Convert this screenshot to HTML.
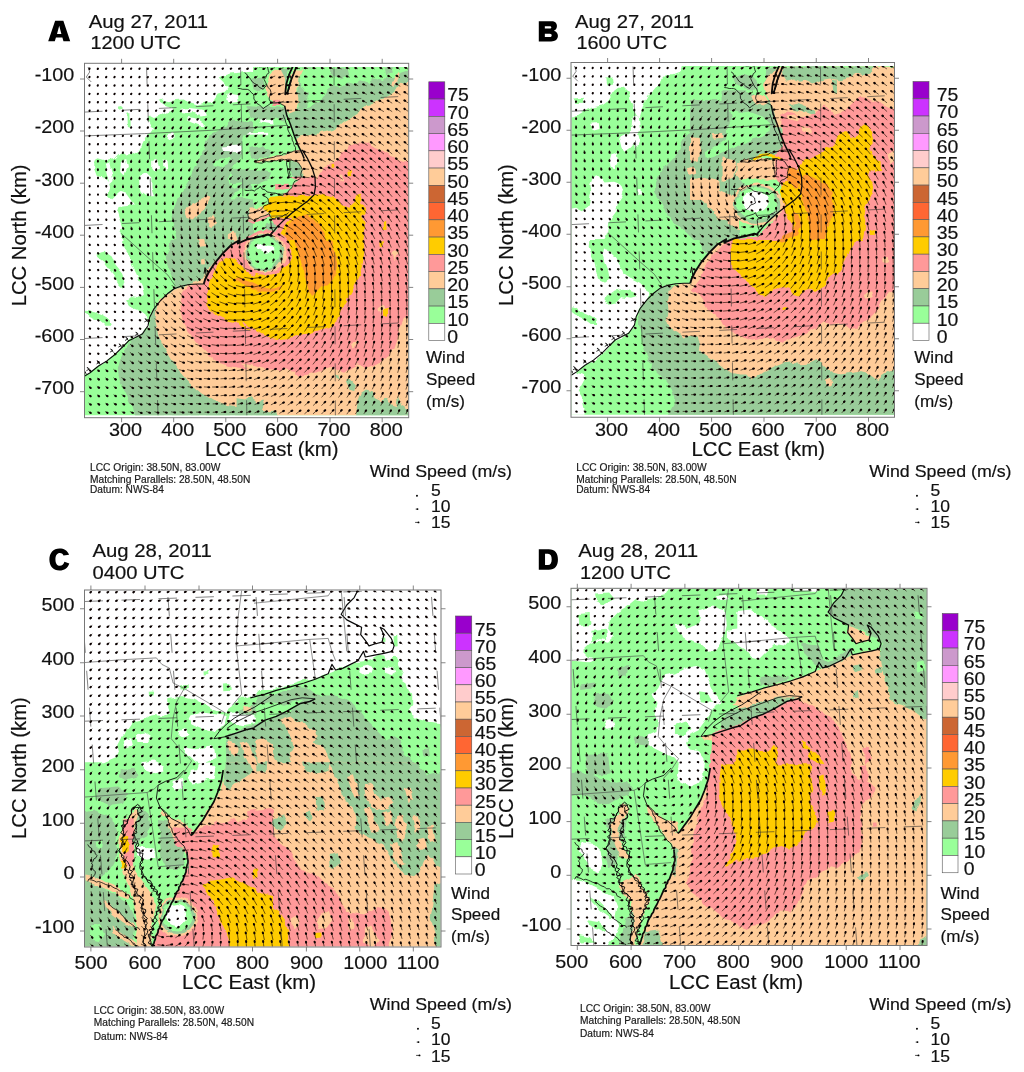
<!DOCTYPE html>
<html><head><meta charset="utf-8"><title>Wind fields</title>
<style>html,body{margin:0;padding:0;background:#fff}svg{display:block;filter:blur(0.35px)}text{font-family:"Liberation Sans",sans-serif;stroke:#111;stroke-width:0.18px}</style></head><body>
<svg width="1024" height="1072" viewBox="0 0 1024 1072">
<rect width="1024" height="1072" fill="#fff"/>
<defs><filter id="rgh" x="-5%" y="-5%" width="110%" height="110%"><feTurbulence type="fractalNoise" baseFrequency="0.11" numOctaves="2" seed="7" result="n"/><feDisplacementMap in="SourceGraphic" in2="n" scale="5" xChannelSelector="R" yChannelSelector="G"/></filter></defs>
<clipPath id="clipA"><rect x="85.00" y="66.90" width="323.20" height="348.40"/></clipPath>
<g clip-path="url(#clipA)">
<rect x="77.00" y="58.90" width="339.20" height="364.40" fill="#99ff99"/>
<g filter="url(#rgh)">
<path fill="#ffffff" d="M80.0,65.0L253.0,65.0L253.0,72.1L250.0,71.8L241.3,72.6L231.2,73.4L222.8,76.0L217.7,78.5L222.8,83.5L227.8,88.6L224.5,91.9L217.7,93.6L214.4,98.6L212.7,102.0L204.3,102.8L197.6,104.5L189.2,102.0L182.5,99.5L175.8,100.0L169.0,101.2L162.3,99.5L159.0,101.2L164.0,104.5L170.7,107.0L174.1,109.6L167.4,112.1L160.6,115.4L153.9,118.0L148.9,115.4L147.2,118.8L150.6,125.5L153.9,128.9L150.6,133.9L145.5,137.3L142.2,144.0L138.8,150.7L133.8,154.1L127.0,155.8L122.0,151.6L118.6,154.1L113.6,159.1L106.9,160.8L98.5,158.3L94.3,160.8L94.3,169.2L96.8,175.9L103.5,177.6L108.6,180.9L110.2,187.7L107.7,196.1L111.1,199.4L116.1,194.4L120.3,191.0L125.4,192.7L130.4,199.4L133.8,204.5L127.0,206.1L118.6,207.0L117.0,211.2L119.5,219.6L122.0,226.3L120.3,233.0L123.7,240.1L122.0,240.0L125.4,250.1L130.4,256.8L132.1,265.2L137.1,275.3L142.2,285.4L143.8,295.4L140.5,298.8L132.1,297.1L125.4,302.2L130.4,307.2L138.8,310.6L145.5,315.6L147.2,320.6L148.0,325.7L142.2,334.1L135.4,337.4L128.7,340.8L122.0,347.5L115.3,354.2L106.9,360.9L98.5,366.0L90.1,372.7L84.7,376.1L80.0,376.9Z"/>
<path fill="#99ff99" d="M96.8,253.4L105.2,251.8L111.9,256.8L115.3,265.2L122.0,273.6L125.4,282.0L123.7,288.7L118.6,283.7L113.6,275.3L108.6,268.6L103.5,261.8L96.8,256.8ZM85.9,310.6L93.4,312.2L101.8,315.6L110.2,320.6L111.9,325.7L105.2,325.7L98.5,320.6L90.1,317.3L85.9,313.9ZM118.3,106.7L122.3,105.9L124.0,109.6L120.3,110.7ZM127.5,113.8L130.4,112.9L130.7,127.2L127.9,128.9Z"/>
<path fill="#ffffff" d="M180.8,108.7L189.2,107.9L197.6,108.7L204.3,110.4L206.0,114.6L200.9,115.4L194.2,112.9L187.5,113.8L180.8,112.9ZM187.5,117.1L194.2,118.0L200.9,120.5L206.0,123.8L204.3,127.2L197.6,124.7L190.9,122.2L187.5,120.5ZM167.4,133.9L174.1,133.1L175.8,137.3L170.7,139.8L166.5,138.1ZM152.2,160.8L157.3,159.9L159.0,167.5L154.8,170.9L152.2,167.5ZM163.2,160.8L167.4,160.8L168.2,168.3L164.8,170.0L163.2,165.8ZM138.8,175.9L147.2,173.4L151.4,177.6L151.4,189.3L153.9,196.1L147.2,196.9L142.2,192.7L139.6,184.3ZM122.0,160.8L126.2,159.1L127.9,167.5L124.5,174.2L121.2,170.9ZM227.8,93.6L237.9,95.3L238.7,102.0L231.2,102.8L226.1,99.5ZM105.2,164.1L109.4,162.5L111.1,170.9L113.6,180.9L110.2,184.3L106.9,175.9Z"/>
<path fill="#99cc99" d="M253.0,240.1L250.0,240.0L240.0,397.9L245.0,399.6L250.1,396.2L256.8,401.3L263.5,399.6L265.2,404.6L261.8,409.7L270.2,411.3L277.0,410.5L278.6,416.4L250.0,416.4L133.8,416.4L132.1,408.0L128.7,399.6L123.7,389.5L119.5,379.4L117.8,369.3L120.3,359.3L123.7,350.9L128.7,344.1L135.4,339.1L142.2,334.1L148.0,327.4L149.7,317.3L153.9,308.9L160.6,300.5L167.4,293.8L174.9,287.0L174.1,278.6L170.7,271.9L167.4,265.2L165.7,256.8L169.0,248.4L170.7,240.0L177.4,240.1L175.8,229.7L172.4,222.9L171.6,216.2L174.1,207.8L177.4,199.4L182.5,192.7L187.5,184.3L190.9,175.9L194.2,167.5L197.6,160.8L202.6,154.1L205.1,147.4L206.0,140.6L209.3,135.6L216.1,132.2L222.8,128.9L229.5,124.7L234.5,121.3L241.3,122.2L250.0,121.3L253.0,121.3Z"/>
<path fill="#99ff99" d="M253.0,175.9L246.3,177.6L241.3,184.3L234.5,187.7L229.5,184.3L227.8,177.6L231.2,169.2L237.9,160.8L242.1,154.1L241.3,144.0L242.9,135.6L253.0,133.9ZM253.0,199.4L242.9,197.7L236.2,201.1L231.2,197.7L234.5,192.7L241.3,189.3L253.0,187.7ZM214.4,160.8L222.8,158.3L231.2,159.1L227.8,164.1L219.4,167.5L214.4,165.8Z"/>
<path fill="#ffffff" d="M222.8,146.5L231.2,145.7L241.3,144.8L242.1,149.9L232.9,151.6L224.5,150.7Z"/>
<path fill="#99cc99" d="M290.4,110.4L295.4,107.0L303.8,108.7L312.2,107.0L319.0,102.0L324.0,96.1L327.4,90.2L334.1,85.2L340.8,86.9L347.5,83.5L354.2,85.2L360.9,80.2L367.7,82.7L374.4,78.5L382.8,81.0L387.8,76.0L394.5,78.5L399.6,73.4L409.7,70.1L409.7,81.8L405.5,83.5L401.3,82.7L397.9,86.9L395.4,91.1L389.5,96.1L384.5,98.6L379.4,99.5L374.4,102.8L369.3,105.4L364.3,106.2L360.9,109.6L357.6,113.8L352.5,117.1L347.5,119.6L342.5,123.0L337.4,127.2L332.4,130.6L324.0,132.2L315.6,133.9L307.2,135.6L298.8,136.4L296.3,138.1L292.1,127.2L288.7,117.1ZM302.2,68.4L312.2,68.4L313.9,76.8L307.2,81.8L302.2,76.8ZM330.7,69.2L347.5,68.4L349.2,75.1L340.8,78.5L332.4,76.0ZM384.5,68.4L391.2,67.6L392.9,72.6L386.1,74.3ZM298.8,76.8L307.2,78.5L308.9,93.6L307.2,107.0L298.8,108.7L297.1,93.6ZM247.6,105.9L259.3,106.9L271.0,105.9L284.7,106.9L288.6,114.7L284.7,120.5L273.9,118.6L264.2,120.5L254.4,118.6L247.6,114.7ZM230.0,120.5L244.6,121.5L245.6,128.4L237.8,130.3L230.0,129.3ZM230.0,134.2L239.8,135.2L238.8,140.1L230.0,139.6ZM280.8,67.8L288.6,67.8L287.6,79.5L282.7,92.2L278.8,84.4L279.8,74.6ZM249.5,147.9L262.2,145.9L271.0,150.8L267.1,157.7L255.4,159.6L249.5,155.7ZM251.5,79.5L262.2,77.6L265.2,85.4L259.3,92.2L253.4,89.3ZM230.0,169.5L244.6,170.5L259.3,169.5L271.0,172.5L269.1,179.3L259.3,183.2L244.6,182.2L230.0,183.2ZM290.5,159.8L298.4,162.7L302.3,169.5L301.3,177.3L297.4,180.3L292.5,177.3L290.5,169.5ZM230.0,198.8L241.7,197.9L249.5,201.8L248.6,208.6L239.8,210.5L230.0,209.6ZM230.0,218.4L239.8,217.4L247.6,220.3L246.6,228.1L241.7,235.9L233.9,237.9L230.0,236.9ZM267.1,224.2L275.9,222.3L276.9,227.1L270.0,235.9L264.2,233.0Z"/>
<path fill="#ffffff" d="M259.3,119.6L273.0,120.1L273.5,124.5L267.1,123.5L259.3,122.5ZM247.6,132.3L269.1,131.8L269.1,134.2L247.6,134.7ZM230.0,145.0L239.8,144.5L240.7,152.8L230.0,153.3Z"/>
<path fill="#99ff99" d="M298.4,69.8L314.0,69.8L315.0,79.5L313.0,92.2L304.2,92.2L300.3,84.4Z"/>
<path fill="#ffcc99" d="M411.0,82.0L411.0,420.0L265.1,420.0L257.8,410.0L244.5,407.0L227.9,405.0L214.5,401.0L201.2,393.3L189.6,383.3L179.6,371.7L171.2,358.4L162.9,345.1L157.9,333.4L155.3,320.1L156.6,308.4L159.6,300.1L166.2,295.1L174.6,290.1L184.6,285.8L194.6,282.4L203.9,278.5L207.9,270.1L214.5,261.8L221.2,255.1L227.9,248.5L234.5,244.5L244.5,240.2L254.5,237.8L264.5,235.8L271.8,236.5L271.9,236.4L278.6,229.7L283.7,222.9L290.4,214.5L298.8,206.1L307.2,199.4L313.9,194.4L314.8,187.7L314.8,177.6L312.2,169.2L307.2,162.5L303.0,154.1L298.8,145.7L296.3,138.1L298.8,136.4L307.2,135.6L315.6,133.9L324.0,132.2L332.4,130.6L337.4,127.2L342.5,123.0L347.5,119.6L352.5,117.1L357.6,113.8L360.9,109.6L364.3,106.2L369.3,105.4L374.4,102.8L379.4,99.5L384.5,98.6L389.5,96.1L395.4,91.1L397.9,86.9L401.3,82.7L405.5,83.5L409.7,81.8ZM273.0,69.8L280.8,69.8L284.7,77.6L285.7,93.2L287.6,92.2L290.5,81.5L293.5,69.8L302.3,70.7L298.4,79.5L296.4,89.3L298.4,99.1L296.4,110.8L288.6,113.7L284.7,106.9L281.8,103.0L273.9,102.0L269.1,98.1L266.1,89.3L269.1,79.5L271.0,73.7Z"/>
<path fill="#ff9999" d="M273.0,100.0L279.8,99.8L280.0,104.9L273.2,105.1Z"/>
<path fill="#ffcc99" d="M255.4,161.7L262.2,159.8L271.0,157.8L278.8,155.9L286.6,153.9L296.4,151.0L302.3,150.0L307.1,157.8L312.0,167.6L308.1,169.5L302.3,169.5L298.4,162.7L290.5,159.3L284.7,159.8L273.9,160.7L264.2,162.2L255.4,162.9ZM301.3,169.5L312.0,167.6L315.0,177.3L308.1,179.3L301.3,178.3ZM249.5,208.6L262.2,207.6L269.1,212.5L262.2,217.4L253.4,220.3L248.6,218.4Z"/>
<path fill="#ff9999" d="M247.6,218.4L253.4,220.5L262.2,217.4L269.1,213.5L269.1,216.4L262.2,219.8L253.4,222.8L247.6,220.3Z"/>
<path fill="#ffcc99" d="M391.2,85.2L394.5,76.8L397.9,71.8L399.6,73.4L397.1,80.2L393.7,86.9ZM187.5,206.1L194.2,202.8L200.9,199.4L207.7,194.4L211.0,196.1L207.7,202.8L204.3,209.5L197.6,214.5L192.5,219.6L187.5,217.9L185.0,211.2ZM207.7,217.9L214.4,214.5L216.1,221.3L212.7,228.0L208.5,226.3ZM227.8,234.7L234.5,231.3L237.9,240.1L227.8,240.1ZM197.6,240.0L204.3,240.0L205.1,245.9L200.1,246.7ZM200.9,258.5L204.3,258.1L205.1,263.2L201.3,263.5Z"/>
<path fill="#99cc99" d="M355.9,416.4L357.6,401.3L360.9,392.9L366.0,389.5L372.7,391.2L374.4,397.9L381.1,401.3L386.1,397.9L391.2,404.6L396.2,406.3L397.9,396.2L401.3,404.6L409.7,409.7L409.7,416.4ZM236.6,397.9L245.0,399.6L250.1,396.2L256.8,401.3L263.5,399.6L265.2,404.6L261.8,409.7L270.2,411.3L277.0,410.5L278.6,416.4L236.6,416.4ZM345.8,381.1L350.9,379.4L355.9,384.5L354.2,391.2L349.2,389.5L347.5,384.5ZM335.8,373.5L339.1,374.4L340.8,379.4L337.4,377.7ZM339.1,159.1L344.1,158.3L345.0,163.3L340.8,165.0ZM320.6,175.9L327.4,174.2L329.0,180.9L324.0,184.3Z"/>
<path fill="#ff9999" d="M315.6,180.9L317.3,177.6L320.6,172.5L324.0,167.5L329.0,164.1L334.1,162.5L337.4,159.1L340.8,155.8L344.1,150.7L350.9,145.7L357.6,142.3L367.7,144.0L374.4,147.4L382.8,150.7L391.2,155.8L397.9,159.1L402.9,160.8L409.7,162.5L409.7,315.6L403.8,319.0L399.6,327.4L397.9,337.4L394.5,347.5L387.8,355.9L379.4,362.6L372.7,366.0L364.3,367.7L357.6,364.3L350.9,367.7L344.1,372.7L339.1,371.0L332.4,367.7L324.0,369.3L315.6,372.7L307.2,374.4L298.8,376.1L293.8,371.0L287.0,369.3L278.6,370.2L270.2,369.3L261.8,368.5L253.4,366.0L246.7,364.3L240.0,363.5L250.0,368.5L239.6,367.7L229.5,366.0L219.4,362.6L209.3,355.9L200.9,347.5L194.2,339.1L187.5,330.7L182.5,320.6L180.8,310.6L180.8,300.5L183.3,292.1L187.5,286.2L197.6,284.0L203.5,284.5L207.7,273.6L214.4,263.5L222.8,253.4L231.2,245.0L239.6,240.0L271.9,236.4L278.6,229.7L283.7,222.9L290.4,214.5L298.8,206.1L307.2,199.4L313.9,194.4L314.8,187.7ZM288.6,177.3L302.3,176.4L315.0,177.3L315.4,187.1L314.0,195.9L288.6,196.4L282.7,195.4L287.6,193.0L290.5,189.1L293.5,183.2L297.4,180.3ZM274.9,184.2L288.6,183.7L288.6,189.1L275.9,189.6ZM272.0,218.4L284.7,217.4L292.5,212.5L300.3,206.6L308.1,200.8L314.0,194.9L316.9,195.9L311.1,202.7L303.2,208.6L295.4,214.5L287.6,221.3L279.8,229.1L273.0,237.9L270.0,235.9L276.9,227.1Z"/>
<path fill="#ffcc99" d="M391.2,253.4L396.2,250.1L398.7,253.4L393.7,260.2ZM377.7,307.2L382.8,303.8L384.5,308.9L380.3,313.9ZM350.9,344.1L357.6,340.8L358.4,344.1L352.5,347.5ZM340.8,175.9L343.3,174.2L344.1,180.9L341.6,182.6Z"/>
<path fill="#ffcc00" d="M269.1,196.9L278.6,196.1L288.7,195.2L298.8,194.4L307.2,195.2L313.9,194.4L320.6,194.4L327.4,196.1L334.1,197.7L340.8,201.1L344.1,206.1L349.2,207.8L354.2,204.5L355.9,194.4L360.9,192.7L362.6,199.4L360.9,204.5L366.0,207.8L364.3,212.9L360.9,216.2L364.3,221.3L365.1,228.0L364.3,234.7L363.5,240.1L363.5,240.0L364.3,250.1L363.5,260.2L360.9,270.2L357.6,278.6L354.2,287.0L349.2,295.4L344.1,303.8L340.8,310.6L337.4,319.0L334.1,324.0L327.4,327.4L320.6,330.7L312.2,333.2L303.8,334.1L295.4,336.6L287.0,338.3L278.6,339.1L270.2,337.4L261.8,334.1L253.4,329.0L246.7,324.0L240.0,320.6L250.0,330.7L241.3,327.4L236.2,322.3L227.8,320.6L217.7,315.6L209.3,310.6L206.0,303.8L207.7,293.8L209.3,282.0L214.4,270.2L219.4,261.8L226.1,256.8L231.2,258.5L239.6,263.5L248.0,271.9L253.0,276.1L280.8,231.1L288.6,222.3L293.5,217.4L284.7,218.4L276.9,217.4L271.0,218.4L269.1,213.5L263.2,208.6L264.2,205.7L269.1,203.7L268.1,198.8ZM347.5,171.7L351.7,171.2L352.2,175.9L347.8,176.2ZM331.6,164.1L334.1,163.8L334.4,167.5L331.7,167.8ZM382.8,222.9L386.1,222.1L386.5,229.7L383.1,230.0ZM382.8,308.9L387.8,308.0L388.2,315.6L383.1,315.9ZM379.4,241.7L382.8,241.3L383.1,246.7L379.8,247.1Z"/>
<path fill="#ff9999" d="M236.2,240.0L253.0,240.0L253.0,273.6L248.0,271.9L239.6,263.5L231.2,256.8L227.8,251.8L231.2,245.0Z"/>
<path fill="#ff9933" d="M282.0,240.1L283.7,234.7L287.0,228.0L292.1,221.3L298.8,216.2L307.2,215.4L313.9,219.6L319.0,226.3L324.0,233.0L327.4,240.1L332.4,240.0L334.1,248.4L335.8,256.8L337.4,265.2L335.8,273.6L332.4,280.3L327.4,285.4L322.3,285.4L319.0,288.7L315.6,293.8L312.2,297.1L308.9,292.1L307.2,283.7L303.8,273.6L302.2,265.2L298.8,256.8L297.1,248.4L295.4,240.0ZM240.0,278.6L250.1,282.0L260.2,287.0L270.2,288.7L278.6,287.9L283.7,285.4L278.6,290.4L270.2,292.1L260.2,291.2L250.1,288.7L240.0,283.7L233.3,279.5Z"/>
<path fill="#ff9999" d="M291.5,252.5L290.6,258.3L288.1,263.8L284.0,268.4L278.8,272.0L272.6,274.2L266.0,275.0L259.4,274.2L253.2,272.0L248.0,268.4L243.9,263.8L241.4,258.3L240.5,252.5L241.4,246.7L243.9,241.2L248.0,236.6L253.2,233.0L259.4,230.8L266.0,230.0L272.6,230.8L278.8,233.0L284.0,236.6L288.1,241.2L290.6,246.7Z"/>
<path fill="#ffcc99" d="M286.5,252.5L285.8,257.7L283.6,262.5L280.2,266.6L275.8,269.8L270.6,271.8L265.0,272.5L259.4,271.8L254.2,269.8L249.8,266.6L246.4,262.5L244.2,257.7L243.5,252.5L244.2,247.3L246.4,242.5L249.8,238.4L254.2,235.2L259.4,233.2L265.0,232.5L270.6,233.2L275.8,235.2L280.2,238.4L283.6,242.5L285.8,247.3Z"/>
<path fill="#99cc99" d="M283.5,252.5L282.9,257.3L281.0,261.8L277.9,265.6L274.0,268.5L269.4,270.4L264.5,271.0L259.6,270.4L255.0,268.5L251.1,265.6L248.0,261.8L246.1,257.3L245.5,252.5L246.1,247.7L248.0,243.2L251.1,239.4L255.0,236.5L259.6,234.6L264.5,234.0L269.4,234.6L274.0,236.5L277.9,239.4L281.0,243.2L282.9,247.7Z"/>
<path fill="#99ff99" d="M280.0,252.0L279.5,256.3L277.9,260.2L275.3,263.7L272.0,266.3L268.1,267.9L264.0,268.5L259.9,267.9L256.0,266.3L252.7,263.7L250.1,260.2L248.5,256.3L248.0,252.0L248.5,247.7L250.1,243.8L252.7,240.3L256.0,237.7L259.9,236.1L264.0,235.5L268.1,236.1L272.0,237.7L275.3,240.3L277.9,243.8L279.5,247.7Z"/>
<path fill="#ffffff" d="M255.5,244.0L272.5,246.0L273.5,251.0L266.5,253.0L258.5,250.0Z"/>
</g>
<path fill="none" stroke="#0a0a0a" stroke-width="1.8" stroke-linejoin="round" d="M297.4,63.9L294.5,71.7L290.5,81.5L287.6,92.2L285.2,94.2L286.2,84.4L289.1,74.6L293.0,65.9L294.0,63.9"/>
<path fill="none" stroke="#0a0a0a" stroke-width="1.0" stroke-linejoin="round" d="M289.6,74.6L291.5,79.5L290.1,85.4L288.6,90.3"/>
<path fill="none" stroke="#0a0a0a" stroke-width="1.5" stroke-linejoin="round" d="M284.7,105.9L286.6,114.7L290.5,124.5L294.5,136.2L298.4,145.9L302.3,153.8L304.2,158.6"/>
<path fill="none" stroke="#0a0a0a" stroke-width="0.8" stroke-linejoin="round" d="M283.2,114.7L284.0,117.2L285.1,119.5L285.7,122.1L286.6,124.5L287.9,126.4L287.7,128.9L288.4,131.1L289.5,133.1L290.5,135.2L292.0,137.4L292.2,140.1L293.4,142.4L294.0,145.0L295.5,147.4L295.5,150.5L297.4,152.8"/>
<path fill="none" stroke="#0a0a0a" stroke-width="0.8" stroke-linejoin="round" d="M267.1,65.9L267.8,68.1L268.3,70.4L269.1,72.7L266.8,74.5L265.9,77.3L264.2,79.5L265.6,82.5L267.1,85.4L268.3,87.7L270.2,89.7L271.0,92.2L270.3,94.5L269.5,96.7L269.1,99.1L270.1,101.3L272.0,103.0L275.9,103.0L278.5,102.7L280.8,103.9L284.7,105.9"/>
<path fill="none" stroke="#0a0a0a" stroke-width="0.8" stroke-linejoin="round" d="M271.0,103.0L269.1,104.5L267.1,105.9L265.0,107.1L263.2,108.8L261.5,106.7L259.3,104.9L256.9,103.4L255.4,101.0L253.9,99.0L253.9,96.5L253.4,94.2L251.2,92.5L249.5,90.3L247.3,89.4L245.0,89.3L242.7,89.3L240.3,88.6L237.8,88.3"/>
<path fill="none" stroke="#0a0a0a" stroke-width="0.8" stroke-linejoin="round" d="M244.6,72.7L246.6,74.0L247.7,76.2L249.5,77.6L250.9,79.7L252.3,81.9L254.4,83.4L257.2,84.9L259.3,87.3L263.2,89.3L264.8,87.0L267.1,85.4"/>
<path fill="none" stroke="#0a0a0a" stroke-width="0.8" stroke-linejoin="round" d="M254.4,63.9L257.2,64.8L259.3,66.8L262.3,66.7L265.2,65.9L267.1,65.9"/>
<path fill="none" stroke="#0a0a0a" stroke-width="1.3" stroke-linejoin="round" d="M302.3,150.0L307.1,157.8L312.0,167.6L315.0,177.3L315.4,187.1L314.0,194.9L308.1,200.8L300.3,206.6L292.5,212.5L284.7,219.3L276.9,227.1L270.0,235.9"/>
<path fill="none" stroke="#0a0a0a" stroke-width="0.8" stroke-linejoin="round" d="M255.4,161.7L257.6,160.8L259.9,160.4L262.2,159.8L264.4,159.1L266.6,158.7L268.8,158.1L271.0,157.8L273.7,157.4L276.1,156.1L278.8,155.9L281.5,155.4L283.8,153.7L286.6,153.9L289.0,152.8L291.4,152.2L293.8,151.1L296.4,151.0L299.4,150.9L302.3,150.0"/>
<path fill="none" stroke="#0a0a0a" stroke-width="0.8" stroke-linejoin="round" d="M255.4,162.7L257.6,162.6L259.8,163.0L262.0,163.2L264.2,162.2L266.6,161.5L269.1,161.9L271.6,161.5L273.9,160.7L276.7,160.8L279.3,159.6L281.9,159.2L284.7,159.8L287.6,159.3L290.5,159.3L293.0,160.8L295.9,161.1L298.4,162.7L299.7,165.0L301.2,167.1L302.3,169.5L301.3,172.1L300.8,174.6L301.3,177.3L299.4,179.0L297.4,180.3L294.9,181.0L293.5,183.2L292.7,186.5L290.5,189.1L288.6,190.7L287.6,193.0L284.9,193.6L282.7,195.4L280.1,195.3L277.9,193.9L275.0,193.1L272.0,193.0L269.6,192.4L267.1,192.0L265.1,189.8L262.2,189.1L260.3,186.1L258.7,188.2L256.3,189.3L254.4,191.0L252.0,190.1L249.6,190.3L247.1,190.6L244.6,190.0"/>
<path fill="none" stroke="#0a0a0a" stroke-width="0.8" stroke-linejoin="round" d="M263.2,195.9L265.9,196.9L268.1,198.8L268.3,201.3L269.1,203.7L266.7,205.0L264.2,205.7L262.2,208.6L259.9,210.4L257.0,211.2L254.4,212.5L252.1,212.8L249.9,213.2L247.6,213.5L248.1,215.9L248.6,218.4L251.2,218.9L253.4,220.3L255.5,218.9L258.0,218.7L259.9,217.1L262.2,216.4L264.6,215.7L267.0,214.9L269.1,213.5L270.0,216.3L272.0,218.4L274.4,218.8L276.5,217.2L278.8,217.4L282.7,216.4L284.4,214.7L286.9,214.2L288.6,212.5"/>
<path fill="none" stroke="#0a0a0a" stroke-width="0.8" stroke-linejoin="round" d="M286.6,159.8L286.6,162.2L286.6,164.7L287.3,167.1L287.6,169.5L287.9,172.1L288.5,174.7L288.6,177.3L290.1,175.0L289.5,172.0L290.5,169.5L289.8,167.4L289.9,165.2L289.8,163.0L290.1,160.7"/>
<path fill="none" stroke="#0a0a0a" stroke-width="0.8" stroke-linejoin="round" d="M272.0,218.4L270.8,221.2L271.0,224.2L271.3,226.6L271.9,228.9L273.0,231.1L270.9,233.1L270.0,235.9"/>
<path fill="none" stroke="#0a0a0a" stroke-width="1.9" stroke-linejoin="round" d="M271.8,235.8L267.8,234.5L259.5,236.8L247.8,239.2L237.8,243.5L239.6,240.0L231.2,245.0L222.8,253.4L214.4,263.5L208.5,272.8L205.1,279.5L203.8,284.0"/>
<path fill="none" stroke="#0a0a0a" stroke-width="1.1" stroke-linejoin="round" d="M203.8,284.0L197.6,284.0L189.2,284.5L180.8,286.2L174.1,288.7L167.4,293.8L160.6,300.5L153.9,308.9L149.7,317.3L148.0,325.7L142.2,334.1L135.4,337.4L128.7,340.8L122.0,347.5L115.3,354.2L106.9,360.9L98.5,366.0L90.1,372.7L84.7,376.1"/>
<path fill="none" stroke="#0a0a0a" stroke-width="1.0" stroke-linejoin="round" d="M206.3,276.1L205.1,267.7L204.0,273.6"/>
<path fill="none" stroke="#0a0a0a" stroke-width="0.8" stroke-linejoin="round" d="M148.0,322.3L145.0,318.6L147.4,320.3L144.3,322.0"/>
<path fill="none" stroke="#0a0a0a" stroke-width="0.8" stroke-linejoin="round" d="M138.8,335.8L135.8,332.1L138.1,333.7L135.1,335.4"/>
<path fill="none" stroke="#0a0a0a" stroke-width="0.8" stroke-linejoin="round" d="M128.7,340.8L125.7,337.1L128.0,338.8L125.0,340.5"/>
<path fill="none" stroke="#0a0a0a" stroke-width="0.8" stroke-linejoin="round" d="M122.0,347.5L119.0,343.8L121.3,345.5L118.3,347.2"/>
<path fill="none" stroke="#0a0a0a" stroke-width="0.8" stroke-linejoin="round" d="M113.6,352.5L110.6,348.9L112.9,350.5L109.9,352.2"/>
<path fill="none" stroke="#0a0a0a" stroke-width="0.8" stroke-linejoin="round" d="M100.2,364.3L97.1,360.6L99.5,362.3L96.5,364.0"/>
<path fill="none" stroke="#0a0a0a" stroke-width="0.8" stroke-linejoin="round" d="M90.1,371.0L87.1,367.3L89.4,369.0L86.4,370.7"/>
<path fill="none" stroke="#0a0a0a" stroke-width="0.8" stroke-linejoin="round" d="M86.7,374.4L83.7,370.7L86.0,372.4L83.0,374.1"/>
<path fill="none" stroke="#333" stroke-width="0.6" stroke-linejoin="round" d="M84.7,135.9L144.6,133.6L211.2,130.3L287.8,125.3"/>
<path fill="none" stroke="#333" stroke-width="0.6" stroke-linejoin="round" d="M121.3,233.5L137.9,248.5L154.6,263.5L167.9,275.1L175.2,285.8"/>
<path fill="none" stroke="#333" stroke-width="0.6" stroke-linejoin="round" d="M88.0,66.7L89.7,72.0L86.3,77.0L91.3,82.0"/>
<line x1="84.5" y1="112.1" x2="408.7" y2="96.1" stroke="#333" stroke-width="0.6" stroke-dasharray="17.6 19.4" stroke-dashoffset="-0.5"/>
<line x1="84.5" y1="225.4" x2="408.7" y2="209.4" stroke="#333" stroke-width="0.6" stroke-dasharray="17.6 19.4" stroke-dashoffset="-0.5"/>
<line x1="84.5" y1="338.5" x2="408.7" y2="322.5" stroke="#333" stroke-width="0.6" stroke-dasharray="17.6 19.4" stroke-dashoffset="-0.5"/>
<line x1="146.4" y1="63.3" x2="158.1" y2="417.7" stroke="#333" stroke-width="0.6" stroke-dasharray="18 19" stroke-dashoffset="-4.0"/>
<line x1="240.5" y1="63.3" x2="246.9" y2="417.7" stroke="#333" stroke-width="0.6" stroke-dasharray="18 19" stroke-dashoffset="-4.0"/>
<line x1="334.0" y1="63.3" x2="335.4" y2="417.7" stroke="#333" stroke-width="0.6" stroke-dasharray="18 19" stroke-dashoffset="-4.0"/>
</g>
<g clip-path="url(#clipA)">
<path d="M89.5 68.8l.3-.7M97.8 68.8l.3-.7M106.1 68.8l.3-.7M114.5 68.8l.3-.7M122.8 68.8l.4-.7M131.1 68.7l.4-.7M139.5 68.7l.4-.7M147.8 68.7l.4-.7M156.1 68.7l.5-.7M164.5 68.7l.5-.6M172.8 68.7l.5-.6M181.1 68.7l.5-.6M189.5 68.7l.5-.6M197.8 68.7l.6-.6M206.1 68.7l.6-.5M214.5 68.7l.6-.5M222.7 68.7l.7-.6M231 68.7l.9-.6M239.3 68.7l1.1-.7M247.5 68.8l1.3-.8M255.5 68.9l2-1M263.6 69l2.4-1.1M271.5 69.1l3.3-1.4M279.7 69l3.8-1.2M288.1 68.5l3.5-.2M296.5 68.2l3.5 .5M305.1 68.1l2.9 .5M313.6 68.1l2.6 .6M322 68.1l2.5 .6M330.2 68l2.9 .8M338.3 67.9l3.2 1M346.9 67.9l2.8 1M355.4 67.9l2.4 .9M363.8 67.9l2.3 1M372.2 67.9l2.3 1.1M380.4 67.8l2.5 1.2M388.6 67.7l2.8 1.4M397 67.7l2.6 1.5M405.4 67.6l2.6 1.5M89.5 77.2l.3-.7M97.8 77.2l.3-.7M106.1 77.2l.3-.7M114.5 77.1l.3-.7M122.8 77.1l.3-.7M131.1 77.1l.4-.7M139.5 77.1l.4-.7M147.8 77.1l.4-.7M156.1 77.1l.4-.7M164.5 77.1l.5-.6M172.8 77.1l.5-.6M181.1 77.1l.5-.6M189.5 77.1l.5-.6M197.8 77.1l.6-.6M206.1 77.1l.6-.5M214.4 77.1l.7-.6M222.5 77.2l1.2-.9M230.7 77.4l1.6-1.1M238.9 77.4l1.8-1.2M247.1 77.4l2-1.2M255.3 77.4l2.5-1.3M263.4 77.4l2.8-1.3M271.2 77.6l4-1.6M279.4 77.5l4.3-1.3M287.9 76.9l4-.2M296.3 76.5l3.8 .6M305.2 76.5l2.7 .5M313.7 76.5l2.5 .6M322 76.5l2.5 .7M330.2 76.4l2.8 .8M338.4 76.3l3 1M346.9 76.3l2.8 1M355.4 76.3l2.5 1M363.7 76.2l2.5 1.1M372 76.2l2.6 1.2M380.3 76.1l2.7 1.4M388.5 75.9l3.1 1.7M396.7 75.8l3.3 1.9M405.1 75.8l3.2 2M89.5 85.5l.3-.8M97.8 85.5l.3-.7M106.1 85.5l.3-.7M114.5 85.5l.3-.7M122.8 85.5l.3-.7M131.1 85.5l.4-.7M139.5 85.5l.4-.7M147.8 85.5l.4-.7M156.1 85.5l.4-.7M164.5 85.5l.4-.7M172.8 85.5l.5-.6M181.1 85.5l.5-.6M189.5 85.5l.5-.6M197.8 85.5l.5-.6M206.1 85.4l.6-.6M214.4 85.5l.7-.6M222.5 85.7l1.2-1M230.5 85.8l1.9-1.4M238.8 85.9l2.1-1.4M247 85.9l2.3-1.4M255 85.9l2.9-1.5M263.2 86l3.4-1.6M271 86.1l4.5-1.8M279.2 85.9l4.6-1.4M287.7 85.3l4.4-.2M296.3 84.9l3.9 .6M305.2 84.9l2.7 .5M313.7 84.9l2.5 .6M322 84.8l2.5 .7M330.2 84.7l2.8 .9M338.4 84.6l3 1.1M346.8 84.6l3.1 1.2M355.1 84.5l3.1 1.3M363.4 84.4l3.2 1.5M371.7 84.4l3.2 1.6M380 84.3l3.3 1.7M388.3 84.2l3.5 2M396.4 84l3.9 2.3M404.7 83.9l4 2.5M89.5 93.9l.2-.8M97.8 93.9l.3-.8M106.2 93.9l.3-.7M114.5 93.9l.3-.7M122.8 93.9l.3-.7M131.2 93.9l.3-.7M139.5 93.9l.4-.7M147.8 93.9l.4-.7M156.1 93.9l.4-.7M164.5 93.9l.5-.8M172.8 93.9l.5-.8M181.1 93.9l.6-.8M189.5 93.9l.6-.7M197.8 93.9l.6-.6M206.1 93.9l.6-.6M214.3 94l.9-.8M222.4 94.1l1.4-1.1M230.7 94.1l1.5-1.1M238.9 94.2l1.9-1.3M247.1 94.2l2.2-1.3M255.3 94.2l2.5-1.3M263.3 94.3l3.1-1.4M271 94.4l4.4-1.8M279.1 94.3l4.8-1.4M287.4 93.6l4.9-.2M296.1 93.2l4.2 .7M305 93.2l3.1 .6M313.6 93.2l2.6 .6M321.8 93.1l2.9 .8M329.9 93l3.4 1.1M338.2 92.9l3.5 1.3M346.5 92.8l3.5 1.4M354.9 92.8l3.5 1.6M363.3 92.7l3.5 1.7M371.6 92.7l3.5 1.8M379.9 92.6l3.5 2M388.1 92.4l3.8 2.3M396.3 92.2l4.2 2.6M404.6 92.1l4.3 2.8M89.5 102.3l.2-.8M97.8 102.3l.2-.8M106.2 102.3l.3-.8M114.5 102.3l.3-.8M122.8 102.4l.3-.8M131.2 102.3l.3-.7M139.5 102.3l.3-.7M147.8 102.3l.4-.7M156.1 102.3l.4-.8M164.4 102.5l.7-1.1M172.6 102.7l1-1.4M180.9 102.7l1-1.4M189.3 102.5l.9-1.1M197.6 102.4l.9-1M205.9 102.5l1.1-1.1M214 102.6l1.5-1.4M222.3 102.7l1.7-1.5M230.7 102.5l1.5-1.2M238.9 102.6l1.8-1.3M247 102.6l2.3-1.4M255.3 102.6l2.5-1.3M263.4 102.6l2.8-1.3M271.2 102.7l4-1.6M279.2 102.6l4.7-1.4M287.4 102l5-.1M296.1 101.6l4.3 .7M304.9 101.6l3.4 .7M313.4 101.6l3 .8M321.6 101.4l3.4 1M329.8 101.3l3.6 1.2M338.2 101.2l3.6 1.4M346.5 101.2l3.5 1.5M354.9 101.1l3.5 1.7M363.2 101l3.7 1.9M371.4 100.9l3.9 2.1M379.6 100.7l4.1 2.4M387.9 100.6l4.3 2.6M396.2 100.5l4.3 2.8M404.6 100.5l4.3 2.9M89.5 110.7l.2-.8M97.8 110.7l.2-.8M106.2 110.7l.2-.8M114.5 110.7l.3-.8M122.8 110.8l.4-1M131.2 110.8l.3-.9M139.5 110.7l.3-.7M147.8 110.7l.4-.8M156.1 110.8l.5-.9M164.3 111l.7-1.3M172.5 111.2l1.1-1.8M180.8 111.2l1.2-1.7M189.2 111l1-1.3M197.6 111l1.1-1.3M205.7 111.1l1.4-1.5M213.9 111.2l1.8-1.7M222.2 111.1l1.9-1.6M230.5 111.1l1.9-1.5M238.8 111.1l2.1-1.5M246.9 111.1l2.6-1.6M255 111.1l3-1.6M263.2 111.1l3.2-1.5M271.4 111l3.6-1.4M279.5 110.9l4-1.2M287.6 110.4l4.5-.2M296.2 110l4.1 .7M304.8 109.9l3.6 .8M313.2 109.8l3.5 1M321.4 109.7l3.6 1.2M329.8 109.7l3.6 1.3M338.2 109.6l3.6 1.5M346.5 109.5l3.6 1.6M354.7 109.4l3.8 1.9M362.9 109.2l4.2 2.2M371.1 109.1l4.4 2.5M379.5 109l4.4 2.7M387.9 108.9l4.3 2.8M396.2 108.9l4.3 2.9M404.6 108.8l4.2 3M89.5 119.1l.2-.8M97.9 119.1l.2-.8M106.2 119.1l.2-.8M114.5 119.1l.2-.8M122.8 119.2l.3-.9M131.1 119.2l.4-1.1M139.5 119.1l.3-.8M147.8 119.3l.5-1.2M156 119.5l.8-1.6M164.2 119.7l1-1.9M172.4 119.8l1.2-2.1M180.8 119.7l1.3-2M189.2 119.5l1.1-1.5M197.5 119.4l1.1-1.4M205.7 119.5l1.4-1.6M213.9 119.6l1.8-1.8M222.2 119.6l1.9-1.7M230.4 119.6l2.2-1.8M238.6 119.6l2.4-1.7M246.8 119.5l2.6-1.7M255.1 119.5l2.8-1.5M263.5 119.3l2.7-1.2M271.8 119.3l2.8-1.1M280 119.2l3.2-1M288.1 118.9l3.6-.3M296.3 118.4l3.8 .6M304.7 118.3l3.7 .9M313.1 118.2l3.7 1.1M321.4 118.1l3.6 1.2M329.8 118l3.6 1.4M338.1 117.9l3.7 1.6M346.3 117.8l4 1.9M354.5 117.6l4.3 2.2M362.7 117.5l4.5 2.5M371.1 117.4l4.4 2.7M379.5 117.3l4.4 2.8M387.9 117.3l4.3 2.9M396.3 117.2l4.2 3M404.6 117.2l4.1 3.1M89.5 127.5l.1-.8M97.9 127.5l.2-.8M106.2 127.5l.2-.8M114.5 127.5l.2-.8M122.9 127.5l.3-.9M131.2 127.6l.3-1M139.5 127.5l.3-.8M147.8 127.7l.5-1.2M155.9 128.1l.9-2M164.2 128.2l1.1-2.2M172.5 128.2l1.2-2.1M180.8 128.2l1.3-2.1M189.1 128.1l1.3-1.9M197.4 127.9l1.3-1.7M205.7 128l1.5-1.8M213.8 128.1l1.9-2M222 128.2l2.3-2.1M230.1 128.2l2.7-2.3M238.3 128.2l2.9-2.1M246.8 128l2.8-1.8M255.4 127.7l2.3-1.2M263.8 127.6l2-.9M272.1 127.5l2.2-.9M280.3 127.5l2.5-.8M288.4 127.3l3-.4M296.4 126.8l3.7 .5M304.7 126.6l3.8 .9M313 126.5l3.8 1.2M321.4 126.4l3.8 1.4M329.6 126.3l4 1.6M337.8 126.1l4.3 1.9M346 126l4.5 2.2M354.4 125.9l4.5 2.5M362.8 125.8l4.5 2.6M371.1 125.7l4.4 2.8M379.5 125.7l4.3 2.9M387.9 125.6l4.2 3M396.3 125.5l4.1 3.1M404.7 125.5l4.1 3.2M89.5 135.9l.1-.8M97.9 135.9l.1-.8M106.2 135.9l.2-.8M114.5 135.9l.2-.8M122.9 135.9l.2-.8M131.2 135.9l.2-.8M139.5 135.9l.3-.9M147.7 136.3l.6-1.6M155.9 136.6l.9-2.2M164.2 136.5l.9-2.1M172.6 136.4l1-1.9M180.8 136.5l1.2-2.1M189.1 136.5l1.3-2.1M197.4 136.5l1.5-2.1M205.5 136.6l1.8-2.2M213.6 136.8l2.3-2.5M221.8 136.8l2.6-2.6M230.1 136.7l2.8-2.4M238.4 136.5l2.8-2.1M247 136.2l2.4-1.5M255.5 136l2-1.1M263.8 136l2.1-1M272 135.9l2.3-.9M280.3 135.8l2.4-.7M288.5 135.7l2.7-.5M296.3 135.3l3.8 .4M304.4 134.9l4.3 1.1M312.7 134.8l4.4 1.4M321 134.6l4.5 1.7M329.3 134.5l4.6 2M337.6 134.4l4.6 2.2M346 134.3l4.6 2.4M354.4 134.2l4.5 2.6M362.8 134.1l4.5 2.8M371.2 134l4.3 2.9M379.6 134l4.2 3M388 133.9l4.1 3.1M396.3 133.9l4.1 3.2M404.7 133.8l4 3.3M89.6 144.3l.1-.8M97.9 144.3l.1-.8M106.2 144.3l.1-.8M114.6 144.3l.2-.8M122.9 144.3l.2-.8M131.2 144.3l.2-.8M139.5 144.5l.4-1.3M147.7 144.9l.7-2.1M155.9 145l.9-2.3M164.2 145l.9-2.2M172.6 144.9l1-2.2M180.8 145l1.1-2.2M189.1 145l1.3-2.2M197.4 145l1.4-2.2M205.5 145.2l1.9-2.6M213.6 145.3l2.4-2.9M221.9 145.1l2.4-2.5M230.4 144.8l2.2-1.9M238.8 144.7l2.1-1.6M247 144.6l2.2-1.5M255.3 144.5l2.4-1.4M263.6 144.4l2.5-1.2M272 144.3l2.4-.9M280.3 144.2l2.5-.7M288.5 144.1l2.7-.5M296.3 143.7l3.9 .2M304.2 143.2l4.8 1.3M312.5 143l4.8 1.7M320.9 142.9l4.8 1.9M329.3 142.8l4.7 2.1M337.6 142.7l4.7 2.4M345.9 142.5l4.8 2.7M354.2 142.3l5 3M362.6 142.3l4.9 3.2M371.1 142.3l4.5 3.2M379.5 142.3l4.3 3.2M388 142.2l4.1 3.2M396.4 142.2l4 3.3M404.8 142.2l3.9 3.4M89.6 152.7l.1-.8M97.9 152.7l.1-.9M106.2 152.7l.1-.9M114.6 152.8l.2-1.1M122.9 152.9l.2-1.3M131.2 152.9l.3-1.4M139.4 153.2l.5-1.9M147.7 153.4l.7-2.4M156 153.4l.8-2.4M164.3 153.4l.8-2.3M172.6 153.4l1-2.3M180.9 153.4l1.1-2.3M189.1 153.4l1.2-2.2M197.4 153.4l1.5-2.4M205.4 153.7l2-2.9M213.6 153.7l2.3-2.9M222 153.4l2.2-2.4M230.5 153.1l1.9-1.8M238.9 153l1.9-1.5M247 153.1l2.4-1.6M255 153.1l3-1.7M263.3 153l3.2-1.5M271.7 152.8l2.9-1.1M280 152.7l3-.8M288.1 152.6l3.5-.6M296 152.3l4.4-.1M304.1 151.7l5 1.1M312.5 151.4l4.9 1.8M320.9 151.2l4.8 2M329.3 151.1l4.7 2.3M337.5 150.9l4.9 2.7M345.7 150.7l5.3 3.2M354 150.5l5.4 3.5M362.4 150.4l5.3 3.7M370.8 150.4l5 3.8M379.3 150.4l4.7 3.7M387.9 150.4l4.3 3.6M396.4 150.5l4 3.5M404.8 150.5l3.8 3.6M89.6 161.1l0-1M97.9 161.4l.1-1.5M106.2 161.4l.1-1.6M114.5 161.6l.2-1.8M122.9 161.6l.3-1.9M131.1 161.7l.4-2.1M139.4 161.8l.5-2.4M147.7 161.8l.5-2.3M156.1 161.6l.5-2M164.4 161.7l.6-2M172.6 161.8l.8-2.3M180.9 161.8l1-2.3M189.2 161.8l1.1-2.4M197.3 162l1.6-2.8M205.4 162.2l2-3.1M213.7 162l2.1-2.8M222.1 161.9l2.1-2.4M230.3 161.8l2.3-2.3M238.7 161.6l2.2-1.9M247 161.4l2.3-1.6M255.1 161.4l2.8-1.6M263.3 161.4l3.1-1.5M271.6 161.2l3.1-1.1M279.9 161.1l3.3-.8M288 160.9l3.8-.6M295.9 160.8l4.7-.3M304 160.2l5.1 .8M312.5 159.7l4.9 1.8M320.9 159.5l4.8 2.2M329.1 159.3l5 2.6M337.3 159.1l5.3 3.1M345.6 158.9l5.4 3.5M354 158.8l5.3 3.7M362.4 158.7l5.2 3.9M370.8 158.6l5.1 4.1M379.2 158.5l4.9 4.2M387.7 158.5l4.7 4.2M396.2 158.6l4.4 4.1M404.6 158.6l4.1 4.1M89.6 169.5l0-1M97.9 169.9l0-1.8M106.2 169.9l.1-1.8M114.6 170l.1-2M122.9 170l.2-1.9M131.2 170.1l.3-2.2M139.5 170.2l.4-2.3M147.8 170.1l.4-2.1M156.1 170l.4-2M164.4 170.1l.5-2.1M172.7 170.2l.7-2.3M181 170.2l.9-2.4M189.2 170.3l1.1-2.6M197.3 170.6l1.6-3.2M205.5 170.7l1.9-3.3M213.8 170.5l2-3M222 170.4l2.2-2.8M230.3 170.3l2.4-2.5M238.6 170.1l2.4-2.1M246.9 169.9l2.5-1.8M255.1 169.8l2.7-1.6M263.4 169.7l2.8-1.3M271.9 169.5l2.6-.9M280.2 169.3l2.6-.6M288.3 169.2l3.2-.4M296 169.1l4.4-.2M304 168.8l5.1 .5M312.4 168.2l5 1.7M320.6 167.7l5.2 2.6M328.8 167.4l5.5 3.1M337.2 167.3l5.5 3.4M345.6 167.1l5.4 3.7M354 167.1l5.2 3.9M362.5 167l5.1 4.1M370.9 166.9l4.9 4.2M379.3 166.8l4.8 4.4M387.7 166.8l4.7 4.5M396.1 166.7l4.6 4.6M404.5 166.7l4.4 4.6M89.6 177.8l0-.9M98 178l0-1.3M106.3 178.1l0-1.4M114.6 178.4l.1-2M122.9 178.6l.1-2.4M131.2 178.6l.2-2.4M139.6 178.3l.2-1.8M147.9 178.2l.2-1.6M156.2 178.5l.4-2.2M164.5 178.6l.5-2.4M172.7 178.6l.6-2.4M181 178.6l.8-2.5M189.2 178.9l1.1-3M197.3 179.1l1.5-3.5M205.6 179.1l1.7-3.4M213.8 179l2-3.3M222 178.9l2.2-3M230.3 178.8l2.4-2.7M238.5 178.7l2.6-2.5M246.7 178.5l2.9-2.2M255 178.3l3.1-1.9M263.3 178.1l3-1.4M271.8 177.9l2.7-.9M280.1 177.7l2.8-.6M288.1 177.6l3.5-.4M295.7 177.4l5.1-.1M303.7 177.1l5.8 .6M312.1 176.5l5.7 1.9M320.5 175.9l5.6 3M328.9 175.7l5.5 3.4M337.3 175.6l5.3 3.6M345.7 175.4l5.2 3.9M354.1 175.3l5.1 4.1M362.5 175.3l4.9 4.3M370.9 175.2l4.8 4.4M379.4 175.1l4.6 4.5M387.8 175.1l4.5 4.7M396.2 175l4.4 4.8M404.5 175l4.3 4.8M89.6 186.2l-.1-.8M98 186.2l0-.8M106.3 186.4l0-1.2M114.7 186.8l0-2.1M123 187l0-2.4M131.3 187l.1-2.4M139.6 186.7l.1-1.8M148 186.5l.1-1.4M156.2 186.9l.2-2.2M164.5 187l.4-2.5M172.8 187l.5-2.5M181.1 187.1l.6-2.7M189.2 187.5l1-3.3M197.4 187.6l1.3-3.6M205.7 187.6l1.6-3.5M213.9 187.5l1.8-3.4M222.1 187.4l2.1-3.2M230.4 187.2l2.2-2.8M238.6 187l2.4-2.4M246.8 186.8l2.6-2.1M255.2 186.6l2.6-1.6M263.6 186.4l2.5-1.2M271.6 186.3l3.1-1M279.5 186.2l4.1-.8M287.5 186l4.7-.3M295.2 185.7l6.1 .2M303.4 185.3l6.4 1M311.9 184.7l6.1 2.2M320.5 184.1l5.6 3.3M328.9 184l5.4 3.6M337.4 183.9l5.2 3.9M345.8 183.7l5 4.1M354.2 183.6l4.9 4.3M362.6 183.6l4.7 4.5M371 183.5l4.6 4.6M379.4 183.4l4.5 4.7M387.8 183.4l4.4 4.8M396.2 183.3l4.2 4.9M404.6 183.3l4.1 5M89.6 194.6l-.1-.8M98 194.6l-.1-.8M106.3 194.7l-.1-1.1M114.7 195l-.1-1.6M123 195l-.1-1.6M131.4 195.3l-.1-2.2M139.7 195.2l0-2.1M148 195l0-1.7M156.3 195.3l.1-2.2M164.6 195.4l.2-2.5M172.9 195.5l.3-2.6M181.1 195.8l.5-3.2M189.3 196l.8-3.7M197.5 196.1l1.1-3.9M205.7 196.1l1.4-3.9M214 196l1.6-3.6M222.2 195.8l1.9-3.3M230.4 195.6l2.1-2.9M238.8 195.3l2.1-2.3M247.1 195.1l2.2-1.9M255.4 194.9l2.2-1.4M263.5 194.8l2.7-1.2M271.2 194.8l4-1.2M278.9 194.6l5.2-.8M286.7 194.2l6.3-.1M294.7 193.8l7 .8M303.2 193.2l6.8 2M311.7 192.6l6.4 3.2M320.3 192.2l5.9 3.9M328.9 192.1l5.5 4.1M337.4 192.1l5.1 4.2M345.8 192l4.9 4.4M354.2 191.8l4.9 4.8M362.6 191.8l4.7 4.8M371.1 191.8l4.4 4.8M379.5 191.7l4.3 4.9M387.9 191.7l4.2 5M396.3 191.6l4.1 5.1M404.7 191.6l4 5.1M89.7 203l-.1-.8M98 203l-.1-.8M106.3 203l-.1-.9M114.7 203.1l-.1-1M123 203.2l-.1-1.2M131.4 203.5l-.2-1.9M139.7 203.8l-.1-2.4M148.1 203.8l-.1-2.4M156.4 203.8l0-2.5M164.7 203.8l.1-2.5M173 204l.2-2.9M181.2 204.4l.4-3.7M189.4 204.7l.6-4.2M197.6 204.8l.9-4.5M205.8 204.7l1.2-4.3M214.1 204.4l1.3-3.7M222.3 204.3l1.6-3.5M230.5 204.2l1.9-3.2M238.7 204l2.3-2.8M246.9 203.8l2.6-2.4M255.2 203.5l2.7-1.8M262.9 203.5l3.9-1.8M270 203.4l6.4-1.7M277.8 202.9l7.4-.7M286.1 202.3l7.6 .5M294.5 201.5l7.4 2.1M303.1 200.8l6.9 3.4M311.7 200.4l6.5 4.2M320.2 200.2l6.2 4.6M328.7 200.1l5.8 4.9M337.3 200.1l5.4 4.9M345.8 200.1l4.9 4.9M354.1 199.9l5 5.3M362.7 200l4.6 5.2M371.2 200.1l4.2 5M379.6 200l4.1 5.1M388 200l3.9 5.2M396.4 199.9l3.8 5.2M404.8 199.9l3.8 5.3M89.7 211.3l-.2-.8M98 211.3l-.2-.8M106.4 211.3l-.1-.8M114.7 211.5l-.2-1.1M123.1 211.9l-.3-1.9M131.5 212.1l-.3-2.3M139.8 212.2l-.3-2.5M148.1 212.2l-.2-2.5M156.5 212.2l-.2-2.5M164.8 212.2l-.1-2.6M173.1 212.5l0-3.2M181.4 212.9l.1-4M189.6 213.3l.3-4.7M197.8 213.3l.6-4.7M206.1 213l.8-4.2M214.3 212.9l1-3.9M222.5 212.8l1.3-3.6M230.6 212.7l1.7-3.4M238.7 212.5l2.2-3.2M246.7 212.5l2.9-3.1M254.6 212.3l3.7-2.7M262.3 212.1l5.1-2.3M269.7 211.7l7-1.6M277.7 210.9l7.7 0M286.1 209.9l7.5 2M294.7 209.2l7.1 3.6M303.2 208.8l6.7 4.3M311.8 208.6l6.3 4.8M320.3 208.4l5.9 5.1M328.8 208.3l5.7 5.4M337.3 208.2l5.4 5.6M345.7 208.1l5.1 5.7M354.2 208l4.9 5.8M362.8 208.2l4.4 5.5M371.4 208.3l4 5.2M379.8 208.3l3.8 5.3M388.2 208.3l3.7 5.3M396.6 208.3l3.6 5.4M404.9 208.2l3.5 5.4M89.7 219.7l-.2-.8M98 219.7l-.2-.8M106.4 219.7l-.2-.8M114.8 219.9l-.2-1.1M123.2 220.3l-.4-2M131.6 220.6l-.5-2.4M139.9 220.6l-.5-2.5M148.2 220.6l-.4-2.5M156.5 220.6l-.4-2.5M164.9 220.6l-.3-2.6M173.2 221l-.3-3.3M181.5 221.3l-.2-3.9M189.8 221.5l-.1-4.3M198 221.4l.1-4.2M206.3 221.4l.3-4.2M214.5 221.4l.6-4.2M222.7 221.2l.9-3.8M230.8 221.1l1.3-3.6M238.9 221l1.8-3.4M246.8 221l2.7-3.4M254.7 220.7l3.5-2.8M262.8 220.2l4-1.8M270.4 219.8l5.6-.8M278.1 218.7l6.9 1.2M286.4 217.7l7 3.2M294.6 217l7.2 4.6M303.2 216.7l6.8 5.3M311.8 216.6l6.2 5.5M320.5 216.5l5.6 5.6M329 216.4l5.3 5.8M337.4 216.3l5 6M345.9 216.3l4.8 6.1M354.3 216.2l4.6 6.2M362.9 216.5l4.1 5.7M371.5 216.6l3.7 5.4M379.9 216.6l3.6 5.5M388.3 216.6l3.5 5.5M396.7 216.6l3.4 5.5M405.1 216.5l3.3 5.6M89.7 228.1l-.2-.8M98.1 228.1l-.2-.8M106.4 228.1l-.2-.8M114.8 228.2l-.3-.9M123.2 228.6l-.5-1.8M131.6 228.9l-.6-2.4M140 228.9l-.6-2.4M148.3 228.9l-.6-2.5M156.6 228.9l-.5-2.5M165 229l-.5-2.5M173.3 229.2l-.5-3M181.7 229.6l-.6-3.7M190 229.6l-.5-3.8M198.3 229.6l-.3-3.9M206.5 229.7l-.2-4M214.7 229.8l.1-4.1M222.9 229.7l.4-3.9M231.1 229.7l.8-3.9M239.2 229.6l1.3-3.7M247.1 229.4l2.1-3.4M255.1 229l2.7-2.5M263.1 228.5l3.5-1.5M270.7 227.7l5 0M278.3 226.5l6.5 2.5M286.4 225.5l7 4.4M294.7 224.9l7 5.6M303.3 224.6l6.5 6.2M311.9 224.5l6 6.4M320.6 224.6l5.3 6.2M329.2 224.6l4.8 6.2M337.6 224.6l4.6 6.3M346.1 224.5l4.4 6.4M354.5 224.5l4.2 6.5M363.1 224.7l3.8 6.1M371.6 224.9l3.4 5.6M380 224.8l3.4 5.8M388.4 224.8l3.2 5.7M396.8 224.9l3.1 5.7M405.2 224.9l3.1 5.7M89.7 236.5l-.3-.7M98.1 236.5l-.3-.7M106.4 236.5l-.3-.8M114.8 236.5l-.3-.9M123.3 236.9l-.6-1.7M131.7 237.3l-.8-2.3M140.1 237.3l-.8-2.4M148.4 237.3l-.7-2.4M156.7 237.3l-.7-2.4M165.1 237.3l-.7-2.5M173.4 237.6l-.8-2.9M181.8 237.9l-.9-3.6M190.2 238l-.9-3.8M198.5 238l-.8-3.9M206.8 238l-.7-3.9M215 238l-.5-3.8M223.3 238.1l-.3-4M231.4 238.4l.1-4.5M239.4 238.4l.8-4.5M247.2 238.1l1.9-4M255.1 237.4l2.8-2.6M263.1 236.5l3.5-.8M271 235.5l4.3 1.2M278.8 234.4l5.6 3.5M286.7 233.4l6.3 5.4M295.2 232.9l6.1 6.5M303.7 232.6l5.8 6.9M312.2 232.5l5.4 7.2M320.8 232.6l4.9 7.1M329.4 232.7l4.4 6.8M337.9 232.8l4.1 6.7M346.3 232.7l4 6.7M354.7 232.7l3.8 6.7M363.3 233l3.4 6.2M371.8 233.2l3.1 5.8M380.2 233.2l3 5.9M388.6 233.2l2.9 5.8M396.9 233.2l2.9 5.8M405.3 233.2l2.8 5.9M89.8 244.9l-.3-.7M98.1 244.9l-.3-.8M106.5 244.9l-.3-.8M114.8 244.9l-.3-.8M123.3 245.2l-.6-1.4M131.8 245.6l-.9-2.2M140.1 245.7l-.9-2.3M148.5 245.7l-.9-2.3M156.8 245.7l-.9-2.4M165.2 245.8l-1-2.6M173.6 246.1l-1.2-3.2M182 246.3l-1.3-3.6M190.4 246.3l-1.3-3.6M198.7 246.4l-1.3-3.9M207 246.4l-1.2-3.9M215.3 246.3l-1.1-3.7M223.6 246.5l-1-4.1M231.7 247.1l-.5-5.2M239.6 247.3l.4-5.7M247.6 246.5l1.2-4.1M255.7 245.5l1.6-2M263.8 244.6l2-.2M272 243.7l2.3 1.5M279.9 242.7l3.4 3.5M287.7 241.6l4.4 5.7M295.8 240.9l4.8 7.1M304.2 240.7l4.7 7.6M312.7 240.6l4.5 7.8M321.1 240.6l4.3 7.8M329.6 240.7l3.9 7.5M338.2 240.9l3.6 7.1M346.6 241l3.4 7M355 241l3.3 7M363.5 241.3l3 6.4M372 241.5l2.7 6M380.3 241.4l2.7 6.1M388.7 241.5l2.6 6M397.1 241.5l2.5 5.9M405.4 241.5l2.5 6M89.8 253.3l-.4-.8M98.2 253.4l-.5-1.1M106.6 253.5l-.6-1.3M114.9 253.3l-.4-.9M123.2 253.4l-.5-1M131.8 253.8l-.9-1.9M140.2 254l-1.1-2.3M148.6 254l-1.1-2.3M156.9 254l-1.1-2.3M165.3 254.2l-1.3-2.6M173.8 254.5l-1.6-3.3M182.2 254.6l-1.7-3.5M190.6 254.6l-1.7-3.5M198.9 254.6l-1.7-3.5M207.3 254.6l-1.7-3.5M215.6 254.7l-1.7-3.8M224 255.4l-1.7-5M232.2 255.9l-1.4-6.1M240.4 255.8l-1.2-5.9M248.6 254.8l-.9-3.9M256.9 254l-.7-2.3M265.4 252.1l-1.2 1.6M272.8 251.8l.9 2.2M280.7 250.9l1.7 3.9M288.6 249.8l2.6 6.1M296.6 249l3.3 7.7M304.8 248.7l3.5 8.3M313.2 248.7l3.5 8.3M321.6 248.7l3.4 8.3M330 248.8l3.3 8.1M338.5 249.1l3 7.5M346.9 249.2l2.9 7.3M355.2 249.3l2.8 7.2M363.7 249.6l2.5 6.6M372.2 249.8l2.3 6.1M380.5 249.8l2.3 6.1M388.9 249.9l2.2 5.9M397.3 249.9l2.2 5.9M405.6 249.8l2.2 6.1M89.8 261.6l-.4-.7M98.2 261.8l-.6-1M106.7 262.1l-.9-1.6M115 261.9l-.7-1.3M123.2 261.7l-.5-.9M131.7 262l-.8-1.4M140.3 262.3l-1.2-2.1M148.6 262.3l-1.2-2.2M157 262.4l-1.3-2.2M165.5 262.5l-1.5-2.6M174 262.8l-1.9-3.2M182.4 262.9l-2-3.3M190.8 262.9l-2-3.3M199.2 262.9l-2.2-3.3M207.6 263l-2.3-3.5M216.1 263.5l-2.6-4.6M224.6 264.4l-3-6.3M233.1 264.5l-3.3-6.5M241.6 264l-3.7-5.5M249.8 262.9l-3.3-3.3M257.9 261.8l-2.9-1M266 260.6l-2.3 1.4M273.6 259.7l-.8 3.1M281.5 258.8l.1 5M289.4 257.8l1 6.9M297.4 257.3l1.6 8M305.5 256.9l2.1 8.6M313.8 256.9l2.3 8.7M322 256.9l2.4 8.7M330.4 257l2.5 8.5M338.8 257.4l2.3 7.8M347.2 257.5l2.3 7.5M355.5 257.6l2.3 7.3M364 257.9l2.1 6.7M372.4 258.1l1.9 6.2M380.7 258.2l1.9 6.2M389.1 258.2l1.9 6.1M397.4 258.2l1.9 6.1M405.7 258.2l2 6.2M89.8 270l-.4-.7M98.2 270l-.4-.7M106.6 270.2l-.7-1.1M115.1 270.4l-.9-1.5M123.3 270.2l-.7-1M131.7 270.2l-.7-1.1M140.3 270.6l-1.2-1.8M148.7 270.7l-1.4-2.1M157.1 270.7l-1.4-2.1M165.5 270.8l-1.6-2.3M174.1 271.1l-2.1-2.8M182.5 271.2l-2.3-3.1M190.9 271.2l-2.4-3M199.3 271.2l-2.5-3.1M207.9 271.5l-2.9-3.8M216.7 272.4l-3.8-5.5M225.4 272.7l-4.5-6.2M234.1 272.5l-5.2-5.7M242.8 271.9l-5.9-4.6M251.1 270.9l-5.9-2.5M259.1 269.6l-5.1 0M266.9 268.5l-4 2.3M274.6 267.4l-2.9 4.4M282.4 266.4l-1.8 6.4M290.2 265.9l-.7 7.5M298.2 265.6l.1 8M306.2 265.3l.7 8.7M314.3 265.2l1.1 8.9M322.6 265.2l1.4 8.9M330.8 265.3l1.6 8.6M339.1 265.7l1.6 8M347.5 265.8l1.7 7.6M355.8 266l1.7 7.3M364.2 266.3l1.6 6.6M372.6 266.5l1.5 6.3M380.9 266.5l1.6 6.3M389.2 266.5l1.6 6.3M397.5 266.5l1.6 6.3M405.9 266.5l1.7 6.3M89.8 278.4l-.4-.7M98.2 278.4l-.4-.7M106.5 278.4l-.5-.8M115.1 278.6l-.9-1.2M123.4 278.7l-.9-1.3M131.6 278.5l-.6-.9M140.2 278.7l-1.1-1.4M148.8 279l-1.5-1.9M157.1 279l-1.6-2M165.5 279l-1.7-2M174.1 279.3l-2.1-2.5M182.7 279.5l-2.6-2.9M191.1 279.5l-2.8-3M199.6 279.7l-3-3.3M208.3 280.2l-3.7-4.4M217.2 280.8l-4.9-5.6M226 280.7l-5.7-5.3M234.7 280.3l-6.4-4.6M243.5 279.7l-7.3-3.4M252 278.7l-7.7-1.4M260.2 277.5l-7.4 1M268 276.3l-6.4 3.5M275.7 275.2l-4.9 5.6M283.3 274.6l-3.4 6.9M290.9 274.3l-2.1 7.5M298.8 274.1l-1.2 7.8M306.8 273.8l-.5 8.5M314.9 273.5l0 9M323 273.6l.4 8.9M331.2 273.8l.7 8.5M339.5 274.1l.9 7.9M347.8 274.2l1 7.7M356.1 274.4l1.1 7.2M364.4 274.8l1.1 6.5M372.8 274.8l1.1 6.4M381.1 274.8l1.2 6.4M389.4 274.8l1.3 6.4M397.7 274.8l1.3 6.4M406 274.9l1.4 6.3M89.8 286.7l-.5-.6M98.2 286.7l-.5-.6M106.5 286.7l-.5-.6M114.9 286.8l-.6-.8M123.4 286.9l-.8-1M131.6 286.8l-.6-.7M140.1 286.9l-.9-1M148.8 287.3l-1.5-1.7M157.2 287.3l-1.7-1.9M165.6 287.4l-1.9-2M174.2 287.7l-2.4-2.6M182.9 288.1l-3-3.4M191.5 288.4l-3.6-4.1M200.1 288.6l-4-4.4M208.8 288.8l-4.7-4.8M217.7 288.9l-5.8-5M226.4 288.6l-6.5-4.4M235 288.1l-7.1-3.4M243.7 287.5l-7.8-2.1M252.3 286.6l-8.3-.4M260.5 285.5l-8.1 1.8M268.4 284.5l-7.2 3.8M276.1 283.6l-5.9 5.5M283.7 283.1l-4.4 6.6M291.5 282.8l-3.2 7.2M299.3 282.6l-2.2 7.5M307.3 282.3l-1.5 8.2M315.4 282.1l-1 8.7M323.5 282.2l-.5 8.4M331.6 282.4l-.1 8M339.8 282.5l.2 7.8M348.1 282.6l.4 7.6M356.4 283l.6 6.9M364.7 283.2l.7 6.5M373 283.2l.8 6.4M381.3 283.2l.8 6.4M389.6 283.2l.9 6.4M397.9 283.2l1 6.4M406.2 283.2l1.1 6.4M89.8 295.1l-.5-.6M98.2 295.1l-.5-.6M106.5 295.1l-.5-.6M114.9 295.1l-.5-.6M123.3 295.1l-.6-.7M131.7 295.2l-.8-.8M140.2 295.3l-1.1-1.1M148.8 295.6l-1.6-1.6M157.3 295.8l-1.9-1.9M165.9 296.1l-2.4-2.6M174.5 296.6l-3-3.6M183.2 296.9l-3.6-4.2M191.9 297.1l-4.3-4.6M200.4 297l-4.7-4.5M209.2 297l-5.5-4.4M218 296.9l-6.5-4.2M226.6 296.5l-7-3.5M235.2 296l-7.4-2.5M243.7 295.4l-7.8-1.2M252.1 294.6l-7.9 .3M260.4 293.8l-7.7 2M268.4 292.9l-7.1 3.7M276.3 292.2l-6.1 5.1M284 291.7l-5 6.1M291.8 291.4l-3.9 6.8M299.7 291.2l-3 7.2M307.7 290.9l-2.3 7.7M315.8 290.8l-1.7 8M323.8 290.9l-1.2 7.8M332 290.9l-.7 7.8M340.2 290.9l-.4 7.8M348.4 291.1l-.1 7.3M356.6 291.5l.1 6.7M364.9 291.5l.2 6.5M373.1 291.6l.4 6.5M381.4 291.6l.5 6.5M389.7 291.6l.6 6.5M398 291.6l.7 6.5M406.3 291.6l.8 6.4M89.9 303.5l-.6-.6M98.2 303.5l-.6-.6M106.6 303.5l-.5-.6M114.9 303.5l-.6-.6M123.3 303.5l-.7-.7M131.9 303.8l-1.2-1.2M140.5 303.9l-1.6-1.5M149 304l-1.9-1.7M157.6 304.4l-2.4-2.4M166.3 305l-3.1-3.6M174.8 305.1l-3.4-3.9M183.4 305.3l-4.1-4.2M192.1 305.3l-4.8-4.3M200.7 305.2l-5.2-4M209.4 305.1l-6-3.8M218.2 304.9l-6.9-3.5M226.8 304.5l-7.3-2.7M235.3 304l-7.6-1.7M243.7 303.4l-7.8-.5M252 302.8l-7.8 .8M260.3 302.1l-7.5 2.2M268.3 301.4l-7 3.6M276.3 300.8l-6.2 4.8M284.2 300.3l-5.3 5.7M292.1 300l-4.5 6.4M300 299.7l-3.6 6.9M308 299.5l-2.9 7.3M316.1 299.4l-2.3 7.5M324.2 299.4l-1.8 7.6M332.3 299.3l-1.4 7.7M340.4 299.4l-1 7.5M348.6 299.8l-.6 6.8M356.8 299.9l-.4 6.5M365.1 299.9l-.2 6.5M373.3 300l0 6.4M381.6 300l.1 6.4M389.9 299.9l.3 6.5M398.2 299.9l.4 6.5M406.5 299.9l.5 6.5M90.1 312.1l-.9-1M98.4 312l-.9-.9M106.6 311.9l-.7-.7M114.9 311.8l-.6-.6M123.3 311.8l-.6-.6M131.8 311.9l-.9-.7M140.3 312.1l-1.3-1.1M149 312.4l-2-1.7M157.8 313l-2.9-2.9M166.4 313.4l-3.5-3.7M174.9 313.4l-3.8-3.7M183.6 313.5l-4.4-3.8M192.3 313.5l-5.1-3.9M200.8 313.3l-5.5-3.5M209.4 313.1l-6-3.1M218.2 312.9l-6.8-2.8M226.8 312.6l-7.4-2.1M235.3 312.1l-7.7-1.1M243.7 311.6l-7.8 0M252 311l-7.7 1.1M260.2 310.4l-7.5 2.3M268.3 309.8l-7 3.5M276.4 309.3l-6.4 4.6M284.3 308.9l-5.6 5.4M292.3 308.5l-4.9 6.1M300.3 308.3l-4.1 6.6M308.3 308.1l-3.5 7M316.4 307.9l-2.9 7.3M324.4 307.8l-2.4 7.4M332.6 307.8l-1.9 7.5M340.7 308l-1.4 7.1M348.8 308.3l-1 6.5M357 308.3l-.8 6.5M365.3 308.3l-.5 6.5M373.5 308.4l-.4 6.4M381.8 308.3l-.2 6.5M390.1 308.2l-.1 6.7M398.3 308.3l.1 6.5M406.6 308.4l.2 6.4M90 320.4l-.9-.8M98.5 320.5l-1.1-1M106.9 320.5l-1.1-1M115 320.3l-.7-.6M123.3 320.2l-.6-.5M131.6 320.2l-.6-.5M140.1 320.3l-.8-.6M149 320.8l-1.9-1.6M157.9 321.5l-3.1-3.1M166.6 321.7l-3.7-3.5M175.1 321.6l-4-3.3M183.7 321.6l-4.6-3.4M192.4 321.7l-5.4-3.4M200.9 321.5l-5.7-3.1M209.4 321.2l-6-2.6M218 321l-6.4-2M226.5 320.7l-6.8-1.4M235.1 320.3l-7.3-.6M243.6 319.8l-7.5 .3M251.9 319.3l-7.6 1.4M260.2 318.7l-7.4 2.4M268.3 318.2l-7 3.5M276.4 317.8l-6.5 4.4M284.5 317.4l-5.8 5.2M292.5 317l-5.2 5.8M300.5 316.8l-4.5 6.4M308.5 316.6l-3.9 6.8M316.6 316.4l-3.4 7M324.7 316.3l-2.8 7.2M332.8 316.4l-2.3 7.1M340.8 316.6l-1.8 6.6M349 316.8l-1.4 6.4M357.2 316.8l-1.1 6.4M365.4 316.7l-.9 6.4M373.7 316.7l-.7 6.4M381.9 316.7l-.5 6.5M390.2 316.7l-.4 6.5M398.5 316.8l-.2 6.3M406.8 317l-.1 5.8M89.9 328.6l-.6-.6M98.3 328.6l-.7-.6M106.7 328.7l-.9-.7M115 328.6l-.7-.6M123.3 328.6l-.6-.5M131.7 328.6l-.7-.5M140.2 328.7l-1-.8M149.1 329.3l-2.2-1.9M158 329.8l-3.3-2.9M166.7 329.9l-3.9-3.2M175.1 329.9l-4.2-3M183.7 329.8l-4.6-2.9M192.4 329.8l-5.4-2.9M201 329.7l-5.9-2.6M209.5 329.4l-6.1-2.2M217.9 329.1l-6.3-1.6M226.4 328.8l-6.5-.9M234.8 328.5l-6.6-.2M243.2 328.1l-6.9 .6M251.6 327.6l-7 1.4M260 327.1l-7 2.4M268.3 326.7l-6.9 3.4M276.5 326.2l-6.5 4.2M284.5 325.8l-6 5M292.6 325.5l-5.4 5.6M300.6 325.3l-4.8 6M308.7 325.1l-4.2 6.4M316.7 325l-3.6 6.6M324.8 325l-3.1 6.6M332.9 325.1l-2.5 6.4M341 325.2l-2.1 6.2M349.2 325.2l-1.7 6.3M357.4 325.2l-1.5 6.3M365.6 325.1l-1.2 6.4M373.8 325.1l-1 6.4M382.1 325.1l-.8 6.4M390.4 325.1l-.7 6.4M398.6 325.3l-.5 6M406.9 325.7l-.3 5.4M89.9 337l-.6-.5M98.3 337l-.6-.5M106.6 337l-.6-.5M115 337l-.7-.5M123.4 337l-.8-.5M132 337.2l-1.3-.9M140.7 337.5l-2-1.6M149.4 337.9l-2.7-2.3M158 338l-3.3-2.6M166.7 338.2l-4-2.9M175.2 338.1l-4.4-2.8M183.7 338l-4.6-2.5M192.3 337.9l-5.1-2.4M201 337.8l-5.9-2.2M209.5 337.6l-6.2-1.8M218 337.3l-6.4-1.2M226.4 337l-6.5-.6M234.7 336.7l-6.5 0M243.1 336.4l-6.5 .7M251.4 336l-6.4 1.4M259.7 335.6l-6.4 2.2M268 335.2l-6.3 3M276.3 334.8l-6.2 3.9M284.4 334.5l-5.8 4.5M292.5 334.2l-5.2 5M300.5 334.1l-4.6 5.3M308.6 333.9l-4.1 5.6M316.7 333.8l-3.6 5.7M324.8 333.8l-3.1 5.8M333 333.8l-2.7 5.9M341.1 333.7l-2.4 6.1M349.3 333.7l-2.1 6.1M357.5 333.6l-1.8 6.2M365.8 333.6l-1.6 6.3M374 333.5l-1.3 6.4M382.2 333.5l-1.1 6.4M390.5 333.6l-1 6.3M398.7 333.8l-.7 5.8M407 334.1l-.5 5.2M89.9 345.3l-.6-.5M98.3 345.3l-.6-.5M106.6 345.3l-.7-.5M115 345.4l-.8-.5M123.7 345.6l-1.4-1M132.5 346.1l-2.4-1.9M141.1 346.3l-2.8-2.4M149.5 346.3l-3-2.4M158 346.3l-3.3-2.3M166.7 346.4l-3.9-2.5M175.3 346.4l-4.5-2.5M183.7 346.2l-4.7-2.2M192.2 346.1l-4.9-2M200.8 346l-5.5-1.8M209.5 345.8l-6.2-1.4M218 345.6l-6.4-1M226.4 345.3l-6.5-.4M234.7 345l-6.5 .2M243 344.7l-6.4 .9M251.3 344.3l-6.3 1.5M259.6 344l-6.1 2.2M267.8 343.7l-5.9 2.8M276 343.4l-5.6 3.4M284.2 343.1l-5.3 4M292.3 342.9l-4.9 4.4M300.5 342.7l-4.5 4.8M308.6 342.6l-4.1 5.1M316.7 342.4l-3.7 5.4M324.9 342.3l-3.3 5.6M333.1 342.2l-3 5.8M341.3 342.1l-2.6 5.9M349.5 342.1l-2.3 6M357.7 342.1l-2 6M365.9 342l-1.8 6.2M374.1 342l-1.6 6.3M382.4 341.9l-1.4 6.3M390.6 342l-1.2 6.1M398.8 342.4l-.9 5.5M407.1 342.5l-.7 5.1M89.9 353.7l-.7-.5M98.3 353.7l-.7-.5M106.7 353.8l-.8-.5M115.3 354l-1.4-1M124.1 354.4l-2.3-1.8M132.8 354.7l-2.9-2.4M141.2 354.7l-3-2.3M149.6 354.6l-3.1-2.2M158 354.5l-3.3-2.1M166.5 354.5l-3.7-2.1M175.3 354.6l-4.4-2.2M183.8 354.5l-4.7-2M192.2 354.3l-4.9-1.7M200.7 354.2l-5.1-1.4M209.3 354l-5.7-1.1M217.9 353.8l-6.2-.7M226.3 353.6l-6.5-.2M234.7 353.3l-6.5 .4M243 353l-6.4 1M251.3 352.7l-6.3 1.6M259.6 352.4l-6.1 2.2M267.8 352.1l-5.9 2.8M276 351.8l-5.6 3.3M284.2 351.6l-5.3 3.8M292.4 351.4l-4.9 4.2M300.5 351.2l-4.6 4.6M308.7 351l-4.2 4.9M316.9 350.9l-3.9 5.2M325 350.8l-3.5 5.4M333.2 350.7l-3.2 5.6M341.4 350.6l-2.9 5.8M349.6 350.5l-2.6 5.9M357.8 350.5l-2.3 6M366 350.4l-2.1 6.1M374.3 350.4l-1.9 6.2M382.5 350.4l-1.6 6.1M390.7 350.7l-1.3 5.6M398.9 350.9l-1.1 5.2M407.2 350.9l-.9 5.1M90 362.1l-.7-.5M98.4 362.2l-.9-.6M107 362.4l-1.4-1M115.6 362.7l-1.9-1.6M124.3 363l-2.7-2.2M132.8 363l-3-2.3M141.2 363l-3.2-2.2M149.6 362.9l-3.2-2.1M158 362.8l-3.3-1.9M166.5 362.8l-3.5-1.8M175.1 362.8l-4.1-1.8M183.8 362.7l-4.7-1.7M192.2 362.6l-5-1.5M200.6 362.4l-5.1-1.1M209 362.3l-5.2-.8M217.6 362.1l-5.6-.4M226.1 361.9l-6 0M234.6 361.6l-6.2 .5M242.9 361.3l-6.2 1.1M251.2 361.1l-6 1.6M259.5 360.8l-5.9 2.1M267.7 360.5l-5.8 2.7M276 360.3l-5.6 3.2M284.2 360.1l-5.3 3.6M292.4 359.8l-5 4.1M300.6 359.6l-4.7 4.5M308.8 359.5l-4.4 4.8M316.9 359.3l-4 5.1M325.1 359.2l-3.7 5.3M333.3 359.2l-3.4 5.4M341.5 359.1l-3.1 5.6M349.7 359l-2.8 5.7M357.9 359l-2.5 5.7M366.1 359l-2.3 5.8M374.3 359l-2 5.8M382.5 359.1l-1.7 5.5M390.7 359.3l-1.4 5.1M399 359.4l-1.2 5M407.3 359.4l-1.1 5M90.2 370.7l-1.1-.8M98.7 370.9l-1.5-1.3M107.2 371l-1.8-1.6M115.7 371.1l-2.2-1.8M124.4 371.3l-2.9-2.2M132.9 371.4l-3.2-2.2M141.3 371.3l-3.2-2.1M149.7 371.2l-3.3-1.9M158.1 371.1l-3.4-1.8M166.5 371.1l-3.5-1.6M175 371l-3.8-1.5M183.6 371l-4.5-1.4M192.2 370.9l-5-1.3M200.6 370.7l-5.1-.9M209 370.6l-5.1-.6M217.4 370.4l-5.2-.2M225.8 370.2l-5.3 .2M234.2 370l-5.4 .6M242.5 369.7l-5.4 1M250.8 369.5l-5.3 1.5M259.1 369.3l-5.2 1.9M267.4 369.1l-5.2 2.4M275.7 368.9l-5 2.8M283.9 368.7l-4.8 3.2M292.2 368.5l-4.6 3.6M300.5 368.2l-4.6 4.1M308.7 368l-4.3 4.5M316.9 368l-3.9 4.6M325 367.9l-3.5 4.6M333.2 367.9l-3.2 4.7M341.4 367.8l-3 5M349.6 367.7l-2.7 5.1M357.8 367.8l-2.4 4.9M366.1 367.7l-2.2 5M374.3 367.7l-2 5M382.5 367.8l-1.7 4.9M390.8 367.8l-1.6 4.9M399.1 367.8l-1.4 5M407.3 367.8l-1.3 5M90.5 379.4l-1.7-1.5M98.9 379.4l-1.9-1.6M107.3 379.4l-2-1.6M115.7 379.5l-2.2-1.7M124.4 379.6l-2.9-2M132.9 379.7l-3.2-2M141.3 379.6l-3.3-1.9M149.7 379.5l-3.4-1.8M158.1 379.5l-3.5-1.6M166.5 379.4l-3.6-1.4M174.9 379.3l-3.7-1.3M183.4 379.2l-4-1.1M192.1 379.2l-4.7-1M200.6 379l-5.1-.8M209 378.9l-5.1-.4M217.4 378.7l-5.2-.1M225.7 378.5l-5.2 .3M234 378.3l-5.1 .6M242.3 378.1l-5.1 1M250.6 377.9l-5 1.4M258.9 377.8l-4.9 1.8M267.2 377.6l-4.7 2.2M275.5 377.4l-4.6 2.5M283.7 377.2l-4.4 2.8M292 377.1l-4.2 3.2M300.3 376.9l-4.1 3.5M308.5 376.7l-3.9 3.8M316.7 376.7l-3.6 4M324.9 376.6l-3.3 4.1M333.1 376.6l-3 4.2M341.3 376.5l-2.8 4.3M349.5 376.5l-2.5 4.3M357.8 376.4l-2.3 4.5M366.1 376.3l-2.2 4.7M374.3 376.3l-2 4.8M382.6 376.2l-1.9 4.8M390.9 376.2l-1.7 4.9M399.2 376.2l-1.6 4.9M407.4 376.2l-1.4 5M90.6 387.8l-1.9-1.6M98.9 387.8l-2-1.6M107.3 387.8l-2-1.5M115.7 387.8l-2.2-1.5M124.3 387.9l-2.7-1.7M133 388l-3.3-1.9M141.4 387.9l-3.4-1.8M149.8 387.9l-3.5-1.6M158.1 387.8l-3.5-1.5M166.5 387.7l-3.6-1.3M174.9 387.6l-3.7-1.1M183.3 387.5l-3.8-.9M191.8 387.4l-4.1-.8M200.5 387.3l-4.7-.6M209 387.2l-5.1-.3M217.4 387l-5.2 0M225.7 386.8l-5.2 .4M234 386.7l-5.1 .7M242.3 386.5l-5 1.1M250.6 386.3l-4.9 1.4M258.9 386.1l-4.8 1.8M267.2 386l-4.7 2.1M275.5 385.8l-4.5 2.5M283.7 385.7l-4.4 2.8M292 385.5l-4.2 3M300.2 385.4l-4 3.3M308.5 385.3l-3.8 3.5M316.7 385.2l-3.6 3.8M324.9 385.1l-3.3 3.9M333.2 385l-3.1 4.1M341.4 384.9l-2.9 4.2M349.6 385l-2.5 4.1M357.8 384.9l-2.4 4.2M366.1 384.9l-2.2 4.3M374.4 384.8l-2.1 4.5M382.7 384.7l-2 4.7M391 384.6l-1.9 4.8M399.2 384.6l-1.7 4.9M407.5 384.6l-1.6 4.9M90.6 396.2l-2-1.5M99 396.2l-2-1.5M107.3 396.1l-2.1-1.4M115.7 396.1l-2.1-1.4M124.2 396.1l-2.5-1.4M132.9 396.3l-3.2-1.7M141.4 396.2l-3.5-1.7M149.8 396.2l-3.5-1.5M158.2 396.1l-3.6-1.4M166.5 396l-3.7-1.2M174.9 395.9l-3.7-1M183.3 395.8l-3.8-.8M191.7 395.7l-3.8-.6M200.1 395.6l-4.1-.4M208.7 395.5l-4.5-.2M217.2 395.4l-4.9 .1M225.7 395.2l-5.1 .5M234 395l-5 .8M242.2 394.9l-4.8 1.1M250.4 394.7l-4.6 1.4M258.8 394.6l-4.6 1.7M267.1 394.4l-4.6 2.1M275.5 394.2l-4.6 2.4M283.7 394.1l-4.4 2.7M292 393.9l-4.2 3M300.2 393.8l-4 3.2M308.5 393.7l-3.8 3.5M316.7 393.6l-3.6 3.7M325 393.5l-3.4 3.9M333.2 393.4l-3.2 4M341.5 393.3l-3 4.2M349.7 393.3l-2.8 4.2M357.9 393.4l-2.5 4.1M366 393.6l-2 3.7M374.3 393.4l-2 3.9M382.7 393.2l-2 4.4M391 393.1l-1.9 4.6M399.3 393.1l-1.8 4.7M407.6 393l-1.7 4.8M90.6 404.5l-2-1.5M99 404.5l-2.1-1.4M107.4 404.5l-2.1-1.3M115.7 404.4l-2.2-1.3M124.1 404.4l-2.3-1.3M132.8 404.5l-3-1.5M141.4 404.6l-3.5-1.5M149.8 404.5l-3.6-1.4M158.2 404.4l-3.6-1.2M166.6 404.3l-3.7-1.1M174.9 404.2l-3.7-.9M183.3 404.1l-3.8-.7M191.6 404l-3.8-.5M200 403.9l-3.9-.3M208.4 403.8l-4-.1M216.9 403.7l-4.2 .2M225.4 403.6l-4.5 .5M233.7 403.4l-4.5 .8M241.9 403.3l-4.1 1M250.1 403.2l-3.9 1.2M258.5 403.1l-3.9 1.5M267 402.9l-4.2 1.9M275.4 402.6l-4.5 2.3M283.7 402.5l-4.4 2.7M292 402.3l-4.3 2.9M300.3 402.2l-4.1 3.2M308.5 402.1l-3.9 3.4M316.8 402l-3.7 3.6M325 401.9l-3.5 3.8M333.3 401.8l-3.3 3.9M341.5 401.8l-3.2 4.1M349.8 401.7l-2.9 4.2M357.9 401.9l-2.5 3.8M366 402.1l-2 3.4M374.3 402.1l-1.9 3.5M382.6 401.9l-1.8 3.7M390.9 401.8l-1.8 4M399.2 401.7l-1.7 4.1M407.6 401.6l-1.7 4.4M90.6 412.9l-2.1-1.4M99 412.9l-2.1-1.3M107.4 412.8l-2.2-1.3M115.7 412.8l-2.2-1.2M124.1 412.8l-2.3-1.1M132.7 412.8l-2.8-1.3M141.4 412.9l-3.5-1.4M149.8 412.8l-3.6-1.3M158.2 412.8l-3.7-1.1M166.6 412.7l-3.7-1M174.9 412.6l-3.8-.8M183.3 412.5l-3.8-.6M191.7 412.4l-3.8-.4M200 412.3l-3.8-.2M208.4 412.2l-3.8 0M216.7 412.1l-3.9 .2M225.1 412l-3.9 .5M233.4 411.8l-3.9 .7M241.7 411.7l-3.8 .9M250 411.6l-3.7 1.1M258.3 411.5l-3.7 1.4M266.8 411.3l-3.8 1.7M275.2 411.1l-4 2.1M283.7 410.9l-4.3 2.5M292 410.7l-4.3 2.9M300.3 410.6l-4.1 3.1M308.5 410.5l-4 3.3M316.8 410.4l-3.8 3.5M325.1 410.3l-3.6 3.7M333.3 410.2l-3.4 3.9M341.6 410.2l-3.2 4M349.8 410.1l-3 4.1M357.9 410.3l-2.5 3.7M366 410.5l-2.1 3.3M374.3 410.5l-1.9 3.3M382.6 410.5l-1.8 3.4M390.9 410.4l-1.7 3.5M399.2 410.4l-1.6 3.6M407.5 410.3l-1.6 3.7" stroke="#1a0d00" stroke-opacity="0.85" stroke-width="0.75" fill="none"/>
<path d="M89.4 69l.1-.4M97.7 69l.2-.4M106 68.9l.2-.4M114.4 68.9l.2-.4M122.7 68.9l.2-.4M131 68.9l.2-.4M139.4 68.9l.2-.4M147.7 68.9l.2-.3M156 68.9l.2-.3M164.3 68.9l.2-.3M172.7 68.9l.3-.3M181 68.9l.3-.3M189.3 68.8l.3-.3M197.7 68.8l.3-.3M206 68.8l.3-.3M214.3 68.8l.3-.3M222.6 68.8l.3-.3M230.8 68.8l.4-.3M239.1 68.8l.4-.3M247.3 68.9l.5-.3M255.3 69l.6-.3M263.4 69l.7-.3M271.3 69.2l.7-.3M279.5 69.1l.8-.2M287.9 68.5l.8 0M296.3 68.1l.8 .1M304.9 68.1l.8 .1M313.4 68.1l.8 .2M321.8 68l.7 .2M330 67.9l.8 .2M338.2 67.8l.8 .2M346.7 67.8l.8 .3M355.3 67.9l.7 .3M363.6 67.8l.7 .3M372 67.8l.7 .3M380.3 67.7l.7 .4M388.5 67.6l.7 .4M396.9 67.6l.7 .4M405.2 67.5l.7 .4M89.4 77.3l.1-.4M97.7 77.3l.1-.4M106.1 77.3l.2-.4M114.4 77.3l.2-.4M122.7 77.3l.2-.4M131 77.3l.2-.4M139.4 77.3l.2-.4M147.7 77.3l.2-.3M156 77.3l.2-.3M164.4 77.3l.2-.3M172.7 77.3l.2-.3M181 77.2l.3-.3M189.3 77.2l.3-.3M197.7 77.2l.3-.3M206 77.2l.3-.3M214.3 77.2l.3-.3M222.4 77.4l.4-.3M230.5 77.5l.5-.4M238.7 77.5l.6-.4M247 77.5l.6-.4M255.1 77.5l.7-.4M263.2 77.5l.7-.3M271 77.7l.7-.3M279.2 77.5l.8-.2M287.7 76.9l.8 0M296.1 76.5l.8 .1M305 76.5l.8 .1M313.5 76.5l.7 .2M321.8 76.4l.7 .2M330 76.3l.8 .2M338.2 76.2l.8 .3M346.7 76.2l.7 .3M355.2 76.2l.7 .3M363.5 76.1l.7 .3M371.9 76.1l.7 .3M380.2 76l.7 .4M388.3 75.9l.7 .4M396.5 75.7l.7 .4M404.9 75.7l.7 .4M89.4 85.7l.1-.4M97.7 85.7l.1-.4M106.1 85.7l.2-.4M114.4 85.7l.2-.4M122.7 85.7l.2-.4M131.1 85.7l.2-.4M139.4 85.7l.2-.4M147.7 85.7l.2-.4M156 85.7l.2-.3M164.4 85.7l.2-.3M172.7 85.7l.2-.3M181 85.6l.3-.3M189.3 85.6l.3-.3M197.7 85.6l.3-.3M206 85.6l.3-.3M214.3 85.6l.3-.3M222.3 85.8l.4-.4M230.4 86l.6-.4M238.6 86l.6-.4M246.8 86l.7-.4M254.9 86l.7-.4M263 86l.7-.3M270.8 86.1l.7-.3M279 85.9l.8-.2M287.5 85.3l.8 0M296.1 84.8l.8 .1M305 84.9l.8 .2M313.5 84.8l.7 .2M321.8 84.8l.7 .2M330 84.7l.8 .2M338.3 84.6l.8 .3M346.6 84.5l.7 .3M354.9 84.4l.7 .3M363.2 84.3l.7 .3M371.5 84.3l.7 .4M379.9 84.2l.7 .4M388.1 84.1l.7 .4M396.3 83.9l.7 .4M404.6 83.8l.7 .4M89.4 94.1l.1-.4M97.8 94.1l.1-.4M106.1 94.1l.1-.4M114.4 94.1l.2-.4M122.7 94.1l.2-.4M131.1 94.1l.2-.4M139.4 94.1l.2-.4M147.7 94.1l.2-.4M156 94.1l.2-.4M164.4 94.1l.2-.4M172.7 94.1l.3-.4M181 94.1l.3-.3M189.3 94l.3-.3M197.7 94l.3-.3M206 94l.3-.3M214.2 94.1l.4-.3M222.3 94.2l.5-.4M230.5 94.2l.5-.4M238.7 94.3l.6-.4M246.9 94.3l.7-.4M255.1 94.3l.7-.4M263.1 94.4l.7-.3M270.8 94.5l.7-.3M278.9 94.3l.8-.2M287.2 93.6l.8 0M295.9 93.2l.8 .1M304.8 93.2l.8 .2M313.4 93.2l.8 .2M321.6 93.1l.8 .2M329.7 92.9l.8 .3M338 92.8l.8 .3M346.4 92.8l.7 .3M354.7 92.7l.7 .3M363.1 92.6l.7 .3M371.4 92.6l.7 .4M379.7 92.5l.7 .4M387.9 92.3l.7 .4M396.1 92.1l.7 .4M404.4 92l.7 .4M89.4 102.5l.1-.4M97.8 102.5l.1-.4M106.1 102.5l.1-.4M114.4 102.5l.1-.4M122.7 102.5l.2-.4M131.1 102.5l.2-.4M139.4 102.5l.2-.4M147.7 102.5l.2-.4M156 102.5l.2-.4M164.3 102.7l.3-.4M172.5 102.8l.3-.5M180.8 102.8l.4-.5M189.2 102.7l.3-.4M197.5 102.6l.3-.4M205.8 102.6l.4-.4M213.9 102.8l.5-.5M222.1 102.8l.5-.5M230.5 102.7l.5-.4M238.7 102.7l.6-.4M246.8 102.7l.7-.4M255.1 102.7l.7-.4M263.3 102.7l.7-.3M271 102.8l.7-.3M279 102.7l.8-.2M287.2 102l.8 0M295.9 101.6l.8 .1M304.7 101.5l.8 .2M313.2 101.5l.8 .2M321.4 101.4l.8 .2M329.6 101.3l.8 .3M338 101.2l.7 .3M346.3 101.1l.7 .3M354.7 101l.7 .3M363 100.9l.7 .4M371.2 100.8l.7 .4M379.4 100.6l.7 .4M387.7 100.5l.7 .4M396 100.4l.7 .4M404.4 100.4l.7 .5M89.5 110.9l.1-.4M97.8 110.9l.1-.4M106.1 110.9l.1-.4M114.4 110.9l.1-.4M122.7 111l.2-.4M131.1 110.9l.2-.4M139.4 110.9l.2-.4M147.7 110.9l.2-.4M156 110.9l.2-.4M164.2 111.1l.3-.5M172.4 111.4l.4-.6M180.7 111.3l.4-.5M189.1 111.1l.4-.5M197.4 111.1l.4-.4M205.6 111.2l.5-.5M213.8 111.3l.5-.5M222 111.3l.6-.5M230.3 111.2l.6-.5M238.6 111.2l.6-.4M246.7 111.2l.7-.4M254.8 111.2l.7-.4M263.1 111.2l.7-.3M271.2 111.1l.7-.3M279.4 111l.8-.2M287.4 110.4l.8 0M296 109.9l.8 .1M304.6 109.9l.8 .2M313 109.8l.8 .2M321.3 109.7l.8 .2M329.6 109.6l.8 .3M338 109.5l.7 .3M346.3 109.4l.7 .3M354.6 109.3l.7 .4M362.7 109.1l.7 .4M371 109l.7 .4M379.3 108.9l.7 .4M387.7 108.8l.7 .4M396.1 108.8l.7 .5M404.4 108.7l.6 .5M89.5 119.3l.1-.4M97.8 119.3l.1-.4M106.1 119.3l.1-.4M114.5 119.3l.1-.4M122.8 119.4l.1-.4M131.1 119.4l.2-.4M139.4 119.3l.2-.4M147.7 119.5l.2-.5M155.9 119.7l.3-.6M164.1 119.9l.3-.6M172.3 119.9l.4-.6M180.7 119.9l.4-.6M189.1 119.6l.4-.5M197.4 119.6l.4-.5M205.6 119.7l.5-.5M213.8 119.7l.5-.5M222 119.7l.6-.5M230.2 119.7l.6-.5M238.5 119.7l.7-.5M246.7 119.6l.7-.4M254.9 119.6l.7-.4M263.3 119.4l.7-.3M271.6 119.3l.7-.3M279.8 119.2l.8-.2M287.9 118.9l.8-.1M296.1 118.4l.8 .1M304.5 118.2l.8 .2M312.9 118.1l.8 .2M321.2 118l.8 .3M329.6 117.9l.7 .3M337.9 117.8l.7 .3M346.1 117.7l.7 .3M354.3 117.5l.7 .4M362.6 117.4l.7 .4M370.9 117.3l.7 .4M379.3 117.2l.7 .4M387.7 117.1l.7 .4M396.1 117.1l.7 .5M404.5 117l.6 .5M89.5 127.7l.1-.4M97.8 127.7l.1-.4M106.2 127.7l.1-.4M114.5 127.7l.1-.4M122.8 127.7l.1-.4M131.1 127.8l.1-.4M139.5 127.7l.1-.4M147.7 127.9l.2-.5M155.8 128.3l.3-.6M164.1 128.4l.3-.7M172.4 128.3l.4-.6M180.6 128.3l.4-.6M189 128.2l.4-.6M197.3 128.1l.4-.5M205.6 128.1l.5-.5M213.7 128.2l.5-.6M221.8 128.3l.6-.5M230 128.4l.6-.5M238.2 128.3l.6-.5M246.6 128.1l.7-.4M255.2 127.8l.7-.4M263.6 127.7l.6-.3M271.9 127.6l.7-.3M280.1 127.5l.7-.2M288.2 127.3l.8-.1M296.2 126.8l.8 .1M304.5 126.6l.8 .2M312.8 126.5l.8 .2M321.2 126.4l.8 .3M329.4 126.2l.7 .3M337.6 126l.7 .3M345.9 125.9l.7 .4M354.2 125.8l.7 .4M362.6 125.7l.7 .4M371 125.6l.7 .4M379.4 125.5l.7 .4M387.8 125.5l.7 .5M396.1 125.4l.6 .5M404.5 125.4l.6 .5M89.5 136.1l.1-.4M97.8 136.1l.1-.4M106.2 136.1l.1-.4M114.5 136.1l.1-.4M122.8 136.1l.1-.4M131.2 136.1l.1-.4M139.5 136.1l.1-.4M147.7 136.4l.2-.5M155.8 136.7l.3-.7M164.1 136.7l.3-.6M172.5 136.6l.3-.6M180.7 136.7l.4-.6M189 136.7l.4-.6M197.2 136.7l.4-.6M205.4 136.8l.5-.6M213.5 136.9l.5-.6M221.7 136.9l.6-.6M229.9 136.8l.6-.5M238.3 136.7l.6-.5M246.8 136.4l.7-.4M255.3 136.1l.6-.3M263.6 136l.6-.3M271.9 136l.7-.3M280.1 135.9l.7-.2M288.3 135.8l.8-.1M296.1 135.2l.8 .1M304.2 134.9l.8 .2M312.5 134.7l.8 .2M320.8 134.6l.7 .3M329.1 134.4l.7 .3M337.5 134.3l.7 .3M345.8 134.2l.7 .4M354.2 134.1l.7 .4M362.6 134l.7 .4M371 133.9l.7 .4M379.4 133.9l.7 .5M387.8 133.8l.6 .5M396.2 133.8l.6 .5M404.6 133.7l.6 .5M89.5 144.5l0-.4M97.9 144.5l.1-.4M106.2 144.5l.1-.4M114.5 144.5l.1-.4M122.8 144.5l.1-.4M131.2 144.5l.1-.4M139.4 144.7l.1-.5M147.6 145.1l.2-.7M155.9 145.2l.3-.7M164.2 145.2l.3-.7M172.5 145.1l.3-.7M180.7 145.1l.3-.7M189 145.1l.4-.7M197.3 145.1l.4-.6M205.3 145.3l.5-.6M213.4 145.4l.5-.6M221.8 145.2l.6-.6M230.2 145l.6-.5M238.6 144.8l.6-.5M246.9 144.7l.7-.4M255.1 144.6l.7-.4M263.4 144.5l.7-.3M271.8 144.4l.7-.3M280.1 144.3l.7-.2M288.3 144.2l.8-.1M296.1 143.7l.8 .1M304 143.2l.8 .2M312.3 143l.8 .3M320.7 142.8l.7 .3M329.1 142.7l.7 .3M337.4 142.6l.7 .4M345.7 142.4l.7 .4M354 142.2l.7 .4M362.4 142.2l.7 .4M370.9 142.1l.7 .5M379.4 142.1l.6 .5M387.8 142.1l.6 .5M396.2 142.1l.6 .5M404.6 142l.6 .5M89.6 152.9l0-.4M97.9 152.9l0-.4M106.2 152.9l.1-.4M114.5 153l.1-.5M122.8 153.1l.1-.5M131.1 153.1l.1-.5M139.4 153.4l.2-.6M147.6 153.6l.2-.7M155.9 153.6l.2-.7M164.2 153.6l.3-.7M172.5 153.6l.3-.7M180.8 153.6l.3-.7M189 153.5l.4-.7M197.3 153.6l.4-.7M205.3 153.8l.5-.7M213.5 153.9l.5-.6M221.9 153.6l.5-.6M230.4 153.3l.6-.5M238.7 153.1l.6-.5M246.8 153.2l.7-.5M254.8 153.2l.7-.4M263.1 153.1l.7-.3M271.6 152.8l.8-.3M279.8 152.7l.8-.2M287.9 152.6l.8-.1M295.8 152.3l.8 0M303.9 151.6l.8 .2M312.3 151.3l.8 .3M320.7 151.2l.7 .3M329.1 151l.7 .4M337.3 150.8l.7 .4M345.5 150.6l.7 .4M353.8 150.4l.7 .4M362.2 150.3l.7 .5M370.7 150.2l.6 .5M379.2 150.3l.6 .5M387.7 150.3l.6 .5M396.2 150.4l.6 .5M404.6 150.3l.6 .5M89.6 161.3l0-.4M97.9 161.6l0-.6M106.2 161.6l0-.6M114.5 161.8l.1-.6M122.8 161.8l.1-.6M131.1 161.9l.1-.7M139.4 162l.1-.7M147.7 162l.2-.7M156 161.8l.2-.6M164.3 161.8l.2-.6M172.6 162l.3-.7M180.8 162l.3-.7M189.1 162l.3-.7M197.2 162.2l.4-.7M205.3 162.4l.4-.7M213.6 162.2l.5-.6M221.9 162l.5-.6M230.2 161.9l.6-.6M238.6 161.7l.6-.5M246.9 161.5l.7-.5M254.9 161.5l.7-.4M263.1 161.4l.7-.3M271.4 161.3l.8-.3M279.7 161.1l.8-.2M287.8 161l.8-.1M295.7 160.8l.8 0M303.8 160.2l.8 .1M312.3 159.7l.8 .3M320.7 159.4l.7 .3M328.9 159.2l.7 .4M337.1 159l.7 .4M345.4 158.8l.7 .4M353.8 158.7l.7 .5M362.2 158.6l.6 .5M370.6 158.5l.6 .5M379.1 158.4l.6 .5M387.5 158.4l.6 .5M396 158.4l.6 .5M404.5 158.5l.6 .6M89.6 169.7l0-.5M97.9 170.1l0-.6M106.2 170.1l0-.6M114.6 170.2l0-.7M122.9 170.2l.1-.6M131.2 170.3l.1-.7M139.5 170.4l.1-.7M147.8 170.3l.1-.7M156.1 170.2l.1-.6M164.4 170.2l.2-.7M172.6 170.4l.2-.7M180.9 170.4l.3-.7M189.1 170.5l.3-.7M197.2 170.8l.4-.7M205.4 170.8l.4-.7M213.6 170.7l.4-.7M221.9 170.6l.5-.6M230.1 170.4l.5-.6M238.5 170.2l.6-.5M246.7 170l.6-.5M255 169.9l.7-.4M263.3 169.8l.7-.3M271.7 169.5l.8-.3M280 169.4l.8-.2M288.1 169.3l.8-.1M295.8 169.1l.8 0M303.8 168.8l.8 .1M312.2 168.1l.8 .3M320.5 167.6l.7 .4M328.7 167.4l.7 .4M337 167.2l.7 .4M345.4 167l.7 .5M353.9 166.9l.6 .5M362.3 166.9l.6 .5M370.7 166.8l.6 .5M379.1 166.7l.6 .5M387.5 166.6l.6 .6M395.9 166.6l.6 .6M404.4 166.6l.6 .6M89.6 178l0-.4M98 178.2l0-.5M106.3 178.3l0-.5M114.6 178.6l0-.6M122.9 178.8l0-.7M131.2 178.8l.1-.7M139.6 178.5l.1-.6M147.9 178.4l.1-.6M156.1 178.7l.1-.7M164.4 178.8l.2-.7M172.7 178.8l.2-.7M181 178.8l.2-.7M189.1 179.1l.3-.8M197.3 179.3l.3-.7M205.5 179.3l.4-.7M213.7 179.2l.4-.7M221.9 179.1l.5-.6M230.1 178.9l.5-.6M238.3 178.8l.6-.5M246.5 178.6l.6-.5M254.8 178.4l.7-.4M263.2 178.2l.7-.3M271.6 177.9l.8-.3M279.9 177.8l.8-.2M287.9 177.6l.8-.1M295.5 177.4l.8 0M303.5 177.1l.8 .1M311.9 176.4l.8 .3M320.3 175.8l.7 .4M328.7 175.6l.7 .4M337.2 175.5l.7 .5M345.5 175.3l.6 .5M353.9 175.2l.6 .5M362.4 175.1l.6 .5M370.8 175.1l.6 .5M379.2 175l.6 .6M387.6 174.9l.6 .6M396 174.9l.5 .6M404.4 174.8l.5 .6M89.6 186.4l0-.4M98 186.4l0-.4M106.3 186.6l0-.5M114.7 187l0-.7M123 187.2l0-.7M131.3 187.2l0-.7M139.6 186.9l0-.6M147.9 186.7l0-.5M156.2 187.1l.1-.7M164.5 187.2l.1-.7M172.8 187.2l.1-.7M181 187.3l.2-.8M189.2 187.7l.2-.8M197.4 187.8l.3-.8M205.6 187.7l.3-.7M213.8 187.7l.4-.7M222 187.5l.4-.7M230.2 187.3l.5-.6M238.5 187.1l.6-.6M246.7 187l.6-.5M255.1 186.7l.7-.4M263.4 186.5l.7-.3M271.5 186.3l.8-.2M279.3 186.2l.8-.1M287.3 186l.8-.1M295 185.7l.8 0M303.2 185.3l.8 .1M311.7 184.6l.8 .3M320.3 184l.7 .4M328.7 183.9l.7 .4M337.2 183.7l.6 .5M345.6 183.6l.6 .5M354 183.5l.6 .5M362.5 183.4l.6 .5M370.9 183.4l.6 .6M379.3 183.3l.6 .6M387.7 183.2l.5 .6M396.1 183.2l.5 .6M404.5 183.1l.5 .6M89.7 194.8l0-.4M98 194.8l0-.4M106.4 194.9l0-.5M114.7 195.2l0-.6M123 195.2l0-.6M131.4 195.5l0-.7M139.7 195.4l0-.7M148 195.2l0-.6M156.3 195.5l0-.7M164.6 195.6l.1-.7M172.9 195.7l.1-.8M181.1 196l.1-.8M189.3 196.2l.2-.8M197.5 196.3l.2-.8M205.7 196.3l.3-.8M213.9 196.2l.3-.7M222.1 196l.4-.7M230.3 195.8l.5-.7M238.6 195.5l.5-.6M246.9 195.2l.6-.5M255.2 195l.7-.4M263.3 194.9l.7-.3M271 194.8l.8-.2M278.7 194.6l.8-.1M286.5 194.2l.8 0M294.5 193.8l.8 .1M303 193.1l.8 .2M311.5 192.5l.7 .4M320.2 192.1l.7 .4M328.7 192l.6 .5M337.2 191.9l.6 .5M345.7 191.8l.6 .5M354 191.7l.6 .6M362.5 191.6l.6 .6M371 191.6l.5 .6M379.4 191.6l.5 .6M387.8 191.5l.5 .6M396.2 191.5l.5 .6M404.6 191.4l.5 .6M89.7 203.1l-.1-.4M98 203.2l-.1-.4M106.4 203.2l-.1-.4M114.7 203.3l-.1-.5M123.1 203.4l0-.5M131.4 203.7l-.1-.6M139.8 204l0-.7M148.1 204l0-.7M156.4 204l0-.7M164.7 204l0-.8M173 204.2l0-.8M181.2 204.6l.1-.8M189.4 204.9l.1-.8M197.6 205l.2-.8M205.8 204.9l.2-.8M214 204.6l.3-.8M222.2 204.5l.3-.7M230.4 204.3l.4-.7M238.6 204.1l.5-.6M246.7 203.9l.6-.5M255 203.6l.7-.4M262.7 203.5l.7-.3M269.8 203.5l.8-.2M277.7 203l.8-.1M285.9 202.3l.8 .1M294.3 201.4l.8 .2M302.9 200.7l.7 .4M311.5 200.3l.7 .4M320 200.1l.6 .5M328.5 200l.6 .5M337.1 200l.6 .5M345.7 200l.6 .6M354 199.8l.5 .6M362.6 199.8l.5 .6M371.1 199.9l.5 .6M379.5 199.9l.5 .6M387.9 199.8l.5 .6M396.3 199.8l.5 .6M404.7 199.8l.5 .7M89.7 211.5l-.1-.4M98.1 211.5l-.1-.4M106.4 211.5l-.1-.4M114.8 211.7l-.1-.5M123.2 212.1l-.1-.6M131.5 212.3l-.1-.7M139.8 212.4l-.1-.7M148.2 212.4l-.1-.7M156.5 212.4l-.1-.8M164.8 212.4l0-.8M173.1 212.7l0-.8M181.3 213.1l0-.8M189.6 213.5l.1-.8M197.8 213.5l.1-.8M206 213.2l.1-.8M214.2 213.1l.2-.8M222.4 212.9l.3-.8M230.5 212.8l.4-.7M238.6 212.7l.4-.7M246.6 212.6l.5-.6M254.5 212.4l.6-.5M262.1 212.2l.7-.3M269.5 211.8l.8-.2M277.5 210.9l.8 0M285.9 209.9l.8 .2M294.5 209.1l.7 .4M303 208.7l.7 .4M311.6 208.4l.6 .5M320.1 208.3l.6 .5M328.6 208.1l.6 .6M337.1 208l.6 .6M345.6 208l.5 .6M354.1 207.9l.5 .6M362.7 208l.5 .6M371.2 208.2l.5 .6M379.6 208.2l.5 .6M388 208.1l.5 .7M396.4 208.1l.4 .7M404.8 208.1l.4 .7M89.7 219.9l-.1-.4M98.1 219.9l-.1-.4M106.4 219.9l-.1-.4M114.8 220.1l-.1-.5M123.2 220.5l-.1-.6M131.6 220.7l-.1-.7M139.9 220.8l-.1-.7M148.3 220.8l-.1-.7M156.6 220.8l-.1-.7M164.9 220.8l-.1-.8M173.2 221.2l-.1-.8M181.5 221.5l0-.8M189.8 221.7l0-.8M198 221.6l0-.8M206.3 221.6l.1-.8M214.4 221.6l.1-.8M222.6 221.4l.2-.8M230.7 221.3l.3-.8M238.8 221.2l.4-.7M246.7 221.2l.5-.6M254.6 220.9l.6-.5M262.6 220.3l.7-.3M270.2 219.8l.8-.1M277.9 218.7l.8 .1M286.2 217.6l.7 .3M294.5 216.9l.7 .4M303 216.6l.6 .5M311.7 216.4l.6 .5M320.3 216.4l.6 .6M328.8 216.3l.5 .6M337.3 216.2l.5 .6M345.7 216.1l.5 .6M354.2 216.1l.5 .6M362.8 216.3l.5 .7M371.4 216.5l.4 .7M379.8 216.4l.4 .7M388.2 216.4l.4 .7M396.6 216.4l.4 .7M405 216.4l.4 .7M89.8 228.3l-.1-.4M98.1 228.3l-.1-.4M106.5 228.3l-.1-.4M114.8 228.4l-.1-.4M123.3 228.8l-.2-.6M131.7 229.1l-.2-.7M140 229.1l-.2-.7M148.3 229.1l-.2-.7M156.7 229.1l-.2-.7M165 229.2l-.1-.7M173.4 229.4l-.1-.8M181.7 229.8l-.1-.8M190 229.8l-.1-.8M198.3 229.8l-.1-.8M206.5 229.9l0-.8M214.7 230l0-.8M222.9 229.9l.1-.8M231 229.9l.2-.8M239.1 229.8l.3-.8M247 229.6l.4-.7M255 229.1l.6-.5M262.9 228.5l.7-.3M270.5 227.7l.8 0M278.1 226.4l.7 .3M286.2 225.4l.7 .4M294.6 224.8l.6 .5M303.2 224.5l.6 .5M311.8 224.4l.5 .6M320.5 224.4l.5 .6M329.1 224.5l.5 .6M337.5 224.4l.5 .6M346 224.3l.5 .7M354.4 224.3l.4 .7M363 224.5l.4 .7M371.5 224.7l.4 .7M379.9 224.7l.4 .7M388.3 224.7l.4 .7M396.7 224.7l.4 .7M405.1 224.7l.4 .7M89.8 236.7l-.1-.4M98.1 236.7l-.1-.4M106.5 236.7l-.1-.4M114.9 236.7l-.1-.4M123.3 237.1l-.2-.6M131.8 237.5l-.2-.7M140.1 237.5l-.2-.7M148.4 237.5l-.2-.7M156.8 237.5l-.2-.7M165.1 237.5l-.2-.7M173.5 237.8l-.2-.8M181.9 238.1l-.2-.8M190.2 238.2l-.2-.8M198.5 238.2l-.2-.8M206.8 238.2l-.1-.8M215 238.2l-.1-.8M223.3 238.3l-.1-.8M231.4 238.6l0-.8M239.4 238.6l.1-.8M247.1 238.3l.3-.7M254.9 237.5l.6-.5M262.9 236.5l.8-.2M270.8 235.5l.8 .2M278.6 234.3l.7 .4M286.6 233.3l.6 .5M295 232.7l.6 .6M303.6 232.5l.5 .6M312.1 232.4l.5 .6M320.7 232.4l.5 .7M329.3 232.6l.4 .7M337.8 232.6l.4 .7M346.2 232.6l.4 .7M354.6 232.6l.4 .7M363.2 232.8l.4 .7M371.7 233l.4 .7M380.1 233l.4 .7M388.5 233l.4 .7M396.9 233l.4 .7M405.2 233l.3 .7M89.8 245l-.2-.4M98.2 245.1l-.2-.4M106.5 245.1l-.2-.4M114.9 245.1l-.2-.4M123.3 245.4l-.2-.5M131.8 245.8l-.3-.7M140.2 245.8l-.3-.7M148.5 245.8l-.3-.7M156.9 245.8l-.3-.7M165.3 245.9l-.3-.7M173.7 246.3l-.3-.8M182.1 246.5l-.3-.8M190.4 246.5l-.3-.8M198.8 246.6l-.3-.8M207.1 246.6l-.2-.8M215.4 246.5l-.2-.8M223.6 246.7l-.2-.8M231.8 247.3l-.1-.8M239.6 247.5l.1-.8M247.5 246.7l.2-.8M255.6 245.7l.5-.6M263.6 244.6l.7-.1M271.9 243.6l.7 .4M279.7 242.6l.6 .6M287.6 241.5l.5 .6M295.7 240.8l.4 .7M304.1 240.5l.4 .7M312.6 240.4l.4 .7M321 240.4l.4 .7M329.5 240.5l.4 .7M338.1 240.8l.4 .7M346.5 240.8l.4 .7M354.9 240.8l.3 .7M363.4 241.1l.3 .7M371.9 241.3l.3 .7M380.2 241.3l.3 .7M388.6 241.3l.3 .7M397 241.3l.3 .7M405.4 241.3l.3 .7M89.9 253.4l-.2-.4M98.3 253.6l-.2-.4M106.7 253.7l-.2-.5M114.9 253.5l-.2-.4M123.3 253.6l-.2-.4M131.9 254l-.3-.6M140.3 254.2l-.3-.7M148.6 254.2l-.3-.7M157 254.2l-.3-.7M165.4 254.4l-.3-.7M173.9 254.7l-.3-.7M182.3 254.8l-.3-.7M190.7 254.8l-.3-.7M199 254.8l-.3-.7M207.4 254.8l-.3-.7M215.7 254.9l-.3-.7M224.1 255.5l-.3-.8M232.2 256.1l-.2-.8M240.5 256l-.2-.8M248.6 255l-.2-.8M256.9 254.2l-.2-.7M265.5 251.9l-.4 .5M272.7 251.6l.3 .7M280.6 250.7l.3 .7M288.5 249.6l.3 .7M296.5 248.9l.3 .7M304.8 248.6l.3 .7M313.1 248.5l.3 .7M321.5 248.5l.3 .7M329.9 248.6l.3 .7M338.4 248.9l.3 .7M346.8 249l.3 .7M355.2 249.1l.3 .7M363.6 249.4l.3 .7M372.1 249.6l.3 .7M380.4 249.6l.3 .7M388.8 249.7l.3 .7M397.2 249.8l.3 .7M405.5 249.7l.3 .8M89.9 261.8l-.2-.4M98.3 261.9l-.2-.4M106.8 262.2l-.3-.5M115.1 262.1l-.3-.5M123.3 261.9l-.2-.4M131.8 262.1l-.3-.5M140.4 262.5l-.4-.6M148.7 262.5l-.4-.7M157.1 262.5l-.4-.7M165.6 262.7l-.4-.7M174.1 263l-.4-.7M182.5 263.1l-.4-.7M190.9 263.1l-.4-.7M199.3 263.1l-.4-.7M207.7 263.2l-.4-.7M216.2 263.7l-.4-.7M224.7 264.6l-.3-.7M233.2 264.7l-.4-.7M241.8 264.2l-.4-.7M250 263.1l-.6-.6M258.1 261.8l-.8-.3M266.2 260.4l-.7 .4M273.7 259.5l-.2 .8M281.5 258.6l0 .8M289.4 257.6l.1 .8M297.4 257.1l.2 .8M305.5 256.7l.2 .8M313.7 256.7l.2 .8M322 256.7l.2 .8M330.3 256.8l.2 .8M338.7 257.2l.2 .8M347.1 257.3l.2 .8M355.5 257.4l.2 .8M363.9 257.7l.2 .8M372.3 258l.2 .8M380.6 258l.2 .8M389 258l.2 .8M397.3 258l.2 .8M405.7 258l.2 .8M89.9 270.2l-.2-.4M98.3 270.2l-.2-.4M106.7 270.4l-.3-.4M115.2 270.6l-.3-.5M123.4 270.3l-.3-.4M131.8 270.3l-.3-.4M140.4 270.7l-.4-.6M148.8 270.8l-.4-.6M157.2 270.8l-.4-.6M165.6 270.9l-.5-.7M174.2 271.2l-.5-.6M182.7 271.3l-.5-.6M191.1 271.3l-.5-.6M199.5 271.3l-.5-.6M208 271.7l-.5-.6M216.8 272.6l-.5-.7M225.5 272.9l-.5-.6M234.2 272.7l-.5-.6M242.9 272.1l-.6-.5M251.3 271l-.7-.3M259.3 269.7l-.8 0M267 268.4l-.7 .4M274.7 267.3l-.4 .7M282.5 266.2l-.2 .8M290.3 265.7l-.1 .8M298.2 265.4l0 .8M306.2 265.1l.1 .8M314.3 265l.1 .8M322.5 265l.1 .8M330.8 265.1l.1 .8M339.1 265.5l.2 .8M347.4 265.6l.2 .8M355.8 265.8l.2 .8M364.2 266.1l.2 .8M372.5 266.3l.2 .8M380.8 266.3l.2 .8M389.2 266.3l.2 .8M397.5 266.3l.2 .8M405.8 266.3l.2 .8M89.9 278.5l-.2-.3M98.3 278.5l-.2-.3M106.7 278.6l-.2-.4M115.2 278.8l-.3-.5M123.5 278.8l-.3-.5M131.8 278.6l-.3-.4M140.3 278.9l-.4-.5M148.9 279.2l-.5-.6M157.3 279.2l-.5-.6M165.7 279.2l-.5-.6M174.2 279.4l-.5-.6M182.8 279.6l-.5-.6M191.3 279.7l-.5-.6M199.7 279.8l-.5-.6M208.4 280.4l-.5-.6M217.4 281l-.5-.6M226.1 280.8l-.6-.5M234.8 280.4l-.7-.5M243.7 279.8l-.7-.3M252.2 278.8l-.8-.1M260.4 277.5l-.8 .1M268.2 276.2l-.7 .4M275.8 275.1l-.5 .6M283.3 274.4l-.4 .7M291 274.1l-.2 .8M298.8 273.9l-.1 .8M306.8 273.6l0 .8M314.9 273.3l0 .8M323 273.4l0 .8M331.2 273.6l.1 .8M339.5 273.9l.1 .8M347.8 274l.1 .8M356.1 274.2l.1 .8M364.4 274.6l.1 .8M372.7 274.6l.1 .8M381 274.6l.1 .8M389.3 274.6l.2 .8M397.7 274.7l.2 .8M406 274.7l.2 .8M90 286.9l-.2-.3M98.3 286.9l-.2-.3M106.7 286.9l-.2-.3M115.1 287l-.3-.4M123.5 287l-.3-.4M131.7 286.9l-.3-.3M140.2 287.1l-.3-.4M148.9 287.4l-.5-.5M157.4 287.5l-.5-.6M165.8 287.5l-.5-.6M174.4 287.9l-.5-.6M183 288.3l-.5-.6M191.7 288.6l-.5-.6M200.2 288.8l-.5-.6M208.9 288.9l-.6-.6M217.8 289l-.6-.5M226.5 288.7l-.7-.4M235.2 288.2l-.7-.3M243.9 287.5l-.8-.2M252.5 286.6l-.8 0M260.7 285.5l-.8 .2M268.6 284.4l-.7 .4M276.3 283.5l-.6 .5M283.9 283l-.4 .7M291.5 282.6l-.3 .7M299.4 282.4l-.2 .8M307.4 282.1l-.1 .8M315.4 281.9l-.1 .8M323.5 282l0 .8M331.6 282.2l0 .8M339.8 282.3l0 .8M348.1 282.4l0 .8M356.3 282.8l.1 .8M364.6 283l.1 .8M372.9 283l.1 .8M381.2 283l.1 .8M389.5 283l.1 .8M397.8 283l.1 .8M406.1 283l.1 .8M90 295.3l-.3-.3M98.3 295.3l-.3-.3M106.7 295.3l-.3-.3M115 295.3l-.3-.3M123.4 295.3l-.3-.3M131.8 295.4l-.3-.3M140.3 295.5l-.4-.4M149 295.8l-.5-.5M157.5 295.9l-.6-.6M166.1 296.3l-.5-.6M174.7 296.7l-.5-.6M183.3 297.1l-.5-.6M192 297.3l-.5-.6M200.6 297.2l-.6-.6M209.3 297.1l-.6-.5M218.2 297l-.7-.4M226.8 296.6l-.7-.4M235.4 296.1l-.8-.3M243.9 295.4l-.8-.1M252.3 294.6l-.8 0M260.6 293.7l-.8 .2M268.6 292.8l-.7 .4M276.4 292.1l-.6 .5M284.2 291.6l-.5 .6M291.9 291.2l-.4 .7M299.8 291l-.3 .7M307.8 290.8l-.2 .8M315.8 290.6l-.2 .8M323.9 290.7l-.1 .8M332 290.7l-.1 .8M340.2 290.7l0 .8M348.4 290.9l0 .8M356.6 291.3l0 .8M364.9 291.3l0 .8M373.1 291.4l0 .8M381.4 291.4l.1 .8M389.7 291.4l.1 .8M398 291.4l.1 .8M406.3 291.4l.1 .8M90 303.7l-.3-.3M98.4 303.6l-.3-.3M106.7 303.6l-.3-.3M115.1 303.6l-.3-.3M123.5 303.7l-.3-.3M132.1 303.9l-.4-.4M140.6 304.1l-.5-.5M149.1 304.2l-.6-.5M157.7 304.5l-.6-.6M166.4 305.1l-.5-.6M174.9 305.3l-.5-.6M183.6 305.4l-.6-.6M192.3 305.5l-.6-.5M200.8 305.3l-.6-.5M209.6 305.2l-.7-.4M218.4 305l-.7-.4M227 304.6l-.7-.3M235.5 304.1l-.8-.2M243.9 303.5l-.8-.1M252.2 302.8l-.8 .1M260.4 302l-.8 .2M268.5 301.3l-.7 .4M276.5 300.7l-.6 .5M284.3 300.2l-.5 .6M292.2 299.8l-.5 .7M300.1 299.5l-.4 .7M308.1 299.4l-.3 .7M316.1 299.2l-.2 .8M324.2 299.2l-.2 .8M332.3 299.1l-.1 .8M340.5 299.2l-.1 .8M348.6 299.6l-.1 .8M356.8 299.7l0 .8M365.1 299.7l0 .8M373.3 299.8l0 .8M381.6 299.8l0 .8M389.9 299.7l0 .8M398.2 299.7l0 .8M406.5 299.7l.1 .8M90.2 312.2l-.4-.4M98.5 312.2l-.4-.4M106.8 312.1l-.3-.3M115.1 312l-.3-.3M123.4 312l-.3-.3M131.9 312.1l-.4-.3M140.5 312.2l-.5-.4M149.2 312.6l-.6-.5M158 313.2l-.6-.6M166.6 313.6l-.5-.6M175.1 313.5l-.6-.6M183.8 313.6l-.6-.5M192.5 313.6l-.6-.5M201 313.4l-.7-.4M209.6 313.2l-.7-.4M218.4 313l-.7-.3M227 312.6l-.8-.2M235.5 312.2l-.8-.1M243.9 311.6l-.8 0M252.2 311l-.8 .1M260.4 310.3l-.8 .2M268.5 309.7l-.7 .4M276.5 309.2l-.7 .5M284.5 308.7l-.6 .6M292.4 308.4l-.5 .6M300.4 308.1l-.4 .7M308.4 307.9l-.4 .7M316.4 307.7l-.3 .7M324.5 307.6l-.2 .8M332.6 307.6l-.2 .8M340.7 307.8l-.2 .8M348.8 308.1l-.1 .8M357 308.1l-.1 .8M365.3 308.1l-.1 .8M373.5 308.2l0 .8M381.8 308.1l0 .8M390.1 308l0 .8M398.3 308.1l0 .8M406.6 308.2l0 .8M90.2 320.5l-.4-.3M98.6 320.6l-.4-.4M107 320.6l-.4-.4M115.2 320.4l-.3-.3M123.4 320.3l-.3-.3M131.8 320.3l-.3-.3M140.2 320.4l-.4-.3M149.1 320.9l-.6-.5M158.1 321.6l-.6-.6M166.7 321.8l-.6-.5M175.2 321.8l-.6-.5M183.8 321.8l-.6-.5M192.6 321.8l-.7-.4M201.1 321.6l-.7-.4M209.6 321.3l-.7-.3M218.1 321l-.8-.2M226.7 320.7l-.8-.2M235.3 320.3l-.8-.1M243.8 319.8l-.8 0M252.1 319.2l-.8 .1M260.4 318.7l-.8 .3M268.5 318.1l-.7 .4M276.6 317.6l-.7 .4M284.6 317.2l-.6 .5M292.6 316.9l-.5 .6M300.6 316.6l-.5 .7M308.6 316.4l-.4 .7M316.7 316.2l-.3 .7M324.8 316.2l-.3 .7M332.8 316.2l-.2 .8M340.9 316.4l-.2 .8M349 316.6l-.2 .8M357.2 316.6l-.1 .8M365.5 316.5l-.1 .8M373.7 316.5l-.1 .8M382 316.5l-.1 .8M390.2 316.5l0 .8M398.5 316.6l0 .8M406.8 316.8l0 .8M90.1 328.7l-.3-.3M98.5 328.8l-.3-.3M106.9 328.8l-.4-.3M115.2 328.7l-.3-.3M123.5 328.7l-.3-.2M131.8 328.7l-.3-.2M140.3 328.8l-.4-.3M149.2 329.4l-.6-.5M158.1 329.9l-.6-.5M166.8 330.1l-.6-.5M175.3 330l-.6-.5M183.8 329.9l-.7-.4M192.6 329.9l-.7-.4M201.2 329.7l-.7-.3M209.7 329.5l-.8-.3M218.1 329.2l-.8-.2M226.6 328.8l-.8-.1M235 328.5l-.8 0M243.4 328l-.8 .1M251.8 327.6l-.8 .2M260.2 327.1l-.8 .3M268.5 326.6l-.7 .4M276.6 326.1l-.7 .4M284.7 325.7l-.6 .5M292.7 325.4l-.6 .6M300.8 325.2l-.5 .6M308.8 325l-.4 .7M316.8 324.9l-.4 .7M324.9 324.9l-.3 .7M332.9 325l-.3 .7M341 325l-.3 .8M349.2 325l-.2 .8M357.4 325l-.2 .8M365.6 325l-.2 .8M373.9 324.9l-.1 .8M382.1 324.9l-.1 .8M390.4 324.9l-.1 .8M398.6 325.1l-.1 .8M406.9 325.5l0 .8M90.1 337.1l-.3-.3M98.4 337.1l-.3-.3M106.8 337.1l-.3-.2M115.1 337.1l-.3-.2M123.5 337.1l-.4-.2M132.1 337.3l-.5-.3M140.8 337.7l-.6-.5M149.5 338l-.6-.5M158.2 338.2l-.6-.5M166.9 338.3l-.7-.5M175.4 338.2l-.7-.4M183.9 338.1l-.7-.4M192.5 338l-.7-.3M201.2 337.9l-.7-.3M209.7 337.7l-.8-.2M218.2 337.4l-.8-.2M226.5 337.1l-.8-.1M234.9 336.7l-.8 0M243.2 336.3l-.8 .1M251.6 336l-.8 .2M259.9 335.5l-.8 .3M268.2 335.1l-.7 .3M276.4 334.7l-.7 .4M284.6 334.3l-.6 .5M292.6 334.1l-.6 .6M300.7 333.9l-.5 .6M308.7 333.8l-.5 .6M316.8 333.7l-.4 .7M324.9 333.6l-.4 .7M333 333.6l-.3 .7M341.2 333.5l-.3 .7M349.4 333.5l-.3 .8M357.6 333.4l-.2 .8M365.8 333.4l-.2 .8M374 333.3l-.2 .8M382.3 333.3l-.1 .8M390.5 333.4l-.1 .8M398.7 333.6l-.1 .8M407 333.9l-.1 .8M90.1 345.5l-.3-.2M98.4 345.5l-.3-.2M106.8 345.4l-.3-.2M115.2 345.5l-.4-.2M123.9 345.7l-.5-.3M132.7 346.2l-.6-.5M141.2 346.4l-.6-.5M149.7 346.4l-.6-.5M158.2 346.4l-.7-.5M166.8 346.5l-.7-.4M175.5 346.4l-.7-.4M183.9 346.3l-.7-.3M192.4 346.2l-.7-.3M201 346l-.8-.2M209.7 345.9l-.8-.2M218.2 345.6l-.8-.1M226.6 345.3l-.8 0M234.9 345l-.8 0M243.2 344.6l-.8 .1M251.5 344.3l-.8 .2M259.8 344l-.8 .3M268 343.6l-.7 .3M276.2 343.3l-.7 .4M284.3 343l-.6 .5M292.5 342.8l-.6 .5M300.6 342.6l-.5 .6M308.7 342.4l-.5 .6M316.9 342.3l-.5 .7M325 342.1l-.4 .7M333.2 342l-.4 .7M341.4 342l-.3 .7M349.5 341.9l-.3 .7M357.7 341.9l-.3 .8M366 341.8l-.2 .8M374.2 341.8l-.2 .8M382.4 341.7l-.2 .8M390.7 341.8l-.2 .8M398.9 342.2l-.1 .8M407.1 342.3l-.1 .8M90.1 353.8l-.3-.2M98.5 353.8l-.3-.2M106.9 353.9l-.4-.2M115.5 354.1l-.5-.3M124.3 354.5l-.6-.5M132.9 354.8l-.6-.5M141.3 354.8l-.6-.5M149.8 354.7l-.7-.5M158.2 354.6l-.7-.4M166.7 354.6l-.7-.4M175.4 354.7l-.7-.4M184 354.6l-.7-.3M192.4 354.4l-.8-.3M200.8 354.2l-.8-.2M209.5 354.1l-.8-.1M218.1 353.9l-.8-.1M226.5 353.6l-.8 0M234.9 353.3l-.8 .1M243.2 353l-.8 .1M251.5 352.6l-.8 .2M259.7 352.3l-.8 .3M268 352l-.7 .3M276.2 351.7l-.7 .4M284.3 351.5l-.7 .5M292.5 351.3l-.6 .5M300.7 351l-.6 .6M308.8 350.9l-.5 .6M317 350.7l-.5 .6M325.1 350.6l-.4 .7M333.3 350.5l-.4 .7M341.5 350.4l-.4 .7M349.7 350.3l-.3 .7M357.9 350.3l-.3 .7M366.1 350.2l-.3 .8M374.3 350.2l-.2 .8M382.5 350.2l-.2 .8M390.7 350.5l-.2 .8M398.9 350.7l-.2 .8M407.2 350.7l-.1 .8M90.1 362.2l-.4-.2M98.6 362.3l-.4-.3M107.1 362.5l-.5-.4M115.8 362.8l-.6-.5M124.5 363.1l-.6-.5M133 363.2l-.6-.5M141.4 363.1l-.7-.5M149.8 363l-.7-.4M158.2 362.9l-.7-.4M166.6 362.9l-.7-.4M175.3 362.9l-.7-.3M184 362.8l-.8-.3M192.4 362.7l-.8-.2M200.8 362.5l-.8-.2M209.2 362.3l-.8-.1M217.8 362.1l-.8-.1M226.3 361.9l-.8 0M234.8 361.6l-.8 .1M243.1 361.3l-.8 .1M251.4 361l-.8 .2M259.7 360.7l-.8 .3M267.9 360.4l-.7 .3M276.1 360.2l-.7 .4M284.3 359.9l-.7 .5M292.5 359.7l-.6 .5M300.7 359.5l-.6 .6M308.9 359.3l-.5 .6M317.1 359.2l-.5 .6M325.2 359.1l-.5 .7M333.4 359l-.4 .7M341.6 358.9l-.4 .7M349.8 358.8l-.4 .7M358 358.8l-.3 .7M366.2 358.8l-.3 .7M374.4 358.8l-.3 .8M382.6 358.9l-.2 .8M390.8 359.1l-.2 .8M399 359.2l-.2 .8M407.3 359.2l-.2 .8M90.3 370.8l-.4-.3M98.9 371l-.5-.4M107.4 371.2l-.6-.5M115.9 371.3l-.6-.5M124.6 371.5l-.6-.5M133.1 371.5l-.7-.5M141.5 371.4l-.7-.4M149.9 371.3l-.7-.4M158.2 371.2l-.7-.4M166.6 371.1l-.7-.3M175.1 371.1l-.7-.3M183.8 371l-.8-.2M192.4 370.9l-.8-.2M200.8 370.8l-.8-.1M209.2 370.6l-.8-.1M217.6 370.4l-.8 0M226 370.2l-.8 0M234.4 369.9l-.8 .1M242.7 369.7l-.8 .1M251 369.5l-.8 .2M259.3 369.2l-.8 .3M267.6 369l-.7 .3M275.9 368.8l-.7 .4M284.1 368.5l-.7 .4M292.4 368.3l-.6 .5M300.7 368.1l-.6 .5M308.9 367.9l-.6 .6M317 367.8l-.5 .6M325.1 367.8l-.5 .6M333.3 367.7l-.4 .7M341.5 367.6l-.4 .7M349.7 367.6l-.4 .7M357.9 367.6l-.3 .7M366.2 367.6l-.3 .7M374.4 367.6l-.3 .7M382.6 367.6l-.3 .8M390.9 367.6l-.2 .8M399.1 367.6l-.2 .8M407.4 367.6l-.2 .8M90.6 379.5l-.5-.5M99 379.6l-.6-.5M107.4 379.6l-.6-.5M115.9 379.6l-.6-.5M124.6 379.8l-.7-.5M133.1 379.8l-.7-.4M141.5 379.7l-.7-.4M149.9 379.6l-.7-.4M158.3 379.5l-.7-.3M166.7 379.4l-.7-.3M175.1 379.3l-.8-.3M183.6 379.3l-.8-.2M192.3 379.2l-.8-.2M200.8 379.1l-.8-.1M209.2 378.9l-.8-.1M217.6 378.7l-.8 0M225.9 378.5l-.8 0M234.2 378.3l-.8 .1M242.5 378.1l-.8 .2M250.8 377.9l-.8 .2M259.1 377.7l-.8 .3M267.4 377.5l-.7 .3M275.7 377.3l-.7 .4M283.9 377.1l-.7 .4M292.1 376.9l-.6 .5M300.4 376.7l-.6 .5M308.6 376.6l-.6 .6M316.8 376.5l-.5 .6M325 376.4l-.5 .6M333.2 376.4l-.5 .6M341.4 376.3l-.4 .7M349.6 376.3l-.4 .7M357.9 376.2l-.4 .7M366.2 376.1l-.3 .7M374.4 376.1l-.3 .7M382.7 376.1l-.3 .7M390.9 376l-.3 .8M399.2 376l-.2 .8M407.5 376l-.2 .8M90.7 388l-.6-.5M99.1 387.9l-.6-.5M107.5 387.9l-.6-.4M115.9 387.9l-.6-.4M124.5 388l-.7-.4M133.1 388.1l-.7-.4M141.5 388l-.7-.4M149.9 387.9l-.7-.3M158.3 387.8l-.7-.3M166.7 387.8l-.8-.3M175.1 387.6l-.8-.2M183.5 387.5l-.8-.2M192 387.4l-.8-.1M200.7 387.3l-.8-.1M209.2 387.2l-.8 0M217.6 387l-.8 0M225.9 386.8l-.8 .1M234.2 386.6l-.8 .1M242.5 386.4l-.8 .2M250.8 386.3l-.8 .2M259.1 386.1l-.8 .3M267.4 385.9l-.7 .3M275.6 385.7l-.7 .4M283.9 385.5l-.7 .4M292.1 385.4l-.6 .5M300.4 385.2l-.6 .5M308.6 385.1l-.6 .5M316.8 385l-.6 .6M325.1 384.9l-.5 .6M333.3 384.8l-.5 .6M341.5 384.8l-.5 .7M349.7 384.8l-.4 .7M357.9 384.8l-.4 .7M366.2 384.7l-.4 .7M374.5 384.6l-.3 .7M382.8 384.5l-.3 .7M391 384.4l-.3 .7M399.3 384.4l-.3 .8M407.6 384.4l-.2 .8M90.7 396.3l-.6-.5M99.1 396.3l-.6-.4M107.5 396.2l-.6-.4M115.9 396.2l-.6-.4M124.4 396.2l-.7-.4M133.1 396.4l-.7-.4M141.6 396.3l-.7-.3M150 396.3l-.7-.3M158.3 396.2l-.7-.3M166.7 396.1l-.8-.2M175.1 396l-.8-.2M183.5 395.9l-.8-.2M191.9 395.7l-.8-.1M200.3 395.6l-.8-.1M208.9 395.5l-.8 0M217.4 395.3l-.8 0M225.9 395.2l-.8 .1M234.2 395l-.8 .1M242.4 394.8l-.8 .2M250.6 394.7l-.8 .2M259 394.5l-.8 .3M267.3 394.3l-.7 .3M275.6 394.1l-.7 .4M283.9 394l-.7 .4M292.2 393.8l-.7 .5M300.4 393.7l-.6 .5M308.6 393.6l-.6 .5M316.9 393.4l-.6 .6M325.1 393.3l-.5 .6M333.4 393.2l-.5 .6M341.6 393.2l-.5 .6M349.8 393.1l-.4 .7M358 393.2l-.4 .7M366.1 393.4l-.4 .7M374.4 393.3l-.4 .7M382.8 393l-.3 .7M391.1 392.9l-.3 .7M399.3 392.9l-.3 .7M407.6 392.8l-.3 .8M90.8 404.7l-.6-.4M99.2 404.6l-.6-.4M107.5 404.6l-.6-.4M115.9 404.5l-.7-.4M124.3 404.5l-.7-.4M133 404.6l-.7-.4M141.6 404.6l-.7-.3M150 404.6l-.7-.3M158.4 404.5l-.8-.3M166.7 404.4l-.8-.2M175.1 404.3l-.8-.2M183.5 404.2l-.8-.1M191.8 404.1l-.8-.1M200.2 404l-.8-.1M208.6 403.8l-.8 0M217.1 403.7l-.8 0M225.6 403.5l-.8 .1M233.9 403.4l-.8 .1M242.1 403.3l-.8 .2M250.3 403.2l-.8 .2M258.6 403l-.7 .3M267.1 402.8l-.7 .3M275.6 402.5l-.7 .4M283.9 402.4l-.7 .4M292.2 402.2l-.7 .5M300.4 402.1l-.6 .5M308.7 402l-.6 .5M316.9 401.9l-.6 .6M325.2 401.8l-.5 .6M333.4 401.7l-.5 .6M341.6 401.6l-.5 .6M349.9 401.5l-.5 .7M358 401.7l-.4 .7M366.1 401.9l-.4 .7M374.4 401.9l-.4 .7M382.7 401.8l-.4 .7M391 401.6l-.3 .7M399.3 401.6l-.3 .7M407.6 401.4l-.3 .7M90.8 413l-.6-.4M99.2 413l-.6-.4M107.5 412.9l-.6-.4M115.9 412.9l-.7-.4M124.3 412.8l-.7-.3M132.9 412.9l-.7-.3M141.6 413l-.7-.3M150 412.9l-.8-.3M158.4 412.8l-.8-.2M166.8 412.7l-.8-.2M175.1 412.6l-.8-.2M183.5 412.5l-.8-.1M191.8 412.4l-.8-.1M200.2 412.3l-.8 0M208.6 412.2l-.8 0M216.9 412.1l-.8 0M225.3 411.9l-.8 .1M233.6 411.8l-.8 .1M241.9 411.7l-.8 .2M250.2 411.6l-.8 .2M258.5 411.4l-.7 .3M266.9 411.3l-.7 .3M275.4 411.1l-.7 .4M283.9 410.8l-.7 .4M292.2 410.6l-.7 .4M300.4 410.5l-.6 .5M308.7 410.4l-.6 .5M317 410.3l-.6 .5M325.2 410.2l-.6 .6M333.4 410.1l-.5 .6M341.7 410l-.5 .6M349.9 410l-.5 .6M358 410.2l-.4 .7M366.1 410.4l-.4 .7M374.4 410.3l-.4 .7M382.7 410.3l-.4 .7M391 410.3l-.4 .7M399.3 410.2l-.3 .7M407.6 410.1l-.3 .7" stroke="#0a0000" stroke-width="2.05" stroke-linecap="round" fill="none"/>
</g>
<path d="M121.60,58.80V63.30M121.60,417.70V422.20" stroke="#777" stroke-width="0.9" fill="none"/>
<path d="M173.70,58.80V63.30M173.70,417.70V422.20" stroke="#777" stroke-width="0.9" fill="none"/>
<path d="M225.80,58.80V63.30M225.80,417.70V422.20" stroke="#777" stroke-width="0.9" fill="none"/>
<path d="M277.60,58.80V63.30M277.60,417.70V422.20" stroke="#777" stroke-width="0.9" fill="none"/>
<path d="M330.00,58.80V63.30M330.00,417.70V422.20" stroke="#777" stroke-width="0.9" fill="none"/>
<path d="M382.20,58.80V63.30M382.20,417.70V422.20" stroke="#777" stroke-width="0.9" fill="none"/>
<path d="M80.00,79.00H84.50M408.70,79.00H413.20" stroke="#777" stroke-width="0.9" fill="none"/>
<path d="M80.00,131.00H84.50M408.70,131.00H413.20" stroke="#777" stroke-width="0.9" fill="none"/>
<path d="M80.00,183.20H84.50M408.70,183.20H413.20" stroke="#777" stroke-width="0.9" fill="none"/>
<path d="M80.00,235.20H84.50M408.70,235.20H413.20" stroke="#777" stroke-width="0.9" fill="none"/>
<path d="M80.00,287.40H84.50M408.70,287.40H413.20" stroke="#777" stroke-width="0.9" fill="none"/>
<path d="M80.00,339.50H84.50M408.70,339.50H413.20" stroke="#777" stroke-width="0.9" fill="none"/>
<path d="M80.00,391.70H84.50M408.70,391.70H413.20" stroke="#777" stroke-width="0.9" fill="none"/>
<rect x="84.50" y="63.30" width="324.20" height="354.40" fill="none" stroke="#777" stroke-width="1"/>
<text transform="translate(109.07,436.00) scale(1.1000,1)" font-size="18" fill="#111">300</text>
<text transform="translate(161.17,436.00) scale(1.1000,1)" font-size="18" fill="#111">400</text>
<text transform="translate(213.27,436.00) scale(1.1000,1)" font-size="18" fill="#111">500</text>
<text transform="translate(265.07,436.00) scale(1.1000,1)" font-size="18" fill="#111">600</text>
<text transform="translate(317.47,436.00) scale(1.1000,1)" font-size="18" fill="#111">700</text>
<text transform="translate(369.67,436.00) scale(1.1000,1)" font-size="18" fill="#111">800</text>
<text transform="translate(34.70,81.40) scale(1.1000,1)" font-size="18" fill="#111">-100</text>
<text transform="translate(34.70,133.40) scale(1.1000,1)" font-size="18" fill="#111">-200</text>
<text transform="translate(34.70,185.60) scale(1.1000,1)" font-size="18" fill="#111">-300</text>
<text transform="translate(34.70,237.60) scale(1.1000,1)" font-size="18" fill="#111">-400</text>
<text transform="translate(34.70,289.80) scale(1.1000,1)" font-size="18" fill="#111">-500</text>
<text transform="translate(34.70,341.90) scale(1.1000,1)" font-size="18" fill="#111">-600</text>
<text transform="translate(34.70,394.10) scale(1.1000,1)" font-size="18" fill="#111">-700</text>
<path d="M48.20,41.30 L55.13,20.80 L63.34,20.80 L70.20,41.30 L63.45,41.30 L62.39,37.51 L55.94,37.51 L54.80,41.30Z M57.00,33.98 L61.40,33.98 L59.22,25.78Z" fill="#000" fill-rule="evenodd"/>
<text transform="translate(88.80,28.30) scale(1.1087,1)" font-size="18.3" fill="#111">Aug 27, 2011</text>
<text transform="translate(90.40,48.80) scale(1.0857,1)" font-size="18.3" fill="#111">1200 UTC</text>
<text transform="translate(205.00,456.00) scale(1.0444,1)" font-size="19.5" fill="#111">LCC East (km)</text>
<text transform="translate(25.90,306.30) rotate(-90) scale(1.0403,1)" font-size="19.5" fill="#111">LCC North (km)</text>
<text transform="translate(90.00,471.00) scale(1.0066,1)" font-size="10.2" fill="#222">LCC Origin: 38.50N, 83.00W</text>
<text transform="translate(90.00,482.50) scale(1.0003,1)" font-size="10.2" fill="#222">Matching Parallels: 28.50N, 48.50N</text>
<text transform="translate(90.00,493.00) scale(0.9966,1)" font-size="10.2" fill="#222">Datum: NWS-84</text>
<rect x="428.80" y="81.80" width="16.00" height="17.25" fill="#9900cc" stroke="#555" stroke-width="0.6"/>
<text transform="translate(447.30,101.35) scale(1.0800,1)" font-size="18" fill="#111">75</text>
<rect x="428.80" y="99.05" width="16.00" height="17.25" fill="#cc33ff" stroke="#555" stroke-width="0.6"/>
<text transform="translate(447.30,118.61) scale(1.0800,1)" font-size="18" fill="#111">70</text>
<rect x="428.80" y="116.31" width="16.00" height="17.25" fill="#cc99cc" stroke="#555" stroke-width="0.6"/>
<text transform="translate(447.30,135.86) scale(1.0800,1)" font-size="18" fill="#111">65</text>
<rect x="428.80" y="133.56" width="16.00" height="17.25" fill="#ff99ff" stroke="#555" stroke-width="0.6"/>
<text transform="translate(447.30,153.11) scale(1.0800,1)" font-size="18" fill="#111">60</text>
<rect x="428.80" y="150.81" width="16.00" height="17.25" fill="#ffcccc" stroke="#555" stroke-width="0.6"/>
<text transform="translate(447.30,170.37) scale(1.0800,1)" font-size="18" fill="#111">55</text>
<rect x="428.80" y="168.07" width="16.00" height="17.25" fill="#ffcc99" stroke="#555" stroke-width="0.6"/>
<text transform="translate(447.30,187.62) scale(1.0800,1)" font-size="18" fill="#111">50</text>
<rect x="428.80" y="185.32" width="16.00" height="17.25" fill="#cc6633" stroke="#555" stroke-width="0.6"/>
<text transform="translate(447.30,204.87) scale(1.0800,1)" font-size="18" fill="#111">45</text>
<rect x="428.80" y="202.57" width="16.00" height="17.25" fill="#ff6633" stroke="#555" stroke-width="0.6"/>
<text transform="translate(447.30,222.13) scale(1.0800,1)" font-size="18" fill="#111">40</text>
<rect x="428.80" y="219.83" width="16.00" height="17.25" fill="#ff9933" stroke="#555" stroke-width="0.6"/>
<text transform="translate(447.30,239.38) scale(1.0800,1)" font-size="18" fill="#111">35</text>
<rect x="428.80" y="237.08" width="16.00" height="17.25" fill="#ffcc00" stroke="#555" stroke-width="0.6"/>
<text transform="translate(447.30,256.63) scale(1.0800,1)" font-size="18" fill="#111">30</text>
<rect x="428.80" y="254.33" width="16.00" height="17.25" fill="#ff9999" stroke="#555" stroke-width="0.6"/>
<text transform="translate(447.30,273.89) scale(1.0800,1)" font-size="18" fill="#111">25</text>
<rect x="428.80" y="271.59" width="16.00" height="17.25" fill="#ffcc99" stroke="#555" stroke-width="0.6"/>
<text transform="translate(447.30,291.14) scale(1.0800,1)" font-size="18" fill="#111">20</text>
<rect x="428.80" y="288.84" width="16.00" height="17.25" fill="#99cc99" stroke="#555" stroke-width="0.6"/>
<text transform="translate(447.30,308.39) scale(1.0800,1)" font-size="18" fill="#111">15</text>
<rect x="428.80" y="306.09" width="16.00" height="17.25" fill="#99ff99" stroke="#555" stroke-width="0.6"/>
<text transform="translate(447.30,325.65) scale(1.0800,1)" font-size="18" fill="#111">10</text>
<rect x="428.80" y="323.35" width="16.00" height="17.25" fill="#ffffff" stroke="#555" stroke-width="0.6"/>
<text transform="translate(447.30,342.90) scale(1.0800,1)" font-size="18" fill="#111">0</text>
<text transform="translate(426.00,363.00) scale(1.0800,1)" font-size="15.8" fill="#111">Wind</text>
<text transform="translate(426.00,385.00) scale(1.0800,1)" font-size="15.8" fill="#111">Speed</text>
<text transform="translate(426.00,406.75) scale(1.0800,1)" font-size="15.8" fill="#111">(m/s)</text>
<text transform="translate(369.75,476.75) scale(1.0989,1)" font-size="16.2" fill="#111">Wind Speed (m/s)</text>
<text transform="translate(431.00,496.00) scale(1.0800,1)" font-size="16.2" fill="#111">5</text>
<circle cx="417.00" cy="495.80" r="0.95" fill="#000"/>
<path d="M417.00,495.80h-0.70" stroke="#000" stroke-width="0.7"/>
<text transform="translate(431.00,511.75) scale(1.0800,1)" font-size="16.2" fill="#111">10</text>
<circle cx="417.50" cy="509.10" r="0.95" fill="#000"/>
<path d="M417.50,509.10h-1.80" stroke="#000" stroke-width="0.7"/>
<text transform="translate(431.00,528.00) scale(1.0800,1)" font-size="16.2" fill="#111">15</text>
<circle cx="418.50" cy="522.40" r="0.95" fill="#000"/>
<path d="M418.50,522.40h-3.40" stroke="#000" stroke-width="0.7"/>
<clipPath id="clipB"><rect x="571.50" y="66.10" width="322.50" height="348.75"/></clipPath>
<g clip-path="url(#clipB)">
<rect x="563.50" y="58.10" width="338.50" height="364.75" fill="#99ff99"/>
<g filter="url(#rgh)">
<path fill="#ffffff" d="M566.0,63.4L681.9,63.4L681.9,66.7L680.2,71.8L673.5,74.3L666.8,74.3L662.6,78.5L657.6,85.2L653.4,90.2L649.2,93.6L645.8,99.5L643.3,104.5L641.6,110.4L639.9,117.1L636.6,115.4L633.2,108.7L630.7,100.3L629.0,91.9L624.8,87.7L618.1,87.7L613.9,91.1L611.4,96.1L608.0,101.2L602.1,105.4L594.6,107.0L587.8,109.6L581.1,112.9L575.2,117.1L566.0,118.0ZM634.9,115.4L639.9,117.1L640.8,127.2L638.2,133.9L639.9,140.6L636.6,147.4L633.2,144.0L629.8,147.4L624.8,150.7L621.4,147.4L619.8,140.6L623.1,135.6L628.2,133.9L631.5,127.2L632.4,118.8ZM611.4,154.1L616.4,152.4L618.1,160.8L614.7,169.2L610.5,167.5L609.7,160.8ZM592.9,177.6L599.6,175.9L604.6,182.6L613.0,181.8L619.8,184.3L624.0,189.3L622.3,196.1L618.1,202.8L616.4,211.2L611.4,217.9L608.0,224.6L607.2,231.3L604.6,240.1L566.0,240.1L566.0,209.5L576.1,207.8L582.8,211.2L587.8,207.8L589.5,201.1L591.2,192.7L590.4,184.3ZM591.2,123.8L598.8,123.0L599.6,129.7L592.9,131.4ZM638.2,189.3L641.6,189.0L641.9,194.4L638.6,194.7Z"/>
<path fill="#99ff99" d="M574.4,98.6L582.8,97.8L583.6,103.7L575.2,104.0ZM606.3,78.5L613.0,77.6L613.9,83.5L607.2,84.4Z"/>
<path fill="#ffffff" d="M566.0,238.3L589.5,238.3L588.7,246.7L591.2,253.4L594.6,261.8L596.2,270.2L597.9,278.6L604.6,282.0L609.7,278.6L608.0,270.2L604.6,261.8L602.1,253.4L603.0,248.4L608.0,250.1L614.7,256.8L619.8,265.2L623.1,273.6L633.2,280.3L639.9,283.7L645.0,288.7L650.0,292.1L646.6,300.5L639.9,308.9L635.7,317.3L634.0,325.7L628.2,333.2L621.4,337.4L614.7,340.8L608.0,347.5L601.3,354.2L592.9,360.9L584.5,366.0L576.1,372.7L582.8,374.4L584.5,379.4L581.1,386.1L577.8,391.2L582.8,399.6L584.5,408.0L582.8,418.1L566.0,418.1Z"/>
<path fill="#99ff99" d="M606.3,297.1L614.7,290.4L623.1,288.7L633.2,292.1L636.6,297.1L629.8,298.8L621.4,297.1L616.4,302.2L609.7,303.8L605.5,300.5ZM571.9,307.2L579.4,310.6L587.8,313.9L596.2,319.0L597.1,324.0L591.2,324.0L584.5,319.0L576.1,315.6L571.9,312.2Z"/>
<path fill="#99cc99" d="M739.0,240.1L693.7,240.1L686.9,233.0L680.2,228.0L673.5,221.3L666.8,216.2L663.4,207.8L660.1,201.1L655.0,192.7L655.0,186.0L658.4,177.6L661.8,170.9L666.8,164.1L673.5,157.4L678.5,150.7L681.9,142.3L685.3,135.6L692.0,132.2L698.7,128.9L700.4,122.2L703.7,115.4L708.8,108.7L713.8,103.7L720.5,100.3L727.3,99.5L739.0,98.6Z"/>
<path fill="#99ff99" d="M720.5,160.8L727.3,159.1L732.3,164.1L727.3,169.2L721.4,167.5ZM703.7,147.4L717.2,142.3L718.9,145.7L707.1,151.6Z"/>
<path fill="#99cc99" d="M683.6,290.4L739.0,324.0L739.0,418.1L668.5,418.1L670.1,411.3L673.5,404.6L674.3,396.2L671.8,389.5L666.8,382.8L660.1,376.1L653.4,369.3L648.3,360.9L645.8,352.5L642.4,344.1L642.4,335.8L639.9,327.4L638.2,319.0L640.8,308.9L646.6,300.5L653.4,293.8L660.1,288.7L666.8,284.5L673.5,285.4ZM722.6,357.6L897.3,357.6L897.3,418.1L722.6,418.1ZM700.4,238.3L717.2,238.3L717.2,245.0L708.8,253.4L702.1,250.1ZM722.6,90.2L746.2,90.2L759.6,97.0L774.7,102.0L779.8,115.4L781.4,135.6L789.8,154.1L781.4,160.8L768.0,154.1L752.9,157.4L742.8,160.8L736.1,167.5L739.4,177.6L747.8,187.7L736.1,194.4L726.0,197.7L722.6,197.7ZM690.0,100.0L740.8,100.0L744.7,107.8L740.8,119.5L738.8,129.3L740.8,144.9L740.8,160.5L736.9,168.4L733.0,178.1L729.1,187.9L731.0,200.0L690.0,200.0Z"/>
<path fill="#99ff99" d="M729.1,109.8L738.8,112.7L748.6,111.7L764.2,117.6L770.1,123.4L768.1,132.2L762.3,137.1L752.5,139.1L740.8,144.9L731.0,148.8L719.3,154.7L704.6,158.6L703.7,152.7L714.4,146.9L726.1,139.1L727.1,129.3L731.0,119.5Z"/>
<path fill="#ffcc99" d="M690.0,137.1L699.8,138.1L700.7,148.8L698.8,160.5L690.0,162.5ZM690.0,178.1L704.6,177.1L719.3,180.1L720.3,200.0L690.0,200.0ZM712.5,133.2L722.2,133.0L722.4,139.1L712.7,139.3ZM736.9,162.5L748.6,158.6L758.4,162.5L757.4,174.2L748.6,178.1L740.8,180.1L735.9,174.2Z"/>
<path fill="#99cc99" d="M750.5,166.4L770.1,165.4L771.1,174.2L752.5,175.2ZM732.7,76.8L742.8,73.4L752.9,76.8L759.6,83.5L756.2,90.2L746.2,88.6L736.1,85.2ZM766.3,70.1L774.7,67.6L781.4,70.1L776.4,80.2L771.4,90.2L766.3,93.6L764.6,83.5Z"/>
<path fill="#ffcc99" d="M768.0,76.8L776.4,70.1L781.4,66.7L897.3,66.7L897.3,127.2L776.4,127.2L774.7,115.4L771.4,102.0L766.3,93.6L763.8,85.2Z"/>
<path fill="#99cc99" d="M781.4,66.7L873.8,66.7L872.1,71.8L863.7,75.1L853.7,73.4L848.6,78.5L840.2,80.2L830.1,78.5L820.1,80.2L813.4,83.5L806.6,80.2L799.9,81.8L793.2,78.5L786.5,81.8L783.1,76.8ZM831.8,80.2L836.9,80.2L836.9,93.6L833.5,93.6ZM788.2,105.4L796.6,103.7L805.0,107.0L813.4,110.4L816.7,115.4L810.0,113.8L801.6,110.4L793.2,108.7Z"/>
<path fill="#ffcc99" d="M742.8,160.8L759.6,159.1L781.4,160.8L779.8,177.6L768.0,180.9L751.2,177.6L739.4,174.2ZM722.6,157.4L736.1,160.8L734.4,177.6L722.6,180.9ZM751.2,96.1L757.9,93.6L766.3,96.1L769.7,102.0L763.0,105.4L754.6,103.7ZM693.7,180.9L700.4,177.6L705.4,180.9L710.5,187.7L717.2,189.3L723.9,192.7L730.6,194.4L739.0,196.1L739.0,228.0L730.6,226.3L725.6,221.3L717.2,217.9L713.8,211.2L708.8,207.8L703.7,201.1L698.7,194.4L695.3,187.7ZM690.3,149.0L693.7,144.0L698.7,139.0L700.4,144.0L698.7,152.4L695.3,157.4L691.1,155.8ZM712.1,136.4L720.5,134.8L721.4,138.1L713.8,139.8ZM686.9,169.2L693.7,167.5L695.3,172.5L689.5,175.1ZM683.6,282.8L689.5,283.7L693.7,273.6L700.4,263.5L708.8,253.4L717.2,245.0L723.9,240.0L736.0,240.0L897.3,273.6L897.3,367.7L887.3,372.7L882.2,376.1L877.2,381.1L873.8,377.7L867.1,372.7L860.4,371.0L853.7,372.7L846.9,373.5L840.2,374.4L833.5,372.7L826.8,367.7L820.1,360.9L816.7,360.1L810.0,363.5L803.3,364.3L796.6,363.5L789.8,362.6L783.1,363.5L776.4,366.0L769.7,369.3L763.0,372.7L756.2,377.7L751.2,379.4L746.2,374.4L739.4,374.4L732.7,372.7L726.0,371.0L736.0,374.4L725.6,369.3L717.2,362.6L710.5,359.3L703.7,354.2L698.7,349.2L700.4,342.5L698.7,336.6L690.3,335.8L683.6,337.4L678.5,332.4L670.1,327.4L665.9,320.6L667.6,312.2L666.8,302.2L668.5,292.1L673.5,285.4ZM825.1,379.4L830.1,377.7L833.5,382.8L830.1,387.8L825.9,386.1Z"/>
<path fill="#ff9999" d="M781.4,115.4L786.5,110.4L793.2,112.1L798.2,117.1L805.0,117.1L810.0,115.4L815.0,112.1L820.1,108.7L825.1,105.4L830.1,110.4L835.2,115.4L841.9,113.8L846.9,108.7L853.7,102.0L860.4,97.0L865.4,97.8L870.5,100.3L877.2,102.0L883.9,105.4L888.9,107.9L897.3,109.6L897.3,290.4L890.6,292.1L885.6,295.4L882.2,300.5L878.9,307.2L873.8,313.9L868.8,319.0L863.7,322.3L857.0,327.4L850.3,329.0L843.6,324.0L836.9,322.3L830.1,324.0L825.1,322.3L820.1,325.7L813.4,329.0L806.6,332.4L799.9,335.8L793.2,337.4L786.5,340.8L779.8,342.5L773.0,339.1L766.3,337.4L759.6,339.1L752.9,340.8L746.2,339.1L739.4,335.8L732.7,332.4L726.0,329.0L736.0,332.4L732.3,330.7L723.9,325.7L720.5,319.0L712.1,313.9L705.4,307.2L702.1,300.5L697.0,293.8L690.3,289.6L695.3,285.4L700.4,278.6L703.7,270.2L707.1,261.8L713.8,255.1L720.5,248.4L727.3,240.0L757.9,236.4L764.6,229.7L774.7,219.6L781.4,207.8L783.1,194.4L776.4,177.6L774.7,154.1L783.1,147.4L781.4,135.6Z"/>
<path fill="#ffcc99" d="M882.2,256.8L888.9,256.0L889.3,261.8L882.6,262.2ZM863.7,293.8L872.1,291.2L873.8,297.1L865.4,298.8ZM786.5,115.4L793.2,114.6L799.9,118.8L796.6,122.2L789.8,120.5ZM801.6,127.2L810.0,128.0L810.8,132.2L802.4,131.9ZM887.3,154.1L894.0,150.7L895.7,160.8L889.8,164.1Z"/>
<path fill="#ffcc00" d="M803.3,160.8L810.0,159.1L816.7,155.8L823.4,150.7L826.8,145.7L833.5,147.4L836.9,139.0L840.2,132.2L846.9,132.2L850.3,137.3L855.3,139.0L858.7,133.9L860.4,127.2L865.4,123.8L870.5,128.9L872.1,135.6L873.8,142.3L868.8,147.4L872.1,154.1L877.2,160.8L875.5,167.5L870.5,170.9L868.8,177.6L873.8,184.3L872.1,192.7L868.8,199.4L865.4,206.1L863.7,214.5L865.4,221.3L864.6,229.7L862.9,240.1L855.3,240.0L853.7,245.0L850.3,250.1L846.9,256.8L843.6,261.8L841.9,268.6L838.5,273.6L833.5,273.6L828.5,277.0L825.1,283.7L820.1,288.7L815.0,292.1L810.0,288.7L803.3,290.4L798.2,295.4L793.2,293.8L789.8,288.7L783.1,287.0L776.4,288.7L769.7,292.1L764.6,297.1L759.6,295.4L756.2,288.7L751.2,283.7L744.5,278.6L739.4,273.6L734.4,268.6L732.7,260.2L731.9,250.1L732.7,240.0L776.4,240.1L783.1,238.1L789.8,236.4L793.2,231.3L791.5,224.6L788.2,217.9L784.8,211.2L784.0,204.5L781.4,197.7L779.8,191.0L781.4,184.3L789.8,177.6L799.9,167.5ZM873.8,160.8L880.5,159.9L880.9,170.9L874.2,171.2ZM870.5,229.7L875.5,229.3L875.8,234.7L870.8,235.0ZM782.3,307.2L785.6,306.9L786.0,309.7L782.6,310.0ZM752.9,157.4L759.6,154.1L768.0,153.2L776.4,155.8L781.4,159.1L776.4,159.4L768.0,156.9L759.6,157.8L753.7,161.1ZM731.5,243.4L739.0,241.7L739.0,273.6L732.3,266.9Z"/>
<path fill="#ff9933" d="M801.6,175.9L806.6,174.2L813.4,177.6L820.1,180.9L826.8,184.3L831.8,192.7L833.5,202.8L833.5,214.5L830.1,221.3L826.8,228.0L825.1,240.1L810.0,240.1L810.0,228.0L808.3,217.9L805.0,207.8L801.6,199.4L799.9,189.3L800.8,180.9ZM788.2,169.2L794.9,167.5L799.9,170.9L800.8,180.9L798.2,189.3L793.2,187.7L788.2,180.9L785.6,175.9ZM793.2,211.2L798.2,214.5L801.6,224.6L798.2,234.7L789.8,238.1L784.8,241.4L776.4,241.4L783.1,236.4L791.5,231.3L794.9,224.6L794.0,217.9Z"/>
<path fill="#ffcc99" d="M783.0,204.5L782.1,209.9L779.5,215.0L775.4,219.3L770.0,222.7L763.7,224.8L757.0,225.5L750.3,224.8L744.0,222.7L738.6,219.3L734.5,215.0L731.9,209.9L731.0,204.5L731.9,199.1L734.5,194.0L738.6,189.7L744.0,186.3L750.3,184.2L757.0,183.5L763.7,184.2L770.0,186.3L775.4,189.7L779.5,194.0L782.1,199.1Z"/>
<path fill="#99cc99" d="M780.5,204.5L779.7,209.3L777.4,213.8L773.6,217.6L768.8,220.5L763.1,222.4L757.0,223.0L750.9,222.4L745.2,220.5L740.4,217.6L736.6,213.8L734.3,209.3L733.5,204.5L734.3,199.7L736.6,195.2L740.4,191.4L745.2,188.5L750.9,186.6L757.0,186.0L763.1,186.6L768.8,188.5L773.6,191.4L777.4,195.2L779.7,199.7Z"/>
<path fill="#99ff99" d="M777.0,203.5L776.3,207.6L774.3,211.5L771.0,214.8L766.8,217.4L761.8,219.0L756.5,219.5L751.2,219.0L746.2,217.4L742.0,214.8L738.7,211.5L736.7,207.6L736.0,203.5L736.7,199.4L738.7,195.5L742.0,192.2L746.2,189.6L751.2,188.0L756.5,187.5L761.8,188.0L766.8,189.6L771.0,192.2L774.3,195.5L776.3,199.4Z"/>
<path fill="#ffffff" d="M768.5,201.5L768.1,204.3L766.8,207.0L764.7,209.3L762.0,211.0L758.9,212.1L755.5,212.5L752.1,212.1L749.0,211.0L746.3,209.3L744.2,207.0L742.9,204.3L742.5,201.5L742.9,198.7L744.2,196.0L746.3,193.7L749.0,192.0L752.1,190.9L755.5,190.5L758.9,190.9L762.0,192.0L764.7,193.7L766.8,196.0L768.1,198.7Z"/>
</g>
<path fill="none" stroke="#0a0a0a" stroke-width="1.8" stroke-linejoin="round" d="M783.9,63.1L781.0,70.9L777.0,80.7L774.1,91.4L771.7,93.4L772.7,83.6L775.6,73.8L779.5,65.1L780.5,63.1"/>
<path fill="none" stroke="#0a0a0a" stroke-width="1.0" stroke-linejoin="round" d="M776.1,73.8L778.0,78.7L776.6,84.6L775.1,89.5"/>
<path fill="none" stroke="#0a0a0a" stroke-width="1.5" stroke-linejoin="round" d="M771.2,105.1L773.1,113.9L777.0,123.7L781.0,135.4L784.9,145.1L788.8,152.9L790.7,157.8"/>
<path fill="none" stroke="#0a0a0a" stroke-width="0.8" stroke-linejoin="round" d="M769.7,113.9L770.5,116.4L771.6,118.7L772.2,121.3L773.1,123.7L774.4,125.6L774.2,128.1L774.9,130.3L776.0,132.3L777.0,134.4L778.5,136.6L778.7,139.3L779.9,141.6L780.5,144.2L782.0,146.6L782.0,149.7L783.9,152.0"/>
<path fill="none" stroke="#0a0a0a" stroke-width="0.8" stroke-linejoin="round" d="M753.6,65.1L754.3,67.3L754.8,69.6L755.6,71.9L753.3,73.7L752.4,76.5L750.7,78.7L752.1,81.7L753.6,84.6L754.8,86.9L756.7,88.9L757.5,91.4L756.8,93.7L756.0,95.9L755.6,98.3L756.6,100.5L758.5,102.2L762.4,102.2L765.0,101.9L767.3,103.1L771.2,105.1"/>
<path fill="none" stroke="#0a0a0a" stroke-width="0.8" stroke-linejoin="round" d="M757.5,102.2L755.6,103.7L753.6,105.1L751.5,106.3L749.7,108.0L748.0,105.9L745.8,104.1L743.4,102.6L741.9,100.2L740.4,98.2L740.4,95.7L739.9,93.4L737.7,91.7L736.0,89.5L733.8,88.6L731.5,88.5L729.2,88.5L726.8,87.8L724.3,87.5"/>
<path fill="none" stroke="#0a0a0a" stroke-width="0.8" stroke-linejoin="round" d="M731.1,71.9L733.1,73.2L734.2,75.4L736.0,76.8L737.4,78.9L738.8,81.1L740.9,82.6L743.7,84.1L745.8,86.5L749.7,88.5L751.3,86.2L753.6,84.6"/>
<path fill="none" stroke="#0a0a0a" stroke-width="0.8" stroke-linejoin="round" d="M740.9,63.1L743.7,64.0L745.8,66.0L748.8,65.9L751.7,65.1L753.6,65.1"/>
<path fill="none" stroke="#0a0a0a" stroke-width="1.3" stroke-linejoin="round" d="M788.8,149.2L793.6,157.0L798.5,166.8L801.5,176.5L801.9,186.3L800.5,194.1L794.6,200.0L786.8,205.8L779.0,211.7L771.2,218.5L763.4,226.3L756.5,235.1"/>
<path fill="none" stroke="#0a0a0a" stroke-width="0.8" stroke-linejoin="round" d="M741.9,160.9L744.1,160.0L746.4,159.6L748.7,159.0L750.9,158.3L753.1,157.9L755.3,157.3L757.5,157.0L760.2,156.6L762.6,155.3L765.3,155.1L768.0,154.6L770.3,152.9L773.1,153.1L775.5,152.0L777.9,151.4L780.3,150.3L782.9,150.2L785.9,150.1L788.8,149.2"/>
<path fill="none" stroke="#0a0a0a" stroke-width="0.8" stroke-linejoin="round" d="M741.9,161.9L744.1,161.8L746.3,162.2L748.5,162.4L750.7,161.4L753.1,160.7L755.6,161.1L758.1,160.7L760.4,159.9L763.2,160.0L765.8,158.8L768.4,158.4L771.2,159.0L774.1,158.5L777.0,158.5L779.5,160.0L782.4,160.3L784.9,161.9L786.2,164.2L787.7,166.3L788.8,168.7L787.8,171.3L787.3,173.8L787.8,176.5L785.9,178.2L783.9,179.5L781.4,180.2L780.0,182.4L779.2,185.7L777.0,188.3L775.1,189.9L774.1,192.2L771.4,192.8L769.2,194.6L766.6,194.5L764.4,193.1L761.5,192.3L758.5,192.2L756.1,191.6L753.6,191.2L751.6,189.0L748.7,188.3L746.8,185.3L745.2,187.4L742.8,188.5L740.9,190.2L738.5,189.3L736.1,189.5L733.6,189.8L731.1,189.2"/>
<path fill="none" stroke="#0a0a0a" stroke-width="0.8" stroke-linejoin="round" d="M749.7,195.1L752.4,196.1L754.6,198.0L754.8,200.5L755.6,202.9L753.2,204.2L750.7,204.9L748.7,207.8L746.4,209.6L743.5,210.4L740.9,211.7L738.6,212.0L736.4,212.4L734.1,212.7L734.6,215.1L735.1,217.6L737.7,218.1L739.9,219.5L742.0,218.1L744.5,217.9L746.4,216.3L748.7,215.6L751.1,214.9L753.5,214.1L755.6,212.7L756.5,215.5L758.5,217.6L760.9,218.0L763.0,216.4L765.3,216.6L769.2,215.6L770.9,213.9L773.4,213.4L775.1,211.7"/>
<path fill="none" stroke="#0a0a0a" stroke-width="0.8" stroke-linejoin="round" d="M773.1,159.0L773.1,161.4L773.1,163.9L773.8,166.3L774.1,168.7L774.4,171.3L775.0,173.9L775.1,176.5L776.6,174.2L776.0,171.2L777.0,168.7L776.3,166.6L776.4,164.4L776.3,162.2L776.6,159.9"/>
<path fill="none" stroke="#0a0a0a" stroke-width="0.8" stroke-linejoin="round" d="M758.5,217.6L757.3,220.4L757.5,223.4L757.8,225.8L758.4,228.1L759.5,230.3L757.4,232.3L756.5,235.1"/>
<path fill="none" stroke="#0a0a0a" stroke-width="1.9" stroke-linejoin="round" d="M758.3,235.0L754.3,233.7L746.0,236.0L734.3,238.4L724.3,242.7L726.1,239.2L717.7,244.2L709.3,252.6L700.9,262.7L695.0,272.0L691.6,278.7L690.3,283.2"/>
<path fill="none" stroke="#0a0a0a" stroke-width="1.1" stroke-linejoin="round" d="M690.3,283.2L684.1,283.2L675.7,283.7L667.3,285.4L660.6,287.9L653.9,293.0L647.1,299.7L640.4,308.1L636.2,316.5L634.5,324.9L628.7,333.3L621.9,336.6L615.2,340.0L608.5,346.7L601.8,353.4L593.4,360.1L585.0,365.2L576.6,371.9L571.2,375.3"/>
<path fill="none" stroke="#0a0a0a" stroke-width="1.0" stroke-linejoin="round" d="M692.8,275.3L691.6,266.9L690.5,272.8"/>
<path fill="none" stroke="#0a0a0a" stroke-width="0.8" stroke-linejoin="round" d="M634.5,321.5L631.5,317.8L633.9,319.5L630.8,321.2"/>
<path fill="none" stroke="#0a0a0a" stroke-width="0.8" stroke-linejoin="round" d="M625.3,335.0L622.3,331.3L624.6,332.9L621.6,334.6"/>
<path fill="none" stroke="#0a0a0a" stroke-width="0.8" stroke-linejoin="round" d="M615.2,340.0L612.2,336.3L614.5,338.0L611.5,339.7"/>
<path fill="none" stroke="#0a0a0a" stroke-width="0.8" stroke-linejoin="round" d="M608.5,346.7L605.5,343.0L607.8,344.7L604.8,346.4"/>
<path fill="none" stroke="#0a0a0a" stroke-width="0.8" stroke-linejoin="round" d="M600.1,351.7L597.1,348.1L599.4,349.7L596.4,351.4"/>
<path fill="none" stroke="#0a0a0a" stroke-width="0.8" stroke-linejoin="round" d="M586.7,363.5L583.6,359.8L586.0,361.5L583.0,363.2"/>
<path fill="none" stroke="#0a0a0a" stroke-width="0.8" stroke-linejoin="round" d="M576.6,370.2L573.6,366.5L575.9,368.2L572.9,369.9"/>
<path fill="none" stroke="#0a0a0a" stroke-width="0.8" stroke-linejoin="round" d="M573.2,373.6L570.2,369.9L572.5,371.6L569.5,373.3"/>
<path fill="none" stroke="#333" stroke-width="0.6" stroke-linejoin="round" d="M571.2,135.1L631.1,132.8L697.7,129.5L774.3,124.5"/>
<path fill="none" stroke="#333" stroke-width="0.6" stroke-linejoin="round" d="M607.8,232.7L624.4,247.7L641.1,262.7L654.4,274.3L661.7,285.0"/>
<path fill="none" stroke="#333" stroke-width="0.6" stroke-linejoin="round" d="M574.5,65.9L576.2,71.2L572.8,76.2L577.8,81.2"/>
<line x1="571.0" y1="111.3" x2="895.2" y2="95.3" stroke="#333" stroke-width="0.6" stroke-dasharray="17.6 19.4" stroke-dashoffset="-0.5"/>
<line x1="571.0" y1="224.6" x2="895.2" y2="208.6" stroke="#333" stroke-width="0.6" stroke-dasharray="17.6 19.4" stroke-dashoffset="-0.5"/>
<line x1="571.0" y1="337.7" x2="895.2" y2="321.7" stroke="#333" stroke-width="0.6" stroke-dasharray="17.6 19.4" stroke-dashoffset="-0.5"/>
<line x1="632.9" y1="62.5" x2="644.6" y2="416.9" stroke="#333" stroke-width="0.6" stroke-dasharray="18 19" stroke-dashoffset="-4.0"/>
<line x1="727.0" y1="62.5" x2="733.4" y2="416.9" stroke="#333" stroke-width="0.6" stroke-dasharray="18 19" stroke-dashoffset="-4.0"/>
<line x1="820.5" y1="62.5" x2="821.9" y2="416.9" stroke="#333" stroke-width="0.6" stroke-dasharray="18 19" stroke-dashoffset="-4.0"/>
</g>
<g clip-path="url(#clipB)">
<path d="M576 68l.2-.8M584.4 68l.2-.8M592.7 68l.2-.8M601 68l.2-.8M609.4 68l.2-.8M617.7 68l.3-.8M626 68l.3-.7M634.4 68l.3-.7M642.7 68l.3-.7M651 68l.4-.7M659.3 68l.4-.7M667.6 68l.5-.8M675.9 68.1l.7-1.1M683.9 68.5l1.3-1.7M692.1 68.6l1.6-1.9M700.4 68.5l1.7-1.9M708.7 68.5l1.8-1.8M717 68.4l1.9-1.7M725.3 68.4l2-1.6M733.6 68.3l2.1-1.5M741.9 68.3l2.3-1.4M750.2 68.2l2.3-1.2M758.5 68.1l2.4-1.1M766.5 68.1l3.1-1M774.4 67.7l4-.2M782.8 67.3l3.9 .5M791.2 67.2l3.7 .7M799.6 67.2l3.6 .9M808 67.1l3.6 1M816.3 67l3.6 1.2M824.7 66.9l3.5 1.3M833.1 66.9l3.5 1.5M841.4 66.8l3.4 1.6M849.8 66.7l3.4 1.7M858.1 66.7l3.4 1.9M866.4 66.6l3.5 2.1M874.5 66.3l4 2.5M882.8 66.2l4.1 2.8M891.2 66.2l4.1 2.9M576 76.4l.1-.8M584.4 76.4l.2-.8M592.7 76.4l.2-.8M601 76.4l.2-.8M609.3 76.5l.3-1M617.7 76.4l.3-.9M626 76.4l.3-.8M634.4 76.4l.3-.7M642.7 76.4l.3-.7M651 76.4l.3-.7M659.3 76.5l.5-1M667.5 76.7l.8-1.4M675.7 76.8l1.1-1.7M683.9 77l1.4-2M692.2 77l1.6-2M700.4 76.9l1.7-1.9M708.7 76.9l1.8-1.8M717 76.8l1.9-1.7M725.3 76.8l2-1.6M733.5 76.8l2.4-1.7M741.6 76.8l2.8-1.7M750 76.7l2.7-1.4M758.4 76.6l2.7-1.2M766.1 76.6l3.8-1.3M774 76.1l4.7-.2M782.5 75.7l4.4 .6M791.1 75.6l4 .8M799.5 75.5l3.9 1M807.9 75.4l3.8 1.2M816.2 75.3l3.8 1.3M824.5 75.2l3.8 1.5M832.9 75.2l3.7 1.7M841.3 75.1l3.7 1.8M849.5 74.9l3.9 2.1M857.8 74.8l4 2.3M866.2 74.7l4 2.5M874.4 74.6l4.2 2.8M882.8 74.5l4.2 3M891.1 74.5l4.1 3.1M576 84.8l.1-.8M584.4 84.8l.1-.8M592.7 84.8l.2-.8M601 84.8l.2-.9M609.3 84.9l.3-1.1M617.7 84.9l.3-1.1M626 84.9l.3-1M634.4 84.8l.3-.8M642.7 84.7l.3-.8M651 84.8l.4-.9M659.2 85.2l.8-1.6M667.3 85.4l1.1-2.1M675.6 85.4l1.3-2.1M683.9 85.4l1.4-2.1M692.2 85.4l1.5-2M700.5 85.3l1.6-1.9M708.8 85.3l1.7-1.8M717 85.2l1.8-1.8M725.3 85.2l2.1-1.7M733.4 85.3l2.5-1.8M741.5 85.3l3-1.9M749.8 85.2l3.1-1.7M758.2 85.1l3.1-1.4M765.9 85.1l4.3-1.4M773.8 84.5l5.1-.2M782.3 84l4.9 .8M790.7 83.9l4.8 1M799.1 83.7l4.7 1.3M807.5 83.6l4.5 1.5M815.9 83.5l4.5 1.7M824.2 83.4l4.5 1.9M832.7 83.4l4.1 2M841 83.2l4.3 2.3M849.3 83.1l4.4 2.5M857.6 83l4.4 2.7M866 83l4.3 2.8M874.4 82.9l4.2 3M882.8 82.8l4.2 3.1M891.2 82.8l4.1 3.2M576 93.2l.1-.9M584.4 93.2l.1-.9M592.7 93.2l.1-.8M601.1 93.2l.2-.8M609.4 93.4l.3-1.2M617.6 93.7l.5-1.9M625.9 93.6l.5-1.7M634.4 93.2l.3-.9M642.7 93.2l.3-.9M650.9 93.5l.6-1.6M659.1 93.8l.9-2.2M667.3 93.9l1.1-2.3M675.6 93.9l1.2-2.2M683.9 93.8l1.3-2.2M692.2 93.8l1.5-2.1M700.5 93.8l1.6-2.1M708.7 93.7l1.8-2M717 93.7l2-2M725.1 93.8l2.5-2.1M733.2 93.8l2.8-2.1M741.5 93.7l3.1-2M749.7 93.6l3.3-1.8M757.9 93.5l3.5-1.6M765.8 93.5l4.4-1.4M773.8 92.9l5.1-.2M782.2 92.3l5.1 .8M790.6 92.2l5 1.2M798.9 92l4.9 1.4M807.3 91.9l4.9 1.7M815.7 91.8l4.8 1.9M824.1 91.7l4.7 2.1M832.6 91.6l4.4 2.2M840.9 91.5l4.5 2.5M849.3 91.4l4.5 2.7M857.6 91.3l4.5 2.9M866 91.2l4.4 3M874.4 91.2l4.2 3.1M882.8 91.2l4.1 3.2M891.2 91.1l4 3.3M576 101.8l.1-1.3M584.4 101.7l.1-1.2M592.7 101.6l.1-1M601 101.8l.2-1.2M609.3 102.1l.3-1.9M617.6 102.3l.5-2.4M625.9 102.2l.5-2.1M634.4 101.7l.3-1.2M642.7 101.8l.4-1.3M650.8 102.2l.7-2.1M659.1 102.3l.9-2.3M667.4 102.3l1-2.3M675.7 102.3l1.1-2.3M683.9 102.3l1.3-2.3M692.1 102.4l1.7-2.6M700.3 102.5l2-2.7M708.5 102.4l2.2-2.6M716.8 102.4l2.4-2.5M724.9 102.4l2.8-2.5M733.2 102.3l3-2.3M741.4 102.2l3.2-2.1M749.5 102.1l3.6-2M757.6 102.1l4.1-1.8M765.8 101.8l4.4-1.4M773.9 101.2l5-.2M782.2 100.7l5.1 .9M790.7 100.5l4.8 1.2M799 100.4l4.7 1.5M807.4 100.3l4.8 1.8M815.7 100.1l4.8 2.1M824.1 100l4.8 2.3M832.5 99.9l4.6 2.5M840.9 99.8l4.5 2.7M849.1 99.6l4.7 3M857.3 99.4l5 3.4M865.7 99.3l4.9 3.6M874.3 99.4l4.5 3.5M882.8 99.4l4.2 3.5M891.2 99.4l4 3.5M576.1 110.1l.1-1.1M584.4 110.3l.1-1.5M592.7 110.4l.2-1.8M601 110.6l.2-2.1M609.3 110.7l.3-2.4M617.6 110.8l.4-2.5M625.9 110.7l.4-2.3M634.3 110.3l.3-1.5M642.6 110.4l.4-1.7M650.9 110.7l.7-2.3M659.1 110.7l.8-2.4M667.4 110.7l.9-2.3M675.7 110.7l1-2.3M684 110.7l1.2-2.4M692.1 111l1.7-3M700.2 111.1l2.1-3.1M708.4 111l2.3-3M716.7 110.9l2.6-2.8M725 110.8l2.7-2.6M733.3 110.6l2.7-2.2M741.6 110.5l2.9-1.9M749.8 110.4l3.2-1.7M757.9 110.3l3.6-1.6M766.1 110.1l4-1.2M773.9 109.6l4.9-.2M782.1 109l5.3 1M790.6 108.9l4.9 1.3M799.1 108.8l4.6 1.5M807.4 108.6l4.7 1.8M815.5 108.3l5.2 2.4M823.8 108.2l5.2 2.7M832.4 108.1l4.8 2.8M840.7 108l4.8 3M848.9 107.8l5.1 3.5M857.2 107.6l5.2 3.8M865.6 107.5l5.1 4M874.1 107.5l4.9 4.1M882.5 107.5l4.6 4.1M891 107.5l4.4 4.1M576.1 118.9l0-1.9M584.4 119l.1-2.3M592.7 119.1l.1-2.3M601.1 119.1l.2-2.4M609.4 119.2l.2-2.5M617.7 119.2l.3-2.5M626 119.1l.3-2.3M634.4 118.7l.3-1.6M642.7 118.9l.4-2M650.9 119.1l.6-2.4M659.2 119.1l.7-2.4M667.5 119.1l.8-2.4M675.8 119.1l.9-2.3M684 119.1l1.1-2.5M692.1 119.4l1.6-3.1M700.3 119.5l2-3.3M708.5 119.5l2.2-3.1M716.7 119.4l2.5-2.9M725.1 119.2l2.5-2.5M733.6 118.8l2.2-1.8M741.9 118.7l2.2-1.5M750.1 118.6l2.4-1.4M758.3 118.5l2.7-1.2M766.3 118.5l3.5-1.1M774 118.1l4.8-.4M781.8 117.4l5.8 1.1M790.3 117.1l5.5 1.6M798.7 116.9l5.4 1.9M807 116.7l5.5 2.3M815.3 116.5l5.7 2.8M823.6 116.3l5.6 3.1M832.1 116.3l5.3 3.3M840.5 116.1l5.2 3.5M848.9 116l5.2 3.8M857.3 115.9l5.1 4M865.7 115.8l5 4.2M874.1 115.8l4.9 4.3M882.5 115.7l4.7 4.4M890.9 115.6l4.6 4.5M576.1 127.5l-.1-2.5M584.5 127.5l0-2.4M592.8 127.3l0-2.1M601.1 127.4l.1-2.2M609.4 127.5l.1-2.5M617.7 127.5l.2-2.5M626.1 127.4l.2-2.2M634.4 127l.2-1.4M642.7 127.3l.3-2M651 127.5l.5-2.4M659.3 127.5l.6-2.4M667.5 127.5l.7-2.4M675.8 127.5l.8-2.4M684.1 127.6l1-2.5M692.2 127.9l1.5-3.2M700.3 128l1.9-3.4M708.6 127.9l2.1-3.2M716.8 127.8l2.4-3.1M725.1 127.5l2.3-2.5M733.7 127.2l2-1.8M742 127l2-1.5M750.2 126.9l2.2-1.3M758.5 126.8l2.4-1.1M766.5 126.8l3.1-1M774.1 126.6l4.5-.6M781.8 125.8l5.9 1M790.1 125.4l6 1.9M798.5 125.2l5.8 2.3M806.9 125l5.7 2.7M815.3 124.8l5.7 3.1M823.7 124.6l5.6 3.4M832.1 124.5l5.4 3.6M840.5 124.3l5.3 3.9M848.9 124.3l5.2 4.1M857.2 124.1l5.2 4.5M865.6 124l5.2 4.7M874.1 124l4.8 4.5M882.6 124l4.6 4.6M891 123.9l4.5 4.7M576.2 135.9l-.2-2.5M584.5 135.9l-.1-2.5M592.8 135.9l-.1-2.3M601.2 135.9l0-2.4M609.5 135.9l0-2.5M617.8 135.8l.1-2.3M626.1 135.5l.1-1.6M634.5 135.3l.1-1.2M642.7 135.7l.2-2.1M651 135.9l.4-2.5M659.3 135.9l.5-2.5M667.6 135.9l.6-2.5M675.9 135.9l.7-2.5M684.1 136.1l1-2.9M692.2 136.5l1.5-3.6M700.4 136.5l1.7-3.6M708.6 136.4l2-3.5M716.8 136.4l2.4-3.4M725.2 135.9l2.1-2.5M733.7 135.6l1.9-1.8M742 135.5l2.1-1.6M750.2 135.4l2.4-1.4M758.3 135.3l2.7-1.2M766.4 135.2l3.3-1M774.3 135l4.2-.6M781.8 134.2l5.8 1M790 133.6l6.1 2.1M798.5 133.4l5.8 2.5M806.9 133.2l5.6 2.9M815.3 133l5.6 3.3M823.7 132.9l5.4 3.6M832.1 132.7l5.5 4M840.3 132.4l5.7 4.5M848.8 132.4l5.4 4.6M857.1 132.2l5.5 5M865.5 132.1l5.3 5.2M874.2 132.3l4.7 4.8M882.7 132.3l4.4 4.8M891.1 132.3l4.3 4.9M576.2 144.3l-.3-2.5M584.6 144.3l-.2-2.5M592.9 144.3l-.2-2.5M601.2 144.3l-.2-2.5M609.5 144.3l-.1-2.5M617.8 144.1l0-2.1M626.2 143.7l0-1.3M634.5 143.8l0-1.5M642.8 144.2l.1-2.2M651.1 144.3l.2-2.5M659.4 144.3l.3-2.5M667.7 144.3l.4-2.5M676 144.4l.6-2.7M684.1 144.8l.9-3.5M692.2 145.2l1.4-4.3M700.5 145.1l1.6-4M708.8 144.8l1.7-3.4M717 144.6l1.9-3M725.4 144.2l1.8-2.3M733.7 144.1l2-2M741.8 144l2.4-1.9M749.9 144l3-1.8M758 143.8l3.4-1.5M766.2 143.6l3.7-1M774.3 143.3l4.2-.5M781.9 142.6l5.7 .8M790 141.9l6.1 2.2M798.5 141.7l5.8 2.8M806.9 141.5l5.6 3.2M815.4 141.3l5.5 3.6M823.7 141.1l5.4 4M832 140.8l5.6 4.5M840.2 140.5l5.8 5.1M848.7 140.4l5.6 5.3M857.1 140.3l5.5 5.5M865.6 140.3l5.2 5.5M874.3 140.6l4.5 5M882.8 140.6l4.2 4.9M891.2 140.6l4.1 5M576.3 152.7l-.4-2.5M584.6 152.7l-.4-2.5M592.9 152.7l-.3-2.5M601.3 152.7l-.3-2.5M609.6 152.6l-.2-2.3M617.9 152.5l-.2-2.1M626.2 152.5l-.1-2.1M634.5 152.6l-.1-2.3M642.9 152.7l0-2.5M651.2 152.7l.1-2.5M659.5 152.7l.1-2.5M667.8 152.7l.2-2.6M676 153l.4-3M684.2 153.4l.7-3.8M692.4 153.7l1.1-4.5M700.6 153.4l1.3-4M709 152.9l1.3-3M717.3 152.8l1.4-2.7M725.4 152.8l1.8-2.7M733.5 152.8l2.4-2.7M741.6 152.7l2.9-2.5M749.6 152.5l3.5-2.2M757.6 152.3l4.2-1.8M765.8 152l4.5-1.2M773.8 151.7l5.1-.5M781.7 151.1l6.1 .7M790 150.3l6.1 2.3M798.5 149.9l5.7 3.1M807 149.7l5.6 3.6M815.3 149.4l5.6 4.1M823.6 149.1l5.8 4.7M831.9 148.9l5.8 5.1M840.3 148.7l5.6 5.4M848.8 148.6l5.4 5.6M857.2 148.6l5.3 5.8M865.7 148.6l4.9 5.7M874.4 148.8l4.3 5.2M882.9 149l3.9 5M891.4 149.1l3.6 4.8M576.3 161.1l-.5-2.5M584.7 161.1l-.5-2.5M593 161.1l-.4-2.5M601.3 161l-.4-2.4M609.6 160.8l-.3-1.9M617.9 160.8l-.2-1.9M626.3 161l-.3-2.4M634.6 161.1l-.2-2.5M642.9 161.1l-.2-2.5M651.3 161.1l-.1-2.5M659.6 161.1l0-2.6M667.9 161.3l.1-2.9M676.1 161.6l.2-3.6M684.4 161.8l.4-3.9M692.6 162l.7-4.3M700.8 161.8l.9-3.9M709.1 161.5l1.1-3.4M717.2 161.6l1.5-3.5M725.2 161.7l2.2-3.8M733.3 161.6l2.7-3.5M741.4 161.4l3.3-3.1M749.3 161.2l4.1-2.7M757.2 160.9l4.9-2.1M765.5 160.4l5.1-1.1M773.4 160l6-.3M781.5 159.4l6.5 .8M790 158.7l6.2 2.3M798.5 158.1l5.9 3.5M806.8 157.7l5.9 4.3M815.2 157.4l5.9 4.8M823.6 157.2l5.7 5.2M832 157.1l5.5 5.5M840.5 157l5.3 5.7M848.9 156.9l5.2 5.9M857.3 156.8l5 6M865.8 156.8l4.8 6.1M874.4 157l4.3 5.8M883 157.2l3.8 5.2M891.6 157.5l3.3 4.8M576.4 169.4l-.6-2.4M584.7 169.4l-.6-2.4M593.1 169.4l-.5-2.4M601.4 169.4l-.5-2.4M609.7 169.3l-.4-2.2M618 169.3l-.4-2.2M626.4 169.4l-.4-2.5M634.7 169.5l-.4-2.5M643 169.5l-.3-2.5M651.3 169.5l-.3-2.5M659.7 169.6l-.2-2.9M668 170l-.2-3.5M676.3 170.1l-.1-3.8M684.5 170.2l.1-4M692.8 170.3l.3-4.2M701 170.2l.5-3.9M709.2 170.1l.8-3.8M717.4 170.2l1.2-3.9M725.3 170.4l1.9-4.4M733.3 170.3l2.7-4.2M741.3 170.1l3.4-3.7M749.3 169.7l4.2-3M757.3 169.2l4.8-2M765.5 168.7l5.1-.9M773.4 168.1l5.9 .2M781.4 167.5l6.7 1.4M789.5 166.8l7.1 2.8M798.2 166.1l6.5 4.3M806.8 165.7l6 5.1M815.3 165.5l5.7 5.4M823.7 165.4l5.4 5.6M832.2 165.3l5.2 5.8M840.6 165.2l5 6M849.1 165.1l4.8 6.2M857.5 165.1l4.7 6.3M866 165.1l4.4 6.2M874.5 165.2l4.1 6M883 165.4l3.6 5.6M891.5 165.5l3.4 5.4M576.5 177.8l-.7-2.4M584.8 177.8l-.7-2.4M593.1 177.6l-.5-1.9M601.4 177.5l-.5-1.8M609.8 177.7l-.5-2.1M618.1 177.7l-.6-2.3M626.5 177.8l-.6-2.4M634.8 177.8l-.5-2.5M643.1 177.8l-.5-2.5M651.4 177.9l-.5-2.6M659.8 178.2l-.5-3.2M668.2 178.5l-.5-3.7M676.4 178.5l-.4-3.8M684.7 178.6l-.3-4M693 178.8l-.1-4.4M701.2 178.8l.1-4.4M709.4 178.8l.4-4.3M717.6 178.7l.7-4.2M725.7 178.8l1.3-4.4M733.7 178.7l1.9-4.1M741.7 178.4l2.7-3.6M749.7 177.9l3.4-2.7M757.6 177.4l4.1-1.6M765.7 176.8l4.6-.4M773.7 176.2l5.3 .8M781.3 175.4l6.8 2.3M789.2 174.6l7.6 4M798 174l6.9 5.3M806.8 173.6l6 6M815.4 173.6l5.5 6.1M823.9 173.5l5.1 6.1M832.4 173.5l4.8 6.2M840.8 173.4l4.6 6.3M849.3 173.4l4.4 6.4M857.7 173.3l4.3 6.5M866.2 173.5l4 6.3M874.8 173.7l3.5 5.8M883.2 173.8l3.3 5.6M891.6 173.8l3.2 5.6M576.5 186.2l-.8-2.4M584.8 186.1l-.8-2.2M593 185.7l-.5-1.4M601.3 185.5l-.3-1M609.7 185.6l-.4-1.2M618.1 185.8l-.5-1.6M626.5 186.1l-.7-2.2M634.9 186.2l-.7-2.4M643.2 186.2l-.6-2.4M651.6 186.3l-.7-2.7M660 186.7l-.8-3.4M668.3 186.9l-.8-3.7M676.6 186.9l-.8-3.8M684.9 187l-.7-4M693.3 187.3l-.7-4.7M701.5 187.5l-.5-5M709.8 187.5l-.3-5M717.9 187.3l.1-4.7M726.1 187.1l.5-4.1M734.1 186.9l1-3.9M742.1 186.7l1.7-3.3M750.1 186.1l2.4-2.3M758.1 185.6l3.2-1.2M766.2 184.9l3.6 .1M774.3 184.3l4.2 1.4M781.6 183.3l6.2 3.4M789.7 182.5l6.8 5M798.2 181.9l6.3 6.2M806.9 181.5l5.7 6.9M815.5 181.5l5.3 7M824.1 181.5l4.8 6.9M832.6 181.7l4.4 6.6M841.1 181.7l4.1 6.6M849.5 181.6l4 6.7M857.9 181.6l3.9 6.8M866.3 181.7l3.7 6.6M874.9 182l3.2 6M883.4 182.1l3 5.8M891.7 182.1l3 5.8M576.6 194.5l-.9-2.3M584.9 194.5l-.8-2.2M593 194l-.5-1.3M601.3 193.8l-.3-.8M609.6 193.8l-.3-.8M618 193.9l-.4-1.1M626.5 194.4l-.7-2M634.9 194.5l-.8-2.2M643.3 194.5l-.8-2.2M651.6 194.7l-.9-2.6M660.1 195l-1.1-3.3M668.5 195.2l-1.2-3.6M676.8 195.2l-1.1-3.7M685.2 195.3l-1.1-3.9M693.5 195.6l-1.2-4.5M701.9 195.8l-1.2-4.9M710.2 195.9l-1.1-5M718.4 195.8l-.8-4.9M726.5 195.6l-.4-4.5M734.6 195.4l0-4.1M742.7 194.8l.6-2.8M750.8 194.1l1-1.5M758.9 193.6l1.7-.5M766.8 193l2.5 .8M774.6 192.2l3.6 2.4M782.2 191l5.1 4.8M790.4 190.4l5.2 6M798.9 189.9l5 6.9M807.3 189.6l4.9 7.5M815.8 189.5l4.6 7.7M824.3 189.6l4.4 7.6M832.8 189.8l3.9 7.1M841.3 189.9l3.7 6.9M849.7 189.9l3.6 7M858.1 189.9l3.5 7M866.6 190l3.2 6.7M875.1 190.3l2.9 6.1M883.5 190.4l2.7 5.9M891.9 190.4l2.7 5.9M576.6 202.8l-1-2.2M584.9 202.7l-.9-2M593 202.3l-.5-1.1M601.3 202.1l-.3-.7M609.7 202.1l-.3-.8M618.1 202.4l-.6-1.3M626.6 202.8l-.9-2.1M635 202.9l-1-2.3M643.4 202.9l-1-2.3M651.7 202.9l-1-2.4M660.2 203.2l-1.3-2.9M668.6 203.5l-1.5-3.4M677 203.5l-1.5-3.5M685.3 203.6l-1.5-3.6M693.7 203.7l-1.6-3.9M702.1 203.8l-1.7-4.1M710.5 204.1l-1.8-4.6M718.9 204.2l-1.8-4.8M727.2 204.1l-1.7-4.7M735.3 203.6l-1.2-3.7M743.2 202.7l-.5-1.9M751.4 202.3l0-1M759.2 201.7l1 .1M767.4 201l1.2 1.5M775.4 200.2l2.1 3.1M783.1 198.9l3.3 5.7M791.2 198.3l3.7 6.9M799.6 198l3.7 7.4M807.8 197.7l3.9 8M816.2 197.7l3.8 8.2M824.6 197.7l3.7 8.1M833.1 198l3.4 7.6M841.6 198.2l3.1 7.2M850 198.2l3.1 7.2M858.3 198.2l3 7.1M866.8 198.5l2.7 6.6M875.3 198.7l2.5 6.1M883.7 198.7l2.4 6M892 198.7l2.4 6M576.4 210.8l-.6-1.3M584.8 210.8l-.6-1.2M593 210.6l-.4-.8M601.3 210.5l-.4-.7M609.7 210.6l-.5-.9M618.3 211l-.9-1.7M626.7 211.2l-1.1-2.2M635.1 211.3l-1.2-2.2M643.4 211.3l-1.2-2.2M651.8 211.3l-1.2-2.2M660.2 211.4l-1.3-2.5M668.7 211.7l-1.7-3.1M677.2 211.8l-1.8-3.3M685.5 211.8l-1.9-3.4M693.9 211.8l-1.9-3.3M702.3 211.8l-2-3.4M710.8 212l-2.3-3.7M719.3 212.2l-2.7-4.1M727.8 212.2l-2.9-4.1M736 211.8l-2.6-3.3M743.9 211l-1.8-1.8M752.1 210.5l-1.5-.7M760.3 209.6l-1.2 1.1M768.1 208.9l-.2 2.5M776 208.1l.7 4M783.9 207l1.7 6.4M791.9 206.4l2.3 7.5M800.2 206.3l2.5 7.8M808.4 206l2.7 8.3M816.7 205.9l2.9 8.5M825 205.9l2.9 8.5M833.5 206.2l2.7 7.9M841.9 206.4l2.5 7.4M850.2 206.4l2.5 7.4M858.6 206.5l2.5 7.2M867.1 206.9l2.2 6.5M875.5 207.1l2.1 6.2M883.8 207.1l2.1 6.1M892.2 207.1l2.1 6.1M576.3 218.9l-.4-.7M584.7 218.9l-.4-.7M593 218.9l-.4-.7M601.3 218.9l-.4-.7M609.8 219.1l-.7-1.2M618.4 219.5l-1.2-1.9M626.8 219.6l-1.3-2.1M635.2 219.6l-1.3-2.1M643.5 219.6l-1.3-2.1M651.9 219.6l-1.4-2.1M660.3 219.6l-1.4-2.2M668.7 219.8l-1.7-2.5M677.3 220l-2-2.9M685.7 220.1l-2.2-3.1M694.1 220.1l-2.3-3.1M702.5 220l-2.4-3M710.9 220l-2.6-3M719.5 220.1l-3.1-3.1M728.1 220.1l-3.6-3.2M736.6 219.8l-3.9-2.6M744.7 219.2l-3.4-1.4M752.9 218.5l-3.1 0M761 217.7l-2.6 1.6M768.9 216.8l-1.7 3.5M776.7 215.9l-.7 5.3M784.7 215.2l.1 6.7M792.7 214.6l.8 7.9M800.8 214.4l1.3 8.2M809 214.3l1.6 8.5M817.2 214.1l1.9 8.8M825.5 214.2l2 8.6M833.8 214.6l1.9 7.9M842.2 214.7l1.9 7.6M850.5 214.8l2 7.6M858.8 214.9l2 7.4M867.3 215.2l1.8 6.6M875.6 215.4l1.7 6.3M884 215.4l1.8 6.2M892.3 215.4l1.8 6.2M576.3 227.3l-.4-.7M584.7 227.3l-.4-.7M593 227.3l-.4-.7M601.4 227.3l-.5-.8M610 227.7l-1-1.5M618.5 227.9l-1.4-2M626.9 228l-1.4-2.1M635.2 227.9l-1.5-2.1M643.6 227.9l-1.5-2M652 227.9l-1.5-2M660.3 227.9l-1.5-2M668.7 227.9l-1.6-2M677.2 228l-1.9-2.3M685.8 228.2l-2.4-2.6M694.2 228.3l-2.6-2.7M702.7 228.2l-2.8-2.6M711.1 228.2l-2.9-2.5M719.6 228.1l-3.2-2.3M728.1 227.9l-3.6-2.1M736.6 227.7l-3.9-1.5M744.7 227.2l-3.3-.5M752.9 226.7l-3.2 .5M761.3 226l-3.2 1.9M769.6 224.8l-3.1 4.2M777.5 224l-2.2 5.9M785.3 223.6l-1.2 6.7M793.3 223l-.5 7.9M801.4 222.8l.1 8.3M809.5 222.7l.5 8.5M817.7 222.5l.9 8.9M825.9 222.7l1.1 8.5M834.2 223l1.2 7.9M842.5 223.1l1.3 7.7M850.8 223.1l1.4 7.7M859.1 223.2l1.5 7.5M867.5 223.5l1.4 6.8M875.8 223.7l1.4 6.5M884.2 223.7l1.4 6.3M892.5 223.8l1.5 6.3M576.3 235.6l-.5-.7M584.7 235.6l-.5-.7M593.1 235.7l-.6-.8M601.5 235.8l-.8-1M610.1 236.1l-1.2-1.7M618.6 236.3l-1.5-2M626.9 236.3l-1.6-2M635.3 236.3l-1.6-2M643.7 236.3l-1.6-1.9M652 236.2l-1.7-1.9M660.4 236.2l-1.7-1.9M668.8 236.2l-1.7-1.8M677.2 236.2l-1.8-1.8M685.7 236.3l-2.1-1.9M694.2 236.4l-2.6-2.2M702.8 236.4l-3-2.2M711.2 236.3l-3.2-2.1M719.7 236.2l-3.5-1.8M728.3 236.1l-4-1.6M736.9 235.8l-4.4-1.1M745.1 235.4l-4.2-.1M753.5 234.8l-4.2 1M762 234l-4.5 2.7M770.2 232.9l-4.3 4.7M778.1 232.3l-3.4 6M786 231.7l-2.5 7.1M793.9 231.3l-1.7 8M801.9 231.3l-1 8M810 231.1l-.5 8.3M818.1 230.9l0 8.7M826.3 231.1l.3 8.3M834.5 231.4l.5 7.8M842.8 231.4l.7 7.8M851 231.4l.9 7.7M859.3 231.6l1 7.4M867.7 231.9l1 6.8M876 232l1 6.6M884.3 232.1l1.1 6.4M892.6 232.1l1.1 6.4M576.3 244l-.5-.6M584.7 244.1l-.6-.8M593.3 244.4l-1.1-1.4M601.8 244.5l-1.3-1.6M610.2 244.6l-1.5-1.8M618.6 244.6l-1.6-1.9M627 244.6l-1.7-1.9M635.4 244.6l-1.7-1.9M643.7 244.6l-1.7-1.8M652.1 244.6l-1.8-1.8M660.5 244.5l-1.8-1.7M668.8 244.5l-1.9-1.7M677.2 244.5l-1.9-1.6M685.6 244.5l-2-1.5M694.1 244.5l-2.3-1.5M702.7 244.5l-2.8-1.7M711.4 244.6l-3.5-1.8M720.1 244.6l-4.2-1.8M729 244.6l-5.5-1.7M738 244.2l-6.7-1M746.5 243.5l-7.1 .3M754.8 242.7l-6.9 2M762.9 241.8l-6.4 3.7M770.8 241.1l-5.5 5.2M778.6 240.6l-4.5 6.3M786.5 240.1l-3.5 7.1M794.4 239.9l-2.6 7.5M802.3 239.9l-1.8 7.6M810.4 239.8l-1.3 7.9M818.5 239.7l-.8 8M826.7 239.7l-.4 7.9M834.8 239.8l-.1 7.8M843.1 239.8l.1 7.8M851.3 240l.3 7.4M859.6 240.3l.5 6.8M867.9 240.4l.6 6.5M876.2 240.4l.7 6.5M884.5 240.5l.7 6.4M892.8 240.5l.8 6.4M576.4 252.4l-.5-.6M584.8 252.4l-.6-.7M593.4 252.8l-1.2-1.4M601.8 252.8l-1.3-1.5M610.1 252.7l-1.2-1.3M618.6 252.9l-1.6-1.7M627.1 253l-1.8-1.8M635.4 252.9l-1.8-1.7M643.8 252.9l-1.9-1.7M652.2 252.9l-1.9-1.7M660.5 252.9l-2-1.6M668.9 252.8l-2-1.5M677.3 252.8l-2.1-1.4M685.7 252.7l-2.1-1.3M694.1 252.7l-2.2-1.2M702.7 252.7l-2.8-1.3M711.7 253l-4.1-1.8M720.6 253.1l-5.3-2M729.5 252.8l-6.4-1.5M738.4 252.3l-7.4-.5M746.9 251.6l-7.7 .9M755.1 250.9l-7.4 2.4M763.1 250.2l-6.8 3.8M771 249.6l-6 5M778.9 249.1l-5 6M786.8 248.7l-4.1 6.7M794.7 248.5l-3.3 7.1M802.7 248.4l-2.6 7.4M810.7 248.3l-2 7.6M818.8 248.2l-1.5 7.7M827 248.2l-1 7.8M835.1 248.2l-.7 7.8M843.3 248.3l-.4 7.6M851.6 248.6l-.2 7M859.8 248.8l0 6.5M868.1 248.8l.2 6.5M876.4 248.8l.3 6.5M884.7 248.9l.4 6.4M893 248.9l.5 6.4M576.4 260.8l-.5-.6M584.7 260.8l-.6-.6M593.3 261l-1-1.1M601.8 261.1l-1.3-1.3M609.9 260.9l-.9-.9M618.5 261.1l-1.3-1.2M627.1 261.3l-1.8-1.6M635.5 261.3l-1.9-1.6M643.8 261.2l-2-1.6M652.2 261.2l-2-1.5M660.6 261.2l-2.1-1.5M668.9 261.1l-2.1-1.4M677.3 261.1l-2.2-1.3M685.7 261l-2.2-1.2M694.1 261l-2.4-1.1M703 261.2l-3.5-1.5M712.2 261.5l-5.2-2.1M721 261.3l-6.1-1.8M729.6 261l-6.6-1M738.4 260.5l-7.4 0M746.9 259.8l-7.7 1.2M755 259.2l-7.4 2.5M763.1 258.6l-6.9 3.7M771.1 258.1l-6.2 4.8M779.1 257.6l-5.4 5.7M787 257.3l-4.6 6.3M795 257l-3.8 6.8M803 256.9l-3.2 7.2M811 256.8l-2.6 7.4M819.1 256.7l-2.1 7.5M827.3 256.6l-1.6 7.6M835.4 256.6l-1.2 7.7M843.6 256.8l-.9 7.3M851.8 257.1l-.6 6.6M860 257.2l-.4 6.5M868.3 257.2l-.2 6.5M876.5 257.2l0 6.4M884.8 257.4l.1 6.2M893.1 257.3l.2 6.3M576.4 269.1l-.6-.6M584.7 269.1l-.6-.6M593.2 269.3l-.9-.8M601.9 269.5l-1.5-1.3M610 269.3l-1-.9M618.3 269.2l-1-.8M627 269.5l-1.7-1.3M635.5 269.6l-2-1.5M643.9 269.6l-2-1.5M652.2 269.5l-2.1-1.4M660.6 269.5l-2.1-1.3M669 269.5l-2.2-1.2M677.4 269.4l-2.2-1.1M685.8 269.4l-2.4-1.1M694.4 269.5l-3-1.2M703.6 269.8l-4.6-1.9M712.6 269.8l-5.9-2M721.1 269.5l-6.3-1.4M729.6 269.1l-6.6-.6M738.2 268.7l-7.1 .3M746.8 268.1l-7.5 1.4M755 267.5l-7.4 2.6M763.1 267l-6.9 3.7M771.2 266.5l-6.3 4.6M779.2 266.1l-5.6 5.4M787.2 265.8l-5 6M795.2 265.6l-4.3 6.5M803.2 265.4l-3.6 6.9M811.3 265.2l-3.1 7.2M819.4 265.2l-2.6 7.4M827.5 265.1l-2.1 7.5M835.6 265.2l-1.7 7.4M843.8 265.4l-1.3 6.8M852 265.6l-.9 6.5M860.2 265.6l-.7 6.5M868.4 265.6l-.5 6.5M876.7 265.6l-.4 6.5M885 265.6l-.2 6.4M893.3 265.6l-.1 6.5M576.4 277.5l-.6-.5M584.7 277.5l-.6-.5M593.2 277.6l-.8-.7M601.8 277.8l-1.3-1.1M610 277.6l-1-.8M618.2 277.5l-.7-.6M626.7 277.6l-1.1-.8M635.4 277.8l-1.7-1.2M643.9 277.9l-2-1.3M652.3 277.9l-2.2-1.3M660.7 277.8l-2.2-1.2M669.1 277.8l-2.3-1.2M677.5 277.8l-2.5-1.1M686 277.8l-2.8-1.2M694.9 278l-3.9-1.6M704 278.2l-5.5-2M712.7 278l-6.2-1.6M721.2 277.7l-6.4-1M729.6 277.3l-6.5-.2M738 276.9l-6.6 .6M746.5 276.5l-7 1.5M754.9 275.9l-7.2 2.6M763.2 275.4l-6.9 3.6M771.2 275l-6.4 4.4M779.3 274.6l-5.8 5.2M787.3 274.3l-5.2 5.8M795.4 274.1l-4.6 6.3M803.4 273.9l-4.1 6.7M811.5 273.7l-3.5 7M819.6 273.6l-3 7.2M827.7 273.7l-2.5 7M835.8 273.9l-1.9 6.6M843.9 274l-1.6 6.4M852.1 274l-1.3 6.4M860.4 274l-1.1 6.4M868.6 274l-.9 6.4M876.9 274l-.7 6.5M885.1 274l-.5 6.5M893.4 274l-.4 6.5M576.4 285.9l-.6-.5M584.7 285.9l-.6-.5M593.1 285.9l-.6-.5M601.5 285.9l-.8-.6M609.9 285.9l-.8-.6M618.3 285.9l-.9-.7M626.7 285.9l-1-.7M635.1 285.9l-1.1-.7M643.6 286.1l-1.5-.9M652.3 286.2l-2.1-1.2M660.8 286.3l-2.6-1.4M669.4 286.4l-3.1-1.6M678.1 286.5l-3.6-1.8M686.6 286.5l-4.1-1.8M695.4 286.6l-5-1.9M704.3 286.5l-6-1.8M712.8 286.3l-6.4-1.3M721.2 285.9l-6.5-.7M729.6 285.6l-6.5 0M737.9 285.2l-6.5 .8M746.2 284.8l-6.5 1.5M754.7 284.4l-6.6 2.4M763.1 283.9l-6.8 3.4M771.2 283.5l-6.4 4.2M779.3 283.2l-5.8 4.8M787.3 283l-5.2 5.3M795.5 282.6l-4.8 5.9M803.6 282.4l-4.3 6.3M811.6 282.3l-3.8 6.6M819.7 282.3l-3.3 6.7M827.8 282.4l-2.6 6.4M835.9 282.5l-2.2 6.2M844.1 282.5l-1.9 6.2M852.3 282.5l-1.6 6.3M860.5 282.4l-1.4 6.3M868.8 282.5l-1.2 6.3M877 282.4l-1 6.4M885.3 282.4l-.8 6.4M893.5 282.4l-.7 6.3M576.4 294.2l-.6-.5M584.8 294.2l-.6-.5M593.1 294.2l-.6-.5M601.5 294.3l-.7-.5M610.1 294.4l-1.2-.8M618.6 294.5l-1.6-1M626.9 294.5l-1.5-.9M635.1 294.3l-1.2-.6M643.4 294.3l-1.2-.6M652.4 294.6l-2.3-1.3M661.1 294.9l-3.1-1.8M669.8 295.1l-3.8-2.1M678.5 295.1l-4.5-2.2M687 295l-4.8-2M695.5 294.9l-5.2-1.7M704.3 294.7l-6-1.5M712.8 294.5l-6.4-1M721.2 294.2l-6.5-.4M729.6 293.9l-6.5 .3M737.9 293.5l-6.4 .9M746.2 293.2l-6.3 1.6M754.5 292.8l-6.2 2.3M762.9 292.4l-6.4 3.2M771 292.1l-6 3.8M779 291.9l-5.3 4.2M787.2 291.7l-4.9 4.6M795.4 291.4l-4.6 5.2M803.5 291.2l-4.2 5.6M811.6 291.1l-3.7 5.7M819.7 291l-3.3 5.9M827.9 291l-2.8 5.9M836 291l-2.5 6M844.2 290.9l-2.2 6.1M852.4 290.9l-1.9 6.2M860.7 290.9l-1.7 6.2M868.9 291l-1.4 6M877.1 290.9l-1.2 6.2M885.4 291l-1 6M893.6 291.2l-.8 5.7M576.5 302.7l-.7-.6M584.8 302.6l-.7-.5M593.1 302.6l-.7-.5M601.5 302.6l-.8-.5M610.1 302.8l-1.2-.7M618.4 302.7l-1.2-.7M626.7 302.7l-1-.6M635 302.6l-1-.5M643.7 302.8l-1.7-.9M652.6 303.3l-2.9-1.7M661.2 303.4l-3.4-2M669.9 303.4l-4.1-2.1M678.6 303.4l-4.7-2M687 303.2l-4.9-1.7M695.5 303.1l-5-1.4M704.1 302.9l-5.6-1.1M712.8 302.7l-6.3-.7M721.2 302.5l-6.5-.2M729.5 302.2l-6.5 .4M737.9 301.9l-6.4 1.1M746.1 301.5l-6.3 1.7M754.4 301.2l-6.1 2.3M762.6 300.9l-5.9 2.9M770.8 300.7l-5.6 3.4M779 300.4l-5.2 3.9M787.2 300.2l-4.9 4.4M795.3 300l-4.5 4.8M803.5 299.8l-4.1 5.1M811.6 299.7l-3.7 5.3M819.8 299.6l-3.4 5.6M828 299.5l-3.1 5.7M836.2 299.4l-2.7 5.9M844.4 299.4l-2.5 6M852.6 299.3l-2.2 6.1M860.8 299.3l-1.9 6.1M869 299.3l-1.7 6.1M877.2 299.4l-1.5 6M885.4 299.7l-1.2 5.4M893.7 299.8l-1 5.1M576.7 311.2l-1.2-.9M585 311.1l-1.1-.7M593.2 311l-.9-.5M601.5 311l-.7-.4M609.9 311l-.8-.4M618.2 311l-.7-.4M626.5 310.9l-.7-.4M635.1 311.1l-1.2-.6M644.1 311.5l-2.5-1.4M652.8 311.7l-3.3-1.9M661.3 311.7l-3.5-1.8M670 311.7l-4.2-1.9M678.6 311.7l-4.8-1.8M687.1 311.5l-4.9-1.5M695.5 311.3l-5-1.2M703.9 311.2l-5.3-.8M712.5 311l-5.9-.4M721.1 310.7l-6.3 0M729.5 310.5l-6.4 .6M737.8 310.2l-6.4 1.2M746.1 309.9l-6.3 1.7M754.4 309.6l-6.1 2.3M762.6 309.4l-5.8 2.8M770.8 309.1l-5.6 3.3M779 308.9l-5.3 3.8M787.2 308.6l-5 4.3M795.4 308.5l-4.6 4.6M803.5 308.3l-4.3 4.9M811.7 308.2l-3.9 5.2M819.9 308.1l-3.6 5.4M828.1 308l-3.3 5.6M836.3 307.9l-3 5.8M844.5 307.8l-2.7 5.9M852.7 307.8l-2.5 6M860.9 307.7l-2.2 6.1M869.1 307.8l-1.9 6M877.3 308l-1.6 5.5M885.5 308.2l-1.3 5.1M893.8 308.2l-1.1 5M576.6 319.5l-1-.6M585.1 319.5l-1.3-.8M593.4 319.5l-1.3-.7M601.6 319.4l-.8-.5M609.8 319.3l-.7-.4M618.2 319.3l-.7-.3M626.6 319.3l-.8-.4M635.3 319.6l-1.6-.8M644.3 320l-2.9-1.7M652.9 320l-3.4-1.8M661.3 320l-3.6-1.7M670 320l-4.3-1.7M678.7 319.9l-4.8-1.6M687.1 319.8l-5-1.3M695.5 319.6l-5.1-1M703.8 319.5l-5.1-.6M712.3 319.3l-5.3-.2M720.8 319.1l-5.7 .2M729.4 318.8l-6.3 .7M737.8 318.5l-6.4 1.3M746.1 318.3l-6.2 1.8M754.4 318l-6.1 2.3M762.6 317.8l-5.9 2.8M770.8 317.5l-5.6 3.3M779 317.3l-5.3 3.7M787.2 317.1l-5 4.1M795.4 316.9l-4.7 4.5M803.6 316.8l-4.4 4.8M811.8 316.6l-4.1 5M820 316.6l-3.7 5.2M828.1 316.5l-3.4 5.3M836.3 316.5l-3.1 5.4M844.6 316.3l-2.8 5.6M852.8 316.2l-2.6 5.8M861 316.2l-2.4 5.8M869.2 316.4l-2 5.5M877.3 316.6l-1.7 5.1M885.6 316.7l-1.5 5M893.9 316.7l-1.3 5M576.5 327.7l-.7-.4M584.8 327.8l-.8-.5M593.3 327.8l-.9-.5M601.5 327.7l-.8-.4M609.8 327.7l-.7-.3M618.2 327.7l-.8-.3M626.7 327.8l-1-.4M635.5 328l-1.9-1M644.4 328.3l-3-1.6M652.9 328.4l-3.5-1.6M661.3 328.3l-3.6-1.5M669.9 328.2l-4-1.4M678.6 328.2l-4.6-1.3M687.1 328.1l-5-1.1M695.5 327.9l-5.1-.8M703.8 327.8l-5.1-.5M712.2 327.6l-5.2-.1M720.6 327.4l-5.3 .3M729.2 327.2l-5.8 .8M737.7 326.9l-6.2 1.3M746.1 326.6l-6.2 1.8M754.4 326.4l-6.1 2.3M762.6 326.2l-5.9 2.8M770.8 325.9l-5.6 3.2M779.1 325.7l-5.4 3.6M787.3 325.5l-5.1 4M795.5 325.4l-4.8 4.3M803.6 325.3l-4.5 4.6M811.8 325.2l-4 4.7M819.9 325.2l-3.5 4.6M828 325.3l-3.1 4.5M836.2 325.2l-2.8 4.6M844.5 325.1l-2.7 4.9M852.8 324.9l-2.6 5.2M861 325l-2.3 5.1M869.2 325.1l-2 4.9M877.4 325.1l-1.8 4.9M885.7 325.1l-1.6 4.9M894 325.1l-1.5 5M576.4 336.1l-.7-.4M584.8 336.1l-.7-.4M593.1 336.1l-.7-.4M601.5 336.1l-.7-.3M609.9 336.1l-.8-.4M618.4 336.2l-1.1-.5M627 336.3l-1.6-.8M635.6 336.5l-2.2-1.2M644.3 336.6l-3-1.4M653 336.7l-3.5-1.5M661.4 336.6l-3.6-1.3M669.8 336.5l-3.7-1.2M678.2 336.4l-4-1M686.8 336.3l-4.4-.8M695.2 336.2l-4.6-.6M703.7 336.1l-4.9-.3M712.2 335.9l-5.2 0M720.5 335.7l-5.2 .4M728.9 335.5l-5.2 .8M737.4 335.3l-5.5 1.2M745.9 335.1l-5.8 1.7M754.2 334.8l-5.8 2.2M762.5 334.6l-5.6 2.6M770.7 334.4l-5.3 3M779 334.2l-5.2 3.4M787.2 334l-5 3.8M795.4 334l-4.6 3.9M803.5 333.9l-4.1 4M811.6 333.9l-3.6 4M819.8 333.9l-3.3 4.1M828 333.8l-3.1 4.2M836.2 333.8l-2.8 4.3M844.5 333.7l-2.7 4.5M852.7 333.6l-2.5 4.6M861 333.6l-2.3 4.7M869.2 333.6l-2.1 4.7M877.5 333.5l-1.9 4.8M885.8 333.5l-1.8 4.8M894 333.5l-1.6 4.9M576.5 344.5l-.7-.4M584.8 344.5l-.7-.4M593.2 344.5l-.7-.3M601.6 344.5l-.9-.4M610.1 344.6l-1.3-.6M618.8 344.8l-1.9-1M627.2 344.9l-2.2-1.1M635.7 344.9l-2.3-1.1M644.3 344.9l-2.9-1.3M653 345l-3.5-1.4M661.4 344.9l-3.6-1.2M669.7 344.8l-3.7-1M678.1 344.7l-3.8-.8M686.5 344.6l-3.9-.6M694.9 344.5l-4-.4M703.6 344.4l-4.7-.2M712.2 344.2l-5.1 .1M720.5 344.1l-5.1 .5M728.9 343.9l-5.1 .8M737.2 343.7l-5.1 1.2M745.5 343.5l-5.1 1.6M753.9 343.3l-5.1 1.9M762.1 343.2l-4.9 2.3M770.4 343l-4.7 2.6M778.7 342.8l-4.6 2.9M786.9 342.7l-4.4 3.2M795.1 342.6l-4.1 3.4M803.3 342.5l-3.8 3.6M811.5 342.4l-3.6 3.7M819.8 342.3l-3.4 3.9M828 342.3l-3.2 4.1M836.3 342.2l-3 4.2M844.5 342.1l-2.8 4.4M852.8 342.1l-2.6 4.5M861 342l-2.4 4.6M869.3 342l-2.2 4.7M877.6 341.9l-2.1 4.7M885.8 341.9l-1.9 4.8M894.1 341.9l-1.8 4.8M576.5 352.9l-.7-.3M584.8 352.9l-.7-.3M593.2 352.9l-.9-.4M601.8 353l-1.4-.7M610.5 353.2l-2-1M618.9 353.3l-2.2-1.2M627.3 353.3l-2.3-1.1M635.7 353.2l-2.3-1M644.2 353.2l-2.7-1.1M652.9 353.3l-3.5-1.2M661.4 353.2l-3.7-1.1M669.8 353.1l-3.7-.9M678.1 353l-3.8-.7M686.5 352.9l-3.8-.5M694.9 352.8l-3.9-.3M703.5 352.7l-4.4-.1M712.1 352.6l-4.9 .2M720.5 352.4l-5.1 .6M728.9 352.2l-5.1 .9M737.2 352.1l-5 1.2M745.5 351.9l-4.9 1.5M753.8 351.8l-4.8 1.9M762 351.6l-4.7 2.2M770.3 351.5l-4.6 2.5M778.6 351.3l-4.4 2.7M786.8 351.2l-4.2 3M795.1 351.1l-4 3.2M803.3 351l-3.8 3.4M811.6 350.9l-3.6 3.6M819.8 350.8l-3.4 3.8M828.1 350.7l-3.3 4M836.3 350.6l-3.1 4.2M844.6 350.5l-2.9 4.3M852.8 350.5l-2.7 4.4M861.1 350.4l-2.5 4.5M869.4 350.4l-2.4 4.6M877.6 350.4l-2.2 4.7M885.9 350.3l-2.1 4.7M894.2 350.3l-1.9 4.8M576.5 361.3l-.8-.4M584.9 361.3l-1-.5M593.5 361.5l-1.5-.8M602.1 361.6l-2-1.1M610.6 361.7l-2.2-1.2M618.9 361.6l-2.2-1.1M627.3 361.6l-2.3-1.1M635.7 361.6l-2.3-1M644.1 361.5l-2.5-.9M652.8 361.6l-3.3-1M661.4 361.6l-3.7-1M669.8 361.5l-3.8-.8M678.1 361.4l-3.8-.6M686.5 361.3l-3.8-.4M694.9 361.2l-3.8-.2M703.3 361.1l-4 0M711.8 360.9l-4.3 .3M720.3 360.8l-4.7 .6M728.8 360.6l-5 .9M737.2 360.5l-5 1.2M745.5 360.3l-4.9 1.6M753.8 360.1l-4.8 1.9M762 360l-4.7 2.1M770.3 359.9l-4.5 2.4M778.5 359.8l-4.2 2.6M786.7 359.7l-3.9 2.7M794.9 359.6l-3.8 2.9M803.2 359.5l-3.6 3.1M811.5 359.4l-3.4 3.3M819.7 359.4l-3.2 3.4M828.1 359.2l-3.2 3.8M836.4 359l-3.2 4.1M844.6 359l-3 4.2M852.9 358.9l-2.8 4.3M861.2 358.9l-2.7 4.4M869.4 358.8l-2.5 4.5M877.7 358.8l-2.3 4.6M886 358.7l-2.2 4.7M894.2 358.7l-2 4.7M576.6 369.7l-.9-.5M585.2 369.9l-1.6-.9M593.8 370.1l-2.1-1.2M602.2 370.1l-2.2-1.2M610.6 370l-2.2-1.2M619 370l-2.3-1.1M627.3 370l-2.3-1M635.7 369.9l-2.4-.9M644.1 369.9l-2.4-.8M652.6 369.9l-2.9-.8M661.3 369.9l-3.5-.8M669.8 369.8l-3.8-.7M678.1 369.7l-3.8-.5M686.5 369.6l-3.8-.3M694.9 369.5l-3.8-.1M703.2 369.4l-3.8 .1M711.6 369.3l-3.9 .3M720 369.2l-4 .5M728.5 369l-4.4 .9M737 368.9l-4.7 1.2M745.4 368.7l-4.8 1.5M753.7 368.6l-4.7 1.8M761.9 368.4l-4.5 2M770.1 368.4l-4.1 2.1M778.2 368.4l-3.6 2.2M786.4 368.3l-3.3 2.2M794.7 368.3l-3.2 2.4M803 368.2l-3.1 2.6M811.2 368.1l-2.9 2.7M819.5 368l-2.8 2.8M827.9 367.8l-2.9 3.2M836.3 367.6l-3 3.7M844.6 367.5l-2.9 3.9M852.9 367.5l-2.8 4M861.1 367.4l-2.6 4M869.4 367.3l-2.5 4.2M877.7 367.2l-2.4 4.5M886 367.3l-2.2 4.4M894.2 367.3l-2 4.3M576.5 378.1l-.9-.5M585.2 378.3l-1.6-1M593.9 378.4l-2.2-1.2M602.3 378.4l-2.2-1.2M610.6 378.4l-2.3-1.1M619 378.3l-2.3-1M627.3 378.3l-2.3-.9M635.7 378.3l-2.4-.8M644.1 378.2l-2.4-.7M652.5 378.2l-2.5-.6M661 378.2l-3-.6M669.7 378.1l-3.5-.6M678.1 378.1l-3.8-.4M686.5 378l-3.8-.2M694.9 377.9l-3.8 0M703.2 377.8l-3.8 .2M711.5 377.7l-3.8 .4M719.9 377.6l-3.8 .6M728.2 377.5l-3.9 .8M736.6 377.3l-4 1M745 377.2l-4 1.3M753.4 377l-4.1 1.6M761.6 377l-3.9 1.7M769.8 376.9l-3.5 1.8M778 376.9l-3.3 2M786.3 376.8l-3.2 2.1M794.6 376.7l-3.1 2.3M802.9 376.6l-3 2.4M811.2 376.6l-2.9 2.6M819.5 376.5l-2.8 2.7M827.9 376.3l-2.8 3M836.2 376.2l-2.7 3.2M844.4 376.2l-2.5 3.2M852.7 376.2l-2.4 3.3M860.9 376.2l-2.2 3.3M869.3 376.1l-2.2 3.6M877.6 375.9l-2.2 3.9M885.9 376l-2 3.7M894.1 376.1l-1.8 3.6M576.6 386.5l-.9-.6M585.3 386.7l-1.8-1M593.9 386.8l-2.2-1.2M602.3 386.8l-2.3-1.1M610.6 386.7l-2.3-1M619 386.7l-2.3-.9M627.4 386.7l-2.4-.9M635.7 386.6l-2.4-.8M644.1 386.6l-2.4-.7M652.4 386.5l-2.5-.6M660.8 386.5l-2.6-.5M669.4 386.4l-3.1-.4M678.1 386.4l-3.7-.3M686.5 386.3l-3.8-.2M694.9 386.2l-3.8 0M703.2 386.1l-3.8 .2M711.5 386l-3.8 .4M719.9 385.9l-3.8 .6M728.2 385.8l-3.8 .8M736.5 385.7l-3.7 1M744.8 385.6l-3.7 1.2M753.2 385.5l-3.6 1.4M761.5 385.4l-3.5 1.6M769.7 385.4l-3.4 1.7M778 385.3l-3.3 1.9M786.3 385.2l-3.2 2.1M794.6 385.1l-3.1 2.2M802.9 385l-3 2.4M811.2 385l-2.9 2.5M819.5 384.9l-2.8 2.7M827.9 384.7l-2.9 3M836.1 384.7l-2.7 3M844.4 384.7l-2.4 3M852.6 384.7l-2.3 3.1M860.9 384.7l-2.2 3.1M869.2 384.6l-2.1 3.2M877.5 384.6l-2 3.4M885.8 384.5l-1.9 3.4M894.1 384.5l-1.8 3.4M576.6 394.9l-1-.6M585.4 395.1l-1.8-1M593.9 395.2l-2.2-1.1M602.3 395.1l-2.3-1M610.6 395.1l-2.3-1M619 395.1l-2.4-.9M627.4 395l-2.4-.8M635.7 395l-2.4-.7M644.1 394.9l-2.4-.6M652.4 394.9l-2.5-.5M660.8 394.8l-2.5-.4M669.3 394.8l-2.7-.3M678 394.7l-3.5-.3M686.5 394.7l-3.8-.1M694.9 394.6l-3.8 .1M703.2 394.5l-3.8 .3M711.5 394.4l-3.8 .4M719.9 394.3l-3.8 .6M728.2 394.2l-3.8 .8M736.5 394.1l-3.7 1M744.8 394l-3.7 1.2M753.1 393.9l-3.6 1.4M761.4 393.8l-3.5 1.6M769.7 393.7l-3.4 1.7M778.1 393.7l-3.3 1.9M786.3 393.6l-3.2 2.1M794.6 393.5l-3.1 2.2M802.9 393.4l-3 2.3M811.2 393.4l-2.9 2.5M819.5 393.3l-2.8 2.6M827.8 393.2l-2.7 2.7M836.1 393.2l-2.6 2.8M844.4 393.2l-2.5 2.9M852.7 393.1l-2.4 3M861 393.1l-2.3 3.1M869.3 393l-2.2 3.2M877.6 393l-2.1 3.2M885.8 393l-2 3.3M894.1 392.9l-1.9 3.4M576.5 403.2l-.8-.4M585.2 403.4l-1.6-.8M593.9 403.5l-2.2-1M602.3 403.5l-2.3-1M610.7 403.5l-2.4-.9M619 403.4l-2.4-.8M627.4 403.4l-2.4-.7M635.7 403.3l-2.4-.6M644.1 403.3l-2.5-.6M652.4 403.2l-2.5-.5M660.8 403.2l-2.5-.4M669.2 403.1l-2.7-.3M678 403.1l-3.5-.2M686.5 403l-3.8 0M694.9 402.9l-3.8 .1M703.2 402.8l-3.8 .3M711.5 402.8l-3.8 .5M719.9 402.7l-3.8 .7M728.2 402.6l-3.7 .9M736.5 402.5l-3.7 1M744.8 402.4l-3.6 1.2M753.1 402.3l-3.6 1.4M761.4 402.2l-3.5 1.6M769.8 402.1l-3.4 1.7M778.1 402.1l-3.4 1.9M786.4 402l-3.3 2M794.7 401.9l-3.2 2.2M802.9 401.8l-3.1 2.3M811.2 401.8l-3 2.4M819.5 401.7l-2.9 2.6M827.8 401.7l-2.8 2.7M836.1 401.6l-2.6 2.8M844.4 401.6l-2.5 2.9M852.7 401.5l-2.4 3M861 401.5l-2.3 3.1M869.3 401.4l-2.2 3.1M877.6 401.4l-2.1 3.2M885.9 401.4l-2 3.3M894.2 401.3l-1.9 3.3M576.5 411.6l-.8-.4M585.2 411.7l-1.5-.7M593.9 411.9l-2.3-1M602.3 411.8l-2.3-.9M610.7 411.8l-2.4-.8M619 411.8l-2.4-.8M627.4 411.7l-2.4-.7M635.7 411.7l-2.4-.6M644.1 411.6l-2.5-.5M652.4 411.6l-2.5-.4M660.8 411.5l-2.5-.3M669.3 411.5l-2.9-.2M678.1 411.5l-3.6-.1M686.5 411.4l-3.8 0M694.8 411.3l-3.8 .2M703.2 411.2l-3.8 .4M711.5 411.1l-3.8 .5M719.9 411l-3.8 .7M728.2 410.9l-3.7 .9M736.5 410.9l-3.7 1M744.8 410.8l-3.6 1.2M753.1 410.7l-3.6 1.4M761.4 410.6l-3.5 1.5M769.8 410.5l-3.4 1.7M778.1 410.5l-3.4 1.9M786.4 410.4l-3.3 2M794.7 410.3l-3.2 2.1M803 410.2l-3.1 2.3M811.3 410.2l-3 2.4M819.6 410.1l-2.9 2.5M827.8 410.1l-2.8 2.6M836.1 410l-2.7 2.7M844.4 410l-2.6 2.8M852.7 409.9l-2.5 2.9M861 409.9l-2.4 3M869.3 409.8l-2.3 3.1M877.6 409.8l-2.2 3.2M885.9 409.8l-2.1 3.2M894.2 409.7l-2 3.3" stroke="#1a0d00" stroke-opacity="0.85" stroke-width="0.75" fill="none"/>
<path d="M576 68.2l.1-.4M584.3 68.2l.1-.4M592.6 68.2l.1-.4M601 68.2l.1-.4M609.3 68.2l.1-.4M617.6 68.2l.1-.4M626 68.2l.1-.4M634.3 68.2l.2-.4M642.6 68.1l.2-.4M650.9 68.1l.2-.4M659.2 68.1l.2-.4M667.5 68.2l.2-.4M675.8 68.3l.3-.4M683.8 68.6l.4-.5M692 68.7l.5-.6M700.3 68.7l.5-.6M708.6 68.6l.5-.5M716.9 68.6l.6-.5M725.2 68.5l.6-.5M733.4 68.5l.6-.4M741.7 68.4l.7-.4M750 68.3l.7-.4M758.3 68.2l.7-.3M766.3 68.2l.8-.3M774.2 67.7l.8 0M782.6 67.3l.8 .1M791 67.2l.8 .2M799.4 67.1l.8 .2M807.8 67l.8 .2M816.1 66.9l.8 .3M824.5 66.9l.7 .3M832.9 66.8l.7 .3M841.3 66.7l.7 .3M849.6 66.6l.7 .4M857.9 66.6l.7 .4M866.2 66.5l.7 .4M874.3 66.2l.7 .4M882.6 66.1l.7 .4M891 66l.7 .5M576 76.6l.1-.4M584.3 76.6l.1-.4M592.7 76.6l.1-.4M601 76.6l.1-.4M609.3 76.7l.1-.4M617.6 76.6l.1-.4M626 76.6l.1-.4M634.3 76.5l.1-.4M642.6 76.5l.2-.4M650.9 76.5l.2-.4M659.2 76.7l.2-.4M667.4 76.9l.3-.5M675.6 77l.4-.6M683.8 77.1l.4-.6M692 77.1l.5-.6M700.3 77.1l.5-.6M708.6 77l.5-.5M716.9 77l.6-.5M725.2 76.9l.6-.5M733.3 76.9l.7-.5M741.4 76.9l.7-.4M749.8 76.8l.7-.4M758.2 76.7l.7-.3M766 76.7l.8-.3M773.8 76.1l.8 0M782.3 75.6l.8 .1M790.9 75.5l.8 .2M799.3 75.4l.8 .2M807.7 75.3l.8 .2M816 75.2l.8 .3M824.4 75.1l.7 .3M832.8 75.1l.7 .3M841.1 75l.7 .4M849.4 74.8l.7 .4M857.7 74.7l.7 .4M866 74.6l.7 .4M874.2 74.5l.7 .4M882.6 74.4l.7 .5M891 74.3l.6 .5M576 85l.1-.4M584.3 85l.1-.4M592.7 85l.1-.4M601 85l.1-.4M609.3 85.1l.1-.5M617.6 85.1l.1-.5M626 85l.1-.4M634.3 84.9l.1-.4M642.6 84.9l.1-.4M650.9 85l.2-.4M659.1 85.4l.3-.5M667.2 85.6l.3-.6M675.5 85.6l.4-.6M683.8 85.6l.4-.6M692.1 85.5l.4-.6M700.3 85.5l.5-.6M708.6 85.4l.5-.6M716.9 85.4l.6-.5M725.1 85.4l.6-.5M733.2 85.4l.6-.5M741.3 85.4l.7-.4M749.6 85.3l.7-.4M758 85.1l.7-.3M765.7 85.1l.8-.2M773.6 84.5l.8 0M782.1 84l.8 .1M790.5 83.8l.8 .2M798.9 83.7l.8 .2M807.3 83.6l.8 .2M815.7 83.5l.7 .3M824 83.3l.7 .3M832.5 83.3l.7 .3M840.8 83.2l.7 .4M849.1 83l.7 .4M857.5 82.9l.7 .4M865.9 82.8l.7 .4M874.2 82.8l.7 .5M882.6 82.7l.6 .5M891 82.7l.6 .5M576 93.4l0-.4M584.4 93.4l.1-.4M592.7 93.4l.1-.4M601 93.4l.1-.4M609.3 93.6l.1-.5M617.5 93.9l.2-.6M625.9 93.8l.2-.6M634.3 93.4l.1-.4M642.6 93.4l.1-.4M650.8 93.7l.2-.5M659 94l.3-.7M667.3 94.1l.3-.7M675.5 94l.4-.7M683.8 94l.4-.6M692.1 94l.4-.6M700.3 93.9l.5-.6M708.6 93.9l.5-.6M716.8 93.9l.6-.6M724.9 94l.6-.5M733.1 93.9l.6-.5M741.3 93.8l.7-.4M749.5 93.7l.7-.4M757.8 93.6l.7-.3M765.7 93.5l.8-.2M773.6 92.9l.8 0M782 92.3l.8 .1M790.4 92.1l.8 .2M798.7 92l.8 .2M807.1 91.9l.8 .3M815.5 91.7l.7 .3M823.9 91.6l.7 .3M832.4 91.6l.7 .4M840.7 91.4l.7 .4M849.1 91.3l.7 .4M857.4 91.2l.7 .4M865.8 91.1l.7 .5M874.3 91.1l.6 .5M882.7 91l.6 .5M891.1 91l.6 .5M576 102l0-.5M584.4 101.9l0-.5M592.7 101.8l.1-.4M601 102l.1-.5M609.3 102.3l.1-.6M617.5 102.5l.1-.7M625.9 102.4l.2-.7M634.3 101.9l.1-.5M642.6 102l.2-.5M650.8 102.4l.2-.7M659 102.5l.3-.7M667.3 102.5l.3-.7M675.6 102.4l.3-.7M683.8 102.5l.4-.7M692 102.6l.4-.7M700.2 102.7l.5-.6M708.4 102.6l.5-.6M716.6 102.5l.6-.6M724.8 102.5l.6-.5M733 102.4l.6-.5M741.2 102.3l.7-.4M749.4 102.2l.7-.4M757.4 102.1l.7-.3M765.6 101.9l.8-.2M773.7 101.2l.8 0M782 100.7l.8 .1M790.5 100.5l.8 .2M798.9 100.4l.8 .2M807.2 100.2l.8 .3M815.5 100l.7 .3M823.9 99.9l.7 .3M832.3 99.8l.7 .4M840.7 99.7l.7 .4M849 99.5l.7 .4M857.2 99.3l.7 .5M865.6 99.2l.6 .5M874.1 99.2l.6 .5M882.6 99.3l.6 .5M891.1 99.3l.6 .5M576.1 110.3l0-.5M584.4 110.5l0-.5M592.7 110.6l.1-.6M601 110.8l.1-.7M609.3 110.9l.1-.7M617.6 111l.1-.7M625.9 110.9l.1-.7M634.3 110.5l.1-.6M642.6 110.6l.2-.6M650.8 110.9l.2-.7M659.1 110.9l.2-.7M667.4 110.9l.3-.7M675.6 110.9l.3-.7M683.9 110.9l.4-.7M692 111.2l.4-.7M700.1 111.3l.4-.7M708.3 111.2l.5-.6M716.6 111.1l.5-.6M724.8 110.9l.6-.6M733.1 110.7l.6-.5M741.4 110.6l.7-.4M749.6 110.5l.7-.4M757.7 110.4l.7-.3M765.9 110.2l.8-.2M773.7 109.6l.8 0M781.9 109l.8 .1M790.4 108.8l.8 .2M798.9 108.7l.8 .3M807.2 108.5l.7 .3M815.3 108.3l.7 .3M823.7 108.1l.7 .4M832.2 108l.7 .4M840.6 107.9l.7 .4M848.8 107.7l.7 .5M857.1 107.5l.6 .5M865.5 107.4l.6 .5M873.9 107.4l.6 .5M882.4 107.4l.6 .5M890.9 107.4l.6 .5M576.1 119.1l0-.6M584.4 119.2l0-.7M592.7 119.3l0-.7M601 119.3l0-.7M609.3 119.4l.1-.7M617.7 119.4l.1-.7M626 119.3l.1-.7M634.3 118.9l.1-.6M642.6 119.1l.1-.6M650.9 119.3l.2-.7M659.1 119.3l.2-.7M667.4 119.3l.2-.7M675.7 119.3l.3-.7M683.9 119.3l.3-.7M692 119.6l.4-.7M700.2 119.7l.4-.7M708.4 119.6l.5-.6M716.6 119.5l.5-.6M724.9 119.3l.6-.6M733.4 119l.6-.5M741.7 118.8l.6-.5M750 118.7l.7-.4M758.1 118.6l.7-.3M766.1 118.5l.8-.2M773.8 118.1l.8-.1M781.7 117.3l.8 .1M790.1 117.1l.8 .2M798.5 116.9l.8 .3M806.8 116.7l.7 .3M815.1 116.4l.7 .4M823.5 116.2l.7 .4M832 116.2l.7 .4M840.4 116l.7 .4M848.7 115.9l.6 .5M857.1 115.8l.6 .5M865.5 115.7l.6 .5M873.9 115.6l.6 .5M882.4 115.6l.6 .5M890.8 115.5l.6 .6M576.1 127.7l0-.7M584.5 127.7l0-.7M592.8 127.5l0-.7M601.1 127.6l0-.7M609.4 127.7l0-.7M617.7 127.7l.1-.7M626 127.6l.1-.7M634.4 127.2l.1-.5M642.7 127.5l.1-.6M650.9 127.7l.1-.7M659.2 127.7l.2-.7M667.5 127.7l.2-.7M675.8 127.7l.2-.7M684 127.8l.3-.7M692.1 128.1l.3-.7M700.2 128.1l.4-.7M708.4 128.1l.4-.7M716.6 128l.5-.6M725 127.7l.5-.6M733.5 127.3l.6-.5M741.8 127.2l.6-.4M750.1 127l.7-.4M758.3 126.9l.7-.3M766.3 126.8l.8-.2M773.9 126.6l.8-.1M781.6 125.7l.8 .1M789.9 125.3l.8 .2M798.3 125.1l.7 .3M806.7 124.9l.7 .3M815.1 124.7l.7 .4M823.5 124.5l.7 .4M831.9 124.4l.7 .4M840.3 124.2l.6 .5M848.7 124.1l.6 .5M857.1 123.9l.6 .5M865.4 123.8l.6 .5M874 123.9l.6 .6M882.4 123.9l.6 .6M890.8 123.8l.6 .6M576.2 136.1l-.1-.8M584.5 136.1l0-.7M592.8 136.1l0-.7M601.2 136.1l0-.7M609.5 136.1l0-.8M617.8 136l0-.7M626.1 135.7l0-.6M634.5 135.5l0-.5M642.7 135.9l.1-.7M651 136.1l.1-.7M659.3 136.1l.1-.7M667.6 136.1l.2-.7M675.8 136.1l.2-.7M684 136.3l.3-.8M692.1 136.7l.3-.7M700.3 136.7l.3-.7M708.5 136.6l.4-.7M716.7 136.5l.5-.7M725.1 136.1l.5-.6M733.6 135.7l.6-.5M741.8 135.6l.6-.5M750 135.5l.7-.4M758.2 135.4l.7-.3M766.2 135.2l.8-.2M774.1 135l.8-.1M781.6 134.2l.8 .1M789.8 133.6l.8 .3M798.3 133.3l.7 .3M806.8 133.1l.7 .4M815.1 132.9l.7 .4M823.6 132.8l.7 .4M831.9 132.6l.6 .5M840.2 132.3l.6 .5M848.6 132.2l.6 .5M857 132l.6 .5M865.4 131.9l.6 .6M874 132.1l.6 .6M882.5 132.1l.5 .6M890.9 132.1l.5 .6M576.3 144.5l-.1-.7M584.6 144.5l-.1-.7M592.9 144.5l-.1-.7M601.2 144.5l0-.8M609.5 144.5l0-.7M617.9 144.3l0-.7M626.2 143.9l0-.5M634.5 144l0-.5M642.8 144.4l0-.7M651.1 144.5l.1-.7M659.4 144.5l.1-.7M667.7 144.5l.1-.7M675.9 144.6l.2-.8M684.1 145l.2-.8M692.2 145.4l.3-.8M700.4 145.2l.3-.7M708.7 144.9l.4-.7M716.9 144.7l.4-.7M725.3 144.4l.5-.6M733.5 144.2l.6-.6M741.6 144.2l.6-.5M749.7 144.1l.7-.4M757.8 143.9l.7-.3M766 143.6l.8-.2M774.1 143.4l.8-.1M781.7 142.6l.8 .1M789.9 141.9l.7 .3M798.3 141.6l.7 .3M806.8 141.4l.7 .4M815.2 141.2l.7 .4M823.6 141l.6 .5M831.8 140.7l.6 .5M840.1 140.4l.6 .5M848.5 140.3l.6 .5M857 140.2l.6 .6M865.5 140.2l.5 .6M874.1 140.4l.5 .6M882.6 140.5l.5 .6M891 140.4l.5 .6M576.3 152.9l-.1-.7M584.6 152.9l-.1-.7M593 152.9l-.1-.7M601.3 152.9l-.1-.7M609.6 152.8l-.1-.7M617.9 152.7l0-.7M626.2 152.7l0-.7M634.6 152.8l0-.7M642.9 152.9l0-.7M651.2 152.9l0-.8M659.5 152.9l0-.8M667.8 152.9l.1-.8M676 153.2l.1-.8M684.2 153.6l.2-.8M692.3 153.9l.2-.8M700.6 153.6l.2-.8M708.9 153.1l.3-.7M717.2 153l.4-.7M725.3 153l.4-.7M733.3 152.9l.5-.6M741.4 152.8l.6-.5M749.4 152.6l.7-.4M757.4 152.4l.7-.3M765.6 152.1l.8-.2M773.6 151.7l.8-.1M781.5 151.1l.8 .1M789.8 150.3l.7 .3M798.4 149.8l.7 .4M806.8 149.6l.7 .4M815.1 149.3l.6 .5M823.4 149l.6 .5M831.8 148.8l.6 .5M840.2 148.6l.6 .6M848.6 148.5l.6 .6M857.1 148.4l.5 .6M865.6 148.5l.5 .6M874.2 148.7l.5 .6M882.8 148.8l.5 .6M891.3 148.9l.5 .6M576.4 161.3l-.1-.7M584.7 161.3l-.1-.7M593 161.3l-.1-.7M601.4 161.2l-.1-.7M609.6 161l-.1-.6M618 161l-.1-.6M626.3 161.2l-.1-.7M634.6 161.3l-.1-.7M643 161.3l0-.8M651.3 161.3l0-.8M659.6 161.3l0-.8M667.9 161.5l0-.8M676.1 161.8l.1-.8M684.3 162l.1-.8M692.5 162.2l.1-.8M700.8 162l.2-.8M709 161.7l.2-.8M717.1 161.7l.3-.7M725.1 161.9l.4-.7M733.2 161.8l.5-.6M741.2 161.5l.6-.6M749.1 161.3l.7-.4M757.1 160.9l.7-.3M765.3 160.4l.8-.2M773.2 160l.8 0M781.3 159.4l.8 .1M789.8 158.6l.8 .3M798.3 158l.7 .4M806.7 157.6l.6 .5M815 157.3l.6 .5M823.4 157.1l.6 .5M831.9 156.9l.6 .6M840.3 156.8l.5 .6M848.8 156.7l.5 .6M857.2 156.7l.5 .6M865.7 156.6l.5 .6M874.2 156.8l.5 .6M882.9 157.1l.5 .6M891.4 157.3l.5 .7M576.4 169.6l-.2-.7M584.8 169.6l-.2-.7M593.1 169.6l-.2-.7M601.4 169.6l-.2-.7M609.7 169.5l-.1-.7M618.1 169.5l-.1-.7M626.4 169.6l-.1-.7M634.7 169.7l-.1-.7M643.1 169.7l-.1-.7M651.4 169.7l-.1-.8M659.7 169.8l-.1-.8M668 170.2l0-.8M676.3 170.3l0-.8M684.5 170.4l0-.8M692.8 170.5l.1-.8M701 170.4l.1-.8M709.2 170.3l.2-.8M717.3 170.4l.2-.8M725.3 170.6l.3-.7M733.2 170.5l.4-.7M741.2 170.2l.5-.6M749.1 169.8l.7-.5M757.1 169.3l.7-.3M765.3 168.7l.8-.1M773.2 168.1l.8 0M781.2 167.5l.8 .2M789.3 166.7l.7 .3M798 166l.7 .4M806.6 165.6l.6 .5M815.1 165.4l.6 .6M823.6 165.3l.6 .6M832.1 165.1l.5 .6M840.5 165.1l.5 .6M849 165l.5 .6M857.4 164.9l.5 .6M865.8 164.9l.5 .7M874.4 165.1l.5 .7M882.9 165.3l.4 .7M891.4 165.4l.4 .7M576.5 178l-.2-.7M584.8 178l-.2-.7M593.1 177.8l-.2-.6M601.4 177.7l-.2-.6M609.8 177.9l-.2-.7M618.2 177.9l-.2-.7M626.5 178l-.2-.7M634.8 178l-.2-.7M643.1 178l-.1-.7M651.5 178.1l-.1-.8M659.8 178.4l-.1-.8M668.2 178.7l-.1-.8M676.5 178.7l-.1-.8M684.7 178.8l-.1-.8M693 179l0-.8M701.2 179l0-.8M709.4 179l.1-.8M717.6 178.9l.1-.8M725.6 179l.2-.8M733.6 178.9l.3-.7M741.5 178.6l.5-.6M749.5 178.1l.6-.5M757.4 177.5l.7-.3M765.5 176.8l.8-.1M773.5 176.2l.8 .1M781.1 175.4l.8 .3M789.1 174.5l.7 .4M797.8 173.8l.6 .5M806.6 173.5l.6 .6M815.2 173.4l.5 .6M823.8 173.4l.5 .6M832.3 173.3l.5 .6M840.7 173.3l.5 .6M849.2 173.2l.5 .7M857.6 173.2l.4 .7M866.1 173.3l.4 .7M874.7 173.6l.4 .7M883.1 173.6l.4 .7M891.5 173.6l.4 .7M576.6 186.4l-.2-.7M584.9 186.3l-.2-.7M593.1 185.9l-.2-.5M601.4 185.7l-.1-.4M609.7 185.8l-.2-.5M618.1 186l-.2-.5M626.6 186.3l-.2-.7M634.9 186.4l-.2-.7M643.2 186.4l-.2-.7M651.6 186.5l-.2-.8M660 186.9l-.2-.8M668.4 187.1l-.2-.8M676.7 187.1l-.2-.8M685 187.2l-.1-.8M693.3 187.5l-.1-.8M701.6 187.7l-.1-.8M709.8 187.7l0-.8M717.9 187.5l0-.8M726 187.3l.1-.8M734.1 187.1l.2-.8M742 186.8l.4-.7M750 186.3l.6-.6M757.9 185.6l.8-.3M766 184.9l.8 0M774.1 184.2l.8 .3M781.4 183.2l.7 .4M789.5 182.4l.6 .5M798.1 181.8l.6 .6M806.8 181.4l.5 .6M815.4 181.3l.5 .6M823.9 181.4l.5 .7M832.5 181.5l.4 .7M841 181.5l.4 .7M849.4 181.5l.4 .7M857.8 181.4l.4 .7M866.2 181.5l.4 .7M874.8 181.8l.4 .7M883.3 181.9l.4 .7M891.6 181.9l.4 .7M576.6 194.7l-.3-.7M584.9 194.6l-.3-.7M593.1 194.2l-.2-.5M601.4 193.9l-.1-.4M609.7 193.9l-.1-.4M618.1 194.1l-.2-.5M626.6 194.6l-.2-.6M635 194.7l-.2-.7M643.3 194.7l-.2-.7M651.7 194.8l-.3-.8M660.2 195.2l-.3-.8M668.5 195.4l-.2-.8M676.9 195.4l-.2-.8M685.2 195.5l-.2-.8M693.6 195.8l-.2-.8M701.9 196l-.2-.8M710.2 196.1l-.2-.8M718.4 196l-.1-.8M726.6 195.8l-.1-.8M734.6 195.6l0-.8M742.7 195l.2-.8M750.7 194.3l.3-.5M758.7 193.7l.6-.2M766.6 192.9l.7 .2M774.4 192.1l.7 .4M782 190.9l.6 .5M790.3 190.2l.5 .6M798.8 189.8l.5 .6M807.2 189.4l.4 .7M815.7 189.4l.4 .7M824.2 189.4l.4 .7M832.7 189.6l.4 .7M841.2 189.7l.4 .7M849.6 189.7l.4 .7M858 189.7l.4 .7M866.5 189.8l.3 .7M875 190.2l.3 .7M883.4 190.2l.3 .7M891.8 190.2l.3 .7M576.7 203l-.3-.7M585 202.9l-.3-.6M593.1 202.5l-.2-.4M601.4 202.3l-.2-.4M609.7 202.3l-.2-.4M618.2 202.6l-.2-.5M626.7 203l-.3-.7M635.1 203.1l-.3-.7M643.4 203.1l-.3-.7M651.8 203.1l-.3-.7M660.3 203.4l-.3-.7M668.7 203.7l-.3-.7M677.1 203.7l-.3-.7M685.4 203.7l-.3-.7M693.8 203.9l-.3-.7M702.2 204l-.3-.7M710.6 204.2l-.3-.7M719 204.3l-.3-.7M727.2 204.3l-.3-.8M735.3 203.8l-.3-.8M743.3 202.9l-.2-.6M751.4 202.5l0-.4M759 201.7l.4 .1M767.3 200.9l.4 .5M775.2 200l.4 .7M783 198.7l.4 .7M791.1 198.1l.4 .7M799.5 197.9l.4 .7M807.7 197.6l.3 .7M816.1 197.5l.3 .7M824.5 197.5l.3 .7M833 197.8l.3 .7M841.5 198l.3 .7M849.9 198l.3 .7M858.3 198l.3 .7M866.7 198.3l.3 .7M875.2 198.5l.3 .7M883.6 198.6l.3 .7M891.9 198.6l.3 .7M576.5 211l-.2-.5M584.8 210.9l-.2-.5M593.1 210.7l-.2-.4M601.4 210.7l-.2-.4M609.8 210.8l-.2-.4M618.3 211.2l-.3-.6M626.8 211.4l-.3-.7M635.2 211.4l-.3-.7M643.5 211.4l-.4-.7M651.9 211.4l-.4-.7M660.3 211.6l-.4-.7M668.8 211.9l-.4-.7M677.3 212l-.4-.7M685.6 212l-.4-.7M694 212l-.4-.7M702.4 212l-.4-.7M710.9 212.2l-.4-.7M719.4 212.4l-.4-.7M727.9 212.4l-.5-.7M736.1 212l-.5-.6M744.1 211.2l-.5-.5M752.3 210.6l-.5-.2M760.5 209.5l-.4 .4M768.1 208.7l0 .7M776 207.9l.1 .8M783.8 206.8l.2 .8M791.9 206.2l.2 .8M800.1 206.1l.2 .8M808.3 205.8l.2 .8M816.6 205.7l.3 .8M825 205.7l.3 .8M833.4 206l.3 .8M841.8 206.2l.3 .8M850.2 206.3l.3 .8M858.5 206.3l.3 .8M867 206.7l.3 .8M875.4 206.9l.3 .8M883.8 206.9l.3 .8M892.1 206.9l.3 .8M576.4 219.1l-.2-.4M584.8 219.1l-.2-.4M593.1 219.1l-.2-.4M601.4 219.1l-.2-.4M609.9 219.3l-.3-.5M618.5 219.7l-.4-.6M626.9 219.8l-.4-.6M635.3 219.8l-.4-.6M643.6 219.8l-.4-.6M652 219.8l-.4-.6M660.4 219.8l-.4-.6M668.8 220l-.4-.7M677.4 220.2l-.5-.7M685.8 220.2l-.5-.6M694.2 220.2l-.5-.6M702.6 220.2l-.5-.6M711.1 220.2l-.5-.6M719.6 220.2l-.6-.6M728.3 220.3l-.6-.5M736.8 220l-.7-.4M744.9 219.3l-.7-.3M753.1 218.5l-.8 0M761.2 217.6l-.7 .4M769 216.6l-.4 .7M776.8 215.7l-.1 .8M784.7 215l0 .8M792.6 214.4l.1 .8M800.8 214.2l.1 .8M808.9 214.1l.1 .8M817.1 213.9l.2 .8M825.4 214l.2 .8M833.8 214.4l.2 .8M842.1 214.5l.2 .8M850.4 214.6l.2 .8M858.8 214.7l.2 .8M867.2 215l.2 .8M875.6 215.2l.2 .8M883.9 215.2l.2 .8M892.3 215.2l.2 .8M576.4 227.4l-.2-.3M584.8 227.4l-.2-.3M593.1 227.4l-.2-.3M601.5 227.5l-.2-.4M610.1 227.8l-.3-.5M618.6 228.1l-.4-.6M627 228.1l-.4-.6M635.4 228.1l-.4-.6M643.7 228.1l-.4-.6M652.1 228.1l-.5-.6M660.4 228.1l-.5-.6M668.8 228.1l-.5-.6M677.3 228.2l-.5-.6M685.9 228.4l-.5-.6M694.4 228.4l-.6-.6M702.8 228.4l-.6-.6M711.2 228.3l-.6-.5M719.7 228.2l-.6-.5M728.3 228l-.7-.4M736.8 227.7l-.7-.3M744.9 227.2l-.8-.1M753.1 226.6l-.8 .1M761.5 225.9l-.7 .4M769.7 224.7l-.5 .6M777.5 223.8l-.3 .8M785.4 223.4l-.1 .8M793.4 222.8l-.1 .8M801.4 222.6l0 .8M809.5 222.5l0 .8M817.6 222.3l.1 .8M825.9 222.5l.1 .8M834.2 222.8l.1 .8M842.4 222.9l.1 .8M850.7 222.9l.1 .8M859 223l.2 .8M867.4 223.3l.2 .8M875.8 223.5l.2 .8M884.1 223.5l.2 .8M892.4 223.6l.2 .8M576.4 235.8l-.2-.3M584.8 235.8l-.2-.3M593.2 235.9l-.3-.4M601.6 236l-.3-.4M610.2 236.3l-.4-.5M618.7 236.5l-.5-.6M627.1 236.4l-.5-.6M635.4 236.4l-.5-.6M643.8 236.4l-.5-.6M652.2 236.4l-.5-.6M660.5 236.4l-.5-.6M668.9 236.4l-.5-.5M677.3 236.3l-.5-.5M685.8 236.4l-.6-.5M694.4 236.5l-.6-.5M702.9 236.5l-.6-.5M711.4 236.4l-.7-.4M719.9 236.3l-.7-.4M728.5 236.2l-.7-.3M737.1 235.9l-.8-.2M745.3 235.4l-.8 0M753.7 234.8l-.8 .2M762.1 233.9l-.7 .4M770.3 232.8l-.5 .6M778.2 232.1l-.4 .7M786 231.5l-.3 .8M794 231.1l-.2 .8M801.9 231.1l-.1 .8M810 230.9l0 .8M818.1 230.7l0 .8M826.3 230.9l0 .8M834.5 231.2l.1 .8M842.8 231.2l.1 .8M851 231.3l.1 .8M859.3 231.4l.1 .8M867.7 231.7l.1 .8M876 231.8l.1 .8M884.3 231.9l.1 .8M892.6 231.9l.1 .8M576.5 244.2l-.2-.3M584.9 244.2l-.3-.4M593.5 244.5l-.4-.5M601.9 244.7l-.4-.5M610.3 244.7l-.5-.5M618.8 244.8l-.5-.6M627.1 244.8l-.5-.6M635.5 244.8l-.5-.6M643.9 244.7l-.5-.5M652.2 244.7l-.5-.5M660.6 244.7l-.5-.5M669 244.7l-.6-.5M677.4 244.6l-.6-.5M685.8 244.6l-.6-.5M694.2 244.6l-.7-.4M702.9 244.6l-.7-.4M711.6 244.7l-.7-.4M720.3 244.7l-.7-.3M729.2 244.6l-.8-.2M738.2 244.2l-.8-.1M746.7 243.5l-.8 0M755 242.6l-.8 .2M763.1 241.7l-.7 .4M770.9 241l-.6 .5M778.7 240.4l-.5 .7M786.6 239.9l-.4 .7M794.4 239.8l-.3 .8M802.4 239.7l-.2 .8M810.4 239.6l-.1 .8M818.5 239.5l-.1 .8M826.7 239.5l0 .8M834.9 239.6l0 .8M843.1 239.6l0 .8M851.3 239.8l0 .8M859.6 240.1l.1 .8M867.9 240.2l.1 .8M876.2 240.2l.1 .8M884.5 240.3l.1 .8M892.8 240.3l.1 .8M576.5 252.5l-.3-.3M584.9 252.6l-.3-.3M593.5 252.9l-.4-.5M601.9 253l-.4-.5M610.2 252.9l-.4-.4M618.8 253l-.5-.5M627.2 253.1l-.5-.5M635.6 253.1l-.5-.5M643.9 253.1l-.6-.5M652.3 253l-.6-.5M660.7 253l-.6-.5M669.1 253l-.6-.5M677.4 252.9l-.6-.4M685.8 252.8l-.6-.4M694.2 252.8l-.7-.4M702.8 252.8l-.7-.3M711.8 253.1l-.7-.3M720.8 253.1l-.7-.3M729.7 252.9l-.8-.2M738.6 252.4l-.8-.1M747.1 251.6l-.8 .1M755.3 250.8l-.8 .2M763.3 250.1l-.7 .4M771.2 249.4l-.6 .5M779 248.9l-.5 .6M786.9 248.6l-.4 .7M794.8 248.3l-.3 .7M802.8 248.2l-.3 .8M810.8 248.1l-.2 .8M818.9 248l-.1 .8M827 248l-.1 .8M835.2 248l-.1 .8M843.4 248.1l0 .8M851.6 248.4l0 .8M859.8 248.6l0 .8M868.1 248.6l0 .8M876.4 248.6l0 .8M884.6 248.7l.1 .8M892.9 248.7l.1 .8M576.5 260.9l-.3-.3M584.9 260.9l-.3-.3M593.4 261.1l-.4-.4M601.9 261.3l-.4-.4M610.1 261l-.4-.4M618.6 261.2l-.4-.4M627.2 261.4l-.5-.5M635.6 261.4l-.6-.5M644 261.4l-.6-.5M652.4 261.3l-.6-.5M660.7 261.3l-.6-.4M669.1 261.3l-.6-.4M677.5 261.2l-.6-.4M685.9 261.1l-.7-.4M694.3 261.1l-.7-.3M703.2 261.3l-.7-.3M712.4 261.6l-.7-.3M721.2 261.4l-.8-.2M729.8 261l-.8-.1M738.6 260.5l-.8 0M747 259.8l-.8 .1M755.2 259.1l-.8 .3M763.3 258.5l-.7 .4M771.3 257.9l-.6 .5M779.2 257.5l-.6 .6M787.1 257.1l-.5 .6M795.1 256.9l-.4 .7M803.1 256.7l-.3 .7M811.1 256.6l-.3 .8M819.2 256.5l-.2 .8M827.3 256.4l-.2 .8M835.5 256.4l-.1 .8M843.6 256.6l-.1 .8M851.8 256.9l-.1 .8M860 257l0 .8M868.3 257l0 .8M876.5 257l0 .8M884.8 257.2l0 .8M893.1 257.1l0 .8M576.5 269.3l-.3-.3M584.9 269.3l-.3-.3M593.4 269.4l-.4-.3M602 269.6l-.5-.4M610.1 269.4l-.4-.3M618.5 269.4l-.4-.3M627.2 269.6l-.5-.4M635.7 269.7l-.6-.5M644 269.7l-.6-.4M652.4 269.7l-.6-.4M660.8 269.6l-.6-.4M669.2 269.6l-.7-.4M677.5 269.5l-.7-.3M685.9 269.4l-.7-.3M694.6 269.5l-.7-.3M703.8 269.9l-.7-.3M712.8 269.9l-.8-.3M721.3 269.6l-.8-.2M729.8 269.2l-.8-.1M738.4 268.7l-.8 0M747 268.1l-.8 .2M755.2 267.5l-.8 .3M763.3 266.9l-.7 .4M771.4 266.4l-.6 .5M779.3 266l-.6 .6M787.3 265.7l-.5 .6M795.3 265.4l-.4 .7M803.3 265.2l-.4 .7M811.4 265.1l-.3 .7M819.5 265l-.3 .8M827.6 264.9l-.2 .8M835.7 265l-.2 .8M843.8 265.2l-.1 .8M852 265.4l-.1 .8M860.2 265.4l-.1 .8M868.5 265.4l-.1 .8M876.7 265.4l0 .8M885 265.4l0 .8M893.3 265.4l0 .8M576.5 277.6l-.3-.3M584.9 277.6l-.3-.3M593.3 277.7l-.3-.3M601.9 277.9l-.4-.4M610.2 277.8l-.4-.3M618.4 277.6l-.3-.3M626.9 277.8l-.4-.3M635.5 277.9l-.5-.4M644 278l-.6-.4M652.5 278l-.6-.4M660.8 277.9l-.7-.4M669.2 277.9l-.7-.3M677.7 277.9l-.7-.3M686.1 277.9l-.7-.3M695.1 278.1l-.7-.3M704.2 278.3l-.8-.3M712.9 278.1l-.8-.2M721.4 277.7l-.8-.1M729.8 277.4l-.8 0M738.2 276.9l-.8 .1M746.7 276.4l-.8 .2M755.1 275.9l-.8 .3M763.3 275.3l-.7 .4M771.4 274.9l-.7 .5M779.5 274.5l-.6 .5M787.5 274.2l-.5 .6M795.5 273.9l-.5 .6M803.5 273.7l-.4 .7M811.6 273.6l-.4 .7M819.7 273.5l-.3 .7M827.7 273.5l-.3 .8M835.8 273.7l-.2 .8M844 273.8l-.2 .8M852.2 273.8l-.2 .8M860.4 273.8l-.1 .8M868.6 273.8l-.1 .8M876.9 273.8l-.1 .8M885.1 273.8l-.1 .8M893.4 273.8l0 .8M576.6 286l-.3-.3M584.9 286l-.3-.3M593.3 286l-.3-.3M601.7 286l-.4-.3M610.1 286l-.4-.3M618.5 286l-.4-.3M626.8 286l-.4-.3M635.2 286.1l-.4-.3M643.8 286.2l-.5-.3M652.5 286.3l-.6-.4M661 286.4l-.7-.4M669.6 286.5l-.7-.4M678.2 286.6l-.7-.4M686.8 286.6l-.7-.3M695.6 286.6l-.7-.3M704.5 286.6l-.8-.2M713 286.3l-.8-.2M721.4 286l-.8-.1M729.8 285.6l-.8 0M738.1 285.2l-.8 .1M746.4 284.8l-.8 .2M754.8 284.3l-.8 .3M763.3 283.8l-.7 .4M771.4 283.4l-.7 .4M779.4 283.1l-.6 .5M787.5 282.8l-.6 .6M795.6 282.5l-.5 .6M803.7 282.3l-.5 .7M811.7 282.2l-.4 .7M819.8 282.1l-.4 .7M827.9 282.2l-.3 .7M836 282.3l-.3 .8M844.1 282.3l-.2 .8M852.3 282.3l-.2 .8M860.6 282.3l-.2 .8M868.8 282.3l-.1 .8M877 282.2l-.1 .8M885.3 282.2l-.1 .8M893.6 282.2l-.1 .8M576.6 294.4l-.3-.3M584.9 294.4l-.3-.3M593.3 294.4l-.3-.2M601.7 294.4l-.4-.2M610.2 294.5l-.4-.3M618.8 294.6l-.5-.3M627.1 294.6l-.5-.3M635.3 294.4l-.4-.3M643.6 294.4l-.5-.2M652.5 294.7l-.7-.4M661.3 295l-.7-.4M670 295.1l-.7-.4M678.7 295.2l-.7-.4M687.2 295.1l-.7-.3M695.7 294.9l-.8-.3M704.5 294.8l-.8-.2M713 294.5l-.8-.1M721.4 294.2l-.8 0M729.8 293.9l-.8 0M738.1 293.5l-.8 .1M746.3 293.1l-.8 .2M754.6 292.8l-.8 .3M763 292.3l-.7 .4M771.2 292l-.7 .4M779.2 291.8l-.6 .5M787.3 291.5l-.6 .6M795.5 291.2l-.5 .6M803.6 291l-.5 .6M811.7 291l-.4 .7M819.8 290.9l-.4 .7M827.9 290.9l-.3 .7M836.1 290.8l-.3 .7M844.3 290.8l-.3 .8M852.5 290.7l-.2 .8M860.7 290.7l-.2 .8M868.9 290.8l-.2 .8M877.2 290.7l-.2 .8M885.4 290.8l-.1 .8M893.6 291l-.1 .8M576.6 302.8l-.4-.3M585 302.7l-.3-.2M593.3 302.7l-.3-.2M601.7 302.7l-.4-.2M610.3 302.9l-.5-.3M618.6 302.8l-.5-.3M626.9 302.8l-.4-.2M635.2 302.7l-.4-.2M643.9 302.9l-.6-.3M652.8 303.4l-.7-.4M661.4 303.5l-.7-.4M670.1 303.5l-.7-.4M678.8 303.5l-.7-.3M687.2 303.3l-.8-.3M695.6 303.1l-.8-.2M704.3 303l-.8-.2M713 302.8l-.8-.1M721.4 302.5l-.8 0M729.7 302.1l-.8 .1M738.1 301.8l-.8 .1M746.3 301.5l-.8 .2M754.6 301.2l-.7 .3M762.8 300.8l-.7 .4M771 300.6l-.7 .4M779.1 300.3l-.6 .5M787.3 300.1l-.6 .5M795.5 299.9l-.5 .6M803.6 299.7l-.5 .6M811.7 299.6l-.5 .7M819.9 299.4l-.4 .7M828.1 299.3l-.4 .7M836.3 299.3l-.3 .7M844.4 299.2l-.3 .7M852.7 299.1l-.3 .8M860.9 299.1l-.2 .8M869.1 299.1l-.2 .8M877.3 299.2l-.2 .8M885.5 299.5l-.2 .8M893.7 299.6l-.1 .8M576.9 311.3l-.5-.3M585.2 311.2l-.4-.3M593.4 311.1l-.4-.2M601.7 311.1l-.4-.2M610 311.1l-.4-.2M618.4 311.1l-.4-.2M626.7 311l-.4-.2M635.3 311.1l-.5-.2M644.3 311.6l-.7-.4M653 311.8l-.7-.4M661.5 311.8l-.7-.4M670.2 311.8l-.7-.3M678.8 311.7l-.7-.3M687.2 311.6l-.8-.2M695.6 311.4l-.8-.2M704.1 311.2l-.8-.1M712.7 311l-.8-.1M721.3 310.7l-.8 0M729.7 310.4l-.8 .1M738 310.1l-.8 .1M746.3 309.8l-.8 .2M754.6 309.5l-.7 .3M762.8 309.3l-.7 .3M771 309l-.7 .4M779.2 308.7l-.6 .5M787.4 308.5l-.6 .5M795.5 308.3l-.6 .6M803.7 308.2l-.5 .6M811.8 308l-.5 .6M820 307.9l-.4 .7M828.2 307.8l-.4 .7M836.4 307.7l-.4 .7M844.6 307.6l-.3 .7M852.8 307.6l-.3 .7M861 307.5l-.3 .8M869.2 307.6l-.2 .8M877.4 307.8l-.2 .8M885.6 308l-.2 .8M893.8 308l-.2 .8M576.8 319.6l-.4-.3M585.2 319.6l-.5-.3M593.6 319.6l-.5-.3M601.7 319.5l-.4-.2M610 319.4l-.4-.2M618.4 319.4l-.4-.2M626.7 319.4l-.4-.2M635.5 319.6l-.5-.3M644.5 320.1l-.7-.4M653.1 320.1l-.7-.4M661.5 320.1l-.7-.3M670.2 320.1l-.7-.3M678.9 320l-.8-.3M687.3 319.9l-.8-.2M695.7 319.7l-.8-.2M704 319.5l-.8-.1M712.5 319.3l-.8 0M721 319l-.8 0M729.6 318.8l-.8 .1M738 318.5l-.8 .2M746.3 318.2l-.8 .2M754.6 317.9l-.7 .3M762.8 317.7l-.7 .3M771 317.4l-.7 .4M779.2 317.2l-.7 .5M787.4 317l-.6 .5M795.6 316.8l-.6 .5M803.8 316.6l-.5 .6M811.9 316.5l-.5 .6M820.1 316.4l-.5 .6M828.2 316.3l-.4 .7M836.4 316.3l-.4 .7M844.7 316.2l-.4 .7M852.9 316.1l-.3 .7M861.1 316.1l-.3 .7M869.2 316.2l-.3 .8M877.4 316.4l-.2 .8M885.6 316.5l-.2 .8M893.9 316.5l-.2 .8M576.6 327.8l-.4-.2M585 327.9l-.4-.2M593.4 327.9l-.4-.2M601.7 327.8l-.4-.2M610 327.8l-.4-.2M618.4 327.8l-.4-.2M626.8 327.8l-.4-.2M635.6 328.1l-.6-.3M644.5 328.4l-.7-.4M653.1 328.4l-.7-.3M661.5 328.4l-.7-.3M670.1 328.3l-.8-.3M678.7 328.3l-.8-.2M687.3 328.1l-.8-.2M695.7 328l-.8-.1M704 327.8l-.8-.1M712.4 327.6l-.8 0M720.8 327.4l-.8 0M729.4 327.1l-.8 .1M737.9 326.8l-.8 .2M746.3 326.6l-.8 .2M754.6 326.3l-.7 .3M762.8 326.1l-.7 .3M771 325.8l-.7 .4M779.2 325.6l-.7 .4M787.4 325.4l-.6 .5M795.6 325.2l-.6 .5M803.8 325.1l-.6 .6M811.9 325.1l-.5 .6M820 325.1l-.5 .6M828.1 325.1l-.5 .7M836.3 325l-.4 .7M844.6 324.9l-.4 .7M852.9 324.8l-.4 .7M861.1 324.8l-.3 .7M869.2 324.9l-.3 .7M877.5 324.9l-.3 .8M885.7 324.9l-.3 .8M894 324.9l-.2 .8M576.6 336.2l-.4-.2M585 336.2l-.4-.2M593.3 336.2l-.4-.2M601.7 336.2l-.4-.2M610.1 336.2l-.4-.2M618.6 336.3l-.5-.2M627.2 336.4l-.6-.3M635.8 336.6l-.7-.3M644.5 336.7l-.7-.3M653.1 336.7l-.7-.3M661.5 336.7l-.8-.3M669.9 336.6l-.8-.2M678.4 336.5l-.8-.2M687 336.4l-.8-.1M695.4 336.2l-.8-.1M703.9 336.1l-.8 0M712.4 335.9l-.8 0M720.7 335.7l-.8 .1M729.1 335.5l-.8 .1M737.6 335.3l-.8 .2M746.1 335l-.8 .2M754.4 334.7l-.7 .3M762.7 334.5l-.7 .3M770.9 334.3l-.7 .4M779.2 334.1l-.7 .4M787.4 333.9l-.6 .5M795.5 333.8l-.6 .5M803.6 333.8l-.6 .6M811.7 333.8l-.5 .6M819.9 333.7l-.5 .6M828.1 333.7l-.5 .6M836.3 333.6l-.4 .7M844.6 333.5l-.4 .7M852.8 333.4l-.4 .7M861.1 333.4l-.4 .7M869.3 333.4l-.3 .7M877.6 333.3l-.3 .7M885.8 333.3l-.3 .8M894.1 333.3l-.3 .8M576.6 344.6l-.4-.2M585 344.6l-.4-.2M593.3 344.6l-.4-.2M601.7 344.6l-.4-.2M610.3 344.7l-.5-.2M619 344.9l-.6-.3M627.4 345l-.7-.3M635.9 345l-.7-.3M644.5 345l-.7-.3M653.2 345.1l-.7-.3M661.6 345l-.8-.3M669.9 344.9l-.8-.2M678.3 344.8l-.8-.2M686.7 344.6l-.8-.1M695.1 344.5l-.8-.1M703.8 344.4l-.8 0M712.4 344.2l-.8 0M720.7 344l-.8 .1M729.1 343.9l-.8 .1M737.4 343.7l-.8 .2M745.7 343.5l-.8 .2M754.1 343.3l-.7 .3M762.3 343.1l-.7 .3M770.6 342.9l-.7 .4M778.9 342.7l-.7 .4M787.1 342.6l-.6 .5M795.3 342.5l-.6 .5M803.5 342.4l-.6 .5M811.7 342.3l-.6 .6M819.9 342.2l-.5 .6M828.2 342.1l-.5 .6M836.4 342l-.5 .7M844.6 342l-.4 .7M852.9 341.9l-.4 .7M861.1 341.8l-.4 .7M869.4 341.8l-.3 .7M877.6 341.8l-.3 .7M885.9 341.7l-.3 .7M894.2 341.7l-.3 .8M576.6 353l-.4-.2M585 352.9l-.4-.2M593.4 353l-.4-.2M602 353.1l-.5-.2M610.6 353.3l-.6-.3M619.1 353.4l-.7-.4M627.5 353.3l-.7-.3M635.9 353.3l-.7-.3M644.4 353.3l-.7-.3M653.1 353.4l-.8-.3M661.6 353.3l-.8-.2M670 353.2l-.8-.2M678.3 353.1l-.8-.1M686.7 353l-.8-.1M695.1 352.8l-.8-.1M703.7 352.7l-.8 0M712.3 352.6l-.8 0M720.7 352.4l-.8 .1M729.1 352.2l-.8 .1M737.4 352l-.8 .2M745.7 351.9l-.8 .2M753.9 351.7l-.7 .3M762.2 351.5l-.7 .3M770.5 351.4l-.7 .4M778.7 351.2l-.7 .4M787 351.1l-.7 .5M795.2 351l-.6 .5M803.5 350.8l-.6 .5M811.7 350.7l-.6 .6M820 350.6l-.5 .6M828.2 350.5l-.5 .6M836.5 350.5l-.5 .6M844.7 350.4l-.4 .7M852.9 350.3l-.4 .7M861.2 350.3l-.4 .7M869.5 350.2l-.4 .7M877.7 350.2l-.3 .7M886 350.1l-.3 .7M894.2 350.1l-.3 .7M576.7 361.3l-.4-.2M585.1 361.4l-.4-.2M593.7 361.6l-.5-.3M602.3 361.7l-.6-.3M610.7 361.8l-.7-.4M619.1 361.7l-.7-.3M627.5 361.7l-.7-.3M635.9 361.6l-.7-.3M644.3 361.6l-.7-.3M653 361.6l-.8-.2M661.6 361.6l-.8-.2M670 361.5l-.8-.2M678.3 361.4l-.8-.1M686.7 361.3l-.8-.1M695.1 361.2l-.8 0M703.5 361.1l-.8 0M712 360.9l-.8 .1M720.5 360.8l-.8 .1M729 360.6l-.8 .1M737.3 360.4l-.8 .2M745.7 360.2l-.8 .2M753.9 360.1l-.7 .3M762.2 359.9l-.7 .3M770.5 359.8l-.7 .4M778.7 359.7l-.7 .4M786.9 359.6l-.7 .5M795.1 359.5l-.6 .5M803.4 359.4l-.6 .5M811.6 359.3l-.6 .6M819.8 359.2l-.5 .6M828.2 359l-.5 .6M836.5 358.9l-.5 .6M844.8 358.8l-.5 .7M853 358.8l-.4 .7M861.3 358.7l-.4 .7M869.5 358.6l-.4 .7M877.8 358.6l-.4 .7M886 358.6l-.3 .7M894.3 358.5l-.3 .7M576.7 369.8l-.4-.2M585.4 370l-.5-.3M594 370.2l-.6-.4M602.4 370.2l-.7-.4M610.8 370.1l-.7-.3M619.1 370.1l-.7-.3M627.5 370l-.7-.3M635.9 370l-.7-.3M644.3 369.9l-.7-.2M652.8 369.9l-.8-.2M661.5 369.9l-.8-.2M670 369.8l-.8-.1M678.3 369.7l-.8-.1M686.7 369.6l-.8-.1M695.1 369.5l-.8 0M703.4 369.4l-.8 0M711.8 369.3l-.8 .1M720.2 369.2l-.8 .1M728.7 369l-.8 .2M737.2 368.8l-.8 .2M745.6 368.6l-.8 .2M753.9 368.5l-.7 .3M762.1 368.4l-.7 .3M770.2 368.3l-.7 .4M778.4 368.3l-.7 .4M786.6 368.2l-.7 .4M794.8 368.1l-.6 .5M803.1 368l-.6 .5M811.4 368l-.6 .5M819.6 367.9l-.6 .6M828 367.7l-.5 .6M836.4 367.4l-.5 .6M844.7 367.3l-.5 .6M853 367.3l-.5 .7M861.2 367.3l-.4 .7M869.5 367.2l-.4 .7M877.8 367.1l-.4 .7M886.1 367.1l-.4 .7M894.3 367.1l-.3 .7M576.7 378.2l-.4-.2M585.4 378.4l-.5-.3M594 378.5l-.6-.4M602.4 378.5l-.7-.3M610.8 378.5l-.7-.3M619.2 378.4l-.7-.3M627.5 378.4l-.7-.3M635.9 378.3l-.7-.2M644.3 378.3l-.7-.2M652.7 378.2l-.7-.2M661.2 378.2l-.8-.2M669.9 378.2l-.8-.1M678.3 378.1l-.8-.1M686.7 378l-.8-.1M695.1 377.9l-.8 0M703.4 377.8l-.8 0M711.7 377.6l-.8 .1M720.1 377.5l-.8 .1M728.4 377.4l-.8 .2M736.8 377.3l-.8 .2M745.2 377.1l-.8 .2M753.6 377l-.7 .3M761.8 376.9l-.7 .3M770 376.8l-.7 .4M778.2 376.8l-.7 .4M786.5 376.7l-.7 .4M794.8 376.6l-.6 .5M803.1 376.5l-.6 .5M811.3 376.4l-.6 .5M819.6 376.3l-.6 .6M828 376.2l-.5 .6M836.3 376.1l-.5 .6M844.5 376.1l-.5 .6M852.8 376l-.5 .6M861.1 376l-.4 .7M869.4 375.9l-.4 .7M877.7 375.7l-.4 .7M886 375.8l-.4 .7M894.2 375.9l-.4 .7M576.7 386.6l-.4-.2M585.5 386.8l-.6-.3M594.1 386.9l-.7-.3M602.4 386.9l-.7-.3M610.8 386.8l-.7-.3M619.2 386.8l-.7-.3M627.5 386.7l-.7-.3M635.9 386.7l-.7-.2M644.3 386.6l-.7-.2M652.6 386.6l-.7-.2M661 386.5l-.8-.1M669.6 386.5l-.8-.1M678.3 386.4l-.8-.1M686.7 386.3l-.8 0M695.1 386.2l-.8 0M703.4 386.1l-.8 0M711.7 386l-.8 .1M720.1 385.9l-.8 .1M728.4 385.8l-.8 .2M736.7 385.7l-.8 .2M745 385.6l-.8 .2M753.3 385.5l-.7 .3M761.6 385.4l-.7 .3M769.9 385.3l-.7 .4M778.2 385.2l-.7 .4M786.5 385.1l-.7 .4M794.8 385l-.6 .5M803.1 384.9l-.6 .5M811.4 384.8l-.6 .5M819.7 384.8l-.6 .6M828 384.6l-.6 .6M836.3 384.6l-.5 .6M844.5 384.6l-.5 .6M852.8 384.5l-.5 .6M861 384.5l-.5 .7M869.3 384.4l-.4 .7M877.6 384.4l-.4 .7M885.9 384.4l-.4 .7M894.2 384.4l-.4 .7M576.8 395l-.4-.2M585.5 395.2l-.6-.3M594.1 395.3l-.7-.3M602.5 395.2l-.7-.3M610.8 395.2l-.7-.3M619.2 395.1l-.7-.3M627.6 395.1l-.7-.2M635.9 395l-.7-.2M644.3 395l-.7-.2M652.6 394.9l-.7-.2M661 394.8l-.7-.1M669.5 394.8l-.8-.1M678.2 394.8l-.8-.1M686.7 394.7l-.8 0M695.1 394.6l-.8 0M703.4 394.5l-.8 .1M711.7 394.4l-.8 .1M720.1 394.3l-.8 .1M728.4 394.2l-.8 .2M736.7 394.1l-.8 .2M745 394l-.8 .2M753.3 393.9l-.7 .3M761.6 393.8l-.7 .3M769.9 393.7l-.7 .4M778.2 393.6l-.7 .4M786.5 393.5l-.7 .4M794.8 393.4l-.7 .5M803.1 393.3l-.6 .5M811.4 393.2l-.6 .5M819.7 393.2l-.6 .5M828 393.1l-.6 .6M836.2 393l-.5 .6M844.5 393l-.5 .6M852.8 392.9l-.5 .6M861.1 392.9l-.5 .6M869.4 392.9l-.5 .7M877.7 392.8l-.4 .7M885.9 392.8l-.4 .7M894.2 392.8l-.4 .7M576.7 403.3l-.4-.2M585.4 403.5l-.5-.3M594.1 403.6l-.7-.3M602.5 403.6l-.7-.3M610.8 403.5l-.7-.3M619.2 403.5l-.7-.2M627.6 403.4l-.7-.2M635.9 403.4l-.7-.2M644.3 403.3l-.7-.2M652.6 403.3l-.7-.1M661 403.2l-.7-.1M669.4 403.2l-.8-.1M678.2 403.1l-.8 0M686.7 403l-.8 0M695 402.9l-.8 0M703.4 402.8l-.8 .1M711.7 402.7l-.8 .1M720.1 402.6l-.8 .1M728.4 402.5l-.8 .2M736.7 402.4l-.8 .2M745 402.3l-.8 .3M753.3 402.2l-.7 .3M761.6 402.1l-.7 .3M769.9 402.1l-.7 .4M778.2 402l-.7 .4M786.5 401.9l-.7 .4M794.8 401.8l-.7 .5M803.1 401.7l-.6 .5M811.4 401.7l-.6 .5M819.7 401.6l-.6 .5M828 401.5l-.6 .6M836.3 401.5l-.6 .6M844.5 401.4l-.5 .6M852.8 401.4l-.5 .6M861.1 401.3l-.5 .6M869.4 401.3l-.5 .7M877.7 401.2l-.4 .7M886 401.2l-.4 .7M894.3 401.2l-.4 .7M576.7 411.7l-.4-.2M585.4 411.8l-.5-.2M594.1 411.9l-.7-.3M602.5 411.9l-.7-.3M610.9 411.9l-.7-.3M619.2 411.8l-.7-.2M627.6 411.8l-.7-.2M635.9 411.7l-.7-.2M644.3 411.7l-.7-.1M652.6 411.6l-.7-.1M661 411.6l-.8-.1M669.5 411.5l-.8-.1M678.3 411.5l-.8 0M686.7 411.4l-.8 0M695 411.3l-.8 0M703.4 411.2l-.8 .1M711.7 411.1l-.8 .1M720.1 411l-.8 .1M728.4 410.9l-.8 .2M736.7 410.8l-.8 .2M745 410.7l-.8 .3M753.3 410.6l-.7 .3M761.6 410.5l-.7 .3M769.9 410.4l-.7 .4M778.2 410.4l-.7 .4M786.5 410.3l-.7 .4M794.8 410.2l-.7 .4M803.1 410.1l-.6 .5M811.4 410.1l-.6 .5M819.7 410l-.6 .5M828 409.9l-.6 .5M836.3 409.9l-.6 .6M844.6 409.8l-.5 .6M852.9 409.8l-.5 .6M861.1 409.7l-.5 .6M869.4 409.7l-.5 .6M877.7 409.6l-.5 .7M886 409.6l-.4 .7M894.3 409.6l-.4 .7" stroke="#0a0000" stroke-width="2.05" stroke-linecap="round" fill="none"/>
</g>
<path d="M607.60,58.00V62.50M607.60,417.25V421.75" stroke="#777" stroke-width="0.9" fill="none"/>
<path d="M659.60,58.00V62.50M659.60,417.25V421.75" stroke="#777" stroke-width="0.9" fill="none"/>
<path d="M711.60,58.00V62.50M711.60,417.25V421.75" stroke="#777" stroke-width="0.9" fill="none"/>
<path d="M764.00,58.00V62.50M764.00,417.25V421.75" stroke="#777" stroke-width="0.9" fill="none"/>
<path d="M816.25,58.00V62.50M816.25,417.25V421.75" stroke="#777" stroke-width="0.9" fill="none"/>
<path d="M868.50,58.00V62.50M868.50,417.25V421.75" stroke="#777" stroke-width="0.9" fill="none"/>
<path d="M566.50,78.25H571.00M894.50,78.25H899.00" stroke="#777" stroke-width="0.9" fill="none"/>
<path d="M566.50,130.25H571.00M894.50,130.25H899.00" stroke="#777" stroke-width="0.9" fill="none"/>
<path d="M566.50,182.25H571.00M894.50,182.25H899.00" stroke="#777" stroke-width="0.9" fill="none"/>
<path d="M566.50,234.25H571.00M894.50,234.25H899.00" stroke="#777" stroke-width="0.9" fill="none"/>
<path d="M566.50,286.75H571.00M894.50,286.75H899.00" stroke="#777" stroke-width="0.9" fill="none"/>
<path d="M566.50,338.75H571.00M894.50,338.75H899.00" stroke="#777" stroke-width="0.9" fill="none"/>
<path d="M566.50,390.75H571.00M894.50,390.75H899.00" stroke="#777" stroke-width="0.9" fill="none"/>
<rect x="571.00" y="62.50" width="323.50" height="354.75" fill="none" stroke="#777" stroke-width="1"/>
<text transform="translate(595.07,436.00) scale(1.1000,1)" font-size="18" fill="#111">300</text>
<text transform="translate(647.07,436.00) scale(1.1000,1)" font-size="18" fill="#111">400</text>
<text transform="translate(699.07,436.00) scale(1.1000,1)" font-size="18" fill="#111">500</text>
<text transform="translate(751.47,436.00) scale(1.1000,1)" font-size="18" fill="#111">600</text>
<text transform="translate(803.72,436.00) scale(1.1000,1)" font-size="18" fill="#111">700</text>
<text transform="translate(855.97,436.00) scale(1.1000,1)" font-size="18" fill="#111">800</text>
<text transform="translate(521.60,80.65) scale(1.1000,1)" font-size="18" fill="#111">-100</text>
<text transform="translate(521.60,132.65) scale(1.1000,1)" font-size="18" fill="#111">-200</text>
<text transform="translate(521.60,184.65) scale(1.1000,1)" font-size="18" fill="#111">-300</text>
<text transform="translate(521.60,236.65) scale(1.1000,1)" font-size="18" fill="#111">-400</text>
<text transform="translate(521.60,289.15) scale(1.1000,1)" font-size="18" fill="#111">-500</text>
<text transform="translate(521.60,341.15) scale(1.1000,1)" font-size="18" fill="#111">-600</text>
<text transform="translate(521.60,393.15) scale(1.1000,1)" font-size="18" fill="#111">-700</text>
<path d="M538.79,21.13 L551.88,21.13 C555.39,21.13 556.95,23.28 556.95,26.02 C556.95,28.36 555.78,29.92 553.83,30.70 C556.56,31.48 557.93,33.44 557.93,35.78 C557.93,39.30 555.39,41.45 551.09,41.45 L538.79,41.45 Z M544.84,26.21 L549.53,26.21 C550.70,26.21 551.29,26.80 551.29,27.38 C551.29,28.05 550.70,28.55 549.53,28.55 L544.84,28.55 Z M544.84,33.83 L549.92,33.83 C551.29,33.83 551.68,34.61 551.68,35.39 C551.68,36.25 551.29,36.95 549.92,36.95 L544.84,36.95 Z" fill="#000" fill-rule="evenodd"/>
<text transform="translate(575.00,28.00) scale(1.1068,1)" font-size="18.3" fill="#111">Aug 27, 2011</text>
<text transform="translate(576.50,49.00) scale(1.0857,1)" font-size="18.3" fill="#111">1600 UTC</text>
<text transform="translate(691.50,456.00) scale(1.0444,1)" font-size="19.5" fill="#111">LCC East (km)</text>
<text transform="translate(512.50,306.00) rotate(-90) scale(1.0403,1)" font-size="19.5" fill="#111">LCC North (km)</text>
<text transform="translate(576.25,471.00) scale(1.0066,1)" font-size="10.2" fill="#222">LCC Origin: 38.50N, 83.00W</text>
<text transform="translate(576.25,482.50) scale(1.0003,1)" font-size="10.2" fill="#222">Matching Parallels: 28.50N, 48.50N</text>
<text transform="translate(576.25,492.50) scale(0.9966,1)" font-size="10.2" fill="#222">Datum: NWS-84</text>
<rect x="913.00" y="81.50" width="16.00" height="17.27" fill="#9900cc" stroke="#555" stroke-width="0.6"/>
<text transform="translate(936.75,101.07) scale(1.0800,1)" font-size="18" fill="#111">75</text>
<rect x="913.00" y="98.77" width="16.00" height="17.27" fill="#cc33ff" stroke="#555" stroke-width="0.6"/>
<text transform="translate(936.75,118.33) scale(1.0800,1)" font-size="18" fill="#111">70</text>
<rect x="913.00" y="116.03" width="16.00" height="17.27" fill="#cc99cc" stroke="#555" stroke-width="0.6"/>
<text transform="translate(936.75,135.60) scale(1.0800,1)" font-size="18" fill="#111">65</text>
<rect x="913.00" y="133.30" width="16.00" height="17.27" fill="#ff99ff" stroke="#555" stroke-width="0.6"/>
<text transform="translate(936.75,152.87) scale(1.0800,1)" font-size="18" fill="#111">60</text>
<rect x="913.00" y="150.57" width="16.00" height="17.27" fill="#ffcccc" stroke="#555" stroke-width="0.6"/>
<text transform="translate(936.75,170.13) scale(1.0800,1)" font-size="18" fill="#111">55</text>
<rect x="913.00" y="167.83" width="16.00" height="17.27" fill="#ffcc99" stroke="#555" stroke-width="0.6"/>
<text transform="translate(936.75,187.40) scale(1.0800,1)" font-size="18" fill="#111">50</text>
<rect x="913.00" y="185.10" width="16.00" height="17.27" fill="#cc6633" stroke="#555" stroke-width="0.6"/>
<text transform="translate(936.75,204.67) scale(1.0800,1)" font-size="18" fill="#111">45</text>
<rect x="913.00" y="202.37" width="16.00" height="17.27" fill="#ff6633" stroke="#555" stroke-width="0.6"/>
<text transform="translate(936.75,221.93) scale(1.0800,1)" font-size="18" fill="#111">40</text>
<rect x="913.00" y="219.63" width="16.00" height="17.27" fill="#ff9933" stroke="#555" stroke-width="0.6"/>
<text transform="translate(936.75,239.20) scale(1.0800,1)" font-size="18" fill="#111">35</text>
<rect x="913.00" y="236.90" width="16.00" height="17.27" fill="#ffcc00" stroke="#555" stroke-width="0.6"/>
<text transform="translate(936.75,256.47) scale(1.0800,1)" font-size="18" fill="#111">30</text>
<rect x="913.00" y="254.17" width="16.00" height="17.27" fill="#ff9999" stroke="#555" stroke-width="0.6"/>
<text transform="translate(936.75,273.73) scale(1.0800,1)" font-size="18" fill="#111">25</text>
<rect x="913.00" y="271.43" width="16.00" height="17.27" fill="#ffcc99" stroke="#555" stroke-width="0.6"/>
<text transform="translate(936.75,291.00) scale(1.0800,1)" font-size="18" fill="#111">20</text>
<rect x="913.00" y="288.70" width="16.00" height="17.27" fill="#99cc99" stroke="#555" stroke-width="0.6"/>
<text transform="translate(936.75,308.27) scale(1.0800,1)" font-size="18" fill="#111">15</text>
<rect x="913.00" y="305.97" width="16.00" height="17.27" fill="#99ff99" stroke="#555" stroke-width="0.6"/>
<text transform="translate(936.75,325.53) scale(1.0800,1)" font-size="18" fill="#111">10</text>
<rect x="913.00" y="323.23" width="16.00" height="17.27" fill="#ffffff" stroke="#555" stroke-width="0.6"/>
<text transform="translate(936.75,342.80) scale(1.0800,1)" font-size="18" fill="#111">0</text>
<text transform="translate(914.25,363.00) scale(1.0800,1)" font-size="15.8" fill="#111">Wind</text>
<text transform="translate(914.25,385.00) scale(1.0800,1)" font-size="15.8" fill="#111">Speed</text>
<text transform="translate(914.25,406.75) scale(1.0800,1)" font-size="15.8" fill="#111">(m/s)</text>
<text transform="translate(869.25,476.75) scale(1.0989,1)" font-size="16.2" fill="#111">Wind Speed (m/s)</text>
<text transform="translate(930.50,496.00) scale(1.0800,1)" font-size="16.2" fill="#111">5</text>
<circle cx="917.00" cy="495.80" r="0.95" fill="#000"/>
<path d="M917.00,495.80h-0.70" stroke="#000" stroke-width="0.7"/>
<text transform="translate(930.50,511.75) scale(1.0800,1)" font-size="16.2" fill="#111">10</text>
<circle cx="917.50" cy="509.10" r="0.95" fill="#000"/>
<path d="M917.50,509.10h-1.80" stroke="#000" stroke-width="0.7"/>
<text transform="translate(930.50,528.00) scale(1.0800,1)" font-size="16.2" fill="#111">15</text>
<circle cx="918.50" cy="522.40" r="0.95" fill="#000"/>
<path d="M918.50,522.40h-3.40" stroke="#000" stroke-width="0.7"/>
<clipPath id="clipC"><rect x="85.00" y="590.50" width="355.50" height="356.00"/></clipPath>
<g clip-path="url(#clipC)">
<rect x="77.00" y="582.50" width="371.50" height="372.00" fill="#ffffff"/>
<g filter="url(#rgh)">
<path fill="#99ff99" d="M167.2,699.2L176.5,697.3L183.9,697.3L195.0,700.1L206.2,704.8L213.6,709.4L221.0,712.2L226.6,714.0L228.5,708.5L234.0,704.8L239.6,697.3L243.3,695.5L247.0,699.2L254.4,695.5L258.1,689.9L273.0,689.9L273.0,779.0L96.7,779.0L98.6,767.9L104.1,762.3L111.5,758.6L119.0,753.0L117.1,745.6L120.8,738.2L126.4,732.6L130.1,727.0L133.8,721.5L143.1,719.6L148.7,715.9L154.2,715.0L163.5,715.9L169.1,712.2L167.2,706.6ZM202.5,670.4L208.0,670.1L208.4,674.1L202.8,674.5ZM180.2,685.3L189.5,684.9L189.9,689.0L180.6,689.4ZM148.7,690.8L153.3,690.5L153.7,694.6L149.0,694.9ZM222.9,683.4L230.3,683.0L230.7,690.8L223.3,691.2ZM256.3,695.5L269.3,691.8L278.6,688.1L289.7,684.3L300.8,680.6L312.0,678.8L323.1,675.1L332.4,671.4L339.8,668.6L349.1,665.8L356.5,662.1L363.9,661.2L371.3,658.4L378.8,654.7L384.3,655.6L386.2,662.1L393.6,656.5L397.3,658.4L398.2,665.8L402.9,673.2L401.0,678.8L406.6,682.5L408.5,689.9L412.2,695.5L412.2,704.8L408.5,710.3L412.2,715.9L419.6,719.6L427.0,721.5L434.4,722.4L443.7,723.3L443.7,779.0L256.3,779.0ZM393.6,635.2L397.3,634.8L397.7,647.2L394.0,647.6ZM382.5,638.9L386.2,638.5L386.6,641.7L382.8,642.0ZM80.0,762.3L228.5,762.3L228.5,840.2L195.0,840.2L191.3,949.7L80.0,949.7Z"/>
<path fill="#ffffff" d="M191.3,714.0L200.6,712.2L213.6,714.0L226.6,715.9L224.7,723.3L219.2,728.9L213.6,732.6L208.0,730.7L198.8,727.0L191.3,723.3L188.6,718.7ZM183.9,747.4L195.0,749.3L204.3,748.4L209.9,745.6L215.5,749.3L216.4,758.6L209.9,760.4L202.5,764.1L195.0,762.3L189.5,756.7L183.9,753.0ZM230.3,714.0L241.4,712.2L252.6,715.9L258.1,719.6L254.4,723.3L243.3,725.2L234.0,723.3L228.5,719.6ZM135.7,734.5L144.9,732.6L150.5,736.3L146.8,741.9L137.5,741.9ZM122.7,740.0L130.1,738.2L132.0,745.6L124.5,747.4ZM141.2,762.3L154.2,760.4L161.6,764.1L163.5,771.6L154.2,773.4L144.9,769.7ZM102.3,753.0L113.4,751.2L117.1,756.7L107.8,760.4L100.4,758.6ZM180.2,730.7L185.8,728.9L189.5,734.5L183.9,738.2L179.3,735.4ZM198.8,764.1L209.9,762.3L215.5,767.9L213.6,779.0L202.5,779.0L196.9,769.7ZM360.2,667.6L367.6,665.8L373.2,668.6L371.3,673.2L363.9,675.1L359.3,672.3ZM384.3,667.6L393.6,665.8L397.3,671.4L391.7,675.1L385.3,673.2ZM256.3,708.5L271.1,706.6L272.1,714.0L256.3,715.9ZM150.5,766.0L163.5,766.0L162.6,771.6L152.4,772.5ZM191.3,769.7L206.2,767.9L209.9,775.3L202.5,782.7L193.2,784.6L187.6,779.0ZM172.8,780.8L182.1,779.0L183.9,788.3L176.5,791.1L171.9,786.4ZM135.7,847.6L154.2,848.6L155.2,856.9L146.8,858.8L137.5,855.1Z"/>
<path fill="#99cc99" d="M235.9,714.0L243.3,708.5L254.4,702.9L265.6,697.3L273.0,695.5L273.0,712.2L261.9,714.0L254.4,715.9L247.0,714.0L239.6,715.9ZM228.5,734.5L239.6,728.9L250.7,725.2L261.9,723.3L273.0,722.4L273.0,779.0L226.6,779.0L225.7,741.9ZM256.3,697.3L267.4,695.5L276.7,693.6L287.8,689.9L299.0,687.1L306.4,688.1L313.8,693.6L323.1,695.5L334.2,695.5L341.6,697.3L349.1,701.0L354.6,706.6L360.2,712.2L365.8,719.6L373.2,727.0L380.6,734.5L386.2,740.0L393.6,736.3L399.2,740.0L402.9,747.4L404.7,754.9L410.3,758.6L417.7,764.1L423.3,769.7L427.0,779.0L256.3,779.0Z"/>
<path fill="#99ff99" d="M256.3,704.8L271.1,702.0L284.1,704.8L297.1,701.0L304.5,699.2L297.1,706.6L287.8,712.2L278.6,715.9L269.3,719.6L256.3,723.3Z"/>
<path fill="#99cc99" d="M423.3,749.3L428.9,748.4L429.8,754.9L424.2,755.8ZM80.0,812.4L94.8,810.5L106.0,814.2L115.3,821.7L117.1,832.8L115.3,843.9L117.1,855.1L113.4,866.2L104.1,873.6L98.6,881.0L104.1,888.5L117.1,895.9L128.2,903.3L133.8,914.5L135.7,925.6L133.8,936.7L130.1,949.7L80.0,949.7Z"/>
<path fill="#99ff99" d="M91.1,925.6L100.4,923.7L104.1,933.0L98.6,942.3L91.1,940.4ZM96.7,842.1L102.3,840.2L101.3,847.6L97.6,848.6Z"/>
<path fill="#99cc99" d="M135.7,810.5L143.1,808.7L148.7,814.2L150.5,825.4L146.8,836.5L139.4,840.2L135.7,847.6L133.8,840.2L134.7,827.2ZM120.8,769.7L135.7,768.8L137.5,777.1L126.4,780.8L119.9,777.1ZM157.9,819.8L169.1,821.7L180.2,827.2L185.8,840.2L183.9,862.5L178.3,869.9L167.2,869.9L161.6,858.8L159.8,840.2ZM98.6,788.3L117.1,786.4L128.2,793.8L122.7,803.1L107.8,805.0L96.7,799.4Z"/>
<path fill="#ffcc99" d="M226.6,762.3L273.0,762.3L273.0,949.7L153.3,949.7L153.3,946.9L156.1,936.7L159.8,925.6L165.4,912.6L170.9,901.5L176.5,892.2L182.1,881.0L185.8,871.8L188.6,862.5L187.6,855.1L183.9,847.6L185.8,840.2L190.4,835.6L193.2,832.8L198.8,825.4L204.3,816.1L209.9,806.8L215.5,799.4L221.0,788.3L223.8,777.1L224.7,766.0ZM256.3,762.3L443.7,762.3L443.7,949.7L256.3,949.7Z"/>
<path fill="#99cc99" d="M224.7,762.3L254.4,762.3L250.7,773.4L243.3,779.0L235.9,782.7L228.5,790.1L222.9,784.6L223.8,777.1Z"/>
<path fill="#ffcc99" d="M228.5,740.0L234.0,741.9L237.7,749.3L235.9,756.7L230.3,753.0L227.5,745.6ZM241.4,743.7L247.0,741.9L252.6,753.0L256.3,764.1L254.4,771.6L248.9,764.1L243.3,753.0ZM256.3,740.0L263.7,738.2L273.0,743.7L273.0,753.0L263.7,749.3L258.1,745.6ZM243.3,706.6L250.7,706.2L251.1,710.3L243.7,710.7ZM280.4,719.6L289.7,715.9L297.1,721.5L306.4,723.3L308.2,728.9L315.7,728.9L317.5,736.3L313.8,743.7L321.2,745.6L326.8,753.0L330.5,762.3L328.7,769.7L334.2,779.0L284.1,779.0L286.0,767.9L291.5,760.4L289.7,753.0L293.4,745.6L291.5,738.2L286.0,730.7ZM256.3,740.0L267.4,743.7L273.0,753.0L278.6,764.1L280.4,779.0L256.3,779.0ZM364.8,768.8L371.3,766.9L373.2,771.6L366.7,773.4Z"/>
<path fill="#99cc99" d="M443.7,762.3L443.7,869.9L436.3,866.2L432.6,858.8L427.0,855.1L423.3,862.5L419.6,871.8L414.0,877.3L406.6,875.5L399.2,869.9L393.6,862.5L388.0,853.2L382.5,843.9L375.0,840.2L367.6,836.5L360.2,832.8L354.6,827.2L356.5,818.0L352.8,808.7L347.2,803.1L341.6,793.8L339.8,784.6L334.2,775.3L330.5,762.3ZM434.4,884.8L443.7,881.0L443.7,949.7L436.3,949.7L434.4,933.0L430.7,918.2L432.6,903.3ZM302.7,762.3L330.5,762.3L326.8,771.6L315.7,773.4L306.4,771.6ZM273.0,819.8L284.1,816.1L287.8,823.5L280.4,830.9L273.9,827.2ZM304.5,812.4L310.1,810.5L313.8,818.0L308.2,821.7ZM328.7,855.1L337.9,853.2L339.8,862.5L334.2,869.9L329.6,866.2ZM315.7,797.5L323.1,796.6L324.0,810.5L316.6,811.5ZM256.3,762.3L267.4,762.3L266.5,771.6L256.3,772.5Z"/>
<path fill="#ffcc99" d="M363.9,784.6L371.3,782.7L375.0,792.0L380.6,799.4L389.9,797.5L393.6,803.1L388.0,808.7L378.8,810.5L371.3,806.8L365.8,797.5ZM397.3,816.1L402.9,814.2L406.6,827.2L402.9,840.2L397.3,836.5L395.5,825.4ZM417.7,840.2L425.2,838.4L427.0,847.6L421.4,851.4L416.8,847.6Z"/>
<path fill="#99ff99" d="M443.7,762.3L443.7,771.6L434.4,773.4L427.9,775.3L423.3,769.7L415.9,762.3Z"/>
<path fill="#ffcc99" d="M347.2,777.1L352.8,775.3L356.5,786.4L360.2,795.7L354.6,797.5L350.9,788.3ZM363.9,808.7L369.5,806.8L375.0,819.8L378.8,830.9L373.2,832.8L367.6,821.7ZM382.5,812.4L389.9,810.5L393.6,821.7L388.0,825.4ZM404.7,788.3L410.3,786.4L414.0,799.4L408.5,803.1ZM412.2,818.0L417.7,816.1L421.4,829.1L415.9,832.8ZM389.9,843.9L397.3,842.1L401.0,853.2L404.7,864.3L399.2,866.2L393.6,855.1ZM427.0,827.2L432.6,825.4L435.4,840.2L429.8,842.1ZM343.5,803.1L348.1,802.2L350.9,814.2L346.3,815.2ZM135.7,808.7L139.4,812.4L135.7,821.7L133.8,830.9L132.0,840.2L133.8,851.4L132.9,862.5L135.7,871.8L141.2,879.2L146.8,886.6L152.4,895.9L156.1,905.2L154.2,914.5L152.4,925.6L150.5,936.7L150.5,949.7L135.7,949.7L135.7,936.7L137.5,925.6L135.7,914.5L133.8,903.3L130.1,892.2L126.4,881.0L122.7,869.9L120.8,858.8L119.0,847.6L119.9,836.5L121.8,825.4L128.2,818.0ZM85.6,875.5L94.8,877.3L104.1,881.0L113.4,884.8L122.7,890.3L130.1,895.9L128.2,899.6L119.0,895.9L109.7,890.3L100.4,886.6L91.1,882.9L85.6,879.2ZM104.1,899.6L111.5,905.2L120.8,914.5L130.1,921.9L135.7,925.6L132.0,927.4L122.7,921.9L113.4,914.5L106.0,907.0ZM111.5,925.6L119.0,931.2L128.2,938.6L135.7,944.1L132.0,946.0L122.7,940.4L113.4,933.0ZM161.6,808.7L167.2,814.2L172.8,818.9L182.1,821.7L189.5,829.1L191.3,835.6L185.8,840.2L183.9,847.6L176.5,843.9L172.8,836.5L169.1,827.2L167.2,819.8L161.6,812.4Z"/>
<path fill="#ff9999" d="M273.0,949.7L153.3,949.7L156.1,936.7L159.8,925.6L165.4,912.6L170.9,901.5L176.5,892.2L182.1,881.0L185.8,871.8L188.6,862.5L187.6,855.1L183.9,847.6L185.8,840.2L191.3,835.6L195.0,830.9L202.5,827.2L209.9,825.4L217.3,821.7L222.9,823.5L228.5,821.7L234.0,818.0L237.7,821.7L247.0,819.8L252.6,812.4L258.1,810.5L273.0,808.7ZM256.3,836.5L267.4,832.8L274.8,836.5L280.4,843.9L287.8,847.6L293.4,855.1L297.1,862.5L302.7,869.9L310.1,873.6L317.5,875.5L323.1,881.0L328.7,886.6L334.2,888.5L337.9,895.9L341.6,905.2L347.2,910.7L356.5,912.6L363.9,914.5L371.3,910.7L378.8,907.0L386.2,908.9L389.9,916.3L391.7,925.6L393.6,933.0L389.9,940.4L386.2,949.7L256.3,949.7Z"/>
<path fill="#ffcc99" d="M321.2,914.5L328.7,910.7L332.4,920.0L326.8,927.4L319.4,929.3L315.7,921.9ZM291.5,918.2L297.1,914.5L299.0,925.6L293.4,929.3ZM347.2,920.0L352.8,918.2L354.6,927.4L349.1,929.3ZM363.9,929.3L371.3,925.6L375.0,933.0L378.8,940.4L371.3,949.7L363.9,942.3Z"/>
<path fill="#ff9999" d="M122.7,819.8L133.8,818.9L134.2,866.2L123.1,867.1ZM172.8,827.2L191.3,828.2L191.3,847.6L176.5,845.8ZM247.0,810.5L256.3,808.7L257.2,816.1L247.9,817.0Z"/>
<path fill="#ffcc00" d="M202.5,884.8L209.9,881.0L221.0,879.2L232.2,877.3L239.6,881.0L247.0,884.8L256.3,890.3L265.6,894.0L273.0,895.9L273.0,949.7L230.3,949.7L228.5,938.6L224.7,929.3L219.2,918.2L215.5,907.0L209.9,895.9L204.3,890.3ZM256.3,895.9L265.6,901.5L271.1,907.0L278.6,912.6L284.1,920.0L287.8,929.3L288.8,949.7L256.3,949.7ZM252.6,869.9L258.1,869.5L258.5,877.3L252.9,877.7ZM211.7,845.8L219.2,844.9L220.1,856.9L212.7,857.3ZM121.8,836.5L129.2,836.1L128.6,851.4L122.3,851.7ZM121.8,858.8L125.5,858.4L125.8,868.1L122.1,868.4ZM315.7,933.0L321.2,932.6L321.6,937.6L316.0,938.0Z"/>
<path fill="#ffcc99" d="M197.5,916.5L196.8,921.7L194.8,926.5L191.6,930.6L187.5,933.8L182.7,935.8L177.5,936.5L172.3,935.8L167.5,933.8L163.4,930.6L160.2,926.5L158.2,921.7L157.5,916.5L158.2,911.3L160.2,906.5L163.4,902.4L167.5,899.2L172.3,897.2L177.5,896.5L182.7,897.2L187.5,899.2L191.6,902.4L194.8,906.5L196.8,911.3Z"/>
<path fill="#99cc99" d="M195.0,916.5L194.4,921.0L192.7,925.2L189.9,928.9L186.2,931.7L182.0,933.4L177.5,934.0L173.0,933.4L168.8,931.7L165.1,928.9L162.3,925.2L160.6,921.0L160.0,916.5L160.6,912.0L162.3,907.8L165.1,904.1L168.8,901.3L173.0,899.6L177.5,899.0L182.0,899.6L186.2,901.3L189.9,904.1L192.7,907.8L194.4,912.0Z"/>
<path fill="#99ff99" d="M192.0,916.5L191.5,920.4L190.0,924.0L187.6,927.1L184.5,929.5L180.9,931.0L177.0,931.5L173.1,931.0L169.5,929.5L166.4,927.1L164.0,924.0L162.5,920.4L162.0,916.5L162.5,912.6L164.0,909.0L166.4,905.9L169.5,903.5L173.1,902.0L177.0,901.5L180.9,902.0L184.5,903.5L187.6,905.9L190.0,909.0L191.5,912.6Z"/>
<path fill="#ffffff" d="M187.0,915.0L186.6,917.8L185.6,920.5L183.9,922.8L181.8,924.5L179.2,925.6L176.5,926.0L173.8,925.6L171.2,924.5L169.1,922.8L167.4,920.5L166.4,917.8L166.0,915.0L166.4,912.2L167.4,909.5L169.1,907.2L171.2,905.5L173.8,904.4L176.5,904.0L179.2,904.4L181.8,905.5L183.9,907.2L185.6,909.5L186.6,912.2Z"/>
</g>
<path fill="none" stroke="#0a0a0a" stroke-width="1.7" stroke-linejoin="round" d="M223.2,770.2L221.3,781.3L217.6,792.5L213.9,801.7L208.3,811.0L202.8,820.3L197.2,827.7L192.6,834.2L190.7,835.5"/>
<path fill="none" stroke="#0a0a0a" stroke-width="0.9" stroke-linejoin="round" d="M190.7,835.5L187.9,829.6L180.5,823.1L171.2,818.4L165.6,812.0L160.1,807.3L156.4,798.0L158.2,785.0L165.6,781.3L176.8,777.6L184.2,770.2"/>
<path fill="none" stroke="#0a0a0a" stroke-width="0.9" stroke-linejoin="round" d="M160.1,807.3L161.5,809.1L163.0,810.9L164.7,812.6L165.6,814.7L166.1,817.2L168.1,819.1L168.4,821.7L169.4,824.0L169.8,826.5L171.8,828.4L172.1,831.0L173.1,833.3L174.3,835.2L176.4,836.6L177.4,838.8L178.6,840.7L180.3,842.8L182.4,844.4L184.2,846.3L185.3,849.2L187.0,851.8"/>
<path fill="none" stroke="#0a0a0a" stroke-width="1.7" stroke-linejoin="round" d="M187.0,851.8L187.1,854.1L187.4,856.3L187.5,858.5L188.0,860.7L187.9,863.0L187.1,865.1L186.5,867.4L186.1,869.6L186.0,872.0L185.1,874.1L184.2,876.3L183.4,878.6L182.6,880.9L181.0,882.8L180.5,885.2L178.9,887.3L178.7,889.9L176.8,891.8L175.9,894.1L174.9,896.4L173.9,898.7L172.9,900.9L171.4,903.0L170.5,905.3L169.4,907.5L168.1,909.7L167.0,911.9L166.3,914.4L164.7,916.3L163.8,918.7L162.2,920.7L161.1,922.9L160.4,925.3L159.7,927.8L158.2,929.8L158.0,932.2L157.1,934.4L155.6,936.3L155.4,938.8L154.5,940.9L153.9,943.3L152.7,945.4L152.6,947.9L151.7,950.2"/>
<path fill="none" stroke="#0a0a0a" stroke-width="0.8" stroke-linejoin="round" d="M89.6,879.7L91.9,880.0L94.2,880.8L96.3,882.1L98.8,881.5L101.2,882.4L103.5,883.4L105.7,884.5L108.1,885.2L110.7,885.5L112.8,887.1L115.0,888.3L117.4,889.0L119.4,891.0L122.5,890.9L124.6,892.7L126.7,894.5L129.1,895.1L129.9,897.9L132.0,899.1L134.1,900.1"/>
<path fill="none" stroke="#0a0a0a" stroke-width="0.8" stroke-linejoin="round" d="M108.1,903.8L110.0,905.1L111.6,906.9L113.5,908.3L115.5,909.4L118.0,910.6L120.1,912.3L121.3,914.7L123.4,916.4L124.8,918.7L126.2,920.7L128.2,922.0L130.2,923.3L132.2,924.7L134.1,926.1L135.7,927.6L138.3,927.8L139.7,929.8"/>
<path fill="none" stroke="#0a0a0a" stroke-width="0.8" stroke-linejoin="round" d="M115.5,929.8L117.7,930.7L119.0,932.9L120.8,934.3L123.0,935.4L124.3,937.5L127.2,937.7L128.9,939.3L130.9,940.6L132.2,942.8L134.5,943.6L135.6,946.0L138.3,946.2L139.7,948.3"/>
<path fill="none" stroke="#0a0a0a" stroke-width="0.8" stroke-linejoin="round" d="M87.7,881.5L88.9,879.0L91.8,878.2L93.5,876.2L95.1,874.1L95.4,871.6L93.1,869.8L92.4,867.6L92.7,865.0L91.4,863.0L93.1,861.4L93.8,859.0L96.0,857.7L97.0,855.6L95.4,853.9L94.7,851.4L92.1,850.5L91.4,848.1L89.1,846.8L87.7,844.4"/>
<path fill="none" stroke="#0a0a0a" stroke-width="0.9" stroke-linejoin="round" d="M151.7,947.6L153.2,944.4L148.1,943.0L150.7,939.5L148.9,937.2L148.1,934.5L152.6,933.5L149.0,929.8L153.6,928.9L152.7,926.1L154.2,924.1L155.8,922.2L157.2,920.2L154.4,916.8L156.4,914.9L156.4,912.5L158.8,910.8L157.6,907.9L158.3,905.7L160.1,903.8L157.9,902.0L159.8,898.5L159.0,896.2L156.4,894.5L156.5,891.7L153.0,890.7L154.9,886.9L152.0,885.6L150.8,883.4L148.0,882.4L146.9,879.8L145.2,877.8L143.8,875.8L141.2,874.3L142.2,871.0L140.2,869.2L139.7,866.7L140.5,864.4L142.6,862.5L141.7,859.9L141.5,857.4L139.7,855.3L140.2,851.9L139.4,849.2L136.0,848.1L135.5,845.9L137.3,843.3L132.6,841.8L132.8,839.5L134.1,837.0L132.9,834.5L136.9,832.9L136.1,830.5L136.6,828.3L136.0,825.9L135.9,823.2L137.8,821.2L140.5,819.6L139.7,816.6L137.7,814.3L137.8,812.0L137.5,809.6L139.7,807.3L136.9,807.5L134.1,807.3L131.5,808.8L131.6,811.6L131.2,814.2L129.6,816.2L128.5,818.4L127.8,821.4L123.3,820.6L123.5,824.5L121.1,825.9L122.7,827.9L122.7,830.2L120.7,832.8L123.5,834.6L123.0,837.0L120.5,838.8L122.6,841.6L121.6,843.8L122.7,846.4L120.2,848.1L118.8,850.8L119.9,852.9L122.0,854.8L124.2,856.6L123.0,859.3L124.1,861.5L125.7,863.5L124.8,866.7L125.6,869.1L128.5,870.4L128.2,873.0L131.0,874.5L132.9,876.4L129.7,879.9L132.2,881.5L131.0,884.4L135.3,885.5L134.5,888.2L135.3,890.4L136.0,892.7L135.0,895.9L140.1,896.1L141.2,898.4L138.9,902.3L141.5,903.8L141.6,906.1L142.4,908.2L141.3,910.7L142.6,912.8L143.4,914.9L142.8,917.3L145.3,919.2L146.5,921.3L147.2,923.5L145.2,926.1L145.7,928.4L143.8,930.4L144.7,932.8L144.5,935.1L143.4,937.2L143.3,939.9L143.3,942.6L144.3,945.1L145.2,947.6"/>
<path fill="none" stroke="#0a0a0a" stroke-width="1.0" stroke-linejoin="round" d="M152.5,947.0L151.0,944.6L151.0,941.9L149.9,939.4L149.7,936.7L150.1,934.3L150.7,932.0L152.8,930.2L151.4,927.3L153.4,925.5L154.9,923.5L152.3,920.2L154.6,918.5L155.5,916.3L157.1,914.4L156.0,911.5L159.9,910.4L158.3,907.4L161.6,906.0L160.8,903.2L162.3,900.0L157.7,899.1L160.1,895.5L157.1,894.0L157.5,891.0L155.7,889.1L151.4,888.5L152.4,885.2L151.5,882.8L150.2,880.5L147.0,879.9L146.0,877.3L143.5,875.7L142.8,873.3L141.4,871.2L143.0,867.6L140.4,866.1L140.0,863.6L140.9,861.4L142.6,859.3L142.3,856.9L143.0,853.2L138.5,852.8L135.9,851.2L136.7,847.6L138.9,844.9L137.8,842.8L137.2,840.6L135.3,838.7L134.8,836.4L133.8,834.0L133.7,831.7L134.9,829.6L136.1,827.5L136.7,825.3L135.4,822.1L139.6,821.1L140.7,818.8L140.4,816.0L137.7,813.7L142.3,811.4L140.4,809.1L140.4,806.8L137.6,804.4L134.8,806.8L133.9,809.0L131.1,810.5L131.7,813.6L129.8,815.4L129.3,817.9L127.4,819.7L127.5,823.5L125.1,824.9L121.9,825.3L123.7,827.3L123.1,829.7L123.7,831.9L123.1,834.3L123.7,836.4L122.3,838.5L123.1,841.0L123.0,843.4L121.4,845.3L120.9,847.6L119.0,850.4L120.5,852.4L121.8,854.5L121.4,856.9L123.7,858.7L126.2,860.3L127.9,862.2L129.1,864.4L130.1,866.7L129.3,869.8L132.6,871.2L130.1,874.5L129.3,877.3L134.3,878.1L133.0,881.0L132.7,883.5L132.1,886.2L133.8,888.1L137.8,889.3L136.7,892.1L137.1,894.7L140.2,896.0L141.7,898.0L143.6,899.8L142.3,903.2L142.5,905.5L140.7,908.1L145.6,909.6L145.7,911.8L144.1,914.4L145.1,916.5L147.4,918.4L145.4,921.0L144.3,923.5L146.0,925.5L145.8,927.8L147.8,930.4L147.5,932.6L146.2,934.7L144.1,936.7L143.7,939.4L142.7,942.3L145.5,944.4L146.0,947.0"/>
<path fill="none" stroke="#0a0a0a" stroke-width="0.9" stroke-linejoin="round" d="M225.0,736.8L213.9,738.7L219.5,731.2L226.9,723.8L234.3,718.2L243.6,712.7L254.7,707.1L265.9,699.7L274.0,694.1"/>
<path fill="none" stroke="#0a0a0a" stroke-width="1.5" stroke-linejoin="round" d="M225.0,736.8L236.2,733.1L247.3,729.4L254.0,727.9"/>
<path fill="none" stroke="#0a0a0a" stroke-width="0.8" stroke-linejoin="round" d="M226.9,728.4L238.0,721.0L247.3,716.4L254.0,713.0"/>
<path fill="none" stroke="#0a0a0a" stroke-width="1.5" stroke-linejoin="round" d="M254.0,727.5L265.1,720.1L276.3,716.4L287.4,710.8L300.4,703.4L309.7,701.5L315.2,698.8"/>
<path fill="none" stroke="#0a0a0a" stroke-width="0.8" stroke-linejoin="round" d="M254.0,712.7L265.1,709.0L278.1,704.3L291.1,699.7L302.2,697.8L315.2,698.8"/>
<path fill="none" stroke="#0a0a0a" stroke-width="1.2" stroke-linejoin="round" d="M250.3,697.8L265.1,694.1L276.3,690.4L291.1,686.7L304.1,683.0L315.2,679.3L328.2,673.7L331.9,664.4L335.6,670.0L343.1,668.1L350.5,664.4L357.9,660.7L363.5,651.4L365.3,657.0L374.6,655.1L383.9,653.3L392.2,651.4L394.1,645.9L391.3,638.4L383.9,629.2L380.2,627.3L383.9,634.7L382.0,642.2L374.6,644.0L369.0,645.9L365.3,640.3L360.7,634.7L361.6,627.3L354.2,623.6L346.8,619.9L341.2,614.3L346.8,605.0L354.2,597.6L357.9,590.2"/>
<path fill="none" stroke="#444" stroke-width="0.6" stroke-linejoin="round" d="M84.0,662.6L121.1,659.8L156.4,657.9L161.9,664.4L169.4,668.1L173.1,683.0L184.2,688.5L225.0,712.7L221.3,723.8"/>
<path fill="none" stroke="#444" stroke-width="0.6" stroke-linejoin="round" d="M184.2,688.5L176.8,701.5L173.1,718.2L171.2,738.7L180.5,749.8L191.6,760.9L184.2,772.1L176.8,780.2"/>
<path fill="none" stroke="#444" stroke-width="0.6" stroke-linejoin="round" d="M241.7,590.2L238.0,618.0L236.2,645.9L241.7,694.1L232.5,705.2"/>
<path fill="none" stroke="#444" stroke-width="0.6" stroke-linejoin="round" d="M236.2,645.9L274.0,643.1"/>
<path fill="none" stroke="#444" stroke-width="0.6" stroke-linejoin="round" d="M254.0,603.2L291.1,599.5L328.2,595.8L331.9,590.2"/>
<path fill="none" stroke="#444" stroke-width="0.6" stroke-linejoin="round" d="M259.6,644.0L309.7,639.4L328.2,638.4L331.9,651.4L335.6,660.7"/>
<path fill="none" stroke="#444" stroke-width="0.6" stroke-linejoin="round" d="M309.7,639.4L315.2,677.4"/>
<path fill="none" stroke="#444" stroke-width="0.6" stroke-linejoin="round" d="M341.2,590.2L346.8,651.4"/>
<path fill="none" stroke="#444" stroke-width="0.6" stroke-linejoin="round" d="M84.0,797.1L147.1,792.5L158.2,866.7L184.2,864.8"/>
<path fill="none" stroke="#444" stroke-width="0.6" stroke-linejoin="round" d="M147.1,792.5L154.5,788.8L158.2,785.0"/>
<line x1="84.5" y1="601.5" x2="441.0" y2="588.3" stroke="#333" stroke-width="0.6" stroke-dasharray="18.5 18.5" stroke-dashoffset="0"/>
<line x1="84.5" y1="721.2" x2="441.0" y2="708.0" stroke="#333" stroke-width="0.6" stroke-dasharray="18.5 18.5" stroke-dashoffset="0"/>
<line x1="84.5" y1="840.9" x2="441.0" y2="827.7" stroke="#333" stroke-width="0.6" stroke-dasharray="18.5 18.5" stroke-dashoffset="0"/>
<line x1="80.6" y1="590.0" x2="107.4" y2="947.0" stroke="#333" stroke-width="0.6" stroke-dasharray="19 18" stroke-dashoffset="-7"/>
<line x1="167.4" y1="590.0" x2="194.2" y2="947.0" stroke="#333" stroke-width="0.6" stroke-dasharray="19 18" stroke-dashoffset="-7"/>
<line x1="255.5" y1="590.0" x2="282.3" y2="947.0" stroke="#333" stroke-width="0.6" stroke-dasharray="19 18" stroke-dashoffset="-7"/>
<line x1="343.6" y1="590.0" x2="370.4" y2="947.0" stroke="#333" stroke-width="0.6" stroke-dasharray="19 18" stroke-dashoffset="-7"/>
<line x1="431.0" y1="590.0" x2="457.8" y2="947.0" stroke="#333" stroke-width="0.6" stroke-dasharray="19 18" stroke-dashoffset="-7"/>
</g>
<g clip-path="url(#clipC)">
<path d="M90.5 592.3l1.8-1.5M99.1 592.3l1.8-1.4M107.7 592.3l1.8-1.4M116.3 592.3l1.9-1.3M124.9 592.2l1.9-1.3M133.5 592.2l1.9-1.2M142.1 592.2l2-1.2M150.7 592.2l2-1.1M159.3 592.1l2-1.1M167.9 592.1l2.1-1M176.5 592.1l2.1-1M185.1 592.1l2.1-.9M193.7 592l2.1-.9M202.3 592l2.2-.8M210.9 592l2.2-.7M219.5 591.9l2.2-.7M228.1 591.9l2.2-.6M236.7 591.9l2.2-.6M245.3 591.9l2.2-.5M253.9 591.8l2.2-.5M262.5 591.8l2.3-.4M271.1 591.8l2.3-.3M279.7 591.7l2.3-.3M288.3 591.7l2.3-.2M296.9 591.7l2.3-.2M305.5 591.7l2.3-.1M314.1 591.6l2.3-.1M322.7 591.6l2.3 0M331.3 591.6l2.3 0M339.9 591.6l2.3 .1M348.6 591.5l2.3 .2M357.2 591.2l2.2 .7M365.9 591.1l2.1 1M374.5 591.1l2.1 1M383.1 591.1l2 1M391.7 591.1l2 1.1M400.4 591.1l2 1.1M409 591l2 1.1M417.6 591l2 1.1M426.2 591l2 1.2M434.8 591l2 1.3M90.5 601l1.8-1.5M99.1 601l1.9-1.5M107.7 600.9l1.9-1.4M116.3 600.9l2-1.4M124.8 600.9l2-1.3M133.4 600.9l2-1.3M142 600.8l2.1-1.2M150.6 600.8l2.1-1.2M159.2 600.8l2.1-1.1M167.8 600.8l2.2-1.1M176.4 600.7l2.2-1M185 600.7l2.2-.9M193.6 600.7l2.2-.9M202.2 600.6l2.3-.8M210.8 600.6l2.3-.8M219.4 600.6l2.3-.7M228 600.5l2.3-.6M236.6 600.5l2.3-.6M245.2 600.5l2.3-.5M253.8 600.5l2.4-.5M262.4 600.4l2.4-.4M271 600.4l2.4-.3M279.6 600.4l2.4-.3M288.2 600.3l2.4-.2M296.8 600.3l2.4-.2M305.4 600.3l2.4-.1M314.1 600.2l2.4-.1M322.7 600.2l2.4 0M331.3 600.2l2.4 .1M339.9 600.1l2.4 .2M348.5 600l2.4 .4M357.2 599.8l2.2 .9M365.8 599.7l2.2 1M374.5 599.7l2.2 1.1M383.1 599.7l2.1 1.1M391.7 599.7l2.1 1.1M400.3 599.6l2.1 1.2M408.9 599.6l2.1 1.2M417.5 599.6l2.1 1.2M426.2 599.6l2.1 1.3M434.8 599.6l2.1 1.3M90.5 609.6l1.8-1.6M99.1 609.6l1.9-1.5M107.7 609.6l1.9-1.5M116.2 609.6l2-1.4M124.8 609.5l2-1.4M133.4 609.5l2-1.3M142 609.5l2.1-1.3M150.6 609.4l2.1-1.2M159.2 609.4l2.1-1.1M167.8 609.4l2.2-1.1M176.4 609.3l2.2-1M185 609.3l2.2-1M193.6 609.3l2.3-.9M202.2 609.3l2.3-.8M210.8 609.2l2.3-.8M219.4 609.2l2.3-.7M228 609.2l2.3-.6M236.6 609.1l2.4-.6M245.2 609.1l2.4-.5M253.8 609.1l2.4-.4M262.4 609l2.4-.4M271 609l2.4-.3M279.6 609l2.4-.3M288.2 608.9l2.4-.2M296.8 608.9l2.4-.1M305.4 608.9l2.4-.1M314 608.9l2.4 0M322.7 608.8l2.4 0M331.3 608.8l2.4 .1M339.9 608.7l2.4 .3M348.6 608.4l2.3 .8M357.2 608.3l2.2 1M365.8 608.3l2.2 1.1M374.5 608.3l2.2 1.1M383.1 608.3l2.1 1.1M391.7 608.3l2.1 1.2M400.3 608.2l2.1 1.2M408.9 608.2l2.1 1.2M417.5 608.2l2.1 1.3M426.2 608.2l2.1 1.3M434.8 608.2l2 1.3M90.5 618.3l1.8-1.6M99.1 618.2l1.9-1.5M107.7 618.2l1.9-1.5M116.3 618.2l2-1.4M124.8 618.1l2-1.4M133.4 618.1l2-1.3M142 618.1l2.1-1.3M150.6 618.1l2.1-1.2M159.2 618l2.1-1.1M167.8 618l2.2-1.1M176.4 618l2.2-1M185 617.9l2.2-1M193.6 617.9l2.3-.9M202.2 617.9l2.3-.8M210.8 617.8l2.3-.8M219.4 617.8l2.3-.7M228 617.8l2.3-.6M236.6 617.7l2.4-.6M245.2 617.7l2.4-.5M253.8 617.7l2.4-.4M262.4 617.6l2.4-.4M271 617.6l2.4-.3M279.6 617.6l2.4-.2M288.2 617.6l2.4-.2M296.8 617.5l2.4-.1M305.4 617.5l2.4-.1M314 617.5l2.4 0M322.7 617.4l2.4 .1M331.3 617.4l2.4 .1M339.9 617.3l2.4 .4M348.6 617.1l2.3 .8M357.2 617l2.2 1M365.8 616.9l2.2 1.1M374.5 616.9l2.1 1.1M383.1 616.9l2.1 1.2M391.7 616.9l2.1 1.2M400.3 616.9l2.1 1.2M408.9 616.8l2.1 1.2M417.5 616.8l2.1 1.3M426.2 616.8l2 1.3M434.8 616.8l2 1.3M90.5 626.9l1.8-1.6M99.1 626.9l1.9-1.5M107.7 626.8l1.9-1.5M116.3 626.8l1.9-1.4M124.8 626.8l2-1.4M133.4 626.7l2-1.3M142 626.7l2.1-1.3M150.6 626.7l2.1-1.2M159.2 626.7l2.1-1.1M167.8 626.6l2.2-1.1M176.4 626.6l2.2-1M185 626.6l2.2-1M193.6 626.5l2.3-.9M202.2 626.5l2.3-.8M210.8 626.5l2.3-.8M219.4 626.4l2.3-.7M228 626.4l2.3-.6M236.6 626.4l2.4-.5M245.2 626.3l2.4-.5M253.8 626.3l2.4-.4M262.4 626.3l2.4-.3M271 626.2l2.4-.3M279.6 626.2l2.4-.2M288.2 626.2l2.4-.2M296.8 626.1l2.4-.1M305.4 626.1l2.4 0M314 626.1l2.4 0M322.7 626l2.4 .1M331.3 626l2.4 .1M339.9 626l2.4 .2M348.5 625.9l2.4 .4M357.2 625.7l2.3 .7M365.8 625.6l2.2 1M374.5 625.5l2.1 1.1M383.1 625.5l2.1 1.2M391.7 625.5l2.1 1.2M400.3 625.5l2.1 1.2M408.9 625.4l2.1 1.3M417.6 625.4l2 1.3M426.2 625.4l2 1.3M434.8 625.4l2 1.3M90.5 635.5l1.8-1.6M99.1 635.5l1.9-1.6M107.7 635.5l1.9-1.5M116.3 635.4l1.9-1.5M124.9 635.4l2-1.4M133.4 635.4l2-1.3M142 635.3l2.1-1.3M150.6 635.3l2.1-1.2M159.2 635.3l2.1-1.1M167.8 635.2l2.2-1.1M176.4 635.2l2.2-1M185 635.2l2.2-.9M193.6 635.1l2.3-.9M202.2 635.1l2.3-.8M210.8 635.1l2.3-.7M219.4 635l2.3-.7M228 635l2.3-.6M236.6 635l2.4-.5M245.2 634.9l2.4-.5M253.8 634.9l2.4-.4M262.4 634.9l2.4-.3M271 634.8l2.4-.3M279.6 634.8l2.4-.2M288.2 634.8l2.4-.1M296.8 634.7l2.4-.1M305.4 634.7l2.4 0M314 634.7l2.4 .1M322.7 634.6l2.4 .1M331.3 634.6l2.4 .2M339.9 634.6l2.4 .2M348.5 634.6l2.4 .3M357.1 634.4l2.4 .6M365.8 634.2l2.2 1M374.5 634.1l2.1 1.2M383.1 634.1l2.1 1.2M391.7 634.1l2.1 1.2M400.3 634.1l2.1 1.3M408.9 634.1l2 1.3M417.6 634l2 1.3M426.2 634l2 1.3M434.8 634l2 1.4M90.5 644.1l1.8-1.6M99.1 644.1l1.8-1.6M107.7 644.1l1.9-1.5M116.3 644.1l1.9-1.5M124.9 644l2-1.4M133.4 644l2-1.3M142 644l2.1-1.3M150.6 643.9l2.1-1.2M159.2 643.9l2.1-1.2M167.8 643.9l2.2-1.1M176.4 643.8l2.2-1M185 643.8l2.2-.9M193.6 643.8l2.3-.9M202.2 643.7l2.3-.8M210.8 643.7l2.3-.7M219.4 643.7l2.3-.7M228 643.6l2.3-.6M236.6 643.6l2.4-.5M245.2 643.5l2.4-.4M253.8 643.5l2.4-.4M262.4 643.5l2.4-.3M271 643.4l2.4-.2M279.6 643.4l2.4-.2M288.2 643.4l2.4-.1M296.8 643.3l2.4 0M305.4 643.3l2.4 0M314 643.3l2.4 .1M322.7 643.2l2.4 .1M331.3 643.2l2.4 .2M339.9 643.2l2.4 .3M348.5 643.2l2.4 .3M357.1 643l2.3 .7M365.8 642.8l2.2 1.1M374.5 642.7l2.1 1.2M383.1 642.7l2.1 1.2M391.7 642.7l2.1 1.3M400.3 642.7l2.1 1.3M409 642.7l2 1.3M417.6 642.6l2 1.3M426.2 642.6l2 1.4M434.8 642.6l2 1.4M90.5 652.8l1.8-1.6M99.1 652.7l1.8-1.6M107.7 652.7l1.9-1.5M116.3 652.7l1.9-1.5M124.9 652.6l2-1.4M133.4 652.6l2-1.4M142 652.6l2-1.3M150.6 652.6l2.1-1.2M159.2 652.5l2.1-1.2M167.8 652.5l2.2-1.1M176.4 652.4l2.2-1M185 652.4l2.2-.9M193.6 652.4l2.3-.9M202.2 652.3l2.3-.8M210.8 652.3l2.3-.7M219.4 652.3l2.3-.6M228 652.2l2.4-.6M236.6 652.2l2.4-.5M245.2 652.2l2.4-.4M253.8 652.1l2.4-.4M262.4 652.1l2.4-.3M271 652l2.4-.2M279.6 652l2.4-.1M288.2 652l2.4-.1M296.8 651.9l2.4 0M305.4 651.9l2.4 .1M314.1 651.9l2.4 .1M322.7 651.9l2.4 .2M331.3 651.8l2.4 .2M339.9 651.8l2.4 .3M348.5 651.8l2.4 .4M357.2 651.6l2.3 .8M365.9 651.4l2.1 1.1M374.5 651.3l2.1 1.2M383.1 651.3l2.1 1.2M391.7 651.3l2.1 1.3M400.3 651.3l2 1.3M409 651.3l2 1.3M417.6 651.3l2 1.4M426.2 651.2l2 1.4M434.8 651.2l2 1.4M90.5 661.4l1.8-1.7M99.1 661.4l1.8-1.6M107.7 661.3l1.9-1.6M116.3 661.3l1.9-1.5M124.9 661.3l2-1.4M133.4 661.2l2-1.4M142 661.2l2-1.3M150.6 661.2l2.1-1.2M159.2 661.1l2.1-1.2M167.8 661.1l2.2-1.1M176.4 661.1l2.2-1M185 661l2.2-.9M193.6 661l2.3-.9M202.2 661l2.3-.8M210.8 660.9l2.3-.7M219.4 660.9l2.3-.6M228 660.8l2.4-.6M236.6 660.8l2.4-.5M245.2 660.8l2.4-.4M253.8 660.7l2.4-.3M262.4 660.7l2.4-.3M271 660.7l2.4-.2M279.6 660.6l2.4-.1M288.2 660.6l2.4-.1M296.8 660.6l2.4 0M305.4 660.5l2.4 .1M314.1 660.5l2.4 .1M322.7 660.5l2.4 .2M331.3 660.4l2.4 .3M339.9 660.4l2.4 .4M348.5 660.3l2.3 .6M357.2 660.1l2.2 .9M365.9 660l2 1.1M374.5 660l2 1.2M383.1 659.9l2 1.2M391.8 659.9l1.9 1.2M400.4 659.9l2 1.3M409 659.9l2 1.4M417.6 659.9l2 1.4M426.2 659.9l2 1.4M434.8 659.8l1.9 1.4M90.5 670l1.7-1.7M99.1 670l1.8-1.6M107.7 670l1.8-1.6M116.3 669.9l1.9-1.5M124.9 669.9l1.9-1.4M133.5 669.9l2-1.4M142 669.8l2-1.3M150.6 669.8l2.1-1.2M159.2 669.8l2.1-1.2M167.8 669.7l2.2-1.1M176.4 669.7l2.2-1M185 669.6l2.2-.9M193.6 669.6l2.3-.9M202.2 669.6l2.3-.8M210.8 669.5l2.3-.7M219.4 669.5l2.3-.6M228 669.5l2.4-.5M236.6 669.4l2.4-.5M245.2 669.4l2.4-.4M253.8 669.3l2.4-.3M262.4 669.3l2.4-.2M271 669.3l2.4-.2M279.6 669.2l2.4-.1M288.2 669.2l2.4 0M296.8 669.2l2.4 .1M305.4 669.1l2.4 .1M314.1 669.1l2.4 .2M322.7 669l2.4 .3M331.3 668.9l2.4 .5M339.9 668.8l2.3 .8M348.6 668.7l2.2 1M357.4 668.7l1.8 1M366.2 668.7l1.5 .9M374.6 668.6l1.9 1.1M383.3 668.6l1.7 1.1M392 668.7l1.5 1M400.4 668.5l1.9 1.3M409 668.5l2 1.4M417.6 668.5l2 1.4M426.2 668.5l1.9 1.4M434.8 668.4l1.9 1.5M90.5 678.7l1.7-1.7M99.1 678.6l1.8-1.6M107.7 678.6l1.8-1.6M116.3 678.6l1.9-1.5M124.9 678.5l1.9-1.5M133.5 678.5l2-1.4M142 678.5l2-1.3M150.6 678.4l2.1-1.2M159.2 678.4l2.1-1.2M167.8 678.3l2.2-1.1M176.4 678.3l2.2-1M185 678.3l2.2-.9M193.6 678.2l2.3-.9M202.2 678.2l2.3-.8M210.8 678.1l2.3-.7M219.4 678.1l2.3-.6M228 678.1l2.4-.5M236.6 678l2.4-.4M245.2 678l2.4-.4M253.8 677.9l2.4-.3M262.4 677.9l2.4-.2M271 677.9l2.4-.1M279.6 677.8l2.4 0M288.2 677.8l2.4 0M296.8 677.7l2.4 .2M305.4 677.6l2.4 .3M314.1 677.5l2.4 .6M322.7 677.4l2.3 .8M331.4 677.3l2.2 1M340 677.2l2.1 1.1M348.6 677.2l2.1 1.2M357.3 677.2l2 1.1M366 677.2l1.8 1.1M374.5 677.2l2 1.2M383.2 677.2l1.9 1.2M391.9 677.2l1.8 1.2M400.4 677.1l1.9 1.4M409 677.1l2 1.4M417.6 677.1l1.9 1.4M426.2 677.1l1.9 1.5M434.8 677.1l1.9 1.5M90.5 687.3l1.7-1.7M99.1 687.3l1.8-1.7M107.7 687.2l1.8-1.6M116.3 687.2l1.9-1.5M124.9 687.2l1.9-1.5M133.5 687.1l2-1.4M142 687.1l2-1.3M150.6 687l2.1-1.3M159.2 687l2.1-1.2M167.8 687l2.2-1.1M176.4 686.9l2.2-1M185 686.9l2.2-.9M193.6 686.8l2.3-.8M202.2 686.8l2.3-.8M210.8 686.8l2.3-.7M219.4 686.7l2.3-.6M228 686.7l2.4-.5M236.6 686.6l2.4-.4M245.2 686.6l2.4-.3M253.8 686.5l2.4-.3M262.4 686.5l2.5-.1M271 686.4l2.5 0M279.5 686.3l2.6 .2M288.1 686.2l2.7 .4M296.6 686.1l2.8 .7M305.3 686l2.6 .9M314.1 685.9l2.3 1M322.8 685.9l2.2 1.1M331.4 685.8l2.2 1.1M340 685.8l2.1 1.2M348.6 685.8l2.1 1.2M357.3 685.8l2.1 1.2M365.9 685.8l2 1.3M374.5 685.8l2 1.3M383.1 685.7l2 1.3M391.8 685.7l2 1.4M400.4 685.7l2 1.4M409 685.7l1.9 1.4M417.6 685.7l1.9 1.5M426.2 685.7l1.9 1.5M434.9 685.7l1.9 1.5M90.6 695.9l1.7-1.7M99.1 695.9l1.7-1.7M107.7 695.9l1.8-1.6M116.3 695.8l1.9-1.6M124.9 695.8l1.9-1.5M133.5 695.7l2-1.4M142.1 695.7l2-1.3M150.6 695.7l2.1-1.3M159.2 695.6l2.1-1.2M167.8 695.6l2.2-1.1M176.4 695.5l2.2-1M185 695.5l2.2-.9M193.6 695.5l2.3-.8M202.2 695.4l2.3-.8M210.8 695.4l2.3-.7M219.4 695.3l2.4-.6M228 695.3l2.4-.5M236.6 695.2l2.4-.4M245.2 695.2l2.5-.3M253.7 695l2.6 0M262.2 694.9l2.9 .4M270.7 694.7l3 .7M279.3 694.5l3.1 1M287.8 694.4l3.2 1.2M296.4 694.4l3.2 1.4M305.1 694.3l3.2 1.5M313.8 694.3l2.9 1.4M322.5 694.3l2.8 1.4M331.1 694.3l2.7 1.5M339.9 694.3l2.5 1.4M348.6 694.4l2.2 1.3M357.3 694.4l2.1 1.3M365.9 694.4l2 1.3M374.5 694.4l2 1.3M383.1 694.3l2 1.4M391.8 694.3l2 1.4M400.4 694.3l1.9 1.4M409 694.3l1.9 1.5M417.6 694.3l1.9 1.5M426.2 694.3l1.9 1.5M434.9 694.3l1.9 1.5M90.6 704.5l1.7-1.8M99.2 704.5l1.7-1.7M107.7 704.5l1.8-1.6M116.3 704.4l1.8-1.6M124.9 704.4l1.9-1.5M133.5 704.4l2-1.4M142.1 704.3l2-1.4M150.6 704.3l2.1-1.3M159.2 704.3l2.1-1.2M167.8 704.2l2.2-1.1M176.4 704.2l2.2-1M185 704.1l2.2-.9M193.6 704.1l2.2-.8M202.2 704l2.3-.7M210.8 704l2.3-.6M219.4 703.9l2.3-.6M228 703.9l2.4-.5M236.5 703.8l2.5-.4M244.9 703.6l2.9 .1M253.5 703.3l3 .6M262.2 703.2l2.8 .9M270.8 703.2l2.7 1M279.4 703.1l2.8 1.1M288 703.1l2.9 1.2M296.5 703l3 1.4M305 702.9l3.3 1.6M313.6 702.8l3.3 1.7M322.3 702.8l3.2 1.7M330.9 702.8l3.2 1.8M339.6 702.8l3 1.8M348.3 702.8l2.7 1.7M357.2 702.9l2.2 1.4M365.9 703l2 1.4M374.5 703l2 1.4M383.2 703l2 1.4M391.8 702.9l1.9 1.4M400.4 702.9l1.9 1.5M409 702.9l1.9 1.5M417.6 702.9l1.9 1.5M426.3 702.9l1.9 1.5M434.9 702.9l1.8 1.6M90.6 713.2l1.6-1.8M99.2 713.1l1.7-1.7M107.7 713.1l1.8-1.7M116.3 713.1l1.8-1.6M124.9 713l1.9-1.5M133.5 713l1.9-1.4M142.1 713l2-1.4M150.6 712.9l2.1-1.3M159.2 712.9l2.1-1.2M167.8 712.8l2.2-1.1M176.4 712.8l2.2-1M185.1 712.7l2.1-.9M193.9 712.6l1.7-.6M202.5 712.5l1.6-.5M211.1 712.5l1.7-.5M219.6 712.5l1.9-.4M228.2 712.5l2-.4M236.6 712.4l2.3-.2M245 712l2.8 .5M253.6 711.9l2.7 .8M262.4 711.9l2.4 .8M271 711.8l2.5 .9M279.5 711.7l2.7 1.1M287.9 711.6l3.1 1.3M296.4 711.5l3.3 1.5M305 711.5l3.3 1.6M313.6 711.4l3.3 1.7M322.3 711.4l3.2 1.8M330.9 711.4l3.2 1.9M339.5 711.3l3.2 1.9M348.2 711.3l3 1.9M357 711.4l2.7 1.8M365.8 711.5l2.2 1.5M374.5 711.6l2 1.4M383.2 711.6l1.9 1.4M391.8 711.5l1.9 1.5M400.4 711.5l1.9 1.5M409 711.5l1.9 1.5M417.7 711.5l1.9 1.6M426.3 711.5l1.8 1.6M434.9 711.5l1.8 1.6M90.6 721.8l1.6-1.8M99.2 721.8l1.7-1.8M107.8 721.7l1.7-1.7M116.3 721.7l1.8-1.6M124.9 721.7l1.9-1.5M133.5 721.6l1.9-1.5M142.1 721.6l2-1.4M150.6 721.5l2-1.3M159.2 721.5l2.1-1.2M167.8 721.5l2.2-1.1M176.4 721.4l2.2-1M185.1 721.3l2-.8M194.1 721.1l1.3-.5M202.9 721l.9-.3M211.5 721l.9-.2M219.9 721l1.3-.3M228.3 721l1.7-.2M237 720.8l1.6 .1M245.6 720.7l1.7 .4M253.9 720.5l2.2 .7M262.2 720.4l2.8 1M270.7 720.3l3.1 1.2M279 720.1l3.6 1.5M287.4 720l4.1 1.8M296.1 720l3.9 1.9M304.9 720l3.5 1.8M313.6 720l3.3 1.8M322.3 720l3.2 1.8M330.9 719.9l3.2 1.9M339.5 719.9l3.1 2M348.2 719.9l3.1 2M356.8 719.9l3 2M365.7 720l2.5 1.8M374.5 720.1l2.1 1.5M383.2 720.2l1.9 1.5M391.8 720.1l1.9 1.5M400.4 720.1l1.9 1.5M409 720.1l1.9 1.6M417.7 720.1l1.8 1.6M426.3 720.1l1.8 1.6M434.9 720.1l1.8 1.6M90.6 730.4l1.6-1.8M99.2 730.4l1.6-1.8M107.8 730.4l1.7-1.7M116.3 730.3l1.8-1.6M124.9 730.3l1.8-1.5M133.5 730.2l1.8-1.4M142.2 730.1l1.7-1.2M150.7 730.1l1.9-1.2M159.2 730.1l2.1-1.2M167.8 730.1l2.1-1.1M176.5 730l2-.9M185.2 729.9l1.8-.7M193.8 729.9l1.9-.7M202.5 729.8l1.6-.5M211.2 729.7l1.4-.4M219.6 729.7l1.9-.4M227.9 729.5l2.5 0M236.4 729.2l2.8 .6M244.9 729.1l3 .9M253.4 729l3.2 1.1M261.9 728.9l3.4 1.3M270.5 728.8l3.4 1.4M279 728.7l3.6 1.6M287.3 728.5l4.2 2M295.9 728.4l4.4 2.2M304.6 728.4l4.1 2.2M313.4 728.5l3.7 2.1M322.3 728.6l3.2 1.9M330.9 728.5l3.1 2M339.5 728.5l3.1 2M348.2 728.5l3.1 2.1M356.8 728.5l3 2.1M365.5 728.5l2.9 2.1M374.3 728.6l2.5 1.9M383.1 728.7l2 1.6M391.8 728.7l1.9 1.6M400.4 728.7l1.9 1.6M409.1 728.7l1.8 1.6M417.7 728.7l1.8 1.6M426.3 728.7l1.8 1.6M434.9 728.7l1.8 1.7M90.6 739.1l1.5-1.9M99.2 739l1.6-1.8M107.8 739l1.7-1.7M116.4 738.9l1.7-1.6M125.1 738.8l1.6-1.3M133.7 738.7l1.5-1.2M142.4 738.6l1.3-1M150.8 738.7l1.8-1.2M159.2 738.7l2.1-1.2M167.8 738.7l2.1-1.1M176.5 738.6l2-.9M185.2 738.5l1.9-.8M193.6 738.5l2.2-.8M202.2 738.5l2.2-.7M210.8 738.4l2.2-.5M219.3 738.3l2.5-.4M227.5 738l3.4 .4M235.9 737.7l3.6 1M244.6 737.6l3.7 1.1M253.1 737.5l3.7 1.3M261.7 737.4l3.9 1.5M270.4 737.4l3.6 1.5M279.1 737.4l3.4 1.6M287.5 737.2l3.8 1.9M295.9 737l4.3 2.3M304.5 736.9l4.3 2.4M313.3 737l3.9 2.3M322.2 737.1l3.3 2M330.9 737.1l3.1 2M339.6 737.1l3.1 2.1M348.2 737.1l3 2.1M356.8 737l3 2.2M365.5 737l2.9 2.2M374.1 737l2.8 2.2M382.9 737.1l2.5 2M391.6 737.2l2.3 2M400.3 737.3l2 1.8M409.1 737.3l1.8 1.6M417.7 737.3l1.8 1.6M426.3 737.3l1.8 1.7M434.9 737.3l1.7 1.7M90.6 747.7l1.5-1.9M99.2 747.6l1.5-1.8M107.9 747.6l1.5-1.6M116.4 747.5l1.6-1.6M125.1 747.4l1.5-1.3M133.6 747.4l1.7-1.4M142.2 747.4l1.8-1.3M150.7 747.4l2-1.3M159.2 747.4l2.1-1.2M167.8 747.3l2.1-1.1M176.4 747.2l2.1-1M185.2 747.1l1.8-.7M193.8 747.1l1.8-.6M202.5 747l1.7-.5M211.1 747l1.8-.4M219.3 746.9l2.6-.3M227.2 746.5l3.9 .6M235.7 746.2l4.1 1.2M244.3 746.1l4.1 1.3M252.9 746l4.1 1.5M261.4 745.9l4.4 1.8M270.2 745.9l4 1.7M279.1 746l3.4 1.6M287.6 745.8l3.7 1.9M295.9 745.6l4.3 2.3M304.5 745.5l4.3 2.5M313.2 745.5l4 2.5M322.1 745.6l3.5 2.2M330.9 745.7l3.1 2.1M339.6 745.7l3 2.1M348.2 745.7l3 2.2M356.8 745.6l2.9 2.2M365.5 745.6l2.9 2.3M374.1 745.6l2.8 2.3M382.7 745.6l2.8 2.4M391.4 745.6l2.7 2.4M400.2 745.7l2.3 2.1M409 745.9l1.9 1.7M417.7 745.9l1.8 1.7M426.3 745.9l1.9 1.8M434.9 745.9l1.7 1.7M90.7 756.3l1.5-1.9M99.4 756.2l1.3-1.6M108.1 756l1.1-1.2M116.5 756.1l1.5-1.5M125 756.2l1.7-1.6M133.5 756.1l1.8-1.5M142.1 756.1l1.9-1.4M150.7 756l1.9-1.2M159.3 756l2-1.2M167.8 755.9l2.1-1.1M176.4 755.9l2.1-1M185.3 755.7l1.7-.7M194.2 755.6l1.1-.4M202.9 755.5l.9-.3M211.3 755.5l1.3-.3M219.3 755.5l2.4-.2M227.4 755.1l3.6 .7M235.8 754.8l3.9 1.2M244.3 754.7l4.2 1.4M252.8 754.6l4.3 1.6M261.4 754.5l4.4 1.9M270.1 754.4l4.1 1.9M279 754.5l3.6 1.8M287.5 754.4l3.8 2M295.9 754.2l4.2 2.4M304.6 754.1l4.2 2.5M313.2 754.1l4.1 2.6M322 754.1l3.8 2.5M330.9 754.3l3.2 2.3M339.6 754.3l3 2.2M348.2 754.3l2.9 2.2M356.9 754.2l2.9 2.3M365.5 754.2l2.9 2.4M374.1 754.2l2.8 2.4M382.8 754.2l2.8 2.4M391.4 754.1l2.7 2.5M400.1 754.2l2.5 2.4M408.9 754.4l2.1 2M417.7 754.5l1.8 1.8M426.3 754.4l1.9 1.9M434.9 754.5l1.7 1.8M90.7 765l1.4-2M99.3 764.9l1.4-1.8M107.9 764.8l1.4-1.7M116.4 764.9l1.7-1.7M124.9 764.9l1.9-1.8M133.5 764.8l1.9-1.6M142.3 764.6l1.5-1.1M151.1 764.4l1.1-.8M159.5 764.4l1.5-.9M167.9 764.5l2-1.1M176.4 764.5l2.2-1M185.1 764.4l2.1-.8M194 764.2l1.5-.5M202.9 764.1l.9-.3M211.2 764.1l1.4-.3M219.3 764.1l2.5-.2M227.5 763.7l3.4 .7M236 763.4l3.6 1.1M244.4 763.3l3.9 1.4M252.9 763.2l4.1 1.6M261.6 763.1l4 1.8M270.1 763l4.3 2.1M278.8 762.9l4.1 2.1M287.4 762.9l4.1 2.3M296 762.8l4.2 2.5M304.8 762.8l3.7 2.3M313.5 762.8l3.5 2.3M322.2 762.8l3.4 2.4M330.9 762.8l3.2 2.4M339.6 762.9l3 2.3M348.3 762.8l2.9 2.3M356.9 762.8l2.8 2.4M365.5 762.8l2.8 2.4M374.1 762.8l2.8 2.5M382.8 762.7l2.7 2.5M391.4 762.7l2.7 2.5M400 762.7l2.6 2.6M408.7 762.8l2.5 2.5M417.5 762.9l2.1 2.1M426.3 763.1l1.8 1.9M435 763.1l1.7 1.8M90.7 773.6l1.4-2M99.3 773.6l1.5-1.9M107.8 773.6l1.6-1.9M116.3 773.6l1.8-2M124.7 773.7l2.3-2.2M133.3 773.6l2.3-2M142.2 773.3l1.8-1.4M151 773.1l1.4-1M159.5 773.1l1.6-1M167.9 773.2l2-1.1M176.5 773.1l2.1-1M185.2 773l1.9-.7M194.1 772.8l1.2-.4M202.9 772.7l.9-.2M211.3 772.8l1.4-.3M219.2 772.7l2.6-.1M227.4 772.2l3.4 .8M236 772l3.6 1.2M244.5 771.9l3.9 1.4M252.9 771.7l4.2 1.8M261.5 771.7l4.2 1.9M270 771.5l4.4 2.2M278.6 771.4l4.4 2.4M287.3 771.4l4.3 2.5M296 771.3l4.2 2.6M304.7 771.4l3.8 2.5M313.5 771.4l3.6 2.5M322.1 771.3l3.6 2.6M330.8 771.3l3.4 2.6M339.6 771.4l3 2.4M348.2 771.4l3 2.5M356.9 771.4l2.8 2.5M365.5 771.4l2.8 2.5M374.2 771.4l2.7 2.5M382.8 771.3l2.7 2.6M391.4 771.3l2.6 2.6M400.1 771.3l2.6 2.6M408.7 771.3l2.6 2.7M417.4 771.3l2.4 2.6M426.2 771.5l2.1 2.3M434.8 771.5l2 2.2M90.7 782.3l1.3-2M99.3 782.3l1.5-2M107.8 782.2l1.6-2M116.3 782.2l1.8-2M124.8 782.3l2-2M133.4 782.2l2-1.8M142.1 782l1.9-1.5M150.7 781.9l1.9-1.4M159.3 781.9l2-1.2M167.9 781.8l1.9-1M176.7 781.6l1.6-.7M185.3 781.6l1.7-.7M194 781.5l1.4-.4M202.6 781.4l1.5-.4M210.9 781.4l2-.3M219.1 781.2l3 0M227.3 780.8l3.7 1M235.8 780.5l4 1.4M244.2 780.4l4.4 1.7M252.7 780.3l4.5 2M261.4 780.2l4.5 2.2M270 780.1l4.4 2.3M278.7 780l4.3 2.5M287.3 779.9l4.2 2.6M296 779.9l4.2 2.7M304.6 779.8l4.1 2.8M313.3 779.8l4 2.9M321.9 779.7l3.9 3M330.6 779.8l3.7 3M339.5 779.9l3.1 2.6M348.1 779.9l3.2 2.8M356.8 779.9l3 2.7M365.5 779.9l2.9 2.7M374.2 779.9l2.8 2.7M382.8 779.9l2.6 2.6M391.5 779.9l2.6 2.7M400.1 779.9l2.6 2.7M408.7 779.9l2.6 2.8M417.3 779.9l2.5 2.7M426 779.9l2.4 2.7M434.6 779.9l2.4 2.8M90.8 790.9l1.3-2.1M99.2 791.1l1.7-2.5M107.6 791.2l2-2.6M116.2 791.1l2.1-2.5M124.9 790.9l1.9-2.1M133.5 790.7l1.8-1.7M142.1 790.6l1.9-1.6M150.7 790.6l2-1.4M159.3 790.5l2-1.3M167.9 790.4l2-1.1M176.7 790.2l1.7-.8M185.1 790.2l2-.8M193.6 790.2l2.2-.7M202.2 790.1l2.3-.5M210.7 790l2.6-.3M218.7 789.6l3.7 .5M227 789.2l4.3 1.3M235.5 789l4.5 1.7M244.1 788.9l4.6 1.9M252.7 788.8l4.5 2.1M261.4 788.7l4.4 2.3M270 788.7l4.3 2.4M278.7 788.6l4.3 2.6M287.3 788.5l4.2 2.7M296 788.5l4.1 2.8M304.6 788.4l4 2.9M313.3 788.4l3.9 3M321.9 788.3l3.8 3.1M330.6 788.3l3.7 3.2M339.5 788.4l3.2 2.8M348.2 788.5l3.1 2.8M356.8 788.4l3.1 2.9M365.3 788.3l3.2 3.1M374 788.4l3 3M382.8 788.5l2.6 2.7M391.5 788.5l2.5 2.7M400.1 788.4l2.6 2.9M408.6 788.3l2.7 3.1M417.3 788.4l2.5 2.9M426 788.4l2.4 2.8M434.6 788.4l2.4 2.9M90.8 799.6l1.2-2.2M99.2 799.8l1.7-2.6M107.6 799.9l2-2.9M116.2 799.8l2.1-2.7M124.9 799.6l2-2.2M133.6 799.4l1.8-1.8M142.1 799.3l1.8-1.6M150.7 799.2l1.9-1.5M159.3 799.1l2-1.3M167.8 799.1l2.1-1.2M176.4 799l2.1-1M185 798.9l2.3-.8M193.6 798.8l2.3-.7M202.1 798.7l2.4-.5M210.4 798.6l3.1-.2M218.3 798l4.4 .9M226.8 797.7l4.7 1.6M235.5 797.6l4.6 1.8M244.1 797.5l4.6 2M252.8 797.4l4.5 2.2M261.4 797.3l4.4 2.4M270.1 797.2l4.3 2.5M278.7 797.1l4.2 2.7M287.4 797.1l4.1 2.8M296 797l4 2.9M304.7 797l3.9 3M313.4 797l3.6 2.9M322.1 797l3.5 3M330.6 796.8l3.7 3.3M339.4 796.9l3.4 3.1M348.2 797.1l2.9 2.8M356.9 797.1l2.8 2.8M365.4 796.9l3.1 3.1M373.9 796.8l3.2 3.4M382.7 796.9l2.9 3.2M391.4 797l2.6 3M400.1 797l2.5 2.9M408.6 796.9l2.7 3.2M417.4 797l2.4 2.9M426 797l2.3 2.9M434.7 797l2.3 2.9M90.8 808.3l1.2-2.4M99.3 808.3l1.4-2.4M107.9 808.3l1.5-2.3M116.4 808.2l1.6-2.2M125 808.1l1.7-2M133.4 808.1l2-2.1M142 808l2.1-1.9M150.7 807.9l2-1.5M159.2 807.8l2.2-1.4M167.8 807.7l2.3-1.3M176.4 807.6l2.2-1M185 807.5l2.3-.8M193.5 807.4l2.3-.7M201.9 807.3l2.8-.5M209.9 807l4.1 .3M218.2 806.4l4.7 1.3M226.8 806.3l4.7 1.7M235.5 806.1l4.6 1.9M244.1 806l4.6 2.2M252.6 805.9l4.7 2.5M261.3 805.8l4.6 2.7M270 805.7l4.4 2.8M278.8 805.7l4.1 2.8M287.4 805.6l4 2.9M296.1 805.6l3.9 3M304.8 805.6l3.7 3M313.5 805.6l3.4 2.9M322.2 805.6l3.4 3M330.7 805.4l3.6 3.4M339.3 805.4l3.5 3.4M348.1 805.5l3.1 3.1M357 805.7l2.7 2.8M365.5 805.5l2.9 3.1M374 805.4l3 3.4M382.6 805.4l3 3.5M391.4 805.5l2.7 3.1M400.2 805.6l2.4 2.9M408.8 805.6l2.4 3M417.4 805.6l2.3 2.9M426.1 805.6l2.3 2.9M434.7 805.6l2.2 2.9M90.7 817.3l1.5-3.1M99.2 817.2l1.6-3M107.8 817l1.5-2.6M116.5 816.8l1.5-2.2M124.8 817.1l2.1-2.7M133.1 817.3l2.8-3.1M141.8 816.9l2.6-2.4M150.6 816.6l2.2-1.8M159.1 816.5l2.4-1.6M167.4 816.5l2.9-1.7M176.2 816.3l2.7-1.2M184.9 816.2l2.4-.9M193.5 816l2.5-.6M201.6 815.8l3.5-.2M209.6 815.3l4.7 .9M218.1 815l4.8 1.5M226.7 814.8l4.8 1.8M235.4 814.7l4.8 2.1M243.9 814.5l5 2.5M252.4 814.2l5.3 2.9M261 814.1l5.2 3.2M269.9 814.2l4.5 3M278.9 814.4l3.8 2.7M287.5 814.2l3.8 2.9M296.1 814.2l3.8 3.1M304.9 814.2l3.5 3M313.5 814.2l3.5 3.1M322.1 814l3.5 3.3M330.7 814l3.5 3.5M339.4 813.9l3.5 3.6M348.1 814l3.2 3.5M356.9 814.2l2.7 3M365.5 814.1l2.8 3.2M374.1 814.1l2.8 3.2M382.8 814.1l2.7 3.3M391.4 814.1l2.7 3.3M400.1 814.1l2.6 3.3M408.8 814.2l2.4 3.1M417.4 814.2l2.4 3.1M426.1 814.2l2.2 3M434.7 814.2l2.2 3M90.7 826l1.4-3.4M99.2 826l1.6-3.3M107.8 825.9l1.7-3.1M116.3 825.8l1.8-2.9M124.4 826.3l2.9-4M132.9 826.2l3.2-3.7M141.8 825.6l2.6-2.6M150.5 825.3l2.3-1.9M159 825.3l2.6-1.9M167.1 825.4l3.6-2.1M175.4 825.3l4.2-1.9M184.3 824.9l3.6-1.2M193 824.6l3.4-.6M201 824.1l4.7 .4M209.2 823.6l5.4 1.4M217.8 823.4l5.5 1.9M226.4 823.2l5.5 2.3M235.1 823.1l5.4 2.6M243.7 822.9l5.3 2.9M252.3 822.7l5.3 3.2M261 822.6l5.2 3.4M270 822.8l4.3 3.1M279.1 823l3.4 2.6M287.6 822.8l3.6 3M296.2 822.7l3.7 3.2M304.9 822.7l3.6 3.3M313.5 822.6l3.5 3.4M322.1 822.6l3.5 3.5M330.8 822.5l3.4 3.6M339.4 822.5l3.4 3.7M348.1 822.5l3.2 3.6M357 822.8l2.7 3.1M365.6 822.8l2.6 3.2M374.2 822.7l2.7 3.3M382.9 822.8l2.5 3.2M391.4 822.6l2.6 3.4M400 822.5l2.7 3.6M408.7 822.7l2.5 3.4M417.4 822.6l2.5 3.4M426.1 822.7l2.3 3.2M434.7 822.8l2.2 3.2M90.8 834.7l1.2-3.5M99.3 834.7l1.4-3.4M107.8 834.6l1.6-3.3M116.2 834.7l2-3.4M124.3 835.3l3.1-4.7M132.9 834.9l3.1-3.9M141.9 834.2l2.4-2.5M150.6 833.9l2.1-1.9M159 833.9l2.6-1.9M167.1 834l3.7-2.1M174.9 834.1l5.1-2.3M183.4 833.7l5.5-1.5M192 833l5.4-.1M200.4 832.4l5.8 1.2M209 832.1l5.9 1.8M217.6 831.9l5.8 2.2M226.3 831.7l5.7 2.5M235 831.5l5.5 2.9M243.7 831.4l5.4 3.2M252.4 831.3l5.2 3.4M261.1 831.2l5.1 3.6M270 831.2l4.5 3.4M278.9 831.4l3.8 3.1M287.6 831.3l3.7 3.2M296.2 831.3l3.6 3.4M304.9 831.2l3.6 3.5M313.5 831.2l3.5 3.6M322.2 831.1l3.4 3.6M330.8 831.1l3.3 3.7M339.5 831.1l3.3 3.8M348.1 831.1l3.1 3.8M356.9 831.2l2.8 3.5M365.6 831.3l2.6 3.3M374.3 831.3l2.5 3.2M383 831.4l2.3 3M391.6 831.3l2.4 3.2M400.1 831.2l2.6 3.6M408.8 831.3l2.3 3.3M417.4 831.3l2.3 3.3M426 831.2l2.3 3.5M434.7 831.3l2.2 3.4M90.9 843.3l1-3.5M99.4 843.2l1.2-3.3M107.9 843.2l1.4-3.3M116.3 843.5l1.9-3.8M124.2 844.2l3.2-5.3M133 843.5l2.8-3.9M142.2 842.6l1.8-2.1M150.8 842.4l1.8-1.7M159 842.5l2.5-1.9M167.2 842.6l3.4-2M175.1 842.6l4.8-2.1M183.1 842l6-.8M191.6 841.2l6.1 .7M200.3 840.8l6.1 1.5M208.9 840.6l6.1 2M217.6 840.4l5.9 2.4M226.4 840.2l5.6 2.8M235.1 840l5.4 3.1M243.7 839.9l5.3 3.4M252.4 839.8l5.1 3.6M261.1 839.7l4.9 3.8M269.9 839.6l4.7 3.9M278.8 839.7l4.1 3.7M287.6 839.8l3.7 3.5M296.3 839.8l3.5 3.5M304.9 839.8l3.4 3.6M313.6 839.7l3.3 3.7M322.2 839.7l3.3 3.7M330.9 839.7l3.2 3.8M339.5 839.7l3.1 3.9M348.2 839.6l3.1 3.9M356.8 839.6l3 3.9M365.5 839.7l2.8 3.8M374.2 839.8l2.6 3.6M383 839.9l2.3 3.3M391.6 839.9l2.3 3.4M400.2 839.9l2.3 3.4M408.9 840l2.1 3.2M417.4 839.8l2.3 3.5M426 839.8l2.3 3.6M434.8 839.9l2.1 3.3M91 852l.8-3.6M99.5 851.9l1-3.4M108 851.9l1.2-3.4M116.4 852.1l1.7-3.9M124.5 852.9l2.8-5.3M133.3 852l2.3-3.6M142.5 850.9l1.1-1.4M151 850.8l1.2-1.3M159.2 851.1l2.3-1.8M167.3 851.2l3.1-1.9M175.6 851l3.8-1.6M183.5 850.5l5.2-.6M191.7 849.7l6.1 .9M200.3 849.4l6.1 1.7M208.8 849l6.3 2.3M217.5 848.8l6 2.8M226.4 848.7l5.5 3M235.1 848.5l5.3 3.3M243.8 848.4l5.1 3.6M252.5 848.3l4.9 3.8M261.2 848.2l4.8 4M269.9 848.1l4.6 4.2M278.6 848.1l4.4 4.2M287.5 848.2l3.9 4M296.3 848.3l3.4 3.7M305 848.3l3.3 3.7M313.7 848.3l3.2 3.8M322.3 848.3l3.1 3.8M331 848.3l3 3.8M339.6 848.3l2.9 3.9M348.2 848.2l2.9 4M356.9 848.2l2.9 4M365.5 848.2l2.8 4.1M374.2 848.2l2.7 4.1M382.9 848.3l2.5 3.8M391.5 848.3l2.4 3.7M400.2 848.4l2.3 3.5M409 848.6l2 3.2M417.5 848.5l2.1 3.5M426.1 848.5l2.1 3.5M434.8 848.6l1.9 3.2M91.1 860.6l.6-3.6M99.6 860.6l.8-3.6M108.1 860.6l1-3.5M116.6 860.7l1.3-3.7M124.7 861.4l2.3-5.1M133.4 860.7l2.1-3.7M142.5 859.6l1.2-1.7M151 859.5l1.3-1.5M159.2 859.7l2.1-1.8M167.4 859.8l3-1.9M175.8 859.5l3.4-1.5M183.9 859.1l4.4-.5M191.8 858.3l5.9 1M200.3 857.9l6 1.9M209 857.6l5.9 2.5M217.7 857.3l5.7 2.9M226.5 857.2l5.4 3.3M235.2 857l5.1 3.6M243.9 856.9l4.9 3.8M252.6 856.8l4.8 4.1M261.3 856.7l4.6 4.2M270 856.6l4.4 4.4M278.7 856.6l4.3 4.5M287.4 856.6l4 4.5M296.3 856.8l3.5 4.1M305.1 856.9l3.2 3.9M313.7 856.9l3.1 3.9M322.4 856.9l2.9 3.9M331.2 857.1l2.5 3.5M339.8 856.9l2.7 3.8M348.3 856.8l2.8 4.1M356.9 856.8l2.8 4.1M365.6 856.7l2.7 4.2M374.2 856.7l2.7 4.2M382.9 856.8l2.6 4.1M391.6 856.9l2.4 3.9M400.2 857l2.2 3.7M409 857.2l1.9 3.3M417.6 857.1l1.9 3.3M426.1 857l2.1 3.7M434.8 857.1l2 3.5M91.2 869.3l.3-3.7M99.8 869.2l.5-3.6M108.3 869l.6-3.2M116.8 869l.8-3.2M125 869.8l1.6-4.7M133.6 869.4l1.7-3.8M142.4 868.5l1.3-2.2M150.9 868.4l1.5-1.9M159.3 868.3l1.9-1.8M167.6 868.3l2.6-1.7M176 868.1l3-1.3M183.9 867.6l4.4-.4M191.8 866.8l5.9 1.2M200.4 866.4l5.9 2.1M209.1 866.1l5.6 2.7M217.8 865.8l5.4 3.2M226.6 865.7l5.2 3.6M235.3 865.5l4.9 3.9M244 865.4l4.7 4.1M252.7 865.2l4.7 4.4M261.4 865.2l4.4 4.5M270.1 865.1l4.2 4.6M278.8 865.1l4.1 4.7M287.5 865l3.9 4.8M296.2 865.1l3.6 4.6M305.1 865.3l3.2 4.2M313.8 865.4l3 4.1M322.5 865.4l2.8 4M331.2 865.6l2.5 3.8M339.8 865.4l2.6 4M348.4 865.3l2.7 4.2M357 865.3l2.6 4.2M365.6 865.3l2.6 4.3M374.3 865.3l2.5 4.3M382.9 865.3l2.5 4.3M391.6 865.4l2.4 4.1M400.3 865.6l2.1 3.8M409 865.8l1.9 3.4M417.6 865.6l2 3.6M426.1 865.4l2.2 4.2M434.7 865.4l2.1 4.1M91.4 878.1l0-4.1M99.9 877.9l.2-3.7M108.5 877.5l.3-2.9M117 877.4l.4-2.7M125.4 878l.9-3.9M133.7 878.2l1.4-4.2M142.4 877.5l1.3-2.8M151 877.1l1.4-2.1M159.4 877l1.7-1.8M167.9 876.8l2.1-1.5M176.1 876.6l2.8-1.1M183.6 876.1l5 0M191.7 875.2l6 1.6M200.4 874.8l5.8 2.5M209.1 874.5l5.6 3.2M217.8 874.2l5.4 3.7M226.5 874l5.2 4.2M235.3 873.9l4.9 4.4M244.1 873.8l4.6 4.5M252.8 873.7l4.5 4.8M261.5 873.7l4.2 4.8M270.2 873.6l4 4.8M278.9 873.6l3.8 4.9M287.6 873.5l3.7 5M296.3 873.5l3.6 5.1M305 873.6l3.4 5M313.7 873.7l3.1 4.8M322.5 873.8l2.8 4.4M331.2 873.9l2.6 4.2M339.8 873.9l2.6 4.2M348.4 873.9l2.5 4.3M357.1 873.9l2.5 4.3M365.7 873.9l2.4 4.3M374.3 873.9l2.4 4.4M383 873.9l2.4 4.4M391.6 873.9l2.3 4.4M400.3 874l2.2 4.2M409 874.1l2 3.9M417.5 874l2.1 4.1M426.1 873.9l2.2 4.4M434.7 873.9l2.2 4.4M91.6 886.7l-.3-4.1M100.1 886.8l-.2-4.2M108.6 886.6l0-3.8M117.1 886.3l.2-3.3M125.6 886.5l.5-3.6M134 887l1-4.6M142.4 886.6l1.3-3.8M151 885.9l1.3-2.5M159.5 885.6l1.5-1.9M167.9 885.5l2-1.6M175.7 885.2l3.6-1.1M183.3 884.3l5.7 .7M191.8 883.6l5.9 2.1M200.4 883.1l5.9 3.1M209 882.7l5.9 4M217.7 882.4l5.7 4.6M226.5 882.2l5.4 5.1M235.3 882.1l5 5.2M244.1 882.1l4.6 5.2M252.9 882.1l4.2 5.1M261.7 882.2l3.8 5M270.4 882.1l3.7 5.1M279 882.1l3.5 5.1M287.7 882.1l3.4 5.2M296.4 882l3.3 5.3M305 882l3.3 5.3M313.7 882l3.2 5.3M322.4 882.1l2.9 5.1M331.2 882.4l2.6 4.7M339.9 882.5l2.4 4.4M348.5 882.5l2.4 4.4M357.1 882.5l2.3 4.4M365.8 882.5l2.3 4.4M374.4 882.5l2.3 4.4M383 882.5l2.2 4.4M391.6 882.5l2.2 4.5M400.3 882.5l2.2 4.5M408.9 882.5l2.1 4.4M417.5 882.4l2.1 4.5M426.1 882.5l2.1 4.4M434.9 882.7l1.9 4.1M91.7 895.1l-.6-3.7M100.3 895.2l-.5-3.8M108.8 895.3l-.4-4M117.4 895.3l-.3-4M125.9 895.3l0-4M134.3 895.6l.3-4.6M142.7 895.6l.8-4.6M151.1 895l1.1-3.4M159.6 894.4l1.3-2.3M167.8 894.3l2.2-1.9M175.3 893.8l4.5-.9M183.2 892.7l5.7 1.3M191.9 891.9l5.6 2.7M200.6 891.4l5.4 3.7M209.2 890.9l5.5 4.7M217.9 890.6l5.3 5.3M226.7 890.5l5 5.6M235.4 890.4l4.7 5.9M244.2 890.3l4.4 6M252.9 890.3l4.1 5.9M261.7 890.4l3.8 5.7M270.5 890.5l3.5 5.5M279.2 890.6l3.2 5.4M287.9 890.6l3.1 5.4M296.5 890.6l3.1 5.4M305.1 890.6l3 5.5M313.8 890.5l2.9 5.5M322.4 890.6l2.9 5.5M331.1 890.7l2.7 5.3M339.9 891l2.3 4.7M348.6 891.1l2.2 4.5M357.2 891.1l2.2 4.5M365.9 891.1l2.1 4.5M374.5 891l2.1 4.5M383.1 891l2.1 4.5M391.7 891l2.1 4.5M400.3 891l2 4.5M409 891l2 4.5M417.6 891l2 4.5M426.2 891.1l1.9 4.4M435 891.4l1.6 3.8M91.9 903.7l-1-3.6M100.5 903.8l-.9-3.7M109.1 903.9l-.9-3.9M117.6 903.8l-.7-3.8M126.1 903.7l-.6-3.6M134.7 904l-.4-4.2M143.1 904.4l-.1-4.9M151.5 904l.4-4.2M159.8 903.4l.9-3M167.9 903l2-2.2M175.9 902.1l3.2-.3M184.1 901.1l4 1.6M192.4 900.3l4.6 3.3M201.1 899.8l4.6 4.3M209.7 899.4l4.5 5.1M218.3 899l4.6 5.9M227 898.8l4.3 6.1M235.7 898.8l4.1 6.3M244.4 898.7l4 6.4M253.1 898.7l3.8 6.5M261.8 898.7l3.6 6.5M270.6 898.9l3.3 6.1M279.4 899.1l2.9 5.6M288 899.1l2.8 5.6M296.7 899.1l2.8 5.6M305.3 899.1l2.7 5.6M313.9 899.1l2.7 5.6M322.6 899.1l2.6 5.6M331.2 899.1l2.6 5.6M339.9 899.4l2.3 5.1M348.7 899.6l2.1 4.6M357.3 899.6l2 4.6M365.9 899.6l2 4.6M374.5 899.6l2 4.7M383.2 899.6l2 4.7M391.8 899.6l1.9 4.6M400.4 899.6l1.9 4.6M409 899.6l1.9 4.6M417.6 899.6l1.9 4.6M426.3 899.7l1.8 4.4M435 900l1.5 3.7M92.1 912.3l-1.3-3.5M100.7 912.3l-1.3-3.5M109.3 912.5l-1.4-3.9M117.9 912.5l-1.4-3.9M126.4 912.3l-1.2-3.6M135 912.5l-1.2-3.9M143.7 912.9l-1.2-4.7M152.1 912.7l-.9-4.4M160.4 912.2l-.2-3.4M168.5 911.4l.7-1.7M176.9 910.5l1.2 0M185.2 909.8l1.7 1.4M193.2 908.7l3 3.6M201.6 908l3.4 5M210.2 907.8l3.4 5.5M218.7 907.4l3.6 6.3M227.4 907.2l3.6 6.6M236 907.2l3.4 6.7M244.7 907.2l3.3 6.7M253.4 907.1l3.3 6.8M262 907.1l3.2 6.8M270.7 907.3l3 6.6M279.5 907.5l2.7 6M288.2 907.7l2.5 5.7M296.8 907.7l2.4 5.7M305.4 907.7l2.4 5.7M314.1 907.7l2.4 5.7M322.7 907.8l2.2 5.5M331.3 907.7l2.3 5.6M340 907.7l2.2 5.6M348.7 907.9l2.1 5.2M357.3 908l2 5M365.9 908l2 5.1M374.5 907.9l2.1 5.4M383.1 907.9l2 5.3M391.8 908.1l1.8 4.8M400.5 908.2l1.8 4.7M409.1 908.2l1.8 4.6M417.7 908.2l1.8 4.6M426.4 908.3l1.7 4.4M435.1 908.7l1.4 3.7M92.2 920.8l-1.6-3.2M100.8 920.8l-1.6-3.2M109.5 920.8l-1.7-3.4M118.2 921l-1.9-3.6M126.8 921l-1.9-3.6M135.4 921l-2-3.6M144.2 921.2l-2.4-4.2M152.8 921l-2.2-3.7M161.1 920.6l-1.7-2.9M169.4 919.9l-1-1.4M177.8 918.7l-.7 .9M185.9 918.1l.5 2M194 917l1.4 4.2M202.3 916.3l2.1 5.7M210.8 916.2l2.2 5.9M219.3 915.9l2.5 6.5M227.8 915.7l2.7 7M236.4 915.6l2.7 7M245 915.6l2.7 7M253.7 915.6l2.6 7M262.3 915.6l2.6 7M270.9 915.7l2.6 7M279.6 915.8l2.4 6.6M288.4 916.2l2.1 5.8M297 916.4l2 5.5M305.6 916.3l2.1 5.8M314.3 916.4l2 5.6M323 916.6l1.8 5.1M331.5 916.4l1.9 5.5M340.1 916.3l2.1 5.8M348.7 916.4l2 5.6M357.3 916.3l2 5.7M365.9 916.3l2 5.7M374.5 916.2l2 5.8M383.1 916.3l2 5.7M391.9 916.6l1.8 5.1M400.5 916.8l1.6 4.7M409.2 916.8l1.6 4.7M417.8 916.8l1.6 4.7M426.4 916.9l1.5 4.4M435.2 917.3l1.3 3.7M92.3 929.1l-1.7-2.7M100.9 929.1l-1.7-2.6M109.7 929.3l-2.1-3.1M118.4 929.4l-2.4-3.3M127.1 929.4l-2.4-3.2M135.8 929.4l-2.7-3.2M144.7 929.5l-3.3-3.4M153.2 929.1l-3.1-2.7M162 928.9l-3.4-2.3M170.5 928.1l-3.2-.7M178.6 927l-2.1 1.5M186.7 926.1l-1.1 3.3M194.8 925.1l-.2 5.3M203 924.7l.6 6.1M211.4 924.7l1 6.2M219.9 924.5l1.4 6.5M228.3 924.2l1.7 7.1M236.8 924.1l1.9 7.3M245.4 924.1l1.9 7.3M254 924.2l2 7.2M262.6 924.2l2.1 7.2M271.2 924.2l2.1 7.2M279.8 924.2l2.1 7.1M288.5 924.7l1.9 6.2M297.2 924.9l1.7 5.8M305.8 924.8l1.8 5.9M314.4 924.9l1.8 5.8M323 925l1.7 5.5M331.6 924.9l1.8 5.8M340.2 924.8l1.8 5.9M348.8 924.9l1.8 5.7M357.4 924.9l1.8 5.8M366.1 925l1.7 5.5M374.6 924.9l1.8 5.7M383.2 924.8l1.8 5.9M391.9 925.1l1.7 5.3M400.6 925.4l1.5 4.8M409.2 925.4l1.5 4.7M417.8 925.4l1.5 4.7M426.5 925.5l1.4 4.6M435.2 925.8l1.2 3.9M92.4 937.6l-2-2.5M101 937.6l-1.9-2.3M109.8 937.8l-2.4-2.8M118.6 937.9l-2.8-3M127.3 937.8l-3-2.8M136 937.7l-3.2-2.6M145 937.7l-3.9-2.7M153.6 937.4l-3.8-2M162.8 937.2l-5.1-1.6M171.6 936.2l-5.5 .4M179.7 935.1l-4.3 2.7M187.6 934.1l-3 4.6M195.6 933.5l-1.8 5.8M203.7 933.3l-.8 6.2M212 933.3l-.1 6.2M220.4 933.2l.3 6.4M228.8 932.9l.7 7.1M237.3 932.7l1 7.4M245.8 932.7l1.2 7.4M254.3 932.7l1.4 7.4M262.9 932.7l1.5 7.4M271.4 932.7l1.6 7.4M280 932.8l1.6 7.3M288.7 933.1l1.5 6.6M297.3 933.4l1.4 6.1M305.9 933.4l1.5 6.1M314.5 933.3l1.5 6.2M323.1 933.3l1.6 6.1M331.7 933.4l1.6 6M340.3 933.4l1.6 6M348.9 933.4l1.6 6M357.5 933.5l1.6 5.9M366.2 933.8l1.4 5.2M374.8 933.7l1.5 5.4M383.3 933.5l1.6 5.8M392 933.7l1.5 5.3M400.7 934l1.3 4.8M409.3 934l1.3 4.8M417.9 934l1.3 4.8M426.5 934.1l1.3 4.7M435.2 934.4l1.2 4M92.6 946.3l-2.4-2.6M101.3 946.2l-2.5-2.4M110 946.3l-2.7-2.5M118.7 946.2l-2.9-2.4M127.5 946.2l-3.3-2.4M136.3 946.1l-3.7-2.2M145.2 946l-4.3-2M153.9 945.7l-4.5-1.4M163.2 945.4l-5.8-.7M171.9 944.5l-6.1 1.1M180.2 943.5l-5.3 3.1M188.2 942.7l-4.1 4.6M196.2 942.2l-2.9 5.5M204.2 942l-1.8 6M212.5 941.9l-1.1 6.2M220.8 941.9l-.5 6.3M229.2 941.6l-.1 6.9M237.7 941.3l.2 7.5M246.1 941.3l.5 7.5M254.6 941.3l.7 7.5M263.2 941.3l.9 7.5M271.7 941.3l1 7.5M280.3 941.3l1.1 7.4M288.9 941.7l1.1 6.7M297.5 941.9l1.1 6.2M306.1 941.9l1.2 6.1M314.7 941.9l1.2 6.2M323.2 941.9l1.3 6.2M331.8 942l1.3 6.1M340.4 942l1.3 6.1M349 942l1.4 6.1M357.6 942l1.4 6M366.3 942.3l1.2 5.4M374.9 942.3l1.3 5.4M383.4 942.1l1.4 5.8M392.1 942.5l1.2 5.1M400.8 942.6l1.2 4.8M409.4 942.6l1.2 4.8M418 942.6l1.2 4.8M426.6 942.6l1.2 4.7M435.3 942.9l1.1 4.2" stroke="#1a0d00" stroke-opacity="0.85" stroke-width="0.75" fill="none"/>
<path d="M90.4 592.5l.5-.5M99 592.4l.6-.4M107.5 592.4l.6-.4M116.1 592.4l.6-.4M124.7 592.4l.6-.4M133.3 592.3l.6-.4M141.9 592.3l.6-.4M150.5 592.3l.6-.3M159.1 592.2l.6-.3M167.7 592.2l.6-.3M176.3 592.2l.6-.3M184.9 592.1l.7-.3M193.5 592.1l.7-.3M202.1 592.1l.7-.2M210.7 592l.7-.2M219.3 592l.7-.2M227.9 592l.7-.2M236.5 591.9l.7-.2M245.1 591.9l.7-.2M253.7 591.9l.7-.1M262.3 591.8l.7-.1M270.9 591.8l.7-.1M279.5 591.8l.7-.1M288.1 591.7l.7-.1M296.7 591.7l.7-.1M305.3 591.7l.7 0M313.9 591.6l.7 0M322.5 591.6l.7 0M331.1 591.6l.7 0M339.7 591.6l.7 0M348.4 591.5l.7 .1M357 591.2l.7 .2M365.7 591l.6 .3M374.3 591l.6 .3M382.9 591l.6 .3M391.6 591l.6 .3M400.2 591l.6 .3M408.8 590.9l.6 .3M417.4 590.9l.6 .4M426 590.9l.6 .4M434.6 590.9l.6 .4M90.3 601.1l.6-.5M98.9 601.1l.6-.5M107.5 601.1l.6-.4M116.1 601l.6-.4M124.7 601l.6-.4M133.3 601l.6-.4M141.9 600.9l.6-.4M150.5 600.9l.6-.4M159 600.9l.6-.3M167.6 600.8l.7-.3M176.2 600.8l.7-.3M184.8 600.8l.7-.3M193.4 600.7l.7-.3M202 600.7l.7-.3M210.6 600.7l.7-.2M219.2 600.6l.7-.2M227.8 600.6l.7-.2M236.4 600.6l.7-.2M245 600.5l.7-.2M253.6 600.5l.7-.1M262.2 600.5l.7-.1M270.8 600.4l.7-.1M279.4 600.4l.7-.1M288 600.4l.7-.1M296.6 600.3l.7-.1M305.3 600.3l.7 0M313.9 600.3l.7 0M322.5 600.2l.7 0M331.1 600.2l.7 0M339.7 600.1l.7 0M348.3 600l.7 .1M357 599.7l.7 .3M365.7 599.6l.7 .3M374.3 599.6l.7 .3M382.9 599.6l.6 .3M391.5 599.6l.6 .3M400.1 599.5l.6 .4M408.8 599.5l.6 .4M417.4 599.5l.6 .4M426 599.5l.6 .4M434.6 599.5l.6 .4M90.3 609.8l.6-.5M98.9 609.7l.6-.5M107.5 609.7l.6-.4M116.1 609.7l.6-.4M124.7 609.6l.6-.4M133.3 609.6l.6-.4M141.9 609.6l.6-.4M150.4 609.5l.6-.4M159 609.5l.6-.3M167.6 609.5l.7-.3M176.2 609.4l.7-.3M184.8 609.4l.7-.3M193.4 609.4l.7-.3M202 609.3l.7-.3M210.6 609.3l.7-.2M219.2 609.2l.7-.2M227.8 609.2l.7-.2M236.4 609.2l.7-.2M245 609.1l.7-.2M253.6 609.1l.7-.1M262.2 609.1l.7-.1M270.8 609l.7-.1M279.4 609l.7-.1M288 609l.7-.1M296.6 608.9l.7 0M305.2 608.9l.7 0M313.8 608.9l.7 0M322.5 608.8l.7 0M331.1 608.8l.7 0M339.7 608.6l.7 .1M348.4 608.4l.7 .2M357 608.2l.7 .3M365.7 608.2l.7 .3M374.3 608.2l.7 .3M382.9 608.2l.6 .3M391.5 608.2l.6 .4M400.1 608.1l.6 .4M408.8 608.1l.6 .4M417.4 608.1l.6 .4M426 608.1l.6 .4M434.6 608.1l.6 .4M90.3 618.4l.6-.5M98.9 618.4l.6-.5M107.5 618.3l.6-.5M116.1 618.3l.6-.4M124.7 618.3l.6-.4M133.3 618.2l.6-.4M141.9 618.2l.6-.4M150.4 618.2l.6-.4M159 618.1l.6-.3M167.6 618.1l.7-.3M176.2 618.1l.7-.3M184.8 618l.7-.3M193.4 618l.7-.3M202 617.9l.7-.2M210.6 617.9l.7-.2M219.2 617.9l.7-.2M227.8 617.8l.7-.2M236.4 617.8l.7-.2M245 617.7l.7-.2M253.6 617.7l.7-.1M262.2 617.7l.7-.1M270.8 617.6l.7-.1M279.4 617.6l.7-.1M288 617.6l.7-.1M296.6 617.5l.7 0M305.2 617.5l.7 0M313.8 617.5l.7 0M322.5 617.4l.7 0M331.1 617.4l.7 0M339.7 617.3l.7 .1M348.4 617l.7 .2M357 616.9l.7 .3M365.7 616.8l.7 .3M374.3 616.8l.7 .3M382.9 616.8l.6 .4M391.5 616.8l.6 .4M400.1 616.8l.6 .4M408.8 616.7l.6 .4M417.4 616.7l.6 .4M426 616.7l.6 .4M434.6 616.7l.6 .4M90.3 627l.6-.5M98.9 627l.6-.5M107.5 627l.6-.5M116.1 626.9l.6-.4M124.7 626.9l.6-.4M133.3 626.9l.6-.4M141.9 626.8l.6-.4M150.4 626.8l.6-.4M159 626.7l.6-.3M167.6 626.7l.7-.3M176.2 626.7l.7-.3M184.8 626.6l.7-.3M193.4 626.6l.7-.3M202 626.6l.7-.2M210.6 626.5l.7-.2M219.2 626.5l.7-.2M227.8 626.4l.7-.2M236.4 626.4l.7-.2M245 626.4l.7-.1M253.6 626.3l.7-.1M262.2 626.3l.7-.1M270.8 626.2l.7-.1M279.4 626.2l.7-.1M288 626.2l.7 0M296.6 626.1l.7 0M305.2 626.1l.7 0M313.8 626.1l.7 0M322.5 626l.7 0M331.1 626l.7 0M339.7 626l.7 .1M348.3 625.8l.7 .1M357 625.7l.7 .2M365.6 625.5l.7 .3M374.3 625.4l.6 .3M382.9 625.4l.6 .4M391.5 625.4l.6 .4M400.1 625.4l.6 .4M408.8 625.3l.6 .4M417.4 625.3l.6 .4M426 625.3l.6 .4M434.6 625.3l.6 .4M90.3 635.6l.5-.5M98.9 635.6l.6-.5M107.5 635.6l.6-.5M116.1 635.5l.6-.4M124.7 635.5l.6-.4M133.3 635.5l.6-.4M141.9 635.4l.6-.4M150.4 635.4l.6-.4M159 635.4l.6-.3M167.6 635.3l.7-.3M176.2 635.3l.7-.3M184.8 635.3l.7-.3M193.4 635.2l.7-.3M202 635.2l.7-.2M210.6 635.1l.7-.2M219.2 635.1l.7-.2M227.8 635.1l.7-.2M236.4 635l.7-.2M245 635l.7-.1M253.6 634.9l.7-.1M262.2 634.9l.7-.1M270.8 634.9l.7-.1M279.4 634.8l.7-.1M288 634.8l.7 0M296.6 634.7l.7 0M305.2 634.7l.7 0M313.8 634.7l.7 0M322.5 634.6l.7 0M331.1 634.6l.7 .1M339.7 634.6l.7 .1M348.3 634.5l.7 .1M356.9 634.4l.7 .2M365.6 634.1l.7 .3M374.3 634l.6 .4M382.9 634l.6 .4M391.5 634l.6 .4M400.2 634l.6 .4M408.8 633.9l.6 .4M417.4 633.9l.6 .4M426 633.9l.6 .4M434.6 633.9l.6 .4M90.4 644.3l.5-.5M98.9 644.2l.6-.5M107.5 644.2l.6-.5M116.1 644.2l.6-.4M124.7 644.1l.6-.4M133.3 644.1l.6-.4M141.9 644.1l.6-.4M150.5 644l.6-.4M159 644l.6-.3M167.6 644l.7-.3M176.2 643.9l.7-.3M184.8 643.9l.7-.3M193.4 643.8l.7-.3M202 643.8l.7-.2M210.6 643.7l.7-.2M219.2 643.7l.7-.2M227.8 643.7l.7-.2M236.4 643.6l.7-.2M245 643.6l.7-.1M253.6 643.5l.7-.1M262.2 643.5l.7-.1M270.8 643.5l.7-.1M279.4 643.4l.7-.1M288 643.4l.7 0M296.6 643.3l.7 0M305.2 643.3l.7 0M313.8 643.3l.7 0M322.5 643.2l.7 0M331.1 643.2l.7 .1M339.7 643.2l.7 .1M348.3 643.1l.7 .1M357 642.9l.7 .2M365.7 642.7l.7 .3M374.3 642.6l.6 .4M382.9 642.6l.6 .4M391.5 642.6l.6 .4M400.2 642.6l.6 .4M408.8 642.6l.6 .4M417.4 642.5l.6 .4M426 642.5l.6 .4M434.6 642.5l.6 .4M90.4 652.9l.5-.5M98.9 652.9l.6-.5M107.5 652.8l.6-.5M116.1 652.8l.6-.4M124.7 652.8l.6-.4M133.3 652.7l.6-.4M141.9 652.7l.6-.4M150.5 652.7l.6-.4M159 652.6l.6-.4M167.6 652.6l.7-.3M176.2 652.5l.7-.3M184.8 652.5l.7-.3M193.4 652.4l.7-.3M202 652.4l.7-.2M210.6 652.4l.7-.2M219.2 652.3l.7-.2M227.8 652.3l.7-.2M236.4 652.2l.7-.2M245 652.2l.7-.1M253.6 652.1l.7-.1M262.2 652.1l.7-.1M270.8 652.1l.7-.1M279.4 652l.7 0M288 652l.7 0M296.6 651.9l.7 0M305.2 651.9l.7 0M313.9 651.9l.7 0M322.5 651.8l.7 .1M331.1 651.8l.7 .1M339.7 651.8l.7 .1M348.3 651.7l.7 .1M357 651.5l.7 .2M365.7 651.3l.6 .3M374.3 651.2l.6 .4M382.9 651.2l.6 .4M391.6 651.2l.6 .4M400.2 651.2l.6 .4M408.8 651.2l.6 .4M417.4 651.1l.6 .4M426 651.1l.6 .4M434.7 651.1l.6 .4M90.4 661.5l.5-.5M99 661.5l.5-.5M107.5 661.5l.6-.5M116.1 661.4l.6-.5M124.7 661.4l.6-.4M133.3 661.4l.6-.4M141.9 661.3l.6-.4M150.5 661.3l.6-.4M159 661.2l.6-.4M167.6 661.2l.7-.3M176.2 661.2l.7-.3M184.8 661.1l.7-.3M193.4 661.1l.7-.3M202 661l.7-.2M210.6 661l.7-.2M219.2 660.9l.7-.2M227.8 660.9l.7-.2M236.4 660.8l.7-.1M245 660.8l.7-.1M253.6 660.8l.7-.1M262.2 660.7l.7-.1M270.8 660.7l.7-.1M279.4 660.6l.7 0M288 660.6l.7 0M296.6 660.6l.7 0M305.2 660.5l.7 0M313.9 660.5l.7 0M322.5 660.4l.7 .1M331.1 660.4l.7 .1M339.7 660.3l.7 .1M348.3 660.2l.7 .2M357 660l.7 .3M365.8 659.9l.6 .3M374.3 659.9l.6 .4M383 659.8l.6 .4M391.6 659.8l.6 .4M400.2 659.8l.6 .4M408.8 659.8l.6 .4M417.4 659.7l.6 .4M426 659.7l.6 .4M434.7 659.7l.6 .4M90.4 670.2l.5-.5M99 670.1l.5-.5M107.5 670.1l.6-.5M116.1 670.1l.6-.5M124.7 670l.6-.4M133.3 670l.6-.4M141.9 669.9l.6-.4M150.5 669.9l.6-.4M159 669.9l.6-.4M167.6 669.8l.7-.3M176.2 669.8l.7-.3M184.8 669.7l.7-.3M193.4 669.7l.7-.3M202 669.6l.7-.2M210.6 669.6l.7-.2M219.2 669.5l.7-.2M227.8 669.5l.7-.2M236.4 669.5l.7-.1M245 669.4l.7-.1M253.6 669.4l.7-.1M262.2 669.3l.7-.1M270.8 669.3l.7 0M279.4 669.2l.7 0M288 669.2l.7 0M296.6 669.2l.7 0M305.2 669.1l.7 0M313.9 669.1l.7 .1M322.5 669l.7 .1M331.1 668.9l.7 .2M339.8 668.7l.7 .2M348.4 668.6l.7 .3M357.2 668.6l.6 .3M366 668.6l.5 .3M374.4 668.5l.6 .4M383.1 668.5l.6 .4M391.8 668.6l.5 .3M400.2 668.4l.6 .4M408.8 668.4l.6 .4M417.4 668.4l.6 .4M426.1 668.3l.6 .4M434.7 668.3l.6 .4M90.4 678.8l.5-.5M99 678.8l.5-.5M107.6 678.7l.6-.5M116.1 678.7l.6-.5M124.7 678.6l.6-.4M133.3 678.6l.6-.4M141.9 678.6l.6-.4M150.5 678.5l.6-.4M159 678.5l.6-.4M167.6 678.4l.7-.3M176.2 678.4l.7-.3M184.8 678.3l.7-.3M193.4 678.3l.7-.3M202 678.2l.7-.2M210.6 678.2l.7-.2M219.2 678.2l.7-.2M227.8 678.1l.7-.2M236.4 678.1l.7-.1M245 678l.7-.1M253.6 678l.7-.1M262.2 677.9l.7-.1M270.8 677.9l.7 0M279.4 677.8l.7 0M288 677.8l.7 0M296.6 677.7l.7 0M305.2 677.6l.7 .1M313.9 677.5l.7 .2M322.5 677.3l.7 .2M331.2 677.2l.7 .3M339.8 677.1l.7 .3M348.5 677.1l.6 .4M357.2 677.1l.6 .4M365.8 677.1l.6 .4M374.4 677.1l.6 .4M383 677.1l.6 .4M391.7 677.1l.6 .4M400.2 677l.6 .4M408.8 677l.6 .4M417.4 677l.6 .4M426.1 676.9l.6 .4M434.7 676.9l.6 .5M90.4 687.4l.5-.5M99 687.4l.5-.5M107.6 687.4l.6-.5M116.1 687.3l.6-.5M124.7 687.3l.6-.4M133.3 687.2l.6-.4M141.9 687.2l.6-.4M150.5 687.2l.6-.4M159 687.1l.6-.4M167.6 687.1l.7-.3M176.2 687l.7-.3M184.8 687l.7-.3M193.4 686.9l.7-.3M202 686.9l.7-.2M210.6 686.8l.7-.2M219.2 686.8l.7-.2M227.8 686.7l.7-.2M236.4 686.7l.7-.1M245 686.6l.7-.1M253.6 686.6l.7-.1M262.2 686.5l.7 0M270.8 686.4l.7 0M279.3 686.3l.8 .1M287.9 686.2l.8 .1M296.5 686l.8 .2M305.2 685.9l.8 .3M313.9 685.8l.7 .3M322.6 685.8l.7 .3M331.2 685.8l.7 .3M339.8 685.7l.6 .4M348.5 685.7l.6 .4M357.1 685.7l.6 .4M365.7 685.7l.6 .4M374.3 685.7l.6 .4M383 685.6l.6 .4M391.6 685.6l.6 .4M400.2 685.6l.6 .4M408.8 685.6l.6 .4M417.5 685.6l.6 .4M426.1 685.5l.6 .5M434.7 685.5l.6 .5M90.4 696.1l.5-.5M99 696l.5-.5M107.6 696l.5-.5M116.1 695.9l.6-.5M124.7 695.9l.6-.5M133.3 695.9l.6-.4M141.9 695.8l.6-.4M150.5 695.8l.6-.4M159 695.7l.6-.4M167.6 695.7l.7-.3M176.2 695.6l.7-.3M184.8 695.6l.7-.3M193.4 695.5l.7-.3M202 695.5l.7-.2M210.6 695.4l.7-.2M219.2 695.4l.7-.2M227.8 695.3l.7-.1M236.4 695.3l.7-.1M245 695.2l.7-.1M253.5 695l.8 0M262 694.8l.8 .1M270.5 694.6l.8 .2M279.1 694.5l.8 .2M287.6 694.4l.7 .3M296.2 694.3l.7 .3M304.9 694.2l.7 .3M313.6 694.2l.7 .4M322.3 694.2l.7 .4M331 694.2l.7 .4M339.7 694.2l.7 .4M348.4 694.3l.7 .4M357.1 694.3l.6 .4M365.7 694.3l.6 .4M374.4 694.3l.6 .4M383 694.2l.6 .4M391.6 694.2l.6 .4M400.2 694.2l.6 .4M408.8 694.2l.6 .4M417.5 694.2l.6 .5M426.1 694.2l.6 .5M434.7 694.1l.6 .5M90.4 704.7l.5-.5M99 704.7l.5-.5M107.6 704.6l.5-.5M116.2 704.6l.6-.5M124.7 704.5l.6-.5M133.3 704.5l.6-.4M141.9 704.4l.6-.4M150.5 704.4l.6-.4M159 704.4l.6-.4M167.6 704.3l.7-.3M176.2 704.3l.7-.3M184.8 704.2l.7-.3M193.4 704.1l.7-.2M202 704.1l.7-.2M210.6 704l.7-.2M219.2 704l.7-.2M227.8 703.9l.7-.1M236.3 703.9l.7-.1M244.7 703.6l.8 0M253.3 703.3l.8 .2M262 703.2l.8 .2M270.7 703.1l.8 .3M279.2 703l.7 .3M287.8 703l.7 .3M296.4 702.9l.7 .3M304.8 702.8l.7 .3M313.4 702.7l.7 .4M322.1 702.7l.7 .4M330.7 702.7l.7 .4M339.4 702.7l.7 .4M348.2 702.7l.7 .4M357 702.8l.7 .4M365.7 702.9l.6 .4M374.4 702.9l.6 .4M383 702.8l.6 .4M391.6 702.8l.6 .4M400.2 702.8l.6 .4M408.9 702.8l.6 .5M417.5 702.8l.6 .5M426.1 702.8l.6 .5M434.7 702.7l.6 .5M90.4 713.3l.5-.5M99 713.3l.5-.5M107.6 713.2l.5-.5M116.2 713.2l.6-.5M124.7 713.2l.6-.5M133.3 713.1l.6-.4M141.9 713.1l.6-.4M150.5 713l.6-.4M159.1 713l.6-.4M167.6 712.9l.7-.3M176.2 712.9l.7-.3M184.9 712.8l.7-.3M193.7 712.7l.6-.2M202.3 712.6l.6-.2M210.9 712.6l.6-.2M219.4 712.5l.6-.1M228 712.5l.6-.1M236.4 712.4l.7-.1M244.8 712l.8 .1M253.5 711.8l.8 .2M262.2 711.8l.7 .2M270.8 711.8l.7 .3M279.3 711.7l.7 .3M287.7 711.5l.7 .3M296.2 711.4l.7 .3M304.8 711.4l.7 .4M313.4 711.3l.7 .4M322.1 711.3l.7 .4M330.7 711.3l.7 .4M339.3 711.2l.7 .4M348 711.2l.7 .4M356.8 711.3l.7 .4M365.7 711.4l.6 .4M374.4 711.5l.6 .4M383 711.4l.6 .4M391.6 711.4l.6 .4M400.3 711.4l.6 .5M408.9 711.4l.6 .5M417.5 711.4l.6 .5M426.1 711.4l.6 .5M434.7 711.3l.6 .5M90.5 722l.5-.6M99 721.9l.5-.5M107.6 721.9l.5-.5M116.2 721.8l.5-.5M124.8 721.8l.6-.5M133.3 721.8l.6-.4M141.9 721.7l.6-.4M150.5 721.7l.6-.4M159.1 721.6l.6-.4M167.6 721.5l.7-.3M176.2 721.5l.7-.3M184.9 721.4l.6-.3M193.9 721.2l.5-.2M202.7 721.1l.4-.1M211.3 721.1l.4-.1M219.7 721.1l.5-.1M228.1 721l.6-.1M236.8 720.8l.6 0M245.4 720.6l.6 .2M253.7 720.5l.7 .2M262 720.3l.8 .3M270.5 720.2l.7 .3M278.8 720.1l.7 .3M287.2 719.9l.7 .3M295.9 719.9l.7 .3M304.7 719.9l.7 .4M313.4 719.9l.7 .4M322.1 719.9l.7 .4M330.7 719.8l.7 .4M339.4 719.8l.7 .4M348 719.8l.7 .4M356.7 719.8l.7 .5M365.5 719.9l.7 .5M374.3 720l.6 .5M383 720l.6 .4M391.6 720l.6 .5M400.3 720l.6 .5M408.9 720l.6 .5M417.5 720l.6 .5M426.1 720l.5 .5M434.8 720l.5 .5M90.5 730.6l.5-.6M99.1 730.6l.5-.5M107.6 730.5l.5-.5M116.2 730.5l.5-.5M124.8 730.4l.6-.5M133.4 730.3l.6-.4M142 730.2l.6-.4M150.5 730.2l.6-.4M159.1 730.2l.6-.4M167.6 730.2l.7-.3M176.3 730.1l.6-.3M185 730l.6-.2M193.6 729.9l.6-.2M202.3 729.8l.6-.2M211 729.7l.5-.1M219.4 729.7l.6-.1M227.7 729.5l.8 0M236.2 729.2l.8 .2M244.7 729l.8 .2M253.2 728.9l.8 .3M261.7 728.8l.8 .3M270.3 728.8l.7 .3M278.8 728.7l.7 .3M287.2 728.5l.7 .3M295.7 728.3l.7 .4M304.4 728.3l.7 .4M313.3 728.4l.7 .4M322.1 728.5l.7 .4M330.7 728.4l.7 .4M339.4 728.4l.7 .4M348 728.4l.7 .5M356.6 728.3l.7 .5M365.3 728.3l.6 .5M374.1 728.5l.6 .5M383 728.6l.6 .5M391.6 728.6l.6 .5M400.3 728.6l.6 .5M408.9 728.6l.6 .5M417.5 728.6l.5 .5M426.1 728.6l.5 .5M434.8 728.6l.5 .5M90.5 739.2l.5-.6M99.1 739.2l.5-.5M107.6 739.2l.5-.5M116.2 739.1l.5-.5M124.9 738.9l.5-.4M133.5 738.9l.5-.4M142.2 738.7l.5-.3M150.6 738.8l.6-.4M159.1 738.8l.6-.4M167.6 738.8l.7-.3M176.3 738.7l.6-.3M185 738.6l.6-.2M193.4 738.6l.7-.2M202 738.5l.7-.2M210.7 738.5l.7-.2M219.1 738.4l.7-.1M227.3 737.9l.8 .1M235.8 737.6l.8 .2M244.4 737.5l.8 .2M252.9 737.4l.8 .3M261.5 737.3l.7 .3M270.2 737.3l.7 .3M278.9 737.3l.7 .3M287.3 737.1l.7 .4M295.7 736.9l.7 .4M304.3 736.8l.7 .4M313.2 736.9l.7 .4M322.1 737l.7 .4M330.8 737l.7 .4M339.4 737l.7 .4M348 737l.7 .5M356.7 736.9l.6 .5M365.3 736.9l.6 .5M374 736.9l.6 .5M382.7 737l.6 .5M391.4 737l.6 .5M400.2 737.1l.6 .5M408.9 737.2l.5 .5M417.5 737.2l.5 .5M426.2 737.2l.5 .5M434.8 737.2l.5 .5M90.5 747.9l.5-.6M99.1 747.8l.5-.5M107.7 747.7l.5-.5M116.3 747.7l.5-.5M124.9 747.6l.5-.4M133.5 747.6l.5-.4M142 747.5l.6-.4M150.5 747.5l.6-.4M159.1 747.5l.6-.4M167.6 747.4l.7-.3M176.3 747.3l.7-.3M185 747.2l.6-.2M193.7 747.1l.6-.2M202.3 747.1l.6-.2M210.9 747l.6-.1M219.1 746.9l.8-.1M227 746.4l.8 .1M235.5 746.1l.8 .2M244.1 746l.8 .2M252.7 745.9l.8 .3M261.2 745.8l.7 .3M270 745.8l.7 .3M278.9 745.9l.7 .3M287.4 745.7l.7 .4M295.7 745.5l.7 .4M304.3 745.4l.7 .4M313.1 745.4l.7 .4M322 745.5l.7 .4M330.8 745.6l.7 .4M339.4 745.6l.7 .5M348.1 745.5l.6 .5M356.7 745.5l.6 .5M365.3 745.5l.6 .5M374 745.5l.6 .5M382.6 745.4l.6 .5M391.2 745.4l.6 .5M400 745.6l.6 .5M408.9 745.8l.6 .5M417.5 745.8l.5 .5M426.1 745.7l.5 .5M434.8 745.7l.5 .5M90.6 756.5l.4-.6M99.2 756.3l.4-.5M107.9 756.2l.4-.4M116.4 756.3l.5-.5M124.8 756.3l.5-.5M133.4 756.3l.6-.5M142 756.2l.6-.4M150.6 756.1l.6-.4M159.1 756.1l.6-.4M167.6 756l.6-.3M176.3 756l.7-.3M185.1 755.8l.6-.2M194 755.6l.5-.2M202.7 755.6l.4-.1M211.1 755.6l.5-.1M219.1 755.5l.7-.1M227.2 755l.8 .1M235.6 754.7l.8 .2M244.1 754.6l.8 .3M252.6 754.5l.7 .3M261.2 754.4l.7 .3M270 754.4l.7 .3M278.9 754.4l.7 .4M287.4 754.3l.7 .4M295.7 754.1l.7 .4M304.4 754l.7 .4M313.1 754l.7 .4M321.8 754l.7 .4M330.7 754.1l.7 .5M339.4 754.2l.6 .5M348.1 754.1l.6 .5M356.7 754.1l.6 .5M365.3 754.1l.6 .5M374 754l.6 .5M382.6 754l.6 .5M391.2 754l.6 .5M399.9 754.1l.6 .5M408.8 754.2l.6 .6M417.5 754.3l.5 .5M426.1 754.3l.5 .6M434.8 754.3l.5 .5M90.6 765.1l.4-.6M99.2 765.1l.4-.6M107.8 765l.5-.5M116.3 765l.5-.5M124.8 765l.6-.5M133.3 764.9l.6-.5M142.2 764.7l.5-.4M150.9 764.5l.4-.3M159.4 764.5l.5-.3M167.7 764.6l.6-.3M176.2 764.6l.7-.3M184.9 764.5l.7-.3M193.8 764.3l.5-.2M202.7 764.2l.4-.1M211 764.2l.5-.1M219.1 764.1l.8-.1M227.3 763.6l.8 .2M235.8 763.4l.8 .2M244.3 763.2l.8 .3M252.7 763.1l.7 .3M261.4 763l.7 .3M269.9 762.9l.7 .3M278.6 762.8l.7 .4M287.2 762.8l.7 .4M295.8 762.7l.7 .4M304.6 762.7l.7 .4M313.4 762.7l.7 .4M322 762.7l.7 .5M330.7 762.7l.6 .5M339.5 762.7l.6 .5M348.1 762.7l.6 .5M356.7 762.7l.6 .5M365.4 762.7l.6 .5M374 762.6l.6 .5M382.6 762.6l.6 .5M391.3 762.6l.6 .6M399.9 762.6l.6 .6M408.6 762.6l.6 .6M417.4 762.8l.6 .6M426.2 762.9l.5 .6M434.8 762.9l.5 .5M90.6 773.8l.4-.6M99.2 773.7l.4-.6M107.7 773.7l.5-.6M116.2 773.7l.5-.6M124.6 773.9l.6-.6M133.2 773.7l.6-.5M142 773.4l.5-.4M150.8 773.2l.5-.3M159.3 773.2l.5-.3M167.7 773.3l.6-.3M176.3 773.2l.6-.3M185 773.1l.6-.2M193.9 772.9l.5-.2M202.7 772.8l.4-.1M211.1 772.8l.5-.1M219 772.7l.8 0M227.2 772.2l.8 .2M235.8 772l.8 .2M244.3 771.8l.7 .3M252.7 771.7l.7 .3M261.3 771.6l.7 .3M269.8 771.4l.7 .4M278.5 771.3l.7 .4M287.1 771.3l.7 .4M295.8 771.2l.7 .4M304.6 771.2l.7 .4M313.3 771.3l.7 .5M321.9 771.2l.6 .5M330.6 771.2l.6 .5M339.4 771.3l.6 .5M348.1 771.3l.6 .5M356.7 771.3l.6 .5M365.4 771.2l.6 .5M374 771.2l.6 .5M382.7 771.2l.6 .6M391.3 771.2l.6 .6M399.9 771.2l.6 .6M408.6 771.1l.6 .6M417.2 771.2l.5 .6M426 771.3l.5 .6M434.7 771.3l.5 .6M90.6 782.4l.4-.6M99.2 782.4l.4-.6M107.7 782.4l.5-.6M116.2 782.4l.5-.6M124.7 782.4l.6-.6M133.3 782.3l.6-.5M142 782.1l.6-.5M150.5 782l.6-.4M159.1 782l.6-.4M167.7 781.9l.6-.3M176.5 781.7l.5-.2M185.1 781.6l.6-.2M193.8 781.5l.5-.2M202.4 781.5l.5-.1M210.7 781.4l.6-.1M218.9 781.2l.8 0M227.1 780.7l.8 .2M235.6 780.5l.8 .3M244 780.3l.7 .3M252.6 780.2l.7 .3M261.2 780.1l.7 .3M269.8 780l.7 .4M278.5 779.9l.7 .4M287.1 779.8l.7 .4M295.8 779.8l.7 .4M304.5 779.7l.7 .5M313.1 779.7l.6 .5M321.8 779.6l.6 .5M330.5 779.6l.6 .5M339.4 779.8l.6 .5M348 779.7l.6 .5M356.7 779.8l.6 .5M365.3 779.7l.6 .5M374 779.8l.6 .6M382.7 779.8l.6 .6M391.3 779.8l.6 .6M399.9 779.7l.5 .6M408.6 779.7l.5 .6M417.2 779.7l.5 .6M425.9 779.7l.5 .6M434.5 779.7l.5 .6M90.7 791.1l.4-.6M99.1 791.3l.4-.7M107.5 791.3l.5-.6M116.1 791.3l.5-.6M124.7 791l.5-.6M133.4 790.8l.5-.5M142 790.8l.6-.5M150.5 790.7l.6-.4M159.1 790.6l.6-.4M167.7 790.5l.6-.3M176.5 790.3l.6-.3M184.9 790.3l.6-.2M193.4 790.2l.7-.2M202 790.2l.7-.2M210.5 790.1l.8-.1M218.5 789.6l.8 .1M226.8 789.1l.8 .2M235.3 789l.8 .3M243.9 788.8l.7 .3M252.6 788.7l.7 .3M261.2 788.6l.7 .4M269.9 788.6l.7 .4M278.5 788.5l.7 .4M287.2 788.4l.7 .4M295.8 788.3l.7 .5M304.5 788.3l.6 .5M313.1 788.2l.6 .5M321.8 788.2l.6 .5M330.5 788.2l.6 .5M339.3 788.3l.6 .5M348 788.3l.6 .5M356.6 788.3l.6 .6M365.2 788.2l.6 .6M373.9 788.2l.6 .6M382.7 788.3l.6 .6M391.3 788.3l.5 .6M399.9 788.3l.5 .6M408.5 788.2l.5 .6M417.2 788.3l.5 .6M425.9 788.3l.5 .6M434.5 788.3l.5 .6M90.7 799.8l.4-.7M99.1 800l.4-.7M107.5 800.1l.5-.7M116 800l.5-.6M124.7 799.7l.5-.6M133.4 799.5l.5-.5M142 799.4l.6-.5M150.5 799.3l.6-.4M159.1 799.2l.6-.4M167.7 799.2l.6-.4M176.2 799.1l.7-.3M184.8 799l.7-.3M193.4 798.9l.7-.2M201.9 798.8l.7-.2M210.2 798.6l.8 0M218.1 798l.8 .2M226.6 797.6l.8 .3M235.3 797.5l.7 .3M243.9 797.4l.7 .3M252.6 797.3l.7 .4M261.2 797.2l.7 .4M269.9 797.1l.7 .4M278.6 797l.7 .4M287.2 797l.7 .5M295.9 796.9l.6 .5M304.5 796.9l.6 .5M313.3 796.9l.6 .5M321.9 796.9l.6 .5M330.5 796.7l.6 .5M339.2 796.8l.6 .5M348.1 796.9l.6 .6M356.7 796.9l.6 .6M365.3 796.8l.6 .6M373.8 796.6l.5 .6M382.5 796.7l.5 .6M391.3 796.8l.5 .6M400 796.9l.5 .6M408.5 796.7l.5 .6M417.2 796.9l.5 .6M425.9 796.9l.5 .6M434.5 796.9l.5 .6M90.7 808.5l.4-.7M99.2 808.5l.4-.7M107.7 808.4l.4-.7M116.3 808.4l.5-.6M124.9 808.3l.5-.6M133.3 808.3l.6-.6M141.9 808.2l.6-.5M150.5 808l.6-.5M159 807.9l.6-.4M167.6 807.8l.7-.4M176.2 807.7l.7-.3M184.8 807.6l.7-.3M193.4 807.5l.7-.2M201.8 807.4l.8-.1M209.7 807l.8 .1M218 806.4l.8 .2M226.6 806.2l.8 .3M235.3 806.1l.7 .3M243.9 805.9l.7 .3M252.5 805.8l.7 .4M261.1 805.7l.7 .4M269.8 805.6l.7 .4M278.6 805.6l.7 .4M287.3 805.5l.6 .5M295.9 805.5l.6 .5M304.6 805.5l.6 .5M313.4 805.5l.6 .5M322 805.5l.6 .5M330.5 805.3l.6 .5M339.2 805.3l.6 .6M348 805.4l.6 .6M356.8 805.5l.6 .6M365.3 805.4l.5 .6M373.9 805.3l.5 .6M382.5 805.2l.5 .6M391.3 805.4l.5 .6M400 805.5l.5 .6M408.6 805.5l.5 .6M417.3 805.5l.5 .6M425.9 805.5l.5 .6M434.6 805.5l.5 .6M90.6 817.5l.3-.7M99.1 817.4l.4-.7M107.7 817.2l.4-.7M116.3 817l.4-.7M124.7 817.2l.5-.6M132.9 817.4l.5-.6M141.6 817.1l.6-.5M150.4 816.7l.6-.5M158.9 816.7l.7-.4M167.2 816.6l.7-.4M176 816.4l.7-.3M184.7 816.2l.7-.3M193.3 816.1l.7-.2M201.4 815.8l.8 0M209.4 815.2l.8 .2M217.9 814.9l.8 .2M226.6 814.7l.7 .3M235.2 814.6l.7 .3M243.7 814.4l.7 .4M252.2 814.2l.7 .4M260.9 814l.7 .4M269.8 814.1l.7 .4M278.8 814.2l.6 .5M287.4 814.1l.6 .5M296 814l.6 .5M304.8 814.1l.6 .5M313.4 814l.6 .5M322 813.9l.6 .6M330.6 813.8l.6 .6M339.2 813.8l.6 .6M347.9 813.8l.5 .6M356.8 814.1l.5 .6M365.4 814l.5 .6M374 813.9l.5 .6M382.6 813.9l.5 .6M391.3 813.9l.5 .6M400 813.9l.5 .6M408.6 814l.5 .6M417.3 814l.5 .6M426 814.1l.5 .6M434.6 814.1l.5 .6M90.6 826.2l.3-.7M99.1 826.2l.3-.7M107.7 826.1l.4-.7M116.2 826l.4-.7M124.3 826.5l.5-.6M132.7 826.4l.5-.6M141.6 825.8l.6-.6M150.4 825.4l.6-.5M158.8 825.4l.7-.5M166.9 825.5l.7-.4M175.2 825.4l.7-.3M184.1 825l.8-.3M192.8 824.7l.8-.1M200.8 824.1l.8 .1M209.1 823.6l.8 .2M217.6 823.3l.8 .3M226.2 823.1l.7 .3M234.9 823l.7 .3M243.5 822.8l.7 .4M252.2 822.6l.7 .4M260.9 822.5l.7 .4M269.9 822.7l.7 .5M279 822.9l.6 .5M287.5 822.7l.6 .5M296 822.6l.6 .5M304.7 822.6l.6 .5M313.4 822.5l.6 .6M322 822.4l.6 .6M330.6 822.4l.6 .6M339.3 822.4l.5 .6M348 822.4l.5 .6M356.8 822.6l.5 .6M365.5 822.6l.5 .6M374.1 822.5l.5 .6M382.8 822.6l.5 .6M391.3 822.5l.5 .6M399.9 822.4l.5 .6M408.6 822.5l.5 .6M417.2 822.5l.5 .6M425.9 822.6l.5 .7M434.6 822.6l.5 .7M90.7 834.9l.3-.8M99.2 834.8l.3-.7M107.7 834.8l.3-.7M116.2 834.9l.4-.7M124.2 835.5l.4-.7M132.8 835.1l.5-.6M141.7 834.4l.5-.6M150.5 834l.6-.5M158.8 834l.6-.5M166.9 834.1l.7-.4M174.7 834.2l.7-.3M183.2 833.7l.8-.2M191.8 833l.8 0M200.2 832.3l.8 .2M208.8 832l.8 .2M217.5 831.8l.7 .3M226.1 831.6l.7 .3M234.8 831.4l.7 .4M243.5 831.3l.7 .4M252.2 831.2l.7 .4M260.9 831l.7 .5M269.8 831.1l.6 .5M278.8 831.3l.6 .5M287.4 831.2l.6 .5M296.1 831.1l.6 .5M304.7 831.1l.6 .6M313.4 831l.6 .6M322 831l.5 .6M330.7 831l.5 .6M339.3 830.9l.5 .6M348 830.9l.5 .6M356.8 831l.5 .6M365.5 831.2l.5 .6M374.2 831.2l.5 .6M382.9 831.3l.5 .6M391.5 831.2l.5 .6M400 831l.5 .7M408.7 831.1l.5 .7M417.3 831.1l.5 .7M425.9 831.1l.4 .7M434.6 831.1l.4 .7M90.8 843.5l.2-.8M99.4 843.4l.3-.8M107.8 843.4l.3-.7M116.2 843.7l.4-.7M124.1 844.4l.4-.7M132.9 843.7l.5-.6M142 842.8l.5-.6M150.6 842.6l.5-.5M158.9 842.6l.6-.5M167 842.7l.7-.4M174.9 842.7l.7-.3M182.9 842l.8-.1M191.4 841.2l.8 .1M200.1 840.8l.8 .2M208.7 840.5l.8 .3M217.4 840.3l.7 .3M226.2 840.1l.7 .4M234.9 839.9l.7 .4M243.6 839.8l.7 .4M252.3 839.7l.7 .5M261 839.6l.6 .5M269.7 839.5l.6 .5M278.6 839.6l.6 .5M287.4 839.7l.6 .5M296.1 839.7l.6 .6M304.8 839.6l.6 .6M313.5 839.6l.5 .6M322.1 839.6l.5 .6M330.8 839.5l.5 .6M339.4 839.5l.5 .6M348 839.5l.5 .6M356.7 839.5l.5 .6M365.4 839.5l.5 .6M374.1 839.6l.5 .6M382.9 839.8l.5 .7M391.5 839.7l.5 .7M400.1 839.7l.4 .7M408.8 839.8l.4 .7M417.3 839.7l.4 .7M425.9 839.6l.4 .7M434.6 839.7l.4 .7M90.9 852.2l.2-.8M99.5 852.1l.2-.8M108 852.1l.3-.8M116.3 852.3l.3-.7M124.4 853l.4-.7M133.2 852.2l.4-.7M142.4 851l.4-.5M150.9 851l.4-.4M159 851.2l.6-.5M167.2 851.3l.7-.4M175.4 851.1l.7-.3M183.3 850.5l.8-.1M191.5 849.7l.8 .1M200.1 849.3l.8 .2M208.6 849l.8 .3M217.4 848.7l.7 .3M226.2 848.6l.7 .4M235 848.4l.7 .4M243.7 848.3l.7 .5M252.4 848.2l.6 .5M261.1 848.1l.6 .5M269.8 848l.6 .5M278.5 847.9l.6 .6M287.3 848l.6 .6M296.2 848.2l.5 .6M304.9 848.2l.5 .6M313.5 848.1l.5 .6M322.2 848.1l.5 .6M330.9 848.2l.5 .6M339.5 848.1l.5 .6M348.1 848l.5 .6M356.7 848l.5 .7M365.4 848l.5 .7M374 848l.4 .7M382.8 848.1l.4 .7M391.4 848.2l.4 .7M400.1 848.3l.4 .7M408.9 848.4l.4 .7M417.4 848.3l.4 .7M426 848.3l.4 .7M434.7 848.4l.4 .7M91.1 860.8l.1-.8M99.6 860.8l.2-.8M108.1 860.8l.2-.8M116.5 860.8l.3-.8M124.6 861.6l.3-.7M133.3 860.9l.4-.7M142.4 859.8l.4-.5M150.9 859.7l.4-.5M159.1 859.9l.6-.5M167.2 859.9l.7-.4M175.6 859.6l.7-.3M183.7 859.1l.8-.1M191.6 858.3l.8 .1M200.1 857.8l.8 .2M208.8 857.5l.7 .3M217.5 857.3l.7 .4M226.3 857.1l.7 .4M235 856.9l.7 .5M243.8 856.8l.6 .5M252.5 856.7l.6 .5M261.2 856.6l.6 .5M269.9 856.5l.6 .6M278.5 856.4l.5 .6M287.3 856.4l.5 .6M296.2 856.6l.5 .6M304.9 856.7l.5 .6M313.6 856.7l.5 .6M322.3 856.7l.5 .6M331.1 856.9l.5 .6M339.6 856.8l.5 .7M348.2 856.6l.5 .7M356.8 856.6l.4 .7M365.5 856.6l.4 .7M374.1 856.6l.4 .7M382.8 856.6l.4 .7M391.5 856.7l.4 .7M400.1 856.8l.4 .7M408.9 857l.4 .7M417.5 857l.4 .7M426 856.8l.4 .7M434.7 856.9l.4 .7M91.2 869.5l.1-.8M99.7 869.4l.1-.8M108.3 869.2l.2-.8M116.8 869.2l.2-.8M125 870l.3-.8M133.5 869.5l.3-.7M142.3 868.7l.4-.7M150.8 868.5l.5-.6M159.2 868.5l.6-.5M167.4 868.4l.7-.4M175.8 868.2l.7-.3M183.7 867.7l.8-.1M191.6 866.8l.8 .2M200.2 866.3l.8 .3M208.9 866l.7 .3M217.7 865.7l.7 .4M226.4 865.5l.7 .5M235.1 865.4l.6 .5M243.9 865.2l.6 .5M252.5 865.1l.6 .6M261.3 865l.6 .6M270 865l.5 .6M278.7 864.9l.5 .6M287.3 864.9l.5 .6M296.1 865l.5 .6M304.9 865.2l.5 .6M313.7 865.2l.5 .6M322.4 865.3l.5 .7M331.1 865.4l.4 .7M339.7 865.3l.4 .7M348.3 865.2l.4 .7M356.9 865.2l.4 .7M365.5 865.1l.4 .7M374.2 865.1l.4 .7M382.8 865.1l.4 .7M391.5 865.2l.4 .7M400.2 865.4l.4 .7M408.9 865.6l.4 .7M417.5 865.5l.4 .7M426 865.2l.4 .7M434.6 865.2l.4 .7M91.4 878.3l0-.8M99.9 878.1l0-.8M108.5 877.7l.1-.8M117 877.6l.1-.8M125.3 878.2l.2-.8M133.7 878.3l.3-.8M142.3 877.6l.3-.7M150.9 877.3l.4-.6M159.3 877.1l.5-.5M167.7 876.9l.6-.4M175.9 876.7l.7-.3M183.4 876.1l.8 0M191.5 875.2l.8 .2M200.2 874.7l.7 .3M209 874.4l.7 .4M217.7 874.1l.7 .5M226.4 873.9l.6 .5M235.2 873.7l.6 .5M244 873.7l.6 .6M252.6 873.5l.5 .6M261.4 873.5l.5 .6M270.1 873.5l.5 .6M278.8 873.4l.5 .6M287.5 873.4l.5 .6M296.1 873.4l.5 .7M304.9 873.4l.4 .7M313.6 873.5l.4 .7M322.4 873.7l.4 .7M331.1 873.8l.4 .7M339.7 873.8l.4 .7M348.3 873.7l.4 .7M357 873.7l.4 .7M365.6 873.7l.4 .7M374.2 873.7l.4 .7M382.9 873.7l.4 .7M391.5 873.7l.4 .7M400.2 873.8l.4 .7M408.9 873.9l.4 .7M417.4 873.8l.4 .7M426 873.7l.4 .7M434.6 873.7l.4 .7M91.6 886.9l-.1-.8M100.1 887l0-.8M108.6 886.8l0-.8M117.1 886.5l0-.8M125.6 886.7l.1-.8M133.9 887.2l.2-.8M142.4 886.8l.3-.8M150.9 886.1l.4-.7M159.4 885.8l.5-.6M167.7 885.6l.6-.5M175.5 885.3l.8-.2M183.1 884.3l.8 .1M191.6 883.6l.8 .3M200.2 883l.7 .4M208.8 882.5l.7 .5M217.6 882.2l.6 .5M226.3 882l.6 .5M235.1 881.9l.6 .6M244 881.9l.5 .6M252.8 882l.5 .6M261.6 882l.5 .6M270.3 882l.5 .6M278.9 881.9l.5 .7M287.6 881.9l.4 .7M296.3 881.9l.4 .7M304.9 881.9l.4 .7M313.6 881.9l.4 .7M322.3 882l.4 .7M331.1 882.2l.4 .7M339.8 882.3l.4 .7M348.4 882.3l.4 .7M357.1 882.3l.4 .7M365.7 882.3l.4 .7M374.3 882.3l.4 .7M382.9 882.3l.4 .7M391.6 882.3l.4 .7M400.2 882.3l.4 .7M408.8 882.3l.3 .7M417.4 882.3l.3 .7M426.1 882.3l.3 .7M434.8 882.5l.3 .7M91.7 895.3l-.1-.8M100.3 895.4l-.1-.8M108.9 895.5l-.1-.8M117.4 895.5l-.1-.8M125.9 895.5l0-.8M134.3 895.8l.1-.8M142.6 895.8l.1-.8M151.1 895.2l.2-.8M159.5 894.6l.4-.7M167.7 894.4l.6-.5M175.1 893.8l.8-.2M183.1 892.6l.8 .2M191.7 891.9l.7 .3M200.5 891.3l.7 .5M209 890.8l.6 .5M217.8 890.5l.6 .6M226.5 890.3l.5 .6M235.3 890.2l.5 .6M244 890.2l.5 .6M252.8 890.2l.5 .7M261.6 890.3l.4 .7M270.4 890.4l.4 .7M279.1 890.4l.4 .7M287.8 890.4l.4 .7M296.4 890.4l.4 .7M305.1 890.4l.4 .7M313.7 890.4l.4 .7M322.3 890.4l.4 .7M331 890.5l.4 .7M339.8 890.8l.4 .7M348.5 890.9l.4 .7M357.1 890.9l.3 .7M365.8 890.9l.3 .7M374.4 890.9l.3 .7M383 890.9l.3 .7M391.6 890.9l.3 .7M400.3 890.9l.3 .7M408.9 890.8l.3 .7M417.5 890.8l.3 .7M426.1 890.9l.3 .7M434.9 891.2l.3 .7M91.9 903.9l-.2-.8M100.5 904l-.2-.8M109.1 904.1l-.2-.8M117.6 904l-.2-.8M126.2 903.9l-.1-.8M134.7 904.2l-.1-.8M143.1 904.6l0-.8M151.4 904.2l.1-.8M159.7 903.6l.2-.8M167.7 903.2l.5-.6M175.7 902.1l.8-.1M183.9 901.1l.7 .3M192.2 900.2l.7 .5M200.9 899.6l.6 .6M209.6 899.2l.5 .6M218.1 898.8l.5 .6M226.9 898.7l.5 .7M235.6 898.6l.4 .7M244.3 898.6l.4 .7M253 898.5l.4 .7M261.7 898.5l.4 .7M270.5 898.7l.4 .7M279.3 898.9l.4 .7M287.9 899l.4 .7M296.6 898.9l.4 .7M305.2 898.9l.3 .7M313.8 898.9l.3 .7M322.5 898.9l.3 .7M331.1 898.9l.3 .7M339.9 899.2l.3 .7M348.6 899.4l.3 .7M357.2 899.5l.3 .7M365.8 899.4l.3 .7M374.5 899.4l.3 .7M383.1 899.4l.3 .7M391.7 899.4l.3 .7M400.3 899.4l.3 .7M408.9 899.4l.3 .7M417.6 899.4l.3 .7M426.2 899.5l.3 .7M435 899.9l.3 .7M92.1 912.5l-.3-.7M100.7 912.5l-.3-.7M109.4 912.7l-.3-.8M118 912.7l-.3-.8M126.5 912.5l-.3-.8M135.1 912.7l-.2-.8M143.7 913.1l-.2-.8M152.2 912.9l-.2-.8M160.4 912.4l0-.8M168.4 911.6l.2-.6M176.7 910.5l.5 0M185.1 909.7l.5 .4M193.1 908.6l.5 .6M201.5 907.9l.5 .7M210.1 907.6l.4 .7M218.7 907.2l.4 .7M227.3 907.1l.4 .7M236 907l.4 .7M244.6 907l.4 .7M253.3 907l.3 .7M261.9 907l.3 .7M270.6 907.1l.3 .7M279.4 907.3l.3 .7M288.1 907.5l.3 .7M296.7 907.5l.3 .7M305.4 907.5l.3 .7M314 907.5l.3 .7M322.7 907.6l.3 .7M331.3 907.6l.3 .7M339.9 907.6l.3 .7M348.6 907.8l.3 .7M357.2 907.8l.3 .7M365.9 907.8l.3 .7M374.4 907.7l.3 .7M383 907.7l.3 .7M391.8 907.9l.3 .7M400.4 908l.3 .7M409 908l.3 .7M417.6 908l.3 .7M426.3 908.1l.3 .7M435 908.5l.3 .7M92.3 921l-.4-.7M100.9 920.9l-.4-.7M109.6 921l-.4-.7M118.3 921.2l-.4-.7M126.9 921.2l-.4-.7M135.5 921.1l-.4-.7M144.3 921.4l-.4-.7M152.9 921.2l-.4-.7M161.2 920.8l-.4-.7M169.5 920l-.4-.5M178 918.6l-.3 .4M185.8 918l.2 .6M194 916.9l.3 .8M202.2 916.1l.3 .8M210.8 916l.3 .7M219.2 915.7l.3 .7M227.8 915.5l.3 .7M236.4 915.5l.3 .7M245 915.5l.3 .7M253.6 915.5l.3 .7M262.2 915.4l.3 .7M270.8 915.5l.3 .8M279.5 915.6l.3 .8M288.3 916.1l.3 .8M297 916.2l.3 .8M305.5 916.1l.3 .8M314.2 916.2l.3 .8M322.9 916.4l.3 .8M331.4 916.2l.3 .8M340 916.1l.3 .8M348.7 916.2l.3 .8M357.3 916.1l.3 .8M365.8 916.1l.3 .8M374.4 916.1l.3 .8M383.1 916.1l.3 .8M391.8 916.4l.3 .8M400.5 916.6l.3 .8M409.1 916.6l.3 .8M417.7 916.6l.3 .8M426.4 916.7l.3 .8M435.1 917.1l.3 .8M92.4 929.3l-.4-.7M101 929.2l-.4-.7M109.8 929.5l-.5-.7M118.5 929.6l-.5-.6M127.2 929.5l-.5-.6M135.9 929.5l-.5-.6M144.8 929.6l-.6-.6M153.4 929.3l-.6-.5M162.1 929.1l-.7-.5M170.7 928.1l-.8-.2M178.7 926.9l-.6 .4M186.7 925.9l-.3 .8M194.8 924.9l0 .8M203 924.5l.1 .8M211.4 924.5l.1 .8M219.8 924.3l.2 .8M228.3 924l.2 .8M236.8 923.9l.2 .8M245.4 924l.2 .8M253.9 924l.2 .8M262.5 924l.2 .8M271.1 924l.2 .8M279.7 924.1l.2 .8M288.4 924.5l.2 .8M297.1 924.7l.2 .8M305.7 924.6l.2 .8M314.3 924.7l.2 .8M323 924.8l.2 .8M331.5 924.7l.2 .8M340.1 924.6l.2 .8M348.8 924.7l.2 .8M357.4 924.7l.2 .8M366 924.8l.2 .8M374.6 924.7l.2 .8M383.2 924.7l.2 .8M391.9 924.9l.2 .8M400.6 925.2l.2 .8M409.2 925.2l.2 .8M417.8 925.2l.2 .8M426.4 925.3l.2 .8M435.1 925.7l.2 .8M92.5 937.8l-.5-.6M101.1 937.7l-.5-.6M110 937.9l-.5-.6M118.8 938l-.6-.6M127.5 938l-.6-.6M136.2 937.8l-.6-.5M145.2 937.8l-.7-.5M153.8 937.5l-.7-.4M163 937.3l-.8-.2M171.8 936.2l-.8 .1M179.8 935l-.7 .4M187.7 933.9l-.4 .7M195.7 933.3l-.2 .8M203.7 933.1l-.1 .8M212 933.1l0 .8M220.4 933l0 .8M228.8 932.7l.1 .8M237.2 932.5l.1 .8M245.7 932.5l.1 .8M254.3 932.5l.1 .8M262.8 932.5l.2 .8M271.4 932.5l.2 .8M280 932.6l.2 .8M288.6 932.9l.2 .8M297.3 933.2l.2 .8M305.9 933.2l.2 .8M314.4 933.1l.2 .8M323 933.1l.2 .8M331.7 933.2l.2 .8M340.3 933.2l.2 .8M348.9 933.2l.2 .8M357.5 933.3l.2 .8M366.2 933.6l.2 .8M374.7 933.5l.2 .8M383.3 933.3l.2 .8M392 933.6l.2 .8M400.6 933.8l.2 .8M409.2 933.8l.2 .8M417.9 933.8l.2 .8M426.5 933.9l.2 .8M435.2 934.2l.2 .8M92.8 946.4l-.6-.6M101.4 946.4l-.6-.6M110.1 946.4l-.6-.5M118.9 946.4l-.6-.5M127.6 946.3l-.7-.5M136.5 946.2l-.7-.4M145.4 946.1l-.7-.3M154.1 945.8l-.8-.2M163.4 945.4l-.8-.1M172.1 944.4l-.8 .1M180.3 943.4l-.7 .4M188.3 942.5l-.5 .6M196.2 942.1l-.4 .7M204.3 941.8l-.2 .8M212.5 941.7l-.1 .8M220.8 941.7l-.1 .8M229.2 941.4l0 .8M237.7 941.1l0 .8M246.1 941.1l.1 .8M254.6 941.1l.1 .8M263.1 941.1l.1 .8M271.7 941.1l.1 .8M280.2 941.1l.1 .8M288.8 941.5l.1 .8M297.5 941.7l.1 .8M306 941.8l.1 .8M314.6 941.7l.2 .8M323.2 941.7l.2 .8M331.8 941.8l.2 .8M340.4 941.8l.2 .8M349 941.8l.2 .8M357.6 941.8l.2 .8M366.3 942.1l.2 .8M374.8 942.1l.2 .8M383.4 941.9l.2 .8M392.1 942.3l.2 .8M400.7 942.4l.2 .8M409.3 942.4l.2 .8M417.9 942.4l.2 .8M426.5 942.5l.2 .8M435.2 942.7l.2 .8" stroke="#0a0000" stroke-width="2.05" stroke-linecap="round" fill="none"/>
</g>
<path d="M90.90,585.50V590.00M90.90,947.00V951.50" stroke="#777" stroke-width="0.9" fill="none"/>
<path d="M145.00,585.50V590.00M145.00,947.00V951.50" stroke="#777" stroke-width="0.9" fill="none"/>
<path d="M199.00,585.50V590.00M199.00,947.00V951.50" stroke="#777" stroke-width="0.9" fill="none"/>
<path d="M252.50,585.50V590.00M252.50,947.00V951.50" stroke="#777" stroke-width="0.9" fill="none"/>
<path d="M306.40,585.50V590.00M306.40,947.00V951.50" stroke="#777" stroke-width="0.9" fill="none"/>
<path d="M359.75,585.50V590.00M359.75,947.00V951.50" stroke="#777" stroke-width="0.9" fill="none"/>
<path d="M413.30,585.50V590.00M413.30,947.00V951.50" stroke="#777" stroke-width="0.9" fill="none"/>
<path d="M80.00,608.75H84.50M441.00,608.75H445.50" stroke="#777" stroke-width="0.9" fill="none"/>
<path d="M80.00,662.75H84.50M441.00,662.75H445.50" stroke="#777" stroke-width="0.9" fill="none"/>
<path d="M80.00,716.00H84.50M441.00,716.00H445.50" stroke="#777" stroke-width="0.9" fill="none"/>
<path d="M80.00,769.75H84.50M441.00,769.75H445.50" stroke="#777" stroke-width="0.9" fill="none"/>
<path d="M80.00,823.25H84.50M441.00,823.25H445.50" stroke="#777" stroke-width="0.9" fill="none"/>
<path d="M80.00,877.00H84.50M441.00,877.00H445.50" stroke="#777" stroke-width="0.9" fill="none"/>
<path d="M80.00,931.00H84.50M441.00,931.00H445.50" stroke="#777" stroke-width="0.9" fill="none"/>
<rect x="84.50" y="590.00" width="356.50" height="357.00" fill="none" stroke="#777" stroke-width="1"/>
<text transform="translate(74.40,968.50) scale(1.1000,1)" font-size="18" fill="#111">500</text>
<text transform="translate(128.50,968.50) scale(1.1000,1)" font-size="18" fill="#111">600</text>
<text transform="translate(182.50,968.50) scale(1.1000,1)" font-size="18" fill="#111">700</text>
<text transform="translate(236.00,968.50) scale(1.1000,1)" font-size="18" fill="#111">800</text>
<text transform="translate(289.90,968.50) scale(1.1000,1)" font-size="18" fill="#111">900</text>
<text transform="translate(343.25,968.50) scale(1.1000,1)" font-size="18" fill="#111">1000</text>
<text transform="translate(396.80,968.50) scale(1.1000,1)" font-size="18" fill="#111">1100</text>
<text transform="translate(41.43,611.15) scale(1.1000,1)" font-size="18" fill="#111">500</text>
<text transform="translate(41.43,665.15) scale(1.1000,1)" font-size="18" fill="#111">400</text>
<text transform="translate(41.43,718.40) scale(1.1000,1)" font-size="18" fill="#111">300</text>
<text transform="translate(41.43,772.15) scale(1.1000,1)" font-size="18" fill="#111">200</text>
<text transform="translate(41.43,825.65) scale(1.1000,1)" font-size="18" fill="#111">100</text>
<text transform="translate(63.51,879.40) scale(1.1000,1)" font-size="18" fill="#111">0</text>
<text transform="translate(34.90,933.40) scale(1.1000,1)" font-size="18" fill="#111">-100</text>
<path d="M69.10,554.65 C67.34,550.16 63.83,548.40 59.53,548.40 C53.28,548.40 49.38,552.89 49.38,559.41 C49.38,565.98 53.28,570.47 59.53,570.47 C64.22,570.47 67.93,567.93 69.30,563.44 L64.41,561.68 C63.63,564.41 62.07,565.78 59.92,565.78 C57.19,565.78 55.43,563.44 55.43,559.41 C55.43,555.43 57.19,553.09 59.92,553.09 C61.88,553.09 63.05,554.06 63.44,555.62 Z" fill="#000" fill-rule="evenodd"/>
<text transform="translate(92.50,557.25) scale(1.1115,1)" font-size="18.3" fill="#111">Aug 28, 2011</text>
<text transform="translate(92.50,579.00) scale(1.1025,1)" font-size="18.3" fill="#111">0400 UTC</text>
<text transform="translate(182.00,989.00) scale(1.0483,1)" font-size="19.5" fill="#111">LCC East (km)</text>
<text transform="translate(25.90,839.00) rotate(-90) scale(1.0403,1)" font-size="19.5" fill="#111">LCC North (km)</text>
<text transform="translate(93.75,1013.50) scale(1.0066,1)" font-size="10.2" fill="#222">LCC Origin: 38.50N, 83.00W</text>
<text transform="translate(93.75,1026.00) scale(1.0003,1)" font-size="10.2" fill="#222">Matching Parallels: 28.50N, 48.50N</text>
<text transform="translate(93.75,1039.75) scale(0.9966,1)" font-size="10.2" fill="#222">Datum: NWS-84</text>
<rect x="455.50" y="616.00" width="16.25" height="17.20" fill="#9900cc" stroke="#555" stroke-width="0.6"/>
<text transform="translate(474.75,635.50) scale(1.0800,1)" font-size="18" fill="#111">75</text>
<rect x="455.50" y="633.20" width="16.25" height="17.20" fill="#cc33ff" stroke="#555" stroke-width="0.6"/>
<text transform="translate(474.75,652.70) scale(1.0800,1)" font-size="18" fill="#111">70</text>
<rect x="455.50" y="650.40" width="16.25" height="17.20" fill="#cc99cc" stroke="#555" stroke-width="0.6"/>
<text transform="translate(474.75,669.90) scale(1.0800,1)" font-size="18" fill="#111">65</text>
<rect x="455.50" y="667.60" width="16.25" height="17.20" fill="#ff99ff" stroke="#555" stroke-width="0.6"/>
<text transform="translate(474.75,687.10) scale(1.0800,1)" font-size="18" fill="#111">60</text>
<rect x="455.50" y="684.80" width="16.25" height="17.20" fill="#ffcccc" stroke="#555" stroke-width="0.6"/>
<text transform="translate(474.75,704.30) scale(1.0800,1)" font-size="18" fill="#111">55</text>
<rect x="455.50" y="702.00" width="16.25" height="17.20" fill="#ffcc99" stroke="#555" stroke-width="0.6"/>
<text transform="translate(474.75,721.50) scale(1.0800,1)" font-size="18" fill="#111">50</text>
<rect x="455.50" y="719.20" width="16.25" height="17.20" fill="#cc6633" stroke="#555" stroke-width="0.6"/>
<text transform="translate(474.75,738.70) scale(1.0800,1)" font-size="18" fill="#111">45</text>
<rect x="455.50" y="736.40" width="16.25" height="17.20" fill="#ff6633" stroke="#555" stroke-width="0.6"/>
<text transform="translate(474.75,755.90) scale(1.0800,1)" font-size="18" fill="#111">40</text>
<rect x="455.50" y="753.60" width="16.25" height="17.20" fill="#ff9933" stroke="#555" stroke-width="0.6"/>
<text transform="translate(474.75,773.10) scale(1.0800,1)" font-size="18" fill="#111">35</text>
<rect x="455.50" y="770.80" width="16.25" height="17.20" fill="#ffcc00" stroke="#555" stroke-width="0.6"/>
<text transform="translate(474.75,790.30) scale(1.0800,1)" font-size="18" fill="#111">30</text>
<rect x="455.50" y="788.00" width="16.25" height="17.20" fill="#ff9999" stroke="#555" stroke-width="0.6"/>
<text transform="translate(474.75,807.50) scale(1.0800,1)" font-size="18" fill="#111">25</text>
<rect x="455.50" y="805.20" width="16.25" height="17.20" fill="#ffcc99" stroke="#555" stroke-width="0.6"/>
<text transform="translate(474.75,824.70) scale(1.0800,1)" font-size="18" fill="#111">20</text>
<rect x="455.50" y="822.40" width="16.25" height="17.20" fill="#99cc99" stroke="#555" stroke-width="0.6"/>
<text transform="translate(474.75,841.90) scale(1.0800,1)" font-size="18" fill="#111">15</text>
<rect x="455.50" y="839.60" width="16.25" height="17.20" fill="#99ff99" stroke="#555" stroke-width="0.6"/>
<text transform="translate(474.75,859.10) scale(1.0800,1)" font-size="18" fill="#111">10</text>
<rect x="455.50" y="856.80" width="16.25" height="17.20" fill="#ffffff" stroke="#555" stroke-width="0.6"/>
<text transform="translate(474.75,876.30) scale(1.0800,1)" font-size="18" fill="#111">0</text>
<text transform="translate(451.00,898.50) scale(1.0800,1)" font-size="15.8" fill="#111">Wind</text>
<text transform="translate(451.00,920.25) scale(1.0800,1)" font-size="15.8" fill="#111">Speed</text>
<text transform="translate(451.00,942.00) scale(1.0800,1)" font-size="15.8" fill="#111">(m/s)</text>
<text transform="translate(369.75,1009.50) scale(1.0989,1)" font-size="16.2" fill="#111">Wind Speed (m/s)</text>
<text transform="translate(431.00,1029.00) scale(1.0800,1)" font-size="16.2" fill="#111">5</text>
<circle cx="418.00" cy="1028.80" r="0.95" fill="#000"/>
<path d="M418.00,1028.80h-0.70" stroke="#000" stroke-width="0.7"/>
<text transform="translate(431.00,1045.25) scale(1.0800,1)" font-size="16.2" fill="#111">10</text>
<circle cx="418.50" cy="1042.10" r="0.95" fill="#000"/>
<path d="M418.50,1042.10h-1.80" stroke="#000" stroke-width="0.7"/>
<text transform="translate(431.00,1061.50) scale(1.0800,1)" font-size="16.2" fill="#111">15</text>
<circle cx="419.50" cy="1055.40" r="0.95" fill="#000"/>
<path d="M419.50,1055.40h-3.40" stroke="#000" stroke-width="0.7"/>
<clipPath id="clipD"><rect x="571.50" y="588.80" width="355.00" height="356.20"/></clipPath>
<g clip-path="url(#clipD)">
<rect x="563.50" y="580.80" width="371.00" height="372.20" fill="#99ff99"/>
<g filter="url(#rgh)">
<path fill="#ffffff" d="M567.3,584.3L669.3,584.3L663.8,595.4L654.5,597.3L645.2,601.0L635.9,599.1L626.7,606.6L617.4,612.1L610.0,619.5L608.1,628.8L613.7,636.2L608.1,641.8L598.8,640.0L589.6,643.7L582.1,651.1L587.7,656.7L595.1,658.5L589.6,662.2L567.3,660.4Z"/>
<path fill="#99ff99" d="M578.4,614.0L589.6,613.1L590.5,625.1L579.4,626.0ZM591.4,630.7L606.3,629.8L607.2,639.0L598.8,638.1L592.3,641.8ZM595.1,593.6L608.1,592.6L613.7,599.1L604.4,604.7L596.1,601.0Z"/>
<path fill="#ffffff" d="M699.0,610.3L712.0,606.6L725.0,610.3L726.9,625.1L723.2,640.0L717.6,649.2L708.3,651.1L700.9,643.7L691.6,641.8L682.3,636.2L686.0,628.8L697.2,625.1L700.9,617.7ZM715.7,595.4L725.0,593.6L728.7,599.1L719.5,601.0ZM726.9,630.7L743.6,628.8L756.6,636.2L764.0,643.7L764.0,651.1L752.9,649.2L745.4,643.7L734.3,641.8L726.9,638.1ZM663.8,675.2L674.9,673.4L686.0,667.8L697.2,665.9L704.6,669.6L708.3,678.9L712.0,688.2L717.6,695.6L721.3,703.0L713.9,706.8L710.2,714.2L704.6,721.6L699.0,729.0L691.6,732.7L686.0,742.0L689.8,749.4L699.0,751.3L704.6,758.7L702.7,769.9L699.0,781.0L678.6,781.0L680.5,766.1L674.9,758.7L667.5,755.0L660.1,751.3L652.6,747.6L645.2,742.0L648.9,734.6L656.4,730.9L658.2,721.6L654.5,714.2L656.4,703.0L652.6,695.6L658.2,688.2L661.9,680.8Z"/>
<path fill="#99ff99" d="M674.9,725.3L686.0,721.6L691.6,729.0L682.3,736.5L674.9,732.7ZM697.2,691.9L708.3,693.8L712.0,703.0L700.9,701.2Z"/>
<path fill="#ffffff" d="M604.4,721.6L611.8,719.7L613.7,727.2L606.3,729.0ZM674.9,625.1L682.3,624.2L689.8,630.7L684.2,636.2L676.8,632.5ZM737.3,612.1L752.1,610.3L761.4,615.8L770.7,625.1L781.8,630.7L789.2,640.0L783.7,645.5L774.4,643.7L767.0,651.1L759.6,658.5L752.1,656.7L746.6,649.2L737.3,643.7ZM755.8,584.3L768.8,584.3L767.0,595.4L757.7,595.4ZM794.8,584.3L818.9,584.3L818.9,590.8L794.8,590.8ZM678.6,764.3L700.9,764.3L702.7,775.4L699.0,782.8L689.8,786.6L680.5,782.8L676.8,775.4ZM582.1,842.2L593.3,844.1L600.7,851.5L602.5,864.5L598.8,871.9L589.6,868.2L584.0,857.1L578.4,849.6ZM567.3,879.3L582.1,881.2L593.3,886.8L604.4,892.3L613.7,897.9L617.4,907.2L615.5,916.5L619.2,925.7L615.5,935.0L608.1,944.3L606.3,949.9L567.3,949.9Z"/>
<path fill="#99ff99" d="M589.6,896.0L598.8,901.6L608.1,910.9L613.7,916.5L610.0,918.3L600.7,910.9L591.4,901.6ZM587.7,920.2L598.8,922.0L608.1,929.4L602.5,931.3L591.4,925.7ZM578.4,935.0L589.6,936.9L595.1,942.4L582.1,943.4Z"/>
<path fill="#99cc99" d="M593.3,695.6L608.1,693.8L613.7,701.2L606.3,708.6L595.1,706.8ZM617.4,667.8L628.5,665.9L626.7,675.2L619.2,677.1ZM580.3,684.5L595.1,682.6L593.3,688.2L580.3,690.1ZM634.1,736.5L648.9,738.3L647.1,745.7L635.0,743.9ZM585.8,755.0L608.1,753.2L610.0,773.6L587.7,775.4ZM930.3,584.3L930.3,719.7L922.9,717.9L915.4,712.3L908.0,708.6L902.4,704.9L895.0,703.0L889.5,699.3L887.6,690.1L885.7,680.8L883.9,673.4L882.0,665.9L879.2,658.5L880.2,651.1L882.0,643.7L878.3,638.1L870.9,636.2L863.5,630.7L852.3,627.0L848.6,625.1L841.2,621.4L833.8,617.7L828.2,612.1L833.8,602.8L841.2,595.4L844.9,584.3Z"/>
<path fill="#99ff99" d="M913.6,610.3L921.0,612.1L921.9,619.5L915.4,618.6ZM915.4,662.2L924.7,660.4L925.6,671.5L917.3,672.4Z"/>
<path fill="#99cc99" d="M802.2,643.7L818.9,645.5L822.6,658.5L828.2,662.2L841.2,654.8L850.5,647.4L852.3,652.9L841.2,662.2L828.2,669.6L818.9,667.8L811.5,660.4L804.1,652.9ZM759.6,677.1L778.1,675.2L789.2,678.9L774.4,684.5L759.6,684.5ZM567.3,773.6L582.1,771.7L593.3,775.4L604.4,779.1L615.5,782.8L626.7,781.0L632.2,788.4L626.7,795.8L617.4,799.5L608.1,805.1L598.8,803.3L589.6,797.7L580.3,794.0L567.3,795.8ZM606.3,820.0L613.7,816.2L623.0,812.5L626.7,820.0L624.8,831.1L621.1,842.2L619.2,853.4L615.5,864.5L608.1,868.2L606.3,857.1L608.1,845.9L610.0,834.8L606.3,827.4ZM648.9,901.6L645.2,909.0L641.5,920.2L637.8,929.4L635.9,938.7L635.0,948.0L617.4,948.0L621.1,935.0L624.8,927.6L626.7,916.5L632.2,909.0L634.1,897.9L632.2,886.8L626.7,879.3L619.2,883.0Z"/>
<path fill="#ffcc99" d="M764.0,701.2L756.6,703.0L743.6,706.8L732.4,704.9L738.0,699.3L749.1,693.8L764.0,688.2ZM700.9,736.5L712.0,734.6L713.9,742.0L704.6,740.2ZM737.3,697.5L752.1,691.9L763.3,688.2L778.1,684.5L791.1,680.8L802.2,677.1L815.2,671.5L822.6,667.8L830.1,665.9L837.5,662.2L844.9,658.5L852.3,654.8L861.6,652.9L870.9,651.1L879.2,649.2L882.0,665.9L883.9,673.4L885.7,680.8L887.6,690.1L889.5,699.3L895.0,703.0L902.4,704.9L908.0,708.6L915.4,712.3L922.9,717.9L930.3,719.7L930.3,781.0L737.3,781.0ZM848.6,625.1L856.0,628.8L863.5,632.5L870.9,637.2L869.0,640.0L861.6,641.8L856.0,643.7L852.3,638.1L847.7,632.5Z"/>
<path fill="#99ff99" d="M861.6,643.7L870.9,641.8L880.2,643.7L881.1,647.4L870.9,651.1L861.6,651.1Z"/>
<path fill="#99cc99" d="M852.3,665.9L859.8,664.1L861.6,669.6L854.2,671.5ZM874.6,667.8L882.0,666.9L883.0,672.4L875.5,673.4ZM852.3,691.9L857.9,691.0L858.8,697.5L853.3,698.4ZM719.5,721.6L726.9,714.2L738.0,708.6L749.1,706.8L764.0,703.0L764.0,717.9L749.1,721.6L738.0,725.3L728.7,729.0L721.3,730.9ZM741.0,708.6L759.6,703.0L778.1,697.5L796.7,697.5L787.4,701.2L774.4,708.6L763.3,714.2L752.1,717.9L741.0,725.3Z"/>
<path fill="#ffcc99" d="M764.0,764.3L764.0,948.0L638.7,948.0L641.5,938.7L645.2,927.6L650.8,916.5L656.4,905.3L661.9,894.2L667.5,883.0L672.1,871.9L674.9,860.8L674.0,849.6L671.2,842.2L674.9,834.8L677.7,833.3L679.6,832.0L684.2,825.5L689.8,818.1L695.3,808.8L700.9,799.5L704.6,790.3L708.3,779.1L710.2,768.0ZM737.3,764.3L930.3,764.3L930.3,948.0L737.3,948.0ZM623.0,803.3L628.5,805.1L626.7,814.4L621.1,821.8L617.4,829.2L619.2,838.5L623.0,845.9L626.7,853.4L630.4,857.1L624.8,858.9L619.2,855.2L615.5,845.9L611.8,834.8L610.0,825.5L615.5,818.1L619.2,810.7ZM619.2,883.0L626.7,879.3L634.1,873.8L639.7,877.5L641.5,886.8L647.1,894.2L648.9,901.6L645.2,909.0L641.5,920.2L637.8,929.4L635.9,938.7L635.0,948.0L630.4,948.0L632.2,935.0L634.1,923.9L632.2,912.7L630.4,901.6L624.8,894.2L621.1,888.6ZM647.1,805.1L652.6,808.8L658.2,816.2L667.5,820.0L676.8,821.8L678.6,831.1L674.9,834.8L671.2,842.2L665.6,836.7L660.1,829.2L654.5,821.8L648.9,812.5Z"/>
<path fill="#99cc99" d="M672.1,845.9L678.6,849.6L677.7,864.5L674.0,877.5L672.1,871.9L674.9,860.8ZM645.2,931.3L658.2,929.4L663.8,948.0L641.5,948.0ZM857.9,877.5L867.2,871.9L869.0,875.6L861.6,881.2ZM911.7,808.8L919.1,795.8L921.0,799.5L915.4,812.5ZM919.1,940.6L930.3,935.0L930.3,948.0L917.3,948.0Z"/>
<path fill="#ff9999" d="M712.0,734.6L719.5,730.9L730.6,727.2L741.7,723.5L752.9,719.7L764.0,717.9L764.0,781.0L710.2,781.0L711.1,755.0L712.0,743.9ZM737.3,725.3L752.1,717.9L763.3,714.2L774.4,708.6L787.4,701.2L796.7,699.3L805.9,703.0L815.2,708.6L824.5,712.3L831.9,717.9L837.5,727.2L843.1,736.5L846.8,745.7L850.5,755.0L852.3,764.3L850.5,781.0L737.3,781.0ZM863.5,747.6L869.0,745.7L870.9,758.7L865.3,766.1ZM859.8,766.1L867.2,765.2L868.1,781.0L860.7,781.0ZM764.0,764.3L764.0,923.9L752.9,925.7L745.4,929.4L738.0,927.6L734.3,922.0L725.0,920.2L719.5,914.6L712.0,909.0L704.6,905.3L699.0,897.9L691.6,892.3L687.9,883.0L689.8,871.9L691.6,858.9L692.5,845.9L693.5,832.9L697.2,821.8L700.9,810.7L704.6,801.4L706.5,790.3L708.3,779.1L710.2,764.3ZM844.9,764.3L852.3,773.6L859.8,779.1L869.0,782.8L874.6,788.4L872.7,795.8L867.2,799.5L861.6,805.1L859.8,816.2L861.6,827.4L863.5,838.5L859.8,849.6L852.3,857.1L844.9,862.6L837.5,868.2L830.1,866.3L822.6,871.9L815.2,877.5L807.8,879.3L804.1,888.6L800.4,897.9L796.7,907.2L791.1,912.7L783.7,909.0L776.3,914.6L768.8,920.2L761.4,925.7L752.1,923.9L737.3,925.7L737.3,764.3ZM871.8,821.8L875.5,821.4L875.9,826.5L872.2,826.8Z"/>
<path fill="#ffcc00" d="M725.0,781.0L728.7,768.0L738.0,758.7L747.3,753.2L756.6,751.3L764.0,752.2L764.0,781.0ZM737.3,749.4L752.1,749.4L761.4,753.2L768.8,751.3L774.4,743.9L778.1,751.3L776.3,762.4L781.8,768.0L789.2,773.6L793.0,781.0L737.3,781.0ZM800.4,740.2L805.9,742.0L809.7,751.3L804.1,749.4ZM807.8,751.3L818.9,755.0L824.5,764.3L815.2,762.4L809.7,756.9ZM764.0,764.3L764.0,845.9L754.7,849.6L747.3,855.2L739.9,857.1L732.4,862.6L725.0,866.3L730.6,857.1L734.3,847.8L736.2,836.7L734.3,827.4L730.6,818.1L725.0,812.5L721.3,805.1L719.5,792.1L719.5,779.1L721.3,764.3ZM737.3,764.3L809.7,764.3L811.5,779.1L813.4,790.3L809.7,801.4L815.2,810.7L817.1,821.8L813.4,829.2L805.9,831.1L802.2,838.5L796.7,845.9L789.2,849.6L781.8,845.9L774.4,847.8L765.1,853.4L755.8,857.1L746.6,858.9L737.3,860.8ZM818.9,777.3L824.5,775.4L826.4,790.3L822.6,795.8L819.9,788.4ZM828.2,810.7L833.8,809.8L834.7,821.8L829.1,822.7Z"/>
</g>
<path fill="none" stroke="#0a0a0a" stroke-width="1.7" stroke-linejoin="round" d="M710.2,768.0L708.3,779.1L704.6,790.3L700.9,799.5L695.3,808.8L689.8,818.1L684.2,825.5L679.6,832.0L677.7,833.3"/>
<path fill="none" stroke="#0a0a0a" stroke-width="0.9" stroke-linejoin="round" d="M677.7,833.3L674.9,827.4L667.5,820.9L658.2,816.2L652.6,809.8L647.1,805.1L643.4,795.8L645.2,782.8L652.6,779.1L663.8,775.4L671.2,768.0"/>
<path fill="none" stroke="#0a0a0a" stroke-width="0.9" stroke-linejoin="round" d="M647.1,805.1L648.5,806.9L650.0,808.7L651.7,810.4L652.6,812.5L653.1,815.0L655.1,816.9L655.4,819.5L656.4,821.8L656.8,824.3L658.8,826.2L659.1,828.8L660.1,831.1L661.3,833.0L663.4,834.4L664.4,836.6L665.6,838.5L667.3,840.6L669.4,842.2L671.2,844.1L672.3,847.0L674.0,849.6"/>
<path fill="none" stroke="#0a0a0a" stroke-width="1.7" stroke-linejoin="round" d="M674.0,849.6L674.1,851.9L674.4,854.1L674.5,856.3L675.0,858.5L674.9,860.8L674.1,862.9L673.5,865.2L673.1,867.4L673.0,869.8L672.1,871.9L671.2,874.1L670.4,876.4L669.6,878.7L668.0,880.6L667.5,883.0L665.9,885.1L665.7,887.7L663.8,889.6L662.9,891.9L661.9,894.2L660.9,896.5L659.9,898.7L658.4,900.8L657.5,903.1L656.4,905.3L655.1,907.5L654.0,909.7L653.3,912.2L651.7,914.1L650.8,916.5L649.2,918.5L648.1,920.7L647.4,923.1L646.7,925.6L645.2,927.6L645.0,930.0L644.1,932.2L642.6,934.1L642.4,936.6L641.5,938.7L640.9,941.1L639.7,943.2L639.6,945.7L638.7,948.0"/>
<path fill="none" stroke="#0a0a0a" stroke-width="0.8" stroke-linejoin="round" d="M576.6,877.5L578.9,877.8L581.2,878.6L583.3,879.9L585.8,879.3L588.2,880.2L590.5,881.2L592.7,882.3L595.1,883.0L597.7,883.3L599.8,884.9L602.0,886.1L604.4,886.8L606.4,888.8L609.5,888.7L611.6,890.5L613.7,892.3L616.1,892.9L616.9,895.7L619.0,896.9L621.1,897.9"/>
<path fill="none" stroke="#0a0a0a" stroke-width="0.8" stroke-linejoin="round" d="M595.1,901.6L597.0,902.9L598.6,904.7L600.5,906.1L602.5,907.2L605.0,908.4L607.1,910.1L608.3,912.5L610.4,914.2L611.8,916.5L613.2,918.5L615.2,919.8L617.2,921.1L619.2,922.5L621.1,923.9L622.7,925.4L625.3,925.6L626.7,927.6"/>
<path fill="none" stroke="#0a0a0a" stroke-width="0.8" stroke-linejoin="round" d="M602.5,927.6L604.7,928.5L606.0,930.7L607.8,932.1L610.0,933.2L611.3,935.3L614.2,935.5L615.9,937.1L617.9,938.4L619.2,940.6L621.5,941.4L622.6,943.8L625.3,944.0L626.7,946.1"/>
<path fill="none" stroke="#0a0a0a" stroke-width="0.8" stroke-linejoin="round" d="M574.7,879.3L575.9,876.8L578.8,876.0L580.5,874.0L582.1,871.9L582.4,869.4L580.1,867.6L579.4,865.4L579.7,862.8L578.4,860.8L580.1,859.2L580.8,856.8L583.0,855.5L584.0,853.4L582.4,851.7L581.7,849.2L579.1,848.3L578.4,845.9L576.1,844.6L574.7,842.2"/>
<path fill="none" stroke="#0a0a0a" stroke-width="0.9" stroke-linejoin="round" d="M638.7,945.4L640.2,942.2L635.1,940.8L637.7,937.3L635.9,935.0L635.1,932.3L639.6,931.3L636.0,927.6L640.6,926.7L639.7,923.9L641.2,921.9L642.8,920.0L644.2,918.0L641.4,914.6L643.4,912.7L643.4,910.3L645.8,908.6L644.6,905.7L645.3,903.5L647.1,901.6L644.9,899.8L646.8,896.3L646.0,894.0L643.4,892.3L643.5,889.5L640.0,888.5L641.9,884.7L639.0,883.4L637.8,881.2L635.0,880.2L633.9,877.6L632.2,875.6L630.8,873.6L628.2,872.1L629.2,868.8L627.2,867.0L626.7,864.5L627.5,862.2L629.6,860.3L628.7,857.7L628.5,855.2L626.7,853.1L627.2,849.7L626.4,847.0L623.0,845.9L622.5,843.7L624.3,841.1L619.6,839.6L619.8,837.3L621.1,834.8L619.9,832.3L623.9,830.7L623.1,828.3L623.6,826.1L623.0,823.7L622.9,821.0L624.8,819.0L627.5,817.4L626.7,814.4L624.7,812.1L624.8,809.8L624.5,807.4L626.7,805.1L623.9,805.3L621.1,805.1L618.5,806.6L618.6,809.4L618.2,812.0L616.6,814.0L615.5,816.2L614.8,819.2L610.3,818.4L610.5,822.3L608.1,823.7L609.7,825.7L609.7,828.0L607.7,830.6L610.5,832.4L610.0,834.8L607.5,836.6L609.6,839.4L608.6,841.6L609.7,844.2L607.2,845.9L605.8,848.6L606.9,850.7L609.0,852.6L611.2,854.4L610.0,857.1L611.1,859.3L612.7,861.3L611.8,864.5L612.6,866.9L615.5,868.2L615.2,870.8L618.0,872.3L619.9,874.2L616.7,877.7L619.2,879.3L618.0,882.2L622.3,883.3L621.5,886.0L622.3,888.2L623.0,890.5L622.0,893.7L627.1,893.9L628.2,896.2L625.9,900.1L628.5,901.6L628.6,903.9L629.4,906.0L628.3,908.5L629.6,910.6L630.4,912.7L629.8,915.1L632.3,917.0L633.5,919.1L634.2,921.3L632.2,923.9L632.7,926.2L630.8,928.2L631.7,930.6L631.5,932.9L630.4,935.0L630.3,937.7L630.3,940.4L631.3,942.9L632.2,945.4"/>
<path fill="none" stroke="#0a0a0a" stroke-width="1.0" stroke-linejoin="round" d="M639.5,944.8L638.0,942.4L638.0,939.7L636.9,937.2L636.7,934.5L637.1,932.1L637.7,929.8L639.8,928.0L638.4,925.1L640.4,923.3L641.9,921.3L639.3,918.0L641.6,916.3L642.5,914.1L644.1,912.2L643.0,909.3L646.9,908.2L645.3,905.2L648.6,903.8L647.8,901.0L649.3,897.8L644.7,896.9L647.1,893.3L644.1,891.8L644.5,888.8L642.7,886.9L638.4,886.3L639.4,883.0L638.5,880.6L637.2,878.3L634.0,877.7L633.0,875.1L630.5,873.5L629.8,871.1L628.4,869.0L630.0,865.4L627.4,863.9L627.0,861.4L627.9,859.2L629.6,857.1L629.3,854.7L630.0,851.0L625.5,850.6L622.9,849.0L623.7,845.4L625.9,842.7L624.8,840.6L624.2,838.4L622.3,836.5L621.8,834.2L620.8,831.8L620.7,829.5L621.9,827.4L623.1,825.3L623.7,823.1L622.4,819.9L626.6,818.9L627.7,816.6L627.4,813.8L624.7,811.5L629.3,809.2L627.4,806.9L627.4,804.6L624.6,802.2L621.8,804.6L620.9,806.8L618.1,808.3L618.7,811.4L616.8,813.2L616.3,815.7L614.4,817.5L614.5,821.3L612.1,822.7L608.9,823.1L610.7,825.1L610.1,827.5L610.7,829.7L610.1,832.1L610.7,834.2L609.3,836.3L610.1,838.8L610.0,841.2L608.4,843.1L607.9,845.4L606.0,848.2L607.5,850.2L608.8,852.3L608.4,854.7L610.7,856.5L613.2,858.1L614.9,860.0L616.1,862.2L617.1,864.5L616.3,867.6L619.6,869.0L617.1,872.3L616.3,875.1L621.3,875.9L620.0,878.8L619.7,881.3L619.1,884.0L620.8,885.9L624.8,887.1L623.7,889.9L624.1,892.5L627.2,893.8L628.7,895.8L630.6,897.6L629.3,901.0L629.5,903.3L627.7,905.9L632.6,907.4L632.7,909.6L631.1,912.2L632.1,914.3L634.4,916.2L632.4,918.8L631.3,921.3L633.0,923.3L632.8,925.6L634.8,928.2L634.5,930.4L633.2,932.5L631.1,934.5L630.7,937.2L629.7,940.1L632.5,942.2L633.0,944.8"/>
<path fill="none" stroke="#0a0a0a" stroke-width="0.9" stroke-linejoin="round" d="M712.0,734.6L700.9,736.5L706.5,729.0L713.9,721.6L721.3,716.0L730.6,710.5L741.7,704.9L752.9,697.5L761.0,691.9"/>
<path fill="none" stroke="#0a0a0a" stroke-width="1.5" stroke-linejoin="round" d="M712.0,734.6L723.2,730.9L734.3,727.2L741.0,725.7"/>
<path fill="none" stroke="#0a0a0a" stroke-width="0.8" stroke-linejoin="round" d="M713.9,726.2L725.0,718.8L734.3,714.2L741.0,710.8"/>
<path fill="none" stroke="#0a0a0a" stroke-width="1.5" stroke-linejoin="round" d="M741.0,725.3L752.1,717.9L763.3,714.2L774.4,708.6L787.4,701.2L796.7,699.3L802.2,696.6"/>
<path fill="none" stroke="#0a0a0a" stroke-width="0.8" stroke-linejoin="round" d="M741.0,710.5L752.1,706.8L765.1,702.1L778.1,697.5L789.2,695.6L802.2,696.6"/>
<path fill="none" stroke="#0a0a0a" stroke-width="1.2" stroke-linejoin="round" d="M737.3,695.6L752.1,691.9L763.3,688.2L778.1,684.5L791.1,680.8L802.2,677.1L815.2,671.5L818.9,662.2L822.6,667.8L830.1,665.9L837.5,662.2L844.9,658.5L850.5,649.2L852.3,654.8L861.6,652.9L870.9,651.1L879.2,649.2L881.1,643.7L878.3,636.2L870.9,627.0L867.2,625.1L870.9,632.5L869.0,640.0L861.6,641.8L856.0,643.7L852.3,638.1L847.7,632.5L848.6,625.1L841.2,621.4L833.8,617.7L828.2,612.1L833.8,602.8L841.2,595.4L844.9,588.0"/>
<path fill="none" stroke="#444" stroke-width="0.6" stroke-linejoin="round" d="M571.0,660.4L608.1,657.6L643.4,655.7L648.9,662.2L656.4,665.9L660.1,680.8L671.2,686.3L712.0,710.5L708.3,721.6"/>
<path fill="none" stroke="#444" stroke-width="0.6" stroke-linejoin="round" d="M671.2,686.3L663.8,699.3L660.1,716.0L658.2,736.5L667.5,747.6L678.6,758.7L671.2,769.9L663.8,778.0"/>
<path fill="none" stroke="#444" stroke-width="0.6" stroke-linejoin="round" d="M728.7,588.0L725.0,615.8L723.2,643.7L728.7,691.9L719.5,703.0"/>
<path fill="none" stroke="#444" stroke-width="0.6" stroke-linejoin="round" d="M723.2,643.7L761.0,640.9"/>
<path fill="none" stroke="#444" stroke-width="0.6" stroke-linejoin="round" d="M741.0,601.0L778.1,597.3L815.2,593.6L818.9,588.0"/>
<path fill="none" stroke="#444" stroke-width="0.6" stroke-linejoin="round" d="M746.6,641.8L796.7,637.2L815.2,636.2L818.9,649.2L822.6,658.5"/>
<path fill="none" stroke="#444" stroke-width="0.6" stroke-linejoin="round" d="M796.7,637.2L802.2,675.2"/>
<path fill="none" stroke="#444" stroke-width="0.6" stroke-linejoin="round" d="M828.2,588.0L833.8,649.2"/>
<path fill="none" stroke="#444" stroke-width="0.6" stroke-linejoin="round" d="M571.0,794.9L634.1,790.3L645.2,864.5L671.2,862.6"/>
<path fill="none" stroke="#444" stroke-width="0.6" stroke-linejoin="round" d="M634.1,790.3L641.5,786.6L645.2,782.8"/>
<line x1="571.0" y1="599.8" x2="927.5" y2="586.6" stroke="#333" stroke-width="0.6" stroke-dasharray="18.5 18.5" stroke-dashoffset="0"/>
<line x1="571.0" y1="719.5" x2="927.5" y2="706.3" stroke="#333" stroke-width="0.6" stroke-dasharray="18.5 18.5" stroke-dashoffset="0"/>
<line x1="571.0" y1="839.2" x2="927.5" y2="826.0" stroke="#333" stroke-width="0.6" stroke-dasharray="18.5 18.5" stroke-dashoffset="0"/>
<line x1="567.1" y1="588.3" x2="593.9" y2="945.3" stroke="#333" stroke-width="0.6" stroke-dasharray="19 18" stroke-dashoffset="-7"/>
<line x1="653.9" y1="588.3" x2="680.7" y2="945.3" stroke="#333" stroke-width="0.6" stroke-dasharray="19 18" stroke-dashoffset="-7"/>
<line x1="742.0" y1="588.3" x2="768.8" y2="945.3" stroke="#333" stroke-width="0.6" stroke-dasharray="19 18" stroke-dashoffset="-7"/>
<line x1="830.1" y1="588.3" x2="856.9" y2="945.3" stroke="#333" stroke-width="0.6" stroke-dasharray="19 18" stroke-dashoffset="-7"/>
<line x1="917.5" y1="588.3" x2="944.3" y2="945.3" stroke="#333" stroke-width="0.6" stroke-dasharray="19 18" stroke-dashoffset="-7"/>
</g>
<g clip-path="url(#clipD)">
<path d="M577.7 590.2l.5-.6M586.2 590.2l.5-.6M594.7 590.3l.8-.8M603.2 590.4l1-1M611.9 590.3l.8-.7M620.6 590.2l.6-.5M629.2 590.1l.6-.5M637.8 590.1l.7-.5M646.4 590.1l.7-.5M655 590.2l.9-.5M663.3 590.3l1.4-.8M671.5 590.4l2.2-1M680.1 590.4l2.3-1M688.6 590.3l2.4-.9M697.2 590.3l2.4-.8M705.8 590.2l2.4-.7M714.5 590.2l2.3-.5M723.2 590.1l2.2-.4M731.7 590.1l2.4-.3M740.2 590l2.5-.2M748.9 590l2.4-.1M757.9 589.9l1.6 0M766.4 589.9l1.8 0M774.7 589.8l2.4 .1M783.3 589.8l2.5 .2M792 589.8l2.3 .3M800.8 589.7l2 .3M809.4 589.7l2 .4M817.9 589.7l2.2 .5M826.4 589.6l2.4 .6M834.9 589.5l2.6 .8M843.3 589.1l3 1.7M851.8 588.8l3.1 2.2M860.5 588.8l3.1 2.3M869.1 588.7l3.1 2.3M877.7 588.7l3 2.4M886.4 588.7l3 2.4M895 588.7l3 2.5M903.6 588.7l2.9 2.5M912.2 588.6l2.9 2.5M920.9 588.6l2.9 2.6M577.7 598.8l.5-.6M586.2 598.8l.5-.6M594.7 599l.9-1M603.1 599.2l1.3-1.3M611.9 599l1-.9M620.6 598.8l.7-.6M629.1 598.9l.9-.7M637.6 598.9l1.1-.8M646.2 598.9l1.3-.8M654.6 599l1.6-.9M663 599l1.9-1M671.5 599.1l2.2-1.1M680.1 599l2.3-1M688.6 599l2.4-.9M697.2 598.9l2.4-.7M705.9 598.8l2.4-.6M714.6 598.7l2.1-.5M723.3 598.7l2-.3M731.7 598.7l2.4-.3M740.2 598.6l2.5-.2M748.9 598.6l2.5-.1M757.6 598.5l2.2 0M766.2 598.5l2.3 .1M774.7 598.4l2.5 .2M783.3 598.4l2.5 .3M791.9 598.3l2.5 .3M800.6 598.3l2.4 .4M809.2 598.3l2.4 .5M817.8 598.2l2.4 .6M826.3 598.2l2.5 .7M834.8 597.9l2.8 1.2M843.3 597.5l3.1 2M851.9 597.4l3.1 2.3M860.5 597.4l3.1 2.3M869.1 597.3l3 2.4M877.8 597.3l3 2.4M886.4 597.3l2.9 2.5M895 597.3l2.9 2.5M903.6 597.2l2.9 2.5M912.3 597.2l2.8 2.6M920.9 597.2l2.8 2.6M577.6 607.5l.5-.7M586.2 607.5l.6-.7M594.8 607.5l.6-.7M603.3 607.6l.8-.8M612 607.5l.8-.7M620.5 607.6l1-.9M628.8 607.8l1.5-1.2M637.2 607.8l1.9-1.4M645.8 607.8l2-1.3M654.3 607.8l2.1-1.3M662.9 607.7l2.2-1.2M671.5 607.7l2.3-1.1M680.1 607.6l2.3-1M688.7 607.6l2.4-.8M697.4 607.5l2.2-.7M706.2 607.4l1.8-.4M714.8 607.3l1.7-.3M723.3 607.3l2-.3M731.7 607.3l2.4-.3M740.4 607.2l2.2-.2M749 607.2l2.2-.1M757.5 607.1l2.3 0M766.1 607.1l2.5 .1M774.7 607l2.5 .2M783.3 607l2.5 .3M791.9 606.9l2.5 .4M800.5 606.9l2.5 .5M809.1 606.9l2.5 .6M817.8 606.8l2.4 .6M826.3 606.7l2.7 1M834.7 606.2l3.1 1.8M843.3 606l3.1 2.2M851.9 606l3.1 2.3M860.5 606l3 2.4M869.1 605.9l3 2.4M877.8 605.9l2.9 2.5M886.4 605.9l2.9 2.5M895 605.9l2.9 2.6M903.7 605.8l2.8 2.6M912.3 605.9l2.7 2.6M921 605.8l2.7 2.6M577.5 616.3l.7-1M586 616.4l1-1.3M594.8 616.1l.6-.8M603.4 616.1l.6-.7M611.8 616.3l1-1M620.2 616.5l1.6-1.5M628.6 616.6l1.9-1.6M637.2 616.5l2-1.5M645.7 616.5l2.1-1.4M654.3 616.4l2.1-1.3M662.9 616.4l2.2-1.2M671.5 616.3l2.3-1.1M680.1 616.2l2.3-.9M688.7 616.2l2.3-.8M697.5 616l1.8-.5M706.6 615.9l1-.2M715.2 615.8l.9-.2M723.5 615.9l1.5-.2M731.8 615.9l2.1-.2M740.8 615.8l1.4-.1M749.5 615.8l1.1 0M757.9 615.7l1.5 .1M766.2 615.7l2.2 .2M774.7 615.6l2.5 .3M783.3 615.6l2.5 .4M791.9 615.5l2.5 .5M800.5 615.5l2.5 .5M809.2 615.4l2.4 .6M817.8 615.4l2.4 .7M826.3 615.3l2.6 1M834.7 614.9l3 1.7M843.3 614.7l3 2.2M851.9 614.6l3 2.4M860.5 614.5l3 2.4M869.2 614.5l2.9 2.5M877.8 614.5l2.9 2.5M886.4 614.5l2.9 2.6M895.1 614.5l2.8 2.6M903.7 614.4l2.8 2.6M912.4 614.5l2.5 2.5M921 614.5l2.5 2.5M577.6 624.9l.7-1M586.1 625l.9-1.2M594.8 624.8l.7-.9M603.3 624.8l.8-.9M611.7 625.1l1.4-1.4M620.1 625.2l1.8-1.7M628.6 625.2l1.9-1.6M637.2 625.2l2-1.5M645.7 625.1l2.1-1.4M654.3 625l2.1-1.3M662.9 625l2.2-1.2M671.6 624.9l2.1-1M680.4 624.7l1.7-.7M688.9 624.7l1.8-.6M697.8 624.6l1.3-.4M706.6 624.5l.8-.2M715.3 624.5l.8-.1M723.6 624.5l1.3-.2M732 624.5l1.8-.1M740.9 624.4l1.1 0M749.7 624.4l.8 0M758.3 624.4l.9 .1M766.7 624.3l1.3 .1M775 624.2l2 .3M783.4 624.2l2.4 .4M791.9 624.1l2.5 .5M800.5 624.1l2.4 .6M809.2 624l2.4 .7M817.8 624l2.4 .8M826.4 624l2.4 .9M834.9 623.8l2.5 1.1M843.4 623.6l2.9 1.6M851.8 623.2l3.2 2.4M860.5 623.1l3 2.5M869.2 623.1l2.9 2.5M877.8 623.1l2.8 2.6M886.5 623.1l2.8 2.6M895.1 623l2.8 2.7M903.7 623l2.7 2.7M912.4 623l2.7 2.7M921 623l2.6 2.7M577.7 633.4l.5-.7M586.2 633.5l.6-.9M594.6 633.7l1-1.4M603.2 633.7l1.2-1.4M611.7 633.7l1.4-1.5M620.1 633.9l1.8-1.7M628.6 633.8l1.9-1.7M637.2 633.8l2-1.6M645.8 633.7l2.1-1.5M654.3 633.7l2.1-1.3M662.9 633.6l2.2-1.2M671.6 633.5l2.1-1M680.5 633.3l1.5-.6M689.3 633.2l1.1-.4M698 633.1l.9-.2M706.7 633.1l.8-.2M715.2 633.1l.8-.1M723.7 633.1l1.2-.1M732.2 633l1.3-.1M741 633l.9 0M749.7 633l.8 0M758.3 633l.8 .1M766.9 632.9l.8 .1M775.4 632.9l1.1 .2M783.7 632.8l1.8 .4M792 632.7l2.4 .6M800.5 632.7l2.4 .7M809.2 632.6l2.4 .8M817.8 632.6l2.4 .8M826.4 632.6l2.4 .9M835 632.5l2.3 1M843.5 632.3l2.7 1.4M851.7 631.7l3.4 2.6M860.4 631.6l3.2 2.9M869.2 631.7l2.8 2.6M877.9 631.7l2.7 2.6M886.5 631.7l2.7 2.7M895.1 631.6l2.7 2.7M903.7 631.6l2.7 2.8M912.4 631.6l2.6 2.8M921 631.6l2.6 2.8M577.7 642l.4-.7M586.2 642.1l.7-1M594.5 642.5l1.2-1.7M603.1 642.5l1.3-1.7M611.6 642.5l1.5-1.7M620.1 642.5l1.7-1.8M628.6 642.5l1.9-1.7M637.2 642.4l1.9-1.6M645.8 642.4l2-1.5M654.3 642.3l2.1-1.4M662.9 642.2l2.2-1.2M671.5 642.2l2.2-1.1M680.2 642l2.1-.9M689 641.9l1.7-.6M697.8 641.8l1.3-.4M706.6 641.7l1-.2M715.1 641.7l1-.2M723.4 641.7l1.7-.2M732 641.7l1.7-.1M740.9 641.6l1.2 0M749.7 641.6l.9 .1M758.3 641.6l.8 .1M766.9 641.6l.9 .1M775.3 641.5l1.2 .2M783.7 641.4l1.6 .4M792 641.3l2.3 .6M800.5 641.2l2.6 .8M809 641.2l2.7 .9M817.7 641.1l2.5 1M826.4 641.1l2.3 1M835 641.1l2.3 1M843.6 640.9l2.3 1.4M852.1 640.5l2.7 2.2M860.6 640.3l2.8 2.6M869.5 640.5l2.3 2.2M878.1 640.5l2.4 2.3M886.5 640.3l2.6 2.7M895.1 640.2l2.7 2.8M903.8 640.2l2.6 2.8M912.4 640.2l2.6 2.8M921 640.2l2.6 2.9M577.7 650.6l.4-.8M586.1 651l.9-1.4M594.5 651.2l1.3-2M603 651.2l1.5-2M611.5 651.2l1.6-1.9M620.1 651.2l1.7-1.8M628.6 651.1l1.8-1.7M637.2 651.1l1.9-1.6M645.8 651l2-1.5M654.3 650.9l2.1-1.4M662.9 650.9l2.2-1.2M671.5 650.8l2.3-1.1M680.1 650.7l2.3-.9M688.7 650.6l2.3-.8M697.3 650.5l2.2-.6M706.1 650.4l1.8-.3M714.7 650.4l1.8-.2M723.1 650.3l2.3-.2M731.7 650.3l2.4 0M740.5 650.2l2.1 .1M749.4 650.2l1.3 .1M758.2 650.2l1 .1M766.5 650.1l1.5 .3M774.9 650l2.1 .5M783.4 649.9l2.3 .6M792 649.9l2.4 .7M800.4 649.8l2.7 .9M808.7 649.6l3.2 1.2M817.5 649.6l3 1.3M826.4 649.7l2.4 1.1M835 649.6l2.4 1.2M843.5 649.4l2.5 1.7M852.2 649.2l2.4 2.2M860.8 649l2.5 2.4M869.3 648.9l2.6 2.6M877.9 648.9l2.7 2.8M886.5 648.8l2.6 2.8M895.2 648.8l2.6 2.8M903.8 648.8l2.6 2.9M912.4 648.8l2.5 2.9M921.1 648.8l2.5 2.9M577.6 659.5l.6-1.2M586.1 659.6l.8-1.5M594.5 659.8l1.2-1.9M603 659.9l1.4-2M611.6 659.9l1.6-2M620.1 659.8l1.7-1.9M628.7 659.8l1.8-1.8M637.2 659.7l1.9-1.7M645.8 659.6l2-1.5M654.3 659.6l2.1-1.4M662.9 659.5l2.2-1.2M671.5 659.4l2.3-1.1M680.1 659.3l2.3-.9M688.7 659.2l2.3-.7M697.3 659.1l2.4-.6M705.8 659.1l2.4-.4M714.4 659l2.5-.3M723 658.9l2.5-.1M731.6 658.8l2.5 0M740.3 658.8l2.5 .2M749 658.7l2.2 .3M757.7 658.7l2 .3M766.2 658.6l2.3 .5M774.7 658.5l2.4 .6M783.3 658.5l2.4 .7M792 658.4l2.4 .8M800.5 658.4l2.5 1M808.9 658.2l2.9 1.2M817.4 658.1l3.2 1.5M826.1 658.1l2.9 1.5M834.6 657.9l3.1 1.9M843.1 657.5l3.4 2.7M851.8 657.2l3.3 3.2M860.3 657.1l3.4 3.4M868.9 657.1l3.4 3.6M877.7 657.2l3.1 3.4M886.5 657.4l2.6 2.9M895.2 657.4l2.5 2.9M903.8 657.4l2.5 2.9M912.5 657.4l2.4 2.8M921.2 657.5l2.2 2.7M577.4 668.5l1-2.1M586 668.5l1.1-2.1M594.5 668.5l1.2-2.1M603 668.5l1.4-2.1M611.6 668.5l1.6-2.1M620 668.6l1.9-2.3M628.6 668.5l1.9-2M637.2 668.3l1.9-1.7M645.8 668.3l2-1.6M654.4 668.2l2.1-1.4M662.9 668.1l2.1-1.2M671.6 668l2.1-1M680.3 667.8l1.8-.7M689.1 667.7l1.6-.5M697.6 667.7l1.6-.4M706 667.7l2.2-.3M714.4 667.6l2.5-.2M723 667.5l2.5-.1M731.6 667.4l2.5 .1M740.2 667.4l2.5 .2M748.9 667.3l2.5 .4M757.5 667.2l2.5 .5M766.1 667.2l2.5 .6M774.7 667.1l2.5 .7M783.3 667.1l2.4 .8M792 667l2.4 .9M800.6 667l2.4 1.1M809 666.8l2.7 1.4M817.3 666.4l3.3 2.1M825.8 666.1l3.6 2.7M834.4 665.9l3.7 3.2M843 665.7l3.6 3.5M851.7 665.7l3.4 3.5M860.3 665.7l3.4 3.6M869 665.6l3.4 3.7M877.7 665.8l3 3.4M886.6 666l2.6 3M895.2 666l2.5 2.9M903.9 666l2.4 3M912.6 666.1l2.2 2.8M921.3 666.2l1.9 2.5M577.4 677.3l1-2.3M586 677.3l1.1-2.3M594.5 677.2l1.2-2.3M603.1 677.2l1.3-2.2M611.6 677.2l1.5-2.1M620 677.2l1.8-2.3M628.6 677.1l1.8-2M637.3 677l1.8-1.7M645.8 676.9l1.9-1.6M654.4 676.8l2-1.4M663.2 676.6l1.5-.9M672 676.4l1.2-.6M680.7 676.3l1-.4M689.4 676.2l.8-.2M698 676.2l.9-.2M706.2 676.2l1.6-.2M714.5 676.2l2.4-.1M723 676.1l2.5 0M731.6 676l2.5 .2M740.2 675.9l2.5 .3M748.9 675.9l2.5 .5M757.4 675.8l2.7 .7M765.8 675.7l3 .9M774.4 675.6l3 1.1M783.1 675.5l2.9 1.2M791.7 675.4l2.8 1.5M800.2 675.1l3.1 2M808.7 674.8l3.4 2.6M817.2 674.5l3.6 3.3M825.8 674.3l3.7 3.6M834.4 674.3l3.6 3.7M843 674.2l3.5 3.8M851.7 674.2l3.4 3.8M860.3 674.2l3.4 3.8M869 674.2l3.3 3.9M877.7 674.3l3.1 3.7M886.5 674.5l2.6 3.2M895.3 674.6l2.4 3M903.9 674.6l2.4 3M912.5 674.6l2.3 3M921.2 674.6l2.2 2.9M577.4 686l.9-2.5M585.9 686.1l1.2-2.7M594.5 686l1.2-2.5M603.1 685.8l1.3-2.2M611.7 685.8l1.4-2.1M620.2 685.7l1.5-2.1M628.7 685.7l1.6-1.9M637.3 685.6l1.8-1.8M645.8 685.5l1.9-1.6M654.5 685.3l1.7-1.2M663.5 685l1-.6M672.2 684.9l.7-.4M680.8 684.9l.8-.3M689.4 684.8l.8-.2M698 684.8l.8-.2M706.4 684.8l1.3-.1M714.6 684.8l2.2-.1M723 684.7l2.5 .1M731.6 684.6l2.5 .3M740.2 684.5l2.5 .4M748.8 684.4l2.6 .7M757.2 684.2l3.1 1M765.5 683.9l3.6 1.6M774.1 683.7l3.7 2.1M782.7 683.5l3.7 2.5M791.3 683.3l3.7 2.9M799.9 683.1l3.7 3.3M808.5 683l3.7 3.5M817.2 682.9l3.6 3.7M825.8 682.8l3.6 3.7M834.5 682.8l3.5 3.8M843.1 682.8l3.4 3.9M851.7 682.8l3.3 3.9M860.4 682.7l3.3 3.9M869 682.7l3.3 4M877.7 682.7l3.2 4M886.5 683l2.7 3.5M895.3 683.2l2.3 3.1M903.9 683.2l2.3 3.1M912.6 683.2l2.3 3.1M921.2 683.2l2.2 3.1M577.5 694.6l.8-2.5M586 694.6l1-2.6M594.5 694.7l1.2-2.7M603 694.7l1.4-2.7M611.6 694.5l1.4-2.4M620.2 694.4l1.4-2.1M628.8 694.3l1.6-2M637.3 694.3l1.7-1.8M645.9 694.1l1.8-1.6M654.7 693.8l1.3-1M663.6 693.6l.8-.5M672.3 693.5l.7-.3M680.8 693.5l.7-.3M689.4 693.4l.8-.2M697.8 693.4l1.2-.2M706.3 693.4l1.5-.1M714.8 693.3l1.7 0M723.1 693.2l2.4 .2M731.6 693.1l2.6 .5M739.9 692.8l3.1 1M748.3 692.5l3.6 1.7M756.8 692.2l3.9 2.4M765.4 691.9l3.9 2.8M774 691.8l3.8 3.1M782.7 691.7l3.7 3.3M791.3 691.6l3.8 3.5M799.9 691.5l3.7 3.7M808.6 691.5l3.6 3.7M817.2 691.4l3.5 3.8M825.9 691.4l3.4 3.9M834.5 691.4l3.4 3.9M843.2 691.4l3.3 3.9M851.9 691.4l3.1 3.8M860.5 691.4l3.1 4M869.1 691.3l3.2 4.1M877.7 691.3l3.1 4.1M886.5 691.5l2.7 3.7M895.3 691.7l2.3 3.2M904 691.8l2.2 3.1M912.6 691.8l2.2 3.2M921.2 691.8l2.2 3.2M577.6 703.2l.6-2.4M586.1 703.2l.8-2.5M594.6 703.4l1.1-2.9M603 703.6l1.4-3.2M611.7 703.3l1.4-2.7M620.3 703.1l1.3-2.2M628.8 703l1.5-2M637.3 702.9l1.6-1.9M645.9 702.8l1.7-1.7M654.8 702.5l1.3-1M663.6 702.2l.7-.5M672.3 702.1l.7-.3M680.8 702.1l.7-.3M689.4 702.1l.8-.2M697.9 702l1.1-.2M706.3 702l1.4-.1M714.9 701.9l1.5 .1M723.1 701.8l2.3 .3M731.4 701.4l3 1M739.6 700.8l3.8 2.2M748.2 700.6l3.9 2.8M756.9 700.5l3.6 2.9M765.6 700.5l3.4 2.9M774.2 700.4l3.4 3.1M782.6 700.1l3.8 3.7M791.1 699.9l4.1 4.2M799.8 699.8l4 4.3M808.5 699.9l3.7 4.1M817.3 700l3.5 4M825.9 700l3.3 4M834.6 700l3.3 4M843.2 699.9l3.2 4.1M851.9 700l3.1 4M860.5 699.9l3.1 4.1M869.1 699.9l3 4.2M877.8 699.9l3 4.2M886.5 699.9l2.8 4.1M895.2 700.1l2.5 3.7M903.9 700.3l2.3 3.4M912.6 700.3l2.1 3.3M921.3 700.3l2.1 3.2M577.6 711.8l.5-2.5M586.2 711.8l.6-2.5M594.7 711.9l.8-2.6M603.2 711.9l1-2.6M611.8 711.8l1.1-2.4M620.3 711.7l1.2-2.2M628.9 711.6l1.4-2.1M637.4 711.6l1.6-2M645.9 711.5l1.7-1.8M654.7 711.1l1.3-1.1M663.6 710.8l.7-.5M672.3 710.8l.7-.4M680.8 710.7l.8-.3M689.4 710.7l.8-.2M698 710.6l.8-.1M706.5 710.6l1.2 0M714.6 710.5l2 .2M723 710.2l2.6 .7M731.4 709.8l3 1.6M739.8 709.4l3.3 2.4M748.5 709.3l3.3 2.6M757 709.1l3.3 2.9M765.5 708.9l3.6 3.4M773.9 708.6l4.1 4M782.4 708.3l4.3 4.5M791 708.2l4.3 4.8M799.7 708.2l4.2 4.8M808.4 708.2l4 4.8M817.1 708.3l3.7 4.6M825.9 708.4l3.4 4.3M834.6 708.5l3.1 4.2M843.3 708.5l3.1 4.2M851.9 708.5l3 4.2M860.6 708.5l3 4.2M869.2 708.4l2.9 4.3M877.8 708.4l2.9 4.3M886.5 708.4l2.8 4.3M895.1 708.5l2.7 4.3M903.8 708.5l2.6 4.1M912.5 708.7l2.3 3.7M921.2 708.9l2.1 3.4M577.7 720.4l.4-2.5M586.3 720.4l.5-2.5M594.8 720.4l.6-2.4M603.4 720.3l.7-2.2M612 720.2l.8-2.1M620.4 720.3l1-2.2M628.9 720.3l1.2-2.2M637.4 720.2l1.5-2.1M646 720.1l1.6-1.8M654.7 719.8l1.4-1.2M663.6 719.5l.8-.5M672.2 719.4l.8-.4M680.7 719.4l1-.3M689.3 719.3l1-.2M698 719.2l1-.1M706.2 719.2l1.7 .1M714.4 718.9l2.5 .5M722.7 718.5l3.1 1.4M731.3 718.1l3.2 2.3M739.8 717.8l3.4 2.8M748.2 717.5l3.9 3.4M756.6 717.2l4.2 4M765.1 717l4.4 4.5M773.7 716.8l4.4 4.7M782.4 716.8l4.3 4.9M791.1 716.7l4.2 5M799.7 716.7l4.1 5.1M808.4 716.6l4 5.1M817.1 716.6l3.8 5.2M825.8 716.7l3.6 5M834.6 717l3.2 4.5M843.3 717.1l2.9 4.3M852 717.1l2.9 4.3M860.6 717l2.8 4.3M869.2 717l2.8 4.4M877.9 717l2.7 4.4M886.5 717l2.7 4.4M895.1 717l2.7 4.4M903.8 717l2.6 4.4M912.4 717l2.5 4.3M921.1 717.1l2.4 4.1M577.8 729.1l.2-2.5M586.4 729.1l.3-2.5M594.9 729.1l.4-2.5M603.5 728.9l.5-2.2M612 728.8l.6-2M620.5 729l.9-2.3M629 729l1.1-2.3M637.5 728.9l1.3-2.2M646 728.8l1.5-1.9M654.8 728.4l1.2-1.2M663.6 728.1l.7-.5M672.1 728.1l1.1-.5M680.3 728.1l1.8-.6M689 727.9l1.6-.2M697.6 727.8l1.7 0M705.8 727.7l2.5 .3M714.1 727.2l3.2 1.3M722.3 726.5l3.9 2.6M730.8 726.1l4.2 3.5M739.3 725.8l4.4 4M747.8 725.6l4.5 4.5M756.5 725.5l4.4 4.7M765.2 725.4l4.3 4.9M773.8 725.3l4.2 5M782.5 725.3l4 5.1M791.2 725.2l3.9 5.2M799.8 725.2l3.8 5.2M808.5 725.2l3.8 5.3M817.1 725.1l3.7 5.4M825.8 725.1l3.6 5.4M834.6 725.3l3.3 5M843.4 725.6l2.9 4.5M852.1 725.6l2.7 4.4M860.7 725.6l2.7 4.4M869.3 725.6l2.6 4.4M877.9 725.6l2.6 4.5M886.6 725.6l2.6 4.5M895.2 725.6l2.5 4.5M903.8 725.6l2.5 4.5M912.4 725.6l2.5 4.5M921.1 725.6l2.5 4.5M577.9 737.7l0-2.5M586.5 737.7l.1-2.5M595 737.7l.2-2.5M603.6 737.7l.3-2.5M612.1 737.7l.5-2.4M620.6 737.7l.7-2.4M629.1 737.7l.9-2.4M637.5 737.7l1.3-2.6M646.1 737.4l1.3-1.9M655 736.9l.8-.9M663.7 736.7l.7-.5M672.2 736.7l.9-.4M680.5 736.6l1.4-.4M688.9 736.5l1.8-.2M697.2 736.4l2.5 .1M705.3 736l3.6 .8M713.4 735.1l4.6 2.7M721.9 734.5l4.8 4M730.5 734.2l4.7 4.4M739.2 734.1l4.5 4.7M747.9 734l4.3 4.8M756.6 733.9l4.2 5M765.3 733.9l4 5.1M774 733.8l3.9 5.2M782.6 733.8l3.8 5.3M791.3 733.8l3.7 5.4M799.9 733.7l3.6 5.5M808.6 733.7l3.5 5.5M817.3 733.7l3.5 5.5M825.9 733.7l3.4 5.5M834.6 733.7l3.3 5.4M843.4 734l2.9 4.9M852.1 734.2l2.6 4.5M860.8 734.2l2.5 4.5M869.4 734.2l2.5 4.5M878 734.2l2.5 4.5M886.6 734.2l2.4 4.6M895.3 734.2l2.4 4.6M903.9 734.2l2.4 4.6M912.5 734.1l2.4 4.6M921.1 734.1l2.3 4.6M578 746.3l-.2-2.5M586.6 746.3l-.1-2.5M595.1 746.3l0-2.6M603.7 746.3l.1-2.6M612.2 746.3l.3-2.5M620.7 746.3l.4-2.5M629.2 746.3l.7-2.5M637.7 746.4l1-2.7M646.2 746.1l1.2-2.2M655 745.6l.8-1.1M663.6 745.4l.7-.6M672.2 745.2l.7-.4M680.8 745.2l.9-.2M689 745.1l1.7-.1M697.3 744.9l2.4 .4M705.4 744.5l3.3 1.2M713.4 743.3l4.6 3.4M722 742.8l4.6 4.5M730.7 742.6l4.4 4.8M739.3 742.5l4.3 5.1M748 742.4l4.1 5.3M756.7 742.4l3.9 5.4M765.4 742.3l3.8 5.5M774 742.2l3.8 5.7M782.8 742.3l3.5 5.5M791.4 742.3l3.4 5.5M800 742.2l3.5 5.8M808.7 742.1l3.4 5.8M817.4 742.2l3.2 5.7M826 742.2l3.2 5.7M834.7 742.2l3.1 5.7M843.4 742.4l2.8 5.3M852.2 742.7l2.5 4.7M860.8 742.7l2.5 4.7M869.4 742.7l2.4 4.8M878.1 742.7l2.3 4.6M886.7 742.7l2.3 4.6M895.3 742.7l2.3 4.6M903.9 742.7l2.3 4.6M912.6 742.7l2.2 4.7M921.2 742.7l2.2 4.7M578.1 754.9l-.4-2.5M586.7 755.1l-.3-2.8M595.3 755.2l-.3-3.1M603.8 755.2l-.2-3.1M612.3 755l0-2.7M620.9 754.9l.1-2.5M629.4 754.9l.3-2.5M637.9 754.9l.6-2.5M646.3 754.8l.9-2.3M654.8 754.6l1.1-1.9M663.4 754.3l1.2-1.2M672.1 753.9l1-.5M680.8 753.8l.9-.2M689.3 753.6l1 .1M697.7 753.5l1.5 .4M705.7 753l2.8 1.5M713.6 751.7l4.2 4M722.2 751.2l4.2 5M730.8 751l4.1 5.3M739.4 750.7l4.3 6M748 750.6l4.2 6.3M756.7 750.5l4 6.3M765.4 750.5l3.9 6.4M774.1 750.5l3.7 6.3M782.9 750.8l3.3 5.8M791.6 750.8l3.1 5.7M800.2 750.7l3.1 5.9M808.8 750.6l3.2 6.2M817.4 750.6l3.1 6.1M826.1 750.8l2.9 5.8M834.8 750.8l2.9 5.8M843.4 750.9l2.7 5.6M852.2 751.2l2.4 5M860.8 751.2l2.4 5M869.4 751.1l2.4 5.1M878.2 751.3l2.2 4.7M886.8 751.3l2.2 4.7M895.4 751.3l2.1 4.7M904 751.3l2.1 4.7M912.6 751.3l2.1 4.7M921.2 751.3l2.1 4.7M578.2 763.6l-.6-2.5M586.9 763.9l-.7-3.1M595.5 764.1l-.7-3.7M604 764.1l-.6-3.6M612.5 763.7l-.4-2.8M621.1 763.6l-.2-2.5M629.6 763.6l0-2.5M638.1 763.6l.2-2.5M646.5 763.5l.5-2.5M654.9 763.5l.9-2.3M663.3 763.3l1.5-1.9M671.7 762.8l1.7-1M680.7 762.3l1.1-.1M689.4 762.2l.8 .2M698 762.1l1 .5M705.8 761.3l2.5 1.9M713.8 760l3.8 4.6M722.3 759.4l3.9 5.7M731 759.2l3.8 6.1M739.5 759l3.9 6.6M748.2 758.9l3.8 6.8M756.9 758.9l3.7 6.9M765.5 758.8l3.6 6.9M774.2 758.9l3.4 6.7M783 759.1l3.1 6.4M791.6 759.1l3 6.3M800.3 759.1l3 6.4M808.9 759.1l3 6.4M817.5 759.1l2.9 6.3M826.2 759.3l2.7 6M834.9 759.3l2.6 5.9M843.5 759.4l2.6 5.8M852.3 759.7l2.3 5.2M860.9 759.7l2.2 5.2M869.6 759.8l2.2 5.1M878.2 759.9l2 4.8M886.9 759.9l2 4.8M895.5 759.9l2 4.8M904.1 759.9l2 4.8M912.7 759.9l2 4.8M921.3 759.9l2 4.8M578.4 772.4l-1-2.9M587 772.6l-1.1-3.3M595.7 772.7l-1.1-3.5M604.2 772.6l-1-3.3M612.7 772.3l-.7-2.7M621.2 772.2l-.6-2.5M629.8 772.2l-.5-2.5M638.3 772.2l-.3-2.5M646.8 772.2l-.1-2.5M655.3 772.2l.3-2.5M663.5 772.1l1-2.3M671.7 771.5l1.9-1.2M680.6 770.8l1.2 .2M689.5 770.7l.7 .4M698 770.5l.9 .8M705.9 769.6l2.4 2.7M714 768.2l3.2 5.5M722.6 767.6l3.4 6.7M731.2 767.4l3.4 7M739.8 767.4l3.3 7.1M748.5 767.4l3.2 7.1M757.1 767.3l3.2 7.2M765.8 767.3l3.1 7.2M774.4 767.3l3 7.2M783 767.4l3 7.1M791.7 767.4l2.9 7.1M800.3 767.4l2.9 7.1M809 767.6l2.7 6.7M817.7 767.8l2.5 6.2M826.4 767.9l2.4 6.1M835 767.9l2.4 6M843.6 767.9l2.4 6M852.3 768.2l2.2 5.5M861 768.2l2.2 5.5M869.6 768.4l2 5.1M878.3 768.5l1.9 4.8M886.9 768.5l1.9 4.8M895.5 768.5l1.9 4.8M904.2 768.5l1.9 4.8M912.8 768.5l1.8 4.8M921.4 768.5l1.8 4.8M578.6 781.3l-1.5-3.4M587.3 781.3l-1.5-3.5M595.9 781.2l-1.5-3.4M604.4 781.1l-1.3-3.1M612.9 780.9l-1.2-2.8M621.5 780.9l-1.1-2.7M630.1 780.8l-1-2.5M638.6 780.7l-.9-2.4M647.2 780.7l-.9-2.4M655.8 780.7l-.8-2.4M664.2 780.8l-.5-2.5M671.9 780.5l1.3-1.9M680.7 779l1 1.1M689.5 779.1l.6 .9M698 778.9l.8 1.4M706.1 777.6l1.9 3.8M714.5 776.5l2.3 6.2M723 776l2.5 7.2M731.6 775.9l2.6 7.4M740.2 775.9l2.6 7.4M748.8 775.8l2.6 7.4M757.4 775.8l2.6 7.4M766 775.8l2.6 7.4M774.6 775.8l2.6 7.4M783.3 775.8l2.6 7.4M791.9 775.8l2.6 7.4M800.5 775.9l2.6 7.4M809.2 776.1l2.4 7M817.8 776.2l2.3 6.6M826.5 776.3l2.2 6.4M835.1 776.5l2.1 6.1M843.7 776.5l2.1 6.1M852.4 776.6l2.1 6M861 776.6l2.1 5.9M869.7 776.9l1.9 5.3M878.4 777.1l1.7 4.9M887 777.1l1.7 4.9M895.6 777.1l1.7 4.9M904.2 777.1l1.7 4.9M912.8 777.1l1.7 4.9M921.4 777.1l1.7 4.9M578.8 789.8l-1.8-3.3M587.4 789.8l-1.8-3.3M596.1 789.8l-1.9-3.3M604.7 789.8l-1.9-3.3M613.3 789.8l-1.9-3.2M621.9 789.7l-1.9-3.1M630.4 789.5l-1.7-2.6M638.9 789.2l-1.5-2.1M647.6 789.2l-1.5-2M656.3 789.1l-1.7-1.8M665.1 788.9l-2.1-1.4M673.8 787.9l-2.4 .5M681.5 787.1l-.6 2.2M689.8 787.1l.1 2M698.2 786.9l.5 2.5M706.6 785.7l.9 4.9M715 784.9l1.2 6.6M723.5 784.4l1.5 7.5M732 784.3l1.7 7.6M740.6 784.4l1.8 7.6M749.2 784.4l1.9 7.6M757.7 784.4l2 7.6M766.3 784.4l2 7.6M774.9 784.4l2.1 7.5M783.5 784.4l2.1 7.5M792.1 784.4l2.1 7.5M800.7 784.4l2.2 7.5M809.3 784.6l2.1 7.1M818 784.8l2 6.8M826.6 784.9l2 6.6M835.3 785l1.9 6.2M843.9 785.1l1.9 6.2M852.5 785.1l1.9 6.2M861.1 785.1l1.9 6.1M869.8 785.3l1.8 5.7M878.5 785.6l1.6 5.1M887.1 785.7l1.5 4.9M895.7 785.7l1.6 4.9M904.3 785.7l1.6 4.9M912.9 785.7l1.6 4.9M921.5 785.7l1.6 4.9M578.7 798l-1.7-2.5M587.4 798.1l-1.8-2.6M596.2 798.2l-2.1-2.9M604.8 798.3l-2.2-3M613.5 798.2l-2.3-2.9M622.1 798.1l-2.2-2.6M630.6 797.8l-2-2.1M639.1 797.6l-1.9-1.7M647.8 797.5l-2-1.5M656.5 797.3l-2.3-1.1M665.2 797l-2.5-.4M673.8 796.4l-2.4 .8M682 795.8l-1.6 1.9M690.2 795.6l-.8 2.4M698.6 795.1l-.4 3.3M707.2 794l-.2 5.7M715.6 793.4l.1 6.7M724 793l.5 7.5M732.5 792.9l.8 7.8M741 792.9l1 7.7M749.5 792.9l1.2 7.7M758 792.9l1.3 7.7M766.6 792.9l1.4 7.7M775.2 792.9l1.5 7.7M783.7 793l1.6 7.6M792.3 793l1.7 7.6M800.9 793l1.7 7.6M809.5 793.2l1.7 7.1M818.2 793.5l1.6 6.5M826.8 793.6l1.6 6.4M835.4 793.6l1.6 6.3M844 793.6l1.6 6.3M852.6 793.6l1.7 6.3M861.2 793.7l1.6 6.1M869.9 794l1.5 5.6M878.6 794.2l1.4 5.1M887.2 794.3l1.4 5M895.8 794.3l1.4 5M904.4 794.3l1.4 5M913 794.4l1.4 4.8M921.6 794.4l1.4 4.8M578.7 806.4l-1.6-2M587.3 806.4l-1.7-2M596 806.4l-1.8-2.1M604.8 806.5l-2.1-2.2M613.4 806.5l-2.2-2.1M622.3 806.5l-2.6-2.3M630.8 806.3l-2.5-1.9M639.3 806.1l-2.2-1.4M648.1 806l-2.6-1.2M656.8 805.7l-2.8-.7M665.3 805.4l-2.6 .1M673.8 804.9l-2.3 .9M682.2 804.6l-1.9 1.7M690.6 804.2l-1.5 2.4M699.2 803.4l-1.5 4.1M707.7 802.4l-1.4 6M716.1 802.1l-.9 6.6M724.5 801.7l-.4 7.4M732.9 801.5l-.1 7.8M741.4 801.5l.3 7.8M749.8 801.5l.5 7.8M758.4 801.5l.7 7.8M766.9 801.5l.9 7.8M775.4 801.5l1 7.8M784 801.5l1.1 7.7M792.5 801.5l1.2 7.7M801.1 801.6l1.3 7.7M809.7 801.8l1.3 7.3M818.3 802.1l1.3 6.6M826.9 802.2l1.3 6.5M835.5 802.2l1.4 6.4M844.1 802.2l1.4 6.3M852.7 802.3l1.4 6.3M861.4 802.5l1.3 5.8M870 802.8l1.2 5.2M878.6 802.9l1.2 5M887.2 802.9l1.2 5M895.8 802.9l1.2 5M904.5 802.9l1.3 5M913.1 803.1l1.2 4.7M921.7 803l1.2 4.8M578.8 814.9l-1.7-1.8M587.4 814.9l-1.8-1.8M596 814.9l-1.9-1.7M604.7 814.9l-2-1.7M613.6 815l-2.6-2M622.7 815.2l-3.4-2.3M631 814.8l-2.8-1.6M639.4 814.5l-2.4-1M648.3 814.4l-3-.8M657.2 814.2l-3.7-.3M665.5 813.8l-3.1 .4M673.9 813.5l-2.5 1M682.3 813.2l-2.1 1.6M690.9 812.7l-2.2 2.7M699.7 811.7l-2.6 4.7M708.2 811l-2.3 6M716.5 810.9l-1.7 6.3M724.9 810.6l-1.2 6.8M733.3 810.2l-.9 7.6M741.7 810.1l-.5 7.8M750.2 810.1l-.2 7.8M758.7 810.1l.1 7.8M767.2 810.1l.3 7.8M775.7 810.1l.5 7.8M784.2 810.1l.7 7.8M792.7 810.1l.8 7.8M801.3 810.1l.9 7.8M809.9 810.2l1 7.6M818.5 810.6l1 6.8M827.1 810.6l1.1 6.8M835.6 810.7l1.1 6.7M844.2 810.8l1.1 6.4M852.8 810.9l1.2 6.3M861.5 811.2l1.1 5.6M870.1 811.5l1 5.1M878.7 811.5l1 5.1M887.3 811.5l1.1 5.1M895.9 811.5l1.1 5.1M904.5 811.5l1.1 5M913.1 811.6l1.1 4.9M921.7 811.5l1.1 5M578.8 823.5l-1.9-1.7M587.5 823.5l-1.9-1.6M596.1 823.4l-2-1.6M604.9 823.5l-2.4-1.7M614.1 823.7l-3.5-2.2M622.8 823.6l-3.8-2M630.9 823.2l-2.7-1.1M639.4 823l-2.4-.7M648.1 822.8l-2.7-.4M657.3 822.6l-3.7 0M666.2 822.2l-4.3 .9M674.4 821.9l-3.7 1.5M682.6 821.7l-2.8 2M691.4 821l-3.2 3.2M700.2 820.2l-3.5 4.8M708.5 819.8l-3 5.7M716.8 819.6l-2.3 6.1M725.2 819.5l-1.8 6.4M733.6 819.1l-1.5 7.1M742.1 818.8l-1.1 7.7M750.5 818.8l-.8 7.8M758.9 818.7l-.5 7.8M767.4 818.7l-.2 7.8M775.9 818.7l0 7.8M784.4 818.7l.2 7.8M793 818.7l.4 7.8M801.5 818.8l.5 7.8M810.1 818.9l.6 7.6M818.6 819.2l.7 6.9M827.2 819.3l.7 6.7M835.8 819.3l.8 6.6M844.4 819.4l.9 6.4M853 819.5l.9 6.4M861.6 819.8l.9 5.7M870.2 820l.9 5.3M878.8 820l.9 5.2M887.4 820.1l.9 5.1M896 820.1l.9 5.1M904.6 820.1l1 5.1M913.2 820.1l1 5.1M921.8 820.1l1 5.1M578.9 832l-2-1.5M587.5 832l-2-1.5M596.2 831.9l-2.1-1.4M605 832l-2.5-1.5M614.2 832.2l-3.8-1.9M622.8 832l-3.7-1.5M630.9 831.7l-2.6-.8M639.4 831.5l-2.5-.5M648 831.3l-2.5-.2M656.9 831.1l-2.9 .2M666.1 830.8l-4.1 1M674.8 830.3l-4.5 1.9M683.2 830l-4 2.4M691.8 829.5l-4 3.5M700.5 828.9l-4 4.7M708.8 828.5l-3.5 5.5M717.1 828.3l-2.9 5.8M725.4 828.2l-2.3 6.1M733.9 827.9l-2 6.7M742.4 827.5l-1.7 7.5M750.8 827.4l-1.4 7.7M759.2 827.4l-1 7.8M767.7 827.4l-.7 7.8M776.2 827.4l-.5 7.8M784.7 827.4l-.2 7.8M793.2 827.4l-.1 7.8M801.7 827.5l.1 7.6M810.2 827.7l.2 7M818.8 828l.3 6.6M827.4 828l.4 6.5M835.9 828l.5 6.5M844.5 828l.6 6.5M853.1 828.1l.7 6.4M861.7 828.4l.7 5.8M870.3 828.6l.7 5.3M878.9 828.7l.7 5.2M887.5 828.7l.7 5.1M896.1 828.7l.8 5.1M904.7 828.7l.8 5.1M913.3 828.7l.8 5.1M921.9 828.7l.9 5.1M578.9 840.5l-1.9-1.3M587.4 840.4l-1.8-1.1M596.1 840.4l-2-1.1M605 840.5l-2.5-1.2M614.2 840.6l-3.7-1.5M622.8 840.5l-3.7-1.2M630.9 840.2l-2.6-.6M639.4 840l-2.5-.3M648 839.9l-2.5 0M656.7 839.7l-2.5 .3M665.5 839.5l-3.1 .8M674.7 839.1l-4.2 1.7M683.4 838.6l-4.4 2.5M692 838.2l-4.4 3.4M700.6 837.6l-4.4 4.5M709 837.3l-3.9 5.2M717.3 837.1l-3.3 5.6M725.7 836.9l-2.8 5.9M734.1 836.6l-2.5 6.5M742.6 836.2l-2.3 7.3M751 836.1l-1.9 7.6M759.5 836l-1.5 7.7M767.9 836l-1.2 7.7M776.4 836l-.9 7.7M784.9 836l-.7 7.7M793.4 836.1l-.4 7.6M801.9 836.3l-.2 7.1M810.4 836.6l-.1 6.6M819 836.6l0 6.5M827.5 836.6l.2 6.5M836.1 836.6l.3 6.5M844.6 836.6l.4 6.5M853.2 836.7l.4 6.4M861.8 837l.5 5.8M870.4 837.3l.5 5.2M879 837.3l.5 5.1M887.6 837.3l.6 5.1M896.2 837.3l.6 5.1M904.8 837.3l.7 5.1M913.3 837.3l.7 5.1M921.9 837.3l.7 5.1M578.8 849l-1.7-1M587 848.8l-1.1-.6M595.8 848.8l-1.3-.6M604.9 849l-2.4-.9M614.2 849.1l-3.7-1.2M623 849l-4-1M631 848.7l-2.9-.4M639.4 848.6l-2.5-.1M648 848.4l-2.5 .1M656.6 848.3l-2.5 .4M665.3 848.1l-2.5 .7M674.3 847.8l-3.4 1.4M683.4 847.3l-4.3 2.3M692.1 846.9l-4.5 3.3M700.7 846.3l-4.6 4.4M709.1 846l-4.2 5M717.5 845.8l-3.7 5.4M725.9 845.6l-3.2 5.7M734.4 845.3l-3 6.4M742.9 844.9l-2.7 7.2M751.3 844.8l-2.3 7.4M759.7 844.8l-1.9 7.5M768.1 844.9l-1.6 7.3M776.5 845l-1.2 7M785 845l-1 7M793.5 845l-.8 7M802 845.2l-.5 6.6M810.6 845.3l-.4 6.5M819.1 845.3l-.2 6.5M827.6 845.3l-.1 6.5M836.2 845.3l0 6.5M844.8 845.3l.1 6.5M853.3 845.4l.2 6.3M861.9 845.7l.3 5.6M870.5 845.9l.3 5.2M879.1 845.9l.4 5.2M887.7 845.9l.4 5.2M896.2 845.9l.5 5.1M904.8 845.9l.5 5.1M913.4 845.9l.5 5.1M922 845.9l.6 5.1M578.9 857.6l-2-1M587.1 857.4l-1.2-.5M595.6 857.3l-1-.4M604.8 857.5l-2.2-.7M614.1 857.6l-3.5-.9M622.8 857.4l-3.6-.7M631.1 857.3l-3-.3M639.4 857.1l-2.6 0M648 857l-2.5 .2M656.6 856.9l-2.5 .5M665.2 856.7l-2.4 .8M674.1 856.5l-3 1.3M683.3 856l-4.2 2.2M692.1 855.5l-4.6 3.2M700.8 855l-4.8 4.2M709.3 854.7l-4.4 4.8M717.6 854.5l-3.9 5.2M726 854.3l-3.5 5.6M734.6 853.9l-3.4 6.4M743 853.7l-3 6.8M751.4 853.7l-2.6 6.8M759.8 853.8l-2.2 6.7M768.2 853.9l-1.8 6.5M776.7 853.9l-1.5 6.4M785.2 853.9l-1.2 6.4M793.7 853.9l-1 6.5M802.2 853.9l-.8 6.4M810.7 853.9l-.7 6.5M819.2 853.9l-.5 6.5M827.8 853.9l-.4 6.5M836.3 853.9l-.2 6.4M844.9 854l-.1 6.2M853.4 854.2l0 5.7M862 854.5l.1 5.3M870.6 854.5l.1 5.2M879.2 854.5l.2 5.2M887.7 854.5l.3 5.2M896.3 854.5l.3 5.2M904.9 854.5l.4 5.2M913.5 854.5l.4 5.2M922.1 854.5l.5 5.1M579 866.2l-2.2-1M587.4 866.1l-1.8-.7M595.8 865.9l-1.3-.4M604.8 866l-2.1-.6M613.8 866l-2.9-.6M622.3 865.9l-2.7-.4M630.9 865.8l-2.6-.1M639.5 865.7l-2.6 .1M648 865.6l-2.5 .3M656.6 865.5l-2.5 .5M665.2 865.3l-2.5 .8M674.2 865.1l-3.1 1.3M683.4 864.6l-4.3 2.2M692.2 864.2l-4.8 3.2M700.9 863.7l-5 4.1M709.3 863.4l-4.6 4.6M717.7 863.2l-4.2 5M726.2 863l-3.8 5.4M734.6 862.8l-3.5 5.8M743 862.8l-3 5.9M751.4 862.7l-2.7 6M759.9 862.7l-2.3 6.1M768.3 862.6l-2 6.2M776.8 862.6l-1.7 6.3M785.3 862.6l-1.5 6.3M793.8 862.6l-1.3 6.4M802.3 862.5l-1.1 6.4M810.8 862.5l-.9 6.4M819.4 862.6l-.8 6.4M827.9 862.7l-.6 6.1M836.4 862.8l-.4 5.9M845 863l-.3 5.6M853.5 863.1l-.2 5.3M862.1 863.2l-.1 5.1M870.7 863.2l0 5.1M879.2 863.2l0 5.2M887.8 863.2l.1 5.2M896.4 863.2l.2 5.2M905 863.2l.2 5.2M913.6 863.2l.3 5.2M922.1 863.2l.3 5.2M579 874.8l-2.2-.8M587.6 874.7l-2.2-.7M596.2 874.7l-2.1-.6M604.9 874.6l-2.4-.5M613.6 874.6l-2.5-.4M622.3 874.5l-2.7-.2M631.2 874.4l-3.3 0M639.8 874.3l-3.3 .2M648.1 874.2l-2.6 .4M656.6 874.1l-2.5 .6M665.3 873.9l-2.7 .9M674.5 873.6l-3.7 1.5M683.5 873.2l-4.6 2.3M692.3 872.8l-5 3.2M701 872.4l-5.1 4M709.4 872.1l-4.7 4.4M717.8 871.9l-4.3 4.8M726.2 871.8l-4 5.2M734.7 871.6l-3.6 5.4M743.1 871.5l-3.2 5.6M751.5 871.5l-2.9 5.8M760 871.4l-2.6 6M768.5 871.3l-2.3 6.1M776.9 871.3l-2 6.2M785.4 871.2l-1.8 6.2M793.9 871.2l-1.6 6.3M802.4 871.2l-1.4 6.3M810.9 871.3l-1.1 6.1M819.4 871.5l-.9 5.8M827.9 871.7l-.7 5.4M836.5 871.7l-.6 5.2M845 871.8l-.5 5.2M853.6 871.8l-.4 5.1M862.2 871.9l-.3 4.9M870.7 871.9l-.2 5M879.3 871.8l-.1 5.2M887.9 871.8l-.1 5.2M896.5 871.8l0 5.2M905 871.8l.1 5.2M913.6 871.8l.1 5.2M922.2 871.8l.2 5.2M578.5 883.2l-1.3-.4M587.3 883.2l-1.6-.5M596.2 883.2l-2.1-.5M604.9 883.2l-2.4-.4M613.6 883.1l-2.6-.3M622.7 883.1l-3.5-.2M631.9 882.9l-4.7 .1M640.3 882.8l-4.3 .4M648.2 882.7l-2.9 .5M656.6 882.7l-2.5 .6M665.6 882.5l-3.2 1M674.8 882.1l-4.4 1.7M683.6 881.8l-4.7 2.3M692.4 881.4l-5.1 3.1M701 881.1l-5.2 3.9M709.5 880.8l-4.9 4.3M717.9 880.6l-4.5 4.7M726.3 880.5l-4.1 5M734.8 880.3l-3.8 5.3M743.2 880.2l-3.4 5.5M751.7 880.1l-3.1 5.7M760.1 880.1l-2.8 5.8M768.6 880l-2.5 6M777.1 879.9l-2.3 6.1M785.6 879.9l-2 6.2M794.1 879.9l-1.8 6.2M802.5 879.9l-1.6 6.1M811 880.2l-1.2 5.5M819.5 880.4l-1 5.2M828 880.4l-.9 5.1M836.6 880.4l-.8 5.1M845.1 880.4l-.6 5.1M853.7 880.4l-.5 5.1M862.2 880.5l-.4 5M870.8 880.4l-.4 5.1M879.4 880.4l-.3 5.2M888 880.4l-.2 5.2M896.5 880.4l-.1 5.2M905.1 880.4l-.1 5.2M913.7 880.4l0 5.2M922.3 880.4l0 5.2M578.3 891.7l-.8-.2M587 891.7l-.9-.2M595.8 891.7l-1.3-.2M604.6 891.7l-1.7-.2M613.5 891.7l-2.3-.2M622.6 891.6l-3.3 0M632 891.5l-4.8 .2M640.6 891.3l-4.8 .6M648.5 891.3l-3.5 .7M656.8 891.2l-2.7 .7M666 891l-3.9 1.2M675 890.7l-4.7 1.8M683.6 890.5l-4.7 2.3M692.2 890.2l-4.8 2.9M701 889.8l-5.1 3.6M709.5 889.5l-4.9 4.2M718 889.3l-4.6 4.6M726.4 889.2l-4.3 4.9M734.9 889l-4 5.1M743.3 888.9l-3.6 5.4M751.8 888.8l-3.3 5.6M760.2 888.7l-3 5.7M768.7 888.7l-2.8 5.9M777.2 888.6l-2.5 6M785.7 888.6l-2.3 6.1M794.2 888.5l-2 6.1M802.6 888.7l-1.7 5.7M811 889l-1.4 5.1M819.6 889.1l-1.2 5M828.1 889.1l-1 5.1M836.7 889.1l-.9 5.1M845.2 889l-.8 5.1M853.8 889l-.7 5.1M862.3 889l-.6 5.1M870.9 889l-.5 5.1M879.5 889l-.4 5.1M888 889l-.4 5.2M896.6 889l-.3 5.2M905.2 889l-.2 5.2M913.8 889l-.1 5.2M922.3 889l-.1 5.2M578.3 900.3l-.8-.2M587 900.3l-.9-.2M595.8 900.3l-1.3-.2M604.3 900.3l-1.2-.1M613.1 900.3l-1.5-.1M622.2 900.2l-2.6 0M631.6 900.1l-4.1 .3M640.6 899.9l-4.9 .7M648.8 899.8l-4 .8M657 899.8l-3.3 .9M666.3 899.5l-4.5 1.4M675 899.3l-4.8 1.8M683.6 899.1l-4.7 2.2M692.1 898.9l-4.5 2.7M700.8 898.6l-4.7 3.2M709.5 898.2l-4.9 4M718 898l-4.7 4.4M726.5 897.8l-4.4 4.7M734.9 897.7l-4.1 5M743.4 897.6l-3.8 5.3M751.9 897.5l-3.5 5.5M760.3 897.4l-3.2 5.6M768.8 897.3l-3 5.8M777.3 897.3l-2.7 5.9M785.8 897.2l-2.5 6M794.3 897.3l-2.2 5.9M802.7 897.5l-1.8 5.3M811.1 897.7l-1.5 5M819.7 897.7l-1.3 5M828.2 897.7l-1.2 5M836.7 897.7l-1.1 5.1M845.3 897.7l-1 5.1M853.9 897.7l-.9 5.1M862.4 897.7l-.8 5.1M871 897.7l-.7 5.1M879.5 897.7l-.6 5.1M888.1 897.6l-.5 5.1M896.7 897.6l-.4 5.2M905.3 897.6l-.4 5.2M913.8 897.6l-.3 5.2M922.4 897.6l-.2 5.2M578.3 908.9l-.8-.2M586.9 908.9l-.9-.1M595.7 908.9l-1.2-.1M604.5 908.9l-1.5-.1M613 908.9l-1.4 0M622.1 908.8l-2.3 .1M631.4 908.7l-3.6 .4M640.5 908.5l-4.7 .8M648.7 908.4l-3.8 .8M657.4 908.3l-4 1M666.4 908.1l-4.9 1.5M675 907.9l-4.8 1.9M683.6 907.7l-4.7 2.2M692.1 907.6l-4.5 2.6M700.6 907.4l-4.4 2.9M709.3 907.1l-4.4 3.5M717.9 906.8l-4.5 4.1M726.5 906.6l-4.5 4.6M735 906.4l-4.2 4.9M743.5 906.3l-4 5.1M751.9 906.2l-3.7 5.3M760.4 906.1l-3.4 5.5M768.9 906l-3.2 5.6M777.3 906l-2.8 5.6M785.8 906.1l-2.5 5.5M794.3 906.1l-2.2 5.4M802.7 906.3l-1.9 5M811.2 906.4l-1.7 4.9M819.7 906.4l-1.5 4.9M828.3 906.3l-1.4 5M836.8 906.3l-1.2 5M845.4 906.3l-1.1 5M853.9 906.3l-1 5.1M862.5 906.3l-.9 5.1M871 906.3l-.8 5.1M879.6 906.3l-.7 5.1M888.2 906.3l-.6 5.1M896.7 906.3l-.6 5.1M905.3 906.3l-.5 5.1M913.9 906.3l-.4 5.2M922.5 906.3l-.3 5.2M578.3 917.5l-.8-.1M587 917.5l-.9-.1M595.7 917.5l-1.1-.1M604.4 917.5l-1.3-.1M613 917.5l-1.4 0M622.1 917.4l-2.3 .1M631.4 917.2l-3.7 .4M640.4 917.1l-4.4 .8M648.6 917.1l-3.7 .8M657.7 916.9l-4.6 1.1M666.5 916.7l-4.9 1.5M675 916.5l-4.8 1.9M683.6 916.4l-4.7 2.2M692.1 916.2l-4.5 2.5M700.6 916l-4.3 2.8M709.1 915.9l-4.2 3.1M717.7 915.7l-4.1 3.5M726.4 915.4l-4.2 4.1M735 915.1l-4.2 4.6M743.5 915l-4.1 5M752 914.9l-3.8 5.2M760.5 914.8l-3.5 5.3M768.9 914.8l-3.1 5.3M777.3 915l-2.7 4.9M785.7 915.1l-2.4 4.8M794.2 915.1l-2.2 4.8M802.7 915.1l-2 4.8M811.3 915l-1.8 4.8M819.8 915l-1.7 4.9M828.4 915l-1.5 4.9M836.9 915l-1.4 5M845.4 915l-1.3 5M854 914.9l-1.2 5M862.6 914.9l-1.1 5.1M871.1 914.9l-1 5.1M879.7 914.9l-.9 5.1M888.2 914.9l-.8 5.1M896.8 914.9l-.7 5.1M905.4 914.9l-.6 5.1M914 914.9l-.5 5.1M922.5 914.9l-.5 5.1M578.3 926.1l-.8-.1M587 926.1l-1-.1M595.8 926.1l-1.4-.1M604.4 926.1l-1.3 0M612.9 926.1l-1.2 0M622.1 926l-2.3 .2M631.5 925.8l-3.8 .5M640.2 925.7l-4 .8M648.8 925.7l-4 .8M657.7 925.5l-4.7 1.1M666.4 925.3l-4.9 1.5M675 925.1l-4.8 1.9M683.6 925l-4.7 2.2M692.1 924.8l-4.5 2.5M700.6 924.7l-4.3 2.8M709.1 924.5l-4.2 3.1M717.7 924.4l-4 3.3M726.2 924.3l-3.9 3.6M734.8 924.1l-3.8 4M743.4 923.8l-3.9 4.5M751.9 923.7l-3.6 4.7M760.4 923.7l-3.3 4.7M768.8 923.8l-2.9 4.6M777.2 923.8l-2.6 4.5M785.8 923.8l-2.4 4.6M794.3 923.8l-2.3 4.7M802.8 923.7l-2.1 4.7M811.3 923.7l-1.9 4.8M819.9 923.7l-1.8 4.8M828.4 923.6l-1.7 4.9M837 923.6l-1.5 4.9M845.5 923.6l-1.4 5M854.1 923.6l-1.3 5M862.6 923.6l-1.2 5M871.2 923.6l-1.1 5.1M879.7 923.5l-1 5.1M888.3 923.5l-.9 5.1M896.9 923.5l-.8 5.1M905.4 923.5l-.7 5.1M914 923.5l-.7 5.1M922.6 923.5l-.6 5.1M578.4 934.8l-1-.1M587.1 934.8l-1.2-.1M595.7 934.7l-1.1 0M604.3 934.7l-1 0M613 934.7l-1.4 .1M622.4 934.6l-2.8 .3M631.5 934.4l-3.9 .6M640 934.3l-3.8 .7M648.7 934.3l-3.8 .8M657.5 934.2l-4.1 1M666.3 934l-4.7 1.5M675 933.8l-4.8 1.9M683.6 933.6l-4.7 2.2M692.1 933.5l-4.5 2.5M700.6 933.3l-4.4 2.7M709.2 933.2l-4.2 3M717.7 933.1l-4 3.2M726.2 933l-3.8 3.5M734.7 932.9l-3.7 3.7M743.3 932.7l-3.5 3.9M751.8 932.7l-3.3 4.1M760.3 932.6l-3.1 4.2M768.8 932.6l-2.9 4.3M777.3 932.5l-2.7 4.4M785.8 932.5l-2.5 4.5M794.3 932.4l-2.4 4.6M802.9 932.4l-2.2 4.7M811.4 932.3l-2.1 4.7M819.9 932.3l-1.9 4.8M828.5 932.3l-1.8 4.8M837 932.3l-1.7 4.9M845.6 932.2l-1.5 4.9M854.1 932.2l-1.4 5M862.7 932.2l-1.3 5M871.2 932.2l-1.2 5M879.8 932.2l-1.1 5M888.4 932.2l-1 5.1M896.9 932.2l-.9 5.1M905.5 932.2l-.9 5.1M914.1 932.2l-.8 5.1M922.6 932.3l-.7 4.9M578.5 943.4l-1.1-.1M587.3 943.4l-1.6-.1M595.7 943.3l-1.1 0M604.2 943.3l-1 0M613.3 943.3l-1.9 .1M622.6 943.1l-3.3 .4M631.6 943l-4 .7M640.1 942.9l-3.8 .8M648.7 942.9l-3.8 .8M657.3 942.8l-3.9 1M666.3 942.6l-4.5 1.5M675 942.4l-4.8 1.9M683.6 942.2l-4.7 2.2M692.1 942.1l-4.5 2.5M700.6 942l-4.4 2.7M709.2 941.8l-4.2 3M717.7 941.7l-4.1 3.2M726.2 941.6l-3.9 3.4M734.7 941.5l-3.7 3.6M743.3 941.4l-3.5 3.8M751.8 941.4l-3.3 3.9M760.3 941.3l-3.2 4.1M768.8 941.2l-3 4.2M777.3 941.2l-2.8 4.3M785.9 941.1l-2.7 4.4M794.4 941.1l-2.5 4.5M802.9 941l-2.3 4.6M811.5 941l-2.2 4.7M820 940.9l-2.1 4.7M828.6 940.9l-1.9 4.8M837.1 940.9l-1.8 4.8M845.6 940.9l-1.7 4.9M854.2 940.9l-1.6 4.9M862.8 940.8l-1.4 5M871.3 940.8l-1.3 5M879.9 940.8l-1.2 5M888.4 940.8l-1.2 5M897 940.8l-1.1 5.1M905.6 940.8l-1 5.1M914.1 940.9l-.9 4.9M922.6 941.2l-.7 4.3" stroke="#1a0d00" stroke-opacity="0.85" stroke-width="0.75" fill="none"/>
<path d="M577.5 590.4l.3-.3M586.1 590.4l.3-.3M594.6 590.5l.3-.3M603.1 590.5l.4-.4M611.8 590.4l.3-.3M620.5 590.3l.3-.3M629.1 590.3l.3-.3M637.7 590.3l.3-.2M646.3 590.2l.4-.2M654.8 590.3l.4-.2M663.1 590.4l.5-.3M671.3 590.5l.7-.3M679.9 590.5l.7-.3M688.5 590.4l.7-.3M697.1 590.3l.7-.2M705.6 590.3l.7-.2M714.3 590.2l.7-.2M723 590.1l.7-.1M731.5 590.1l.7-.1M740 590l.7-.1M748.7 590l.7 0M757.7 589.9l.6 0M766.2 589.9l.6 0M774.5 589.8l.7 0M783.1 589.8l.7 .1M791.8 589.7l.7 .1M800.6 589.7l.6 .1M809.2 589.7l.6 .1M817.7 589.6l.7 .1M826.2 589.6l.7 .2M834.7 589.4l.8 .2M843.1 589l.7 .4M851.7 588.7l.7 .5M860.3 588.6l.6 .5M868.9 588.6l.6 .5M877.6 588.6l.6 .5M886.2 588.6l.6 .5M894.8 588.5l.6 .5M903.5 588.5l.6 .5M912.1 588.5l.6 .5M920.7 588.5l.6 .5M577.5 599l.2-.3M586.1 599l.3-.3M594.5 599.2l.3-.4M603 599.3l.4-.4M611.7 599.1l.4-.4M620.5 598.9l.3-.3M629 599l.4-.3M637.4 599l.4-.3M646 599l.5-.3M654.4 599.1l.5-.3M662.9 599.1l.6-.3M671.3 599.1l.7-.3M679.9 599.1l.7-.3M688.5 599l.7-.3M697.1 599l.7-.2M705.7 598.9l.7-.2M714.4 598.8l.7-.1M723.1 598.7l.6-.1M731.5 598.7l.7-.1M740 598.6l.7-.1M748.7 598.6l.7 0M757.4 598.5l.7 0M766 598.5l.7 0M774.5 598.4l.7 .1M783.1 598.4l.7 .1M791.7 598.3l.7 .1M800.4 598.3l.7 .1M809 598.2l.7 .1M817.6 598.2l.7 .2M826.1 598.1l.7 .2M834.6 597.9l.7 .3M843.1 597.4l.7 .4M851.7 597.3l.6 .5M860.3 597.2l.6 .5M869 597.2l.6 .5M877.6 597.2l.6 .5M886.2 597.2l.6 .5M894.9 597.1l.6 .5M903.5 597.1l.6 .5M912.1 597.1l.6 .5M920.7 597.1l.6 .5M577.5 607.7l.3-.3M586.1 607.7l.3-.3M594.7 607.7l.3-.3M603.2 607.7l.3-.3M611.8 607.6l.3-.3M620.3 607.7l.4-.3M628.6 607.9l.5-.4M637.1 608l.6-.4M645.6 607.9l.6-.4M654.2 607.9l.6-.4M662.7 607.8l.7-.4M671.3 607.8l.7-.3M679.9 607.7l.7-.3M688.5 607.6l.7-.3M697.2 607.5l.7-.2M706 607.4l.6-.2M714.6 607.4l.6-.1M723.1 607.3l.6-.1M731.5 607.3l.7-.1M740.2 607.2l.7 0M748.8 607.2l.7 0M757.3 607.1l.7 0M765.9 607.1l.7 0M774.5 607l.7 .1M783.1 607l.7 .1M791.7 606.9l.7 .1M800.3 606.9l.7 .1M808.9 606.8l.7 .2M817.6 606.8l.7 .2M826.1 606.6l.8 .3M834.5 606.1l.7 .4M843.1 605.9l.6 .5M851.7 605.9l.6 .5M860.4 605.8l.6 .5M869 605.8l.6 .5M877.6 605.8l.6 .5M886.3 605.8l.6 .5M894.9 605.7l.6 .5M903.5 605.7l.6 .5M912.2 605.7l.6 .5M920.8 605.7l.6 .6M577.4 616.4l.3-.4M585.9 616.5l.3-.4M594.7 616.3l.3-.3M603.3 616.2l.3-.3M611.7 616.4l.4-.4M620 616.6l.5-.5M628.5 616.7l.6-.5M637 616.6l.6-.5M645.6 616.6l.6-.4M654.1 616.5l.6-.4M662.7 616.5l.7-.4M671.3 616.4l.7-.3M679.9 616.3l.7-.3M688.5 616.2l.7-.2M697.3 616.1l.6-.2M706.4 615.9l.4-.1M715 615.9l.4-.1M723.3 615.9l.5-.1M731.6 615.9l.7-.1M740.6 615.8l.5 0M749.3 615.8l.5 0M757.7 615.7l.6 0M766 615.7l.7 .1M774.5 615.6l.7 .1M783.1 615.5l.7 .1M791.7 615.5l.7 .1M800.3 615.4l.7 .2M809 615.4l.7 .2M817.6 615.4l.7 .2M826.1 615.2l.7 .3M834.5 614.8l.7 .4M843.1 614.5l.6 .5M851.8 614.5l.6 .5M860.4 614.4l.6 .5M869 614.4l.6 .5M877.7 614.4l.6 .5M886.3 614.3l.6 .5M894.9 614.3l.6 .5M903.6 614.3l.6 .6M912.3 614.4l.6 .6M920.9 614.4l.6 .6M577.5 625.1l.3-.4M585.9 625.2l.3-.4M594.6 625l.3-.4M603.2 625l.3-.4M611.5 625.2l.4-.5M619.9 625.4l.5-.5M628.5 625.3l.6-.5M637 625.3l.6-.5M645.6 625.2l.6-.4M654.1 625.1l.6-.4M662.7 625.1l.7-.4M671.4 625l.6-.3M680.2 624.8l.6-.2M688.7 624.8l.6-.2M697.6 624.6l.5-.1M706.4 624.5l.4-.1M715.1 624.5l.4-.1M723.4 624.5l.5-.1M731.8 624.5l.6 0M740.7 624.4l.5 0M749.5 624.4l.4 0M758.1 624.3l.4 0M766.5 624.3l.5 .1M774.8 624.2l.6 .1M783.2 624.1l.7 .1M791.7 624.1l.7 .2M800.3 624l.7 .2M809 624l.7 .2M817.6 623.9l.7 .2M826.2 623.9l.7 .3M834.8 623.8l.7 .3M843.2 623.5l.7 .4M851.7 623l.6 .5M860.4 623l.6 .5M869 623l.6 .5M877.7 623l.6 .5M886.3 622.9l.6 .5M894.9 622.9l.6 .6M903.6 622.9l.6 .6M912.2 622.9l.6 .6M920.9 622.9l.6 .6M577.6 633.5l.2-.4M586.1 633.6l.3-.4M594.5 633.8l.4-.5M603 633.8l.4-.5M611.5 633.9l.4-.5M619.9 634l.5-.5M628.5 634l.6-.5M637 633.9l.6-.5M645.6 633.8l.6-.4M654.2 633.8l.6-.4M662.7 633.7l.7-.4M671.4 633.6l.6-.3M680.3 633.4l.5-.2M689.1 633.2l.5-.2M697.8 633.2l.4-.1M706.5 633.1l.4-.1M715 633.1l.4-.1M723.5 633.1l.5-.1M732 633.1l.5 0M740.8 633l.4 0M749.5 633l.4 0M758.1 633l.4 0M766.7 632.9l.4 .1M775.2 632.9l.5 .1M783.5 632.8l.6 .1M791.8 632.7l.7 .2M800.4 632.6l.7 .2M809 632.6l.7 .2M817.6 632.5l.7 .2M826.2 632.5l.7 .3M834.8 632.4l.7 .3M843.3 632.2l.7 .4M851.6 631.6l.6 .5M860.3 631.4l.6 .5M869.1 631.6l.6 .5M877.8 631.6l.6 .6M886.3 631.5l.6 .6M895 631.5l.6 .6M903.6 631.5l.6 .6M912.2 631.5l.6 .6M920.9 631.4l.5 .6M577.6 642.1l.2-.4M586.1 642.3l.3-.4M594.4 642.6l.4-.5M602.9 642.6l.4-.5M611.5 642.6l.5-.5M619.9 642.7l.5-.5M628.5 642.6l.6-.5M637 642.5l.6-.5M645.6 642.5l.6-.4M654.2 642.4l.6-.4M662.7 642.3l.7-.4M671.3 642.2l.7-.3M680 642.1l.7-.3M688.8 642l.6-.2M697.6 641.9l.5-.1M706.4 641.8l.4-.1M714.9 641.7l.5-.1M723.2 641.7l.6-.1M731.8 641.7l.6 0M740.7 641.6l.5 0M749.5 641.6l.4 0M758.1 641.6l.4 0M766.7 641.5l.4 .1M775.1 641.5l.5 .1M783.5 641.4l.6 .1M791.8 641.3l.7 .2M800.3 641.2l.8 .2M808.8 641.1l.8 .3M817.5 641.1l.7 .3M826.2 641.1l.7 .3M834.9 641l.7 .3M843.5 640.8l.7 .4M851.9 640.4l.6 .5M860.5 640.2l.6 .5M869.3 640.4l.6 .6M877.9 640.3l.6 .6M886.4 640.1l.6 .6M895 640.1l.6 .6M903.6 640.1l.5 .6M912.3 640.1l.5 .6M920.9 640l.5 .6M577.6 650.8l.2-.4M586 651.1l.3-.5M594.3 651.4l.4-.6M602.9 651.4l.4-.6M611.4 651.3l.5-.6M620 651.3l.5-.6M628.5 651.2l.5-.5M637.1 651.2l.6-.5M645.6 651.1l.6-.5M654.2 651l.6-.4M662.7 651l.7-.4M671.3 650.9l.7-.3M679.9 650.8l.7-.3M688.5 650.7l.7-.2M697.1 650.6l.7-.2M706 650.5l.6-.1M714.5 650.4l.6-.1M722.9 650.3l.7-.1M731.5 650.3l.7 0M740.3 650.2l.7 0M749.2 650.2l.5 0M758 650.1l.5 .1M766.3 650.1l.6 .1M774.7 650l.7 .2M783.2 649.9l.7 .2M791.8 649.8l.7 .2M800.2 649.7l.8 .3M808.6 649.5l.7 .3M817.3 649.5l.7 .3M826.2 649.6l.7 .3M834.8 649.6l.7 .3M843.4 649.3l.7 .4M852.1 649l.6 .5M860.7 648.9l.6 .6M869.2 648.8l.6 .6M877.8 648.7l.6 .6M886.4 648.7l.5 .6M895 648.7l.5 .6M903.7 648.7l.5 .6M912.3 648.6l.5 .6M920.9 648.6l.5 .6M577.5 659.7l.2-.5M586 659.8l.3-.5M594.4 660l.4-.6M602.9 660l.4-.6M611.4 660l.5-.6M620 660l.5-.6M628.5 659.9l.5-.5M637.1 659.8l.6-.5M645.6 659.7l.6-.5M654.2 659.7l.6-.4M662.7 659.6l.7-.4M671.3 659.5l.7-.3M679.9 659.4l.7-.3M688.5 659.3l.7-.2M697.1 659.2l.7-.2M705.6 659.1l.7-.1M714.2 659l.7-.1M722.8 658.9l.8 0M731.4 658.8l.8 0M740.1 658.8l.7 0M748.8 658.7l.7 .1M757.5 658.7l.6 .1M766 658.6l.7 .2M774.5 658.5l.7 .2M783.1 658.4l.7 .2M791.8 658.4l.7 .2M800.3 658.3l.7 .3M808.7 658.2l.7 .3M817.2 658l.7 .3M826 658l.7 .4M834.5 657.8l.7 .4M843 657.4l.6 .5M851.6 657.1l.6 .6M860.2 657l.6 .6M868.8 656.9l.6 .6M877.5 657l.5 .6M886.4 657.2l.5 .6M895.1 657.3l.5 .6M903.7 657.3l.5 .6M912.4 657.3l.5 .6M921.1 657.3l.5 .6M577.3 668.7l.3-.7M585.9 668.7l.3-.6M594.4 668.7l.4-.6M602.9 668.7l.4-.6M611.4 668.7l.5-.6M619.9 668.8l.5-.6M628.5 668.6l.6-.6M637.1 668.5l.6-.5M645.6 668.4l.6-.5M654.2 668.3l.6-.4M662.8 668.2l.6-.4M671.4 668.1l.6-.3M680.1 667.9l.6-.2M688.9 667.8l.6-.2M697.4 667.7l.6-.1M705.8 667.7l.7-.1M714.2 667.6l.7-.1M722.8 667.5l.8 0M731.4 667.4l.8 0M740 667.3l.7 .1M748.7 667.3l.7 .1M757.3 667.2l.7 .1M765.9 667.1l.7 .2M774.5 667.1l.7 .2M783.1 667l.7 .2M791.8 666.9l.7 .3M800.4 666.9l.7 .3M808.8 666.7l.7 .4M817.1 666.3l.7 .4M825.6 666l.6 .5M834.2 665.8l.6 .5M842.9 665.6l.6 .6M851.6 665.6l.6 .6M860.2 665.5l.5 .6M868.8 665.5l.5 .6M877.6 665.6l.5 .6M886.4 665.8l.5 .6M895.1 665.9l.5 .6M903.7 665.8l.5 .6M912.5 665.9l.5 .6M921.2 666.1l.5 .6M577.3 677.5l.3-.7M585.9 677.4l.3-.7M594.4 677.4l.4-.7M603 677.3l.4-.6M611.5 677.3l.4-.6M619.9 677.4l.5-.6M628.5 677.3l.5-.6M637.1 677.1l.5-.5M645.7 677l.6-.5M654.2 676.9l.6-.4M663.1 676.7l.5-.3M671.8 676.5l.5-.2M680.6 676.4l.4-.2M689.2 676.3l.4-.1M697.8 676.2l.4-.1M706 676.2l.6-.1M714.3 676.2l.7 0M722.8 676.1l.8 0M731.4 676l.8 .1M740 675.9l.7 .1M748.7 675.8l.7 .1M757.2 675.7l.8 .2M765.6 675.6l.8 .2M774.2 675.5l.8 .3M782.9 675.4l.7 .3M791.6 675.3l.7 .4M800 675l.7 .4M808.5 674.7l.6 .5M817 674.3l.6 .5M825.6 674.2l.6 .6M834.3 674.1l.6 .6M842.9 674.1l.5 .6M851.6 674.1l.5 .6M860.2 674l.5 .6M868.8 674l.5 .6M877.6 674.1l.5 .6M886.4 674.3l.5 .6M895.1 674.4l.5 .6M903.8 674.4l.5 .6M912.4 674.4l.5 .6M921.1 674.5l.5 .6M577.4 686.2l.3-.7M585.9 686.3l.3-.7M594.4 686.1l.4-.7M603 686l.4-.7M611.5 686l.4-.6M620.1 685.9l.5-.6M628.6 685.8l.5-.6M637.1 685.8l.5-.5M645.7 685.7l.6-.5M654.4 685.5l.5-.4M663.3 685.1l.4-.2M672.1 685l.4-.2M680.7 684.9l.4-.1M689.3 684.9l.4-.1M697.8 684.8l.4-.1M706.2 684.8l.5-.1M714.4 684.8l.7 0M722.8 684.7l.7 0M731.4 684.6l.8 .1M740 684.5l.8 .1M748.6 684.3l.8 .2M757 684.1l.8 .3M765.3 683.9l.7 .3M773.9 683.6l.7 .4M782.5 683.4l.7 .4M791.1 683.1l.6 .5M799.7 682.9l.6 .5M808.4 682.8l.6 .6M817 682.7l.6 .6M825.7 682.7l.6 .6M834.3 682.7l.5 .6M843 682.6l.5 .6M851.6 682.6l.5 .6M860.3 682.6l.5 .6M868.9 682.6l.5 .6M877.6 682.6l.5 .6M886.4 682.8l.5 .6M895.2 683l.5 .6M903.8 683l.5 .6M912.4 683l.5 .6M921.1 683l.5 .7M577.4 694.8l.2-.7M586 694.8l.3-.7M594.5 694.9l.3-.7M603 694.9l.4-.7M611.5 694.7l.4-.7M620.1 694.6l.4-.6M628.7 694.5l.5-.6M637.2 694.4l.5-.6M645.7 694.3l.5-.5M654.6 694l.5-.3M663.5 693.7l.4-.2M672.1 693.6l.4-.2M680.7 693.5l.4-.1M689.2 693.5l.4-.1M697.6 693.5l.5-.1M706.1 693.4l.5 0M714.6 693.3l.6 0M722.9 693.2l.7 .1M731.4 693.1l.8 .1M739.7 692.8l.8 .2M748.1 692.4l.7 .3M756.6 692l.7 .4M765.2 691.8l.6 .5M773.9 691.7l.6 .5M782.5 691.6l.6 .5M791.1 691.4l.6 .5M799.8 691.4l.6 .6M808.4 691.3l.6 .6M817.1 691.3l.5 .6M825.7 691.3l.5 .6M834.4 691.2l.5 .6M843 691.2l.5 .6M851.7 691.3l.5 .6M860.3 691.2l.5 .6M868.9 691.1l.5 .6M877.6 691.1l.5 .6M886.4 691.3l.5 .6M895.2 691.6l.5 .6M903.9 691.6l.5 .7M912.5 691.6l.5 .7M921.1 691.6l.4 .7M577.5 703.4l.2-.7M586.1 703.4l.2-.7M594.5 703.6l.3-.7M602.9 703.7l.3-.7M611.6 703.5l.4-.7M620.2 703.2l.4-.6M628.7 703.1l.4-.6M637.2 703.1l.5-.6M645.8 702.9l.5-.5M654.6 702.6l.5-.4M663.5 702.3l.4-.2M672.1 702.2l.4-.2M680.7 702.2l.4-.1M689.2 702.1l.4-.1M697.7 702.1l.5-.1M706.1 702l.5 0M714.7 701.9l.6 0M722.9 701.8l.7 .1M731.2 701.4l.8 .3M739.4 700.7l.7 .4M748 700.5l.7 .5M756.7 700.4l.6 .5M765.5 700.4l.6 .5M774.1 700.3l.6 .5M782.5 700l.6 .6M791 699.7l.6 .6M799.6 699.7l.5 .6M808.4 699.8l.5 .6M817.1 699.8l.5 .6M825.8 699.8l.5 .6M834.4 699.8l.5 .6M843.1 699.8l.5 .6M851.8 699.8l.5 .6M860.4 699.7l.5 .6M869 699.7l.5 .6M877.6 699.7l.5 .7M886.3 699.8l.5 .7M895.1 700l.5 .7M903.8 700.1l.4 .7M912.5 700.2l.4 .7M921.1 700.2l.4 .7M577.6 712l.2-.7M586.1 712l.2-.7M594.7 712.1l.2-.8M603.2 712.1l.3-.7M611.7 712l.3-.7M620.3 711.9l.4-.7M628.8 711.8l.4-.6M637.3 711.7l.5-.6M645.8 711.6l.5-.5M654.6 711.2l.4-.4M663.5 710.9l.4-.2M672.1 710.8l.4-.2M680.7 710.8l.4-.1M689.2 710.7l.4-.1M697.8 710.6l.4 0M706.3 710.6l.5 0M714.4 710.5l.7 .1M722.8 710.2l.8 .2M731.2 709.7l.7 .4M739.7 709.3l.6 .5M748.3 709.1l.6 .5M756.9 709l.6 .5M765.4 708.8l.6 .5M773.8 708.4l.6 .6M782.2 708.2l.6 .6M790.8 708l.5 .6M799.5 708l.5 .6M808.2 708l.5 .6M817 708.1l.5 .6M825.8 708.3l.5 .6M834.5 708.3l.5 .6M843.2 708.3l.5 .6M851.8 708.3l.5 .7M860.4 708.3l.5 .7M869.1 708.3l.5 .7M877.7 708.3l.4 .7M886.3 708.3l.4 .7M895 708.3l.4 .7M903.7 708.4l.4 .7M912.4 708.5l.4 .7M921.1 708.7l.4 .7M577.7 720.6l.1-.7M586.2 720.6l.1-.7M594.8 720.6l.2-.7M603.3 720.5l.2-.7M611.9 720.4l.2-.6M620.3 720.5l.3-.7M628.8 720.5l.4-.7M637.3 720.4l.4-.6M645.8 720.3l.5-.6M654.6 719.9l.5-.4M663.5 719.6l.4-.2M672 719.5l.4-.2M680.5 719.4l.4-.1M689.1 719.3l.4-.1M697.8 719.2l.4 0M706 719.1l.6 0M714.2 718.9l.8 .2M722.6 718.4l.7 .3M731.1 717.9l.7 .5M739.6 717.7l.6 .5M748 717.4l.6 .5M756.5 717.1l.6 .6M765 716.8l.6 .6M773.6 716.7l.5 .6M782.3 716.6l.5 .6M790.9 716.6l.5 .6M799.6 716.5l.5 .6M808.3 716.5l.5 .6M816.9 716.5l.5 .6M825.7 716.6l.5 .6M834.5 716.8l.5 .7M843.2 716.9l.5 .7M851.9 716.9l.4 .7M860.5 716.9l.4 .7M869.1 716.9l.4 .7M877.8 716.8l.4 .7M886.4 716.8l.4 .7M895 716.8l.4 .7M903.7 716.8l.4 .7M912.3 716.9l.4 .7M921 717l.4 .7M577.8 729.3l.1-.8M586.3 729.3l.1-.7M594.9 729.2l.1-.7M603.4 729.1l.2-.7M612 729l.2-.6M620.4 729.2l.3-.7M628.9 729.1l.3-.7M637.4 729.1l.4-.6M645.9 728.9l.5-.6M654.6 728.5l.4-.4M663.5 728.2l.4-.3M671.9 728.2l.4-.2M680.1 728.2l.6-.2M688.8 728l.6-.1M697.4 727.8l.6 0M705.6 727.6l.8 .1M713.9 727.1l.7 .3M722.2 726.4l.7 .4M730.6 725.9l.6 .5M739.1 725.7l.6 .5M747.7 725.4l.6 .6M756.4 725.3l.5 .6M765 725.2l.5 .6M773.7 725.2l.5 .6M782.4 725.1l.5 .6M791.1 725.1l.5 .6M799.7 725l.5 .6M808.4 725l.5 .7M817 725l.5 .7M825.7 725l.4 .7M834.5 725.1l.4 .7M843.3 725.4l.4 .7M852 725.5l.4 .7M860.6 725.4l.4 .7M869.2 725.4l.4 .7M877.8 725.4l.4 .7M886.5 725.4l.4 .7M895.1 725.4l.4 .7M903.7 725.4l.4 .7M912.3 725.4l.4 .7M921 725.4l.4 .7M577.9 737.9l0-.8M586.4 737.9l0-.8M595 737.9l.1-.8M603.5 737.9l.1-.7M612.1 737.8l.1-.7M620.6 737.8l.2-.7M629 737.8l.3-.7M637.4 737.9l.4-.7M646 737.6l.4-.6M654.9 737l.3-.4M663.5 736.8l.3-.3M672 736.8l.4-.2M680.3 736.7l.5-.1M688.7 736.6l.6-.1M697 736.4l.8 0M705.1 736l.8 .2M713.2 735l.7 .4M721.7 734.3l.6 .5M730.4 734.1l.6 .5M739.1 734l.6 .6M747.8 733.9l.5 .6M756.5 733.8l.5 .6M765.2 733.7l.5 .6M773.9 733.7l.5 .6M782.5 733.6l.5 .7M791.2 733.6l.5 .7M799.8 733.5l.4 .7M808.5 733.5l.4 .7M817.1 733.5l.4 .7M825.8 733.5l.4 .7M834.5 733.5l.4 .7M843.3 733.8l.4 .7M852 734l.4 .7M860.7 734l.4 .7M869.3 734l.4 .7M877.9 734l.4 .7M886.5 734l.4 .7M895.2 734l.4 .7M903.8 734l.4 .7M912.4 734l.4 .7M921 734l.4 .7M578 746.5l-.1-.8M586.6 746.5l0-.8M595.1 746.5l0-.8M603.7 746.5l0-.8M612.2 746.5l.1-.8M620.7 746.5l.1-.7M629.2 746.5l.2-.7M637.6 746.6l.3-.7M646.1 746.3l.4-.6M654.8 745.7l.3-.4M663.5 745.5l.3-.3M672.1 745.3l.4-.2M680.6 745.2l.4-.1M688.8 745.1l.6 0M697.1 744.9l.7 .1M705.2 744.4l.8 .3M713.2 743.2l.6 .5M721.8 742.7l.6 .6M730.5 742.5l.5 .6M739.2 742.3l.5 .6M747.9 742.2l.5 .6M756.6 742.2l.5 .6M765.3 742.1l.5 .7M773.9 742.1l.4 .7M782.7 742.1l.4 .7M791.3 742.1l.4 .7M799.9 742l.4 .7M808.6 742l.4 .7M817.3 742l.4 .7M825.9 742l.4 .7M834.6 742.1l.4 .7M843.3 742.2l.4 .7M852.1 742.5l.4 .7M860.7 742.5l.4 .7M869.3 742.5l.4 .7M878 742.6l.4 .7M886.6 742.6l.4 .7M895.2 742.6l.4 .7M903.9 742.6l.4 .7M912.5 742.6l.3 .7M921.1 742.5l.3 .7M578.1 755.1l-.1-.8M586.7 755.3l-.1-.8M595.3 755.4l-.1-.8M603.8 755.4l0-.8M612.3 755.2l0-.8M620.9 755.1l0-.8M629.4 755.1l.1-.7M637.8 755.1l.2-.7M646.3 755l.3-.7M654.7 754.8l.4-.6M663.3 754.4l.4-.4M671.9 754l.4-.2M680.6 753.8l.4-.1M689.1 753.6l.5 0M697.5 753.4l.5 .2M705.5 752.9l.7 .4M713.4 751.6l.6 .5M722 751l.5 .6M730.7 750.8l.5 .6M739.2 750.5l.5 .7M747.9 750.4l.4 .7M756.6 750.4l.4 .7M765.3 750.3l.4 .7M774 750.4l.4 .7M782.8 750.6l.4 .7M791.5 750.6l.4 .7M800.1 750.6l.4 .7M808.7 750.4l.4 .7M817.3 750.5l.4 .7M826 750.6l.4 .7M834.7 750.6l.4 .7M843.3 750.7l.4 .7M852.1 751l.3 .7M860.7 751l.3 .7M869.4 751l.3 .7M878.1 751.1l.3 .7M886.7 751.2l.3 .7M895.3 751.1l.3 .7M903.9 751.1l.3 .7M912.6 751.1l.3 .7M921.2 751.1l.3 .7M578.2 763.8l-.2-.8M586.9 764.1l-.2-.8M595.5 764.3l-.2-.8M604.1 764.3l-.1-.8M612.5 763.9l-.1-.8M621.1 763.8l-.1-.8M629.6 763.8l0-.8M638.1 763.8l0-.8M646.5 763.7l.1-.7M654.9 763.7l.3-.7M663.1 763.4l.5-.6M671.6 762.9l.6-.3M680.5 762.4l.5 0M689.2 762.2l.4 .1M697.8 762l.4 .2M705.6 761.2l.6 .5M713.6 759.8l.5 .6M722.2 759.3l.4 .7M730.9 759.1l.4 .7M739.4 758.8l.4 .7M748.1 758.7l.4 .7M756.8 758.7l.4 .7M765.4 758.7l.4 .7M774.2 758.8l.4 .7M782.9 758.9l.4 .7M791.5 759l.3 .7M800.2 758.9l.3 .7M808.8 758.9l.3 .7M817.5 759l.3 .7M826.2 759.1l.3 .7M834.8 759.2l.3 .7M843.4 759.2l.3 .7M852.2 759.5l.3 .7M860.8 759.5l.3 .7M869.5 759.6l.3 .7M878.2 759.7l.3 .7M886.8 759.7l.3 .7M895.4 759.7l.3 .7M904 759.7l.3 .7M912.6 759.7l.3 .7M921.2 759.7l.3 .7M578.4 772.6l-.3-.8M587.1 772.7l-.2-.8M595.7 772.9l-.2-.8M604.3 772.8l-.2-.8M612.8 772.5l-.2-.8M621.3 772.4l-.2-.7M629.8 772.4l-.1-.7M638.4 772.4l-.1-.7M646.9 772.4l0-.8M655.2 772.4l.1-.7M663.4 772.3l.3-.7M671.5 771.6l.6-.4M680.4 770.8l.5 .1M689.3 770.6l.4 .2M697.8 770.4l.4 .3M705.7 769.4l.5 .6M713.9 768l.4 .7M722.5 767.4l.4 .7M731.1 767.3l.3 .7M739.8 767.2l.3 .7M748.4 767.2l.3 .7M757.1 767.2l.3 .7M765.7 767.1l.3 .7M774.3 767.2l.3 .7M783 767.2l.3 .7M791.6 767.2l.3 .7M800.2 767.2l.3 .7M808.9 767.4l.3 .7M817.7 767.6l.3 .7M826.3 767.7l.3 .7M834.9 767.7l.3 .7M843.6 767.7l.3 .7M852.3 768l.3 .7M860.9 768l.3 .7M869.6 768.2l.3 .7M878.2 768.3l.3 .7M886.9 768.3l.3 .7M895.5 768.3l.3 .7M904.1 768.3l.3 .7M912.7 768.3l.3 .7M921.3 768.3l.3 .7M578.7 781.4l-.3-.7M587.3 781.5l-.3-.7M595.9 781.4l-.3-.7M604.5 781.3l-.3-.7M613 781.1l-.3-.7M621.6 781.1l-.3-.7M630.1 781l-.3-.7M638.7 780.9l-.3-.7M647.3 780.9l-.3-.7M655.8 780.9l-.2-.7M664.3 781l-.1-.7M671.8 780.6l.4-.6M680.6 778.9l.4 .4M689.4 778.9l.3 .4M697.9 778.7l.3 .5M706 777.5l.4 .7M714.4 776.3l.3 .7M722.9 775.8l.3 .8M731.5 775.7l.3 .8M740.1 775.7l.3 .8M748.7 775.7l.3 .8M757.4 775.7l.3 .8M766 775.7l.3 .8M774.6 775.7l.3 .8M783.2 775.7l.3 .8M791.8 775.7l.3 .8M800.4 775.7l.3 .8M809.1 775.9l.3 .8M817.8 776l.3 .8M826.4 776.1l.3 .8M835.1 776.3l.3 .8M843.7 776.3l.3 .8M852.3 776.4l.3 .8M860.9 776.4l.3 .8M869.6 776.7l.3 .8M878.3 776.9l.3 .8M886.9 776.9l.3 .8M895.6 776.9l.3 .8M904.2 776.9l.3 .8M912.8 776.9l.3 .8M921.4 776.9l.3 .8M578.9 790l-.4-.7M587.5 790l-.4-.7M596.2 790l-.4-.7M604.8 790l-.4-.7M613.4 789.9l-.4-.7M622 789.9l-.4-.7M630.5 789.6l-.4-.7M639 789.4l-.4-.6M647.7 789.3l-.5-.6M656.4 789.2l-.5-.5M665.2 789l-.6-.4M674 787.9l-.7 .2M681.6 786.9l-.2 .7M689.8 786.9l0 .7M698.2 786.7l.1 .8M706.5 785.5l.2 .8M715 784.7l.1 .8M723.5 784.2l.2 .8M732 784.2l.2 .8M740.5 784.2l.2 .8M749.1 784.2l.2 .8M757.7 784.2l.2 .8M766.3 784.2l.2 .8M774.8 784.2l.2 .8M783.4 784.2l.2 .8M792 784.2l.2 .8M800.6 784.2l.2 .8M809.3 784.4l.2 .8M817.9 784.6l.2 .8M826.6 784.7l.2 .8M835.2 784.9l.2 .8M843.8 784.9l.2 .8M852.4 784.9l.2 .8M861 784.9l.2 .8M869.7 785.1l.2 .8M878.4 785.4l.2 .8M887 785.5l.2 .8M895.6 785.5l.2 .8M904.2 785.5l.2 .8M912.8 785.5l.2 .8M921.5 785.5l.2 .8M578.8 798.2l-.4-.7M587.5 798.3l-.5-.7M596.3 798.4l-.5-.7M605 798.4l-.5-.6M613.6 798.4l-.5-.6M622.2 798.2l-.5-.6M630.7 798l-.5-.6M639.3 797.8l-.6-.5M648 797.7l-.6-.5M656.7 797.4l-.7-.3M665.4 797l-.7-.1M674 796.3l-.7 .3M682.1 795.6l-.5 .6M690.3 795.4l-.2 .7M698.7 794.9l-.1 .8M707.2 793.8l0 .8M715.6 793.2l0 .8M724 792.8l.1 .8M732.5 792.7l.1 .8M740.9 792.7l.1 .8M749.5 792.7l.1 .8M758 792.7l.1 .8M766.6 792.7l.1 .8M775.1 792.8l.2 .8M783.7 792.8l.2 .8M792.3 792.8l.2 .8M800.8 792.8l.2 .8M809.5 793l.2 .8M818.1 793.3l.2 .8M826.7 793.4l.2 .8M835.3 793.4l.2 .8M843.9 793.4l.2 .8M852.5 793.5l.2 .8M861.2 793.5l.2 .8M869.8 793.8l.2 .8M878.5 794l.2 .8M887.1 794.1l.2 .8M895.7 794.1l.2 .8M904.3 794.1l.2 .8M912.9 794.2l.2 .8M921.5 794.2l.2 .8M578.8 806.5l-.5-.6M587.5 806.5l-.5-.6M596.2 806.6l-.5-.6M604.9 806.6l-.5-.6M613.6 806.6l-.6-.6M622.4 806.7l-.6-.5M631 806.5l-.6-.5M639.4 806.2l-.7-.4M648.3 806.1l-.7-.3M657 805.8l-.8-.2M665.5 805.4l-.8 0M674 804.9l-.7 .3M682.3 804.4l-.6 .5M690.7 804l-.4 .7M699.2 803.2l-.3 .8M707.8 802.2l-.2 .8M716.1 801.9l-.1 .8M724.5 801.5l0 .8M732.9 801.3l0 .8M741.4 801.3l0 .8M749.8 801.3l.1 .8M758.3 801.3l.1 .8M766.9 801.3l.1 .8M775.4 801.3l.1 .8M783.9 801.3l.1 .8M792.5 801.3l.1 .8M801.1 801.4l.1 .8M809.7 801.6l.1 .8M818.3 801.9l.2 .8M826.9 802l.2 .8M835.5 802l.2 .8M844.1 802l.2 .8M852.7 802.1l.2 .8M861.3 802.3l.2 .8M870 802.6l.2 .8M878.6 802.7l.2 .8M887.2 802.7l.2 .8M895.8 802.7l.2 .8M904.4 802.7l.2 .8M913 802.9l.2 .8M921.6 802.8l.2 .8M578.9 815.1l-.5-.5M587.5 815.1l-.5-.5M596.2 815l-.6-.5M604.9 815l-.6-.5M613.8 815.1l-.6-.5M622.8 815.3l-.7-.4M631.1 814.9l-.7-.4M639.5 814.6l-.7-.3M648.5 814.5l-.8-.2M657.4 814.2l-.8-.1M665.7 813.8l-.8 .1M674.1 813.4l-.7 .3M682.4 813.1l-.6 .5M691.1 812.5l-.5 .6M699.8 811.5l-.4 .7M708.3 810.9l-.3 .7M716.5 810.7l-.2 .8M724.9 810.4l-.1 .8M733.3 810l-.1 .8M741.7 809.9l0 .8M750.2 809.9l0 .8M758.7 809.9l0 .8M767.1 809.9l0 .8M775.7 809.9l.1 .8M784.2 809.9l.1 .8M792.7 809.9l.1 .8M801.3 809.9l.1 .8M809.8 810l.1 .8M818.5 810.4l.1 .8M827 810.4l.1 .8M835.6 810.5l.1 .8M844.2 810.6l.1 .8M852.8 810.7l.1 .8M861.5 811l.2 .8M870.1 811.3l.2 .8M878.7 811.3l.2 .8M887.3 811.3l.2 .8M895.9 811.3l.2 .8M904.5 811.3l.2 .8M913.1 811.4l.2 .8M921.7 811.3l.2 .8M579 823.6l-.6-.5M587.6 823.6l-.6-.5M596.3 823.5l-.6-.5M605.1 823.6l-.7-.5M614.3 823.8l-.7-.4M623 823.7l-.7-.4M631.1 823.3l-.7-.3M639.6 823.1l-.7-.2M648.3 822.9l-.8-.1M657.5 822.6l-.8 0M666.4 822.2l-.8 .2M674.6 821.8l-.7 .3M682.8 821.5l-.7 .5M691.6 820.9l-.6 .6M700.3 820.1l-.5 .6M708.6 819.6l-.4 .7M716.9 819.4l-.3 .7M725.2 819.3l-.2 .8M733.7 818.9l-.2 .8M742.1 818.6l-.1 .8M750.5 818.6l-.1 .8M759 818.5l0 .8M767.4 818.5l0 .8M775.9 818.5l0 .8M784.4 818.5l0 .8M793 818.5l0 .8M801.5 818.6l.1 .8M810 818.7l.1 .8M818.6 819l.1 .8M827.2 819.1l.1 .8M835.8 819.1l.1 .8M844.3 819.2l.1 .8M852.9 819.3l.1 .8M861.6 819.6l.1 .8M870.2 819.8l.1 .8M878.8 819.8l.1 .8M887.4 819.9l.1 .8M896 819.9l.1 .8M904.6 819.9l.1 .8M913.2 819.9l.2 .8M921.8 819.9l.2 .8M579 832.2l-.6-.5M587.7 832.1l-.6-.4M596.3 832.1l-.6-.4M605.2 832.1l-.7-.4M614.4 832.3l-.7-.4M623 832.1l-.7-.3M631.1 831.7l-.8-.2M639.6 831.5l-.7-.1M648.2 831.4l-.8-.1M657.1 831.1l-.8 .1M666.3 830.7l-.8 .2M675 830.2l-.7 .3M683.4 829.9l-.7 .4M692 829.4l-.6 .5M700.6 828.7l-.5 .6M708.9 828.4l-.4 .7M717.2 828.2l-.4 .7M725.5 828l-.3 .7M733.9 827.7l-.2 .8M742.4 827.3l-.2 .8M750.8 827.2l-.1 .8M759.2 827.2l-.1 .8M767.7 827.2l-.1 .8M776.2 827.2l0 .8M784.7 827.2l0 .8M793.2 827.2l0 .8M801.7 827.3l0 .8M810.2 827.5l0 .8M818.8 827.8l0 .8M827.4 827.8l.1 .8M835.9 827.8l.1 .8M844.5 827.8l.1 .8M853.1 827.9l.1 .8M861.7 828.2l.1 .8M870.3 828.4l.1 .8M878.9 828.5l.1 .8M887.5 828.5l.1 .8M896.1 828.5l.1 .8M904.6 828.5l.1 .8M913.2 828.5l.1 .8M921.8 828.5l.1 .8M579 840.6l-.6-.4M587.6 840.5l-.6-.4M596.3 840.5l-.6-.3M605.2 840.6l-.7-.3M614.4 840.7l-.7-.3M623 840.5l-.8-.2M631.1 840.2l-.8-.2M639.6 840.1l-.7-.1M648.2 839.9l-.8 0M656.9 839.7l-.8 .1M665.7 839.4l-.8 .2M674.9 839l-.7 .3M683.6 838.5l-.7 .4M692.2 838.1l-.6 .5M700.8 837.5l-.6 .6M709.1 837.1l-.5 .6M717.4 836.9l-.4 .7M725.8 836.8l-.3 .7M734.2 836.5l-.3 .7M742.7 836l-.2 .8M751.1 835.9l-.2 .8M759.5 835.9l-.2 .8M767.9 835.8l-.1 .8M776.4 835.8l-.1 .8M784.9 835.8l-.1 .8M793.4 835.9l0 .8M801.9 836.1l0 .8M810.4 836.4l0 .8M819 836.4l0 .8M827.5 836.4l0 .8M836.1 836.4l0 .8M844.6 836.4l0 .8M853.2 836.5l.1 .8M861.8 836.8l.1 .8M870.4 837.1l.1 .8M879 837.1l.1 .8M887.6 837.1l.1 .8M896.1 837.1l.1 .8M904.7 837.1l.1 .8M913.3 837.1l.1 .8M921.9 837.1l.1 .8M578.9 849.1l-.6-.3M587.2 848.9l-.4-.2M596 848.9l-.5-.2M605.1 849l-.7-.3M614.4 849.1l-.8-.2M623.2 849l-.8-.2M631.2 848.8l-.8-.1M639.6 848.6l-.8 0M648.2 848.4l-.8 0M656.8 848.3l-.7 .1M665.5 848.1l-.7 .2M674.5 847.7l-.7 .3M683.6 847.2l-.7 .4M692.2 846.7l-.6 .5M700.9 846.2l-.6 .5M709.3 845.9l-.5 .6M717.6 845.6l-.4 .7M726 845.5l-.4 .7M734.4 845.1l-.3 .7M742.9 844.7l-.3 .7M751.3 844.6l-.2 .8M759.7 844.6l-.2 .8M768.1 844.7l-.2 .8M776.6 844.8l-.1 .8M785.1 844.8l-.1 .8M793.6 844.8l-.1 .8M802 845l-.1 .8M810.6 845.1l0 .8M819.1 845.1l0 .8M827.6 845.1l0 .8M836.2 845.1l0 .8M844.8 845.1l0 .8M853.3 845.2l0 .8M861.9 845.5l0 .8M870.5 845.7l0 .8M879.1 845.7l.1 .8M887.6 845.7l.1 .8M896.2 845.7l.1 .8M904.8 845.7l.1 .8M913.4 845.7l.1 .8M922 845.7l.1 .8M579.1 857.7l-.6-.3M587.3 857.5l-.5-.2M595.8 857.4l-.4-.2M605 857.5l-.7-.2M614.3 857.6l-.8-.2M623 857.5l-.8-.1M631.3 857.3l-.8-.1M639.6 857.1l-.8 0M648.2 857l-.8 .1M656.8 856.8l-.7 .1M665.4 856.7l-.7 .2M674.3 856.4l-.7 .3M683.5 855.9l-.7 .4M692.3 855.4l-.7 .5M701 854.9l-.6 .5M709.4 854.6l-.5 .6M717.7 854.4l-.5 .6M726.2 854.1l-.4 .7M734.7 853.8l-.4 .7M743.1 853.6l-.3 .7M751.5 853.5l-.3 .7M759.8 853.6l-.2 .8M768.3 853.7l-.2 .8M776.7 853.7l-.2 .8M785.2 853.7l-.1 .8M793.7 853.7l-.1 .8M802.2 853.7l-.1 .8M810.7 853.7l-.1 .8M819.2 853.7l-.1 .8M827.8 853.7l0 .8M836.3 853.7l0 .8M844.9 853.8l0 .8M853.4 854l0 .8M862 854.3l0 .8M870.6 854.3l0 .8M879.1 854.3l0 .8M887.7 854.3l0 .8M896.3 854.3l0 .8M904.9 854.3l.1 .8M913.5 854.3l.1 .8M922.1 854.3l.1 .8M579.2 866.3l-.7-.3M587.6 866.2l-.6-.2M595.9 866l-.5-.2M605 866.1l-.7-.2M614 866.1l-.8-.2M622.5 865.9l-.8-.1M631.1 865.8l-.8 0M639.7 865.7l-.8 0M648.2 865.6l-.7 .1M656.8 865.4l-.7 .2M665.4 865.3l-.7 .2M674.4 865l-.7 .3M683.6 864.5l-.7 .4M692.4 864.1l-.7 .4M701.1 863.6l-.6 .5M709.5 863.3l-.6 .6M717.9 863.1l-.5 .6M726.3 862.9l-.5 .7M734.7 862.7l-.4 .7M743.1 862.6l-.4 .7M751.5 862.5l-.3 .7M759.9 862.5l-.3 .7M768.4 862.5l-.2 .8M776.9 862.4l-.2 .8M785.3 862.4l-.2 .8M793.8 862.4l-.2 .8M802.3 862.3l-.1 .8M810.9 862.3l-.1 .8M819.4 862.4l-.1 .8M827.9 862.5l-.1 .8M836.4 862.6l-.1 .8M845 862.8l0 .8M853.5 862.9l0 .8M862.1 863l0 .8M870.7 863l0 .8M879.2 863l0 .8M887.8 863l0 .8M896.4 863l0 .8M905 863l0 .8M913.5 863l0 .8M922.1 863l0 .8M579.2 874.9l-.7-.3M587.8 874.8l-.7-.2M596.4 874.7l-.7-.2M605.1 874.7l-.7-.2M613.8 874.6l-.8-.1M622.5 874.5l-.8-.1M631.4 874.4l-.8 0M640 874.2l-.8 .1M648.3 874.1l-.8 .1M656.8 874l-.7 .2M665.5 873.9l-.8 .3M674.7 873.5l-.7 .3M683.7 873.1l-.7 .4M692.5 872.7l-.7 .4M701.1 872.3l-.6 .5M709.6 872l-.6 .5M718 871.8l-.5 .6M726.4 871.6l-.5 .6M734.8 871.5l-.4 .7M743.2 871.4l-.4 .7M751.6 871.3l-.4 .7M760.1 871.2l-.3 .7M768.5 871.1l-.3 .7M777 871.1l-.2 .8M785.5 871l-.2 .8M794 871l-.2 .8M802.5 871l-.2 .8M811 871.1l-.1 .8M819.5 871.3l-.1 .8M828 871.5l-.1 .8M836.5 871.5l-.1 .8M845.1 871.6l-.1 .8M853.6 871.6l-.1 .8M862.2 871.7l0 .8M870.7 871.7l0 .8M879.3 871.6l0 .8M887.9 871.6l0 .8M896.5 871.6l0 .8M905 871.6l0 .8M913.6 871.6l0 .8M922.2 871.6l0 .8M578.7 883.3l-.5-.2M587.5 883.3l-.6-.2M596.4 883.3l-.7-.2M605.1 883.2l-.7-.1M613.8 883.1l-.8-.1M622.9 883.1l-.8 0M632.1 882.9l-.8 0M640.5 882.8l-.8 .1M648.4 882.7l-.8 .1M656.8 882.6l-.7 .2M665.8 882.4l-.8 .2M675 882l-.7 .3M683.8 881.7l-.7 .4M692.5 881.3l-.7 .4M701.2 880.9l-.6 .5M709.6 880.7l-.6 .5M718 880.5l-.6 .6M726.5 880.3l-.5 .6M734.9 880.2l-.5 .7M743.3 880.1l-.4 .7M751.8 880l-.4 .7M760.2 879.9l-.3 .7M768.7 879.8l-.3 .7M777.1 879.8l-.3 .7M785.6 879.7l-.3 .8M794.1 879.7l-.2 .8M802.6 879.8l-.2 .8M811 880l-.2 .8M819.5 880.2l-.2 .8M828.1 880.2l-.1 .8M836.6 880.2l-.1 .8M845.2 880.2l-.1 .8M853.7 880.2l-.1 .8M862.3 880.3l-.1 .8M870.8 880.2l-.1 .8M879.4 880.2l0 .8M888 880.2l0 .8M896.5 880.2l0 .8M905.1 880.2l0 .8M913.7 880.2l0 .8M922.3 880.2l0 .8M578.5 891.8l-.4-.1M587.2 891.8l-.4-.1M596 891.8l-.5-.1M604.8 891.7l-.6-.1M613.7 891.7l-.7-.1M622.8 891.6l-.8 0M632.2 891.5l-.8 0M640.8 891.3l-.8 .1M648.7 891.2l-.8 .2M657 891.2l-.8 .2M666.1 890.9l-.8 .2M675.2 890.6l-.7 .3M683.7 890.4l-.7 .3M692.4 890.1l-.7 .4M701.1 889.7l-.7 .5M709.7 889.4l-.6 .5M718.1 889.2l-.6 .6M726.5 889l-.5 .6M735 888.9l-.5 .6M743.4 888.7l-.4 .7M751.9 888.6l-.4 .7M760.3 888.6l-.4 .7M768.8 888.5l-.3 .7M777.3 888.4l-.3 .7M785.7 888.4l-.3 .7M794.2 888.4l-.3 .8M802.7 888.5l-.2 .8M811.1 888.8l-.2 .8M819.6 888.9l-.2 .8M828.2 888.9l-.2 .8M836.7 888.9l-.1 .8M845.2 888.9l-.1 .8M853.8 888.8l-.1 .8M862.4 888.8l-.1 .8M870.9 888.8l-.1 .8M879.5 888.8l-.1 .8M888.1 888.8l-.1 .8M896.6 888.8l0 .8M905.2 888.8l0 .8M913.8 888.8l0 .8M922.3 888.8l0 .8M578.5 900.4l-.4-.1M587.2 900.4l-.4-.1M596 900.4l-.5-.1M604.5 900.3l-.5 0M613.3 900.3l-.6 0M622.4 900.2l-.8 0M631.8 900l-.8 .1M640.8 899.8l-.8 .1M649 899.8l-.8 .2M657.2 899.7l-.8 .2M666.5 899.5l-.8 .2M675.2 899.2l-.7 .3M683.7 899l-.7 .3M692.3 898.8l-.7 .4M700.9 898.5l-.7 .5M709.6 898.1l-.6 .5M718.2 897.9l-.6 .5M726.6 897.7l-.5 .6M735.1 897.6l-.5 .6M743.5 897.4l-.5 .6M752 897.3l-.4 .7M760.4 897.2l-.4 .7M768.9 897.2l-.4 .7M777.4 897.1l-.3 .7M785.9 897l-.3 .7M794.3 897.1l-.3 .7M802.7 897.4l-.3 .8M811.2 897.5l-.2 .8M819.7 897.5l-.2 .8M828.2 897.5l-.2 .8M836.8 897.5l-.2 .8M845.3 897.5l-.2 .8M853.9 897.5l-.1 .8M862.4 897.5l-.1 .8M871 897.5l-.1 .8M879.6 897.5l-.1 .8M888.1 897.4l-.1 .8M896.7 897.4l-.1 .8M905.3 897.4l-.1 .8M913.8 897.4l0 .8M922.4 897.4l0 .8M578.5 909l-.4-.1M587.1 908.9l-.4-.1M595.9 908.9l-.5-.1M604.7 908.9l-.5 0M613.2 908.9l-.5 0M622.3 908.8l-.7 0M631.6 908.6l-.8 .1M640.7 908.4l-.8 .1M648.9 908.4l-.8 .2M657.6 908.3l-.8 .2M666.6 908.1l-.8 .2M675.2 907.8l-.7 .3M683.7 907.6l-.7 .3M692.2 907.5l-.7 .4M700.8 907.3l-.7 .4M709.4 907l-.6 .5M718.1 906.7l-.6 .5M726.7 906.4l-.6 .6M735.1 906.2l-.5 .6M743.6 906.1l-.5 .6M752.1 906l-.5 .7M760.5 905.9l-.4 .7M769 905.8l-.4 .7M777.4 905.9l-.4 .7M785.9 905.9l-.3 .7M794.3 906l-.3 .7M802.8 906.2l-.3 .7M811.3 906.2l-.3 .8M819.8 906.2l-.2 .8M828.3 906.2l-.2 .8M836.9 906.1l-.2 .8M845.4 906.1l-.2 .8M854 906.1l-.2 .8M862.5 906.1l-.1 .8M871.1 906.1l-.1 .8M879.6 906.1l-.1 .8M888.2 906.1l-.1 .8M896.8 906.1l-.1 .8M905.3 906.1l-.1 .8M913.9 906.1l-.1 .8M922.5 906.1l-.1 .8M578.5 917.6l-.4-.1M587.2 917.6l-.4-.1M595.9 917.5l-.5 0M604.6 917.5l-.5 0M613.2 917.5l-.5 0M622.3 917.4l-.7 0M631.6 917.2l-.8 .1M640.6 917l-.8 .1M648.8 917l-.8 .2M657.9 916.9l-.8 .2M666.7 916.6l-.8 .2M675.2 916.5l-.7 .3M683.7 916.3l-.7 .3M692.3 916.1l-.7 .4M700.8 915.9l-.7 .4M709.3 915.8l-.6 .5M717.9 915.6l-.6 .5M726.5 915.3l-.6 .6M735.1 915l-.5 .6M743.7 914.8l-.5 .6M752.1 914.7l-.5 .6M760.6 914.6l-.4 .7M769 914.7l-.4 .7M777.4 914.8l-.4 .7M785.8 914.9l-.4 .7M794.3 914.9l-.3 .7M802.8 914.9l-.3 .7M811.3 914.9l-.3 .7M819.9 914.8l-.3 .8M828.4 914.8l-.2 .8M837 914.8l-.2 .8M845.5 914.8l-.2 .8M854 914.7l-.2 .8M862.6 914.7l-.2 .8M871.2 914.7l-.1 .8M879.7 914.7l-.1 .8M888.3 914.7l-.1 .8M896.8 914.7l-.1 .8M905.4 914.7l-.1 .8M914 914.7l-.1 .8M922.6 914.7l-.1 .8M578.5 926.2l-.4-.1M587.2 926.2l-.5 0M596 926.1l-.5 0M604.6 926.1l-.5 0M613.1 926.1l-.5 0M622.3 926l-.7 .1M631.7 925.8l-.8 .1M640.4 925.7l-.8 .1M649 925.6l-.8 .2M657.9 925.5l-.8 .2M666.6 925.3l-.8 .2M675.2 925.1l-.7 .3M683.7 924.9l-.7 .3M692.3 924.7l-.7 .4M700.8 924.6l-.7 .4M709.3 924.4l-.6 .5M717.8 924.3l-.6 .5M726.3 924.1l-.6 .5M734.9 923.9l-.6 .6M743.6 923.7l-.5 .6M752 923.6l-.5 .6M760.5 923.6l-.5 .7M768.9 923.6l-.4 .7M777.3 923.7l-.4 .7M785.8 923.6l-.4 .7M794.4 923.6l-.3 .7M802.9 923.5l-.3 .7M811.4 923.5l-.3 .7M819.9 923.5l-.3 .8M828.5 923.4l-.3 .8M837 923.4l-.2 .8M845.6 923.4l-.2 .8M854.1 923.4l-.2 .8M862.7 923.4l-.2 .8M871.2 923.4l-.2 .8M879.8 923.3l-.2 .8M888.3 923.3l-.1 .8M896.9 923.3l-.1 .8M905.5 923.3l-.1 .8M914 923.3l-.1 .8M922.6 923.3l-.1 .8M578.6 934.8l-.5-.1M587.3 934.8l-.5 0M595.9 934.7l-.5 0M604.5 934.7l-.5 0M613.2 934.7l-.5 0M622.6 934.5l-.8 .1M631.7 934.4l-.8 .1M640.2 934.3l-.8 .2M648.9 934.3l-.8 .2M657.6 934.1l-.8 .2M666.5 933.9l-.8 .2M675.2 933.7l-.7 .3M683.7 933.5l-.7 .3M692.3 933.4l-.7 .4M700.8 933.2l-.7 .4M709.3 933.1l-.7 .5M717.8 933l-.6 .5M726.3 932.8l-.6 .5M734.9 932.7l-.6 .6M743.4 932.6l-.5 .6M751.9 932.5l-.5 .6M760.4 932.4l-.5 .6M768.9 932.4l-.4 .7M777.4 932.3l-.4 .7M785.9 932.3l-.4 .7M794.4 932.2l-.4 .7M803 932.2l-.3 .7M811.5 932.1l-.3 .7M820 932.1l-.3 .7M828.6 932.1l-.3 .8M837.1 932.1l-.3 .8M845.6 932l-.2 .8M854.2 932l-.2 .8M862.7 932l-.2 .8M871.3 932l-.2 .8M879.9 932l-.2 .8M888.4 932l-.2 .8M897 932l-.1 .8M905.5 932l-.1 .8M914.1 932l-.1 .8M922.7 932.1l-.1 .8M578.7 943.4l-.5 0M587.5 943.4l-.6 0M595.9 943.3l-.5 0M604.4 943.3l-.4 0M613.5 943.2l-.6 0M622.8 943.1l-.8 .1M631.8 942.9l-.8 .1M640.3 942.9l-.8 .2M648.9 942.9l-.8 .2M657.5 942.8l-.8 .2M666.4 942.5l-.8 .2M675.2 942.3l-.7 .3M683.7 942.1l-.7 .3M692.3 942l-.7 .4M700.8 941.9l-.7 .4M709.3 941.7l-.7 .5M717.9 941.6l-.6 .5M726.4 941.5l-.6 .5M734.9 941.4l-.6 .6M743.4 941.3l-.5 .6M751.9 941.2l-.5 .6M760.4 941.1l-.5 .6M768.9 941.1l-.5 .7M777.4 941l-.4 .7M786 940.9l-.4 .7M794.5 940.9l-.4 .7M803 940.8l-.4 .7M811.6 940.8l-.3 .7M820.1 940.8l-.3 .7M828.6 940.7l-.3 .7M837.2 940.7l-.3 .8M845.7 940.7l-.3 .8M854.3 940.7l-.2 .8M862.8 940.6l-.2 .8M871.4 940.6l-.2 .8M879.9 940.6l-.2 .8M888.5 940.6l-.2 .8M897 940.6l-.2 .8M905.6 940.6l-.2 .8M914.2 940.7l-.1 .8M922.7 941l-.1 .8" stroke="#0a0000" stroke-width="2.05" stroke-linecap="round" fill="none"/>
</g>
<path d="M577.30,583.80V588.30M577.30,945.50V950.00" stroke="#777" stroke-width="0.9" fill="none"/>
<path d="M631.10,583.80V588.30M631.10,945.50V950.00" stroke="#777" stroke-width="0.9" fill="none"/>
<path d="M684.90,583.80V588.30M684.90,945.50V950.00" stroke="#777" stroke-width="0.9" fill="none"/>
<path d="M738.70,583.80V588.30M738.70,945.50V950.00" stroke="#777" stroke-width="0.9" fill="none"/>
<path d="M792.25,583.80V588.30M792.25,945.50V950.00" stroke="#777" stroke-width="0.9" fill="none"/>
<path d="M846.25,583.80V588.30M846.25,945.50V950.00" stroke="#777" stroke-width="0.9" fill="none"/>
<path d="M900.00,583.80V588.30M900.00,945.50V950.00" stroke="#777" stroke-width="0.9" fill="none"/>
<path d="M566.50,606.75H571.00M927.00,606.75H931.50" stroke="#777" stroke-width="0.9" fill="none"/>
<path d="M566.50,660.25H571.00M927.00,660.25H931.50" stroke="#777" stroke-width="0.9" fill="none"/>
<path d="M566.50,714.25H571.00M927.00,714.25H931.50" stroke="#777" stroke-width="0.9" fill="none"/>
<path d="M566.50,768.00H571.00M927.00,768.00H931.50" stroke="#777" stroke-width="0.9" fill="none"/>
<path d="M566.50,821.60H571.00M927.00,821.60H931.50" stroke="#777" stroke-width="0.9" fill="none"/>
<path d="M566.50,875.30H571.00M927.00,875.30H931.50" stroke="#777" stroke-width="0.9" fill="none"/>
<path d="M566.50,929.00H571.00M927.00,929.00H931.50" stroke="#777" stroke-width="0.9" fill="none"/>
<rect x="571.00" y="588.30" width="356.00" height="357.20" fill="none" stroke="#777" stroke-width="1"/>
<text transform="translate(555.30,967.75) scale(1.1000,1)" font-size="18" fill="#111">500</text>
<text transform="translate(609.10,967.75) scale(1.1000,1)" font-size="18" fill="#111">600</text>
<text transform="translate(662.90,967.75) scale(1.1000,1)" font-size="18" fill="#111">700</text>
<text transform="translate(716.70,967.75) scale(1.1000,1)" font-size="18" fill="#111">800</text>
<text transform="translate(770.25,967.75) scale(1.1000,1)" font-size="18" fill="#111">900</text>
<text transform="translate(824.25,967.75) scale(1.1000,1)" font-size="18" fill="#111">1000</text>
<text transform="translate(878.00,967.75) scale(1.1000,1)" font-size="18" fill="#111">1100</text>
<text transform="translate(528.18,609.15) scale(1.1000,1)" font-size="18" fill="#111">500</text>
<text transform="translate(528.18,662.65) scale(1.1000,1)" font-size="18" fill="#111">400</text>
<text transform="translate(528.18,716.65) scale(1.1000,1)" font-size="18" fill="#111">300</text>
<text transform="translate(528.18,770.40) scale(1.1000,1)" font-size="18" fill="#111">200</text>
<text transform="translate(528.18,824.00) scale(1.1000,1)" font-size="18" fill="#111">100</text>
<text transform="translate(550.26,877.70) scale(1.1000,1)" font-size="18" fill="#111">0</text>
<text transform="translate(521.65,931.40) scale(1.1000,1)" font-size="18" fill="#111">-100</text>
<path d="M538.79,549.18 L548.75,549.18 C555.00,549.18 557.93,553.28 557.93,559.41 C557.93,565.59 555.00,569.69 548.75,569.69 L538.79,569.69 Z M545.04,553.87 L547.97,553.87 C550.51,553.87 551.68,556.02 551.68,559.41 C551.68,562.85 550.51,565.00 547.97,565.00 L545.04,565.00 Z" fill="#000" fill-rule="evenodd"/>
<text transform="translate(578.25,557.25) scale(1.1161,1)" font-size="18.3" fill="#111">Aug 28, 2011</text>
<text transform="translate(580.00,579.00) scale(1.0905,1)" font-size="18.3" fill="#111">1200 UTC</text>
<text transform="translate(669.00,988.50) scale(1.0483,1)" font-size="19.5" fill="#111">LCC East (km)</text>
<text transform="translate(512.50,839.00) rotate(-90) scale(1.0403,1)" font-size="19.5" fill="#111">LCC North (km)</text>
<text transform="translate(580.00,1011.50) scale(1.0066,1)" font-size="10.2" fill="#222">LCC Origin: 38.50N, 83.00W</text>
<text transform="translate(580.00,1023.50) scale(1.0003,1)" font-size="10.2" fill="#222">Matching Parallels: 28.50N, 48.50N</text>
<text transform="translate(580.00,1037.25) scale(0.9966,1)" font-size="10.2" fill="#222">Datum: NWS-84</text>
<rect x="942.25" y="613.50" width="15.75" height="17.28" fill="#9900cc" stroke="#555" stroke-width="0.6"/>
<text transform="translate(963.75,633.08) scale(1.0800,1)" font-size="18" fill="#111">75</text>
<rect x="942.25" y="630.78" width="15.75" height="17.28" fill="#cc33ff" stroke="#555" stroke-width="0.6"/>
<text transform="translate(963.75,650.37) scale(1.0800,1)" font-size="18" fill="#111">70</text>
<rect x="942.25" y="648.07" width="15.75" height="17.28" fill="#cc99cc" stroke="#555" stroke-width="0.6"/>
<text transform="translate(963.75,667.65) scale(1.0800,1)" font-size="18" fill="#111">65</text>
<rect x="942.25" y="665.35" width="15.75" height="17.28" fill="#ff99ff" stroke="#555" stroke-width="0.6"/>
<text transform="translate(963.75,684.93) scale(1.0800,1)" font-size="18" fill="#111">60</text>
<rect x="942.25" y="682.63" width="15.75" height="17.28" fill="#ffcccc" stroke="#555" stroke-width="0.6"/>
<text transform="translate(963.75,702.22) scale(1.0800,1)" font-size="18" fill="#111">55</text>
<rect x="942.25" y="699.92" width="15.75" height="17.28" fill="#ffcc99" stroke="#555" stroke-width="0.6"/>
<text transform="translate(963.75,719.50) scale(1.0800,1)" font-size="18" fill="#111">50</text>
<rect x="942.25" y="717.20" width="15.75" height="17.28" fill="#cc6633" stroke="#555" stroke-width="0.6"/>
<text transform="translate(963.75,736.78) scale(1.0800,1)" font-size="18" fill="#111">45</text>
<rect x="942.25" y="734.48" width="15.75" height="17.28" fill="#ff6633" stroke="#555" stroke-width="0.6"/>
<text transform="translate(963.75,754.07) scale(1.0800,1)" font-size="18" fill="#111">40</text>
<rect x="942.25" y="751.77" width="15.75" height="17.28" fill="#ff9933" stroke="#555" stroke-width="0.6"/>
<text transform="translate(963.75,771.35) scale(1.0800,1)" font-size="18" fill="#111">35</text>
<rect x="942.25" y="769.05" width="15.75" height="17.28" fill="#ffcc00" stroke="#555" stroke-width="0.6"/>
<text transform="translate(963.75,788.63) scale(1.0800,1)" font-size="18" fill="#111">30</text>
<rect x="942.25" y="786.33" width="15.75" height="17.28" fill="#ff9999" stroke="#555" stroke-width="0.6"/>
<text transform="translate(963.75,805.92) scale(1.0800,1)" font-size="18" fill="#111">25</text>
<rect x="942.25" y="803.62" width="15.75" height="17.28" fill="#ffcc99" stroke="#555" stroke-width="0.6"/>
<text transform="translate(963.75,823.20) scale(1.0800,1)" font-size="18" fill="#111">20</text>
<rect x="942.25" y="820.90" width="15.75" height="17.28" fill="#99cc99" stroke="#555" stroke-width="0.6"/>
<text transform="translate(963.75,840.48) scale(1.0800,1)" font-size="18" fill="#111">15</text>
<rect x="942.25" y="838.18" width="15.75" height="17.28" fill="#99ff99" stroke="#555" stroke-width="0.6"/>
<text transform="translate(963.75,857.77) scale(1.0800,1)" font-size="18" fill="#111">10</text>
<rect x="942.25" y="855.47" width="15.75" height="17.28" fill="#ffffff" stroke="#555" stroke-width="0.6"/>
<text transform="translate(963.75,875.05) scale(1.0800,1)" font-size="18" fill="#111">0</text>
<text transform="translate(940.50,898.50) scale(1.0800,1)" font-size="15.8" fill="#111">Wind</text>
<text transform="translate(940.50,920.25) scale(1.0800,1)" font-size="15.8" fill="#111">Speed</text>
<text transform="translate(940.50,942.00) scale(1.0800,1)" font-size="15.8" fill="#111">(m/s)</text>
<text transform="translate(869.25,1009.50) scale(1.0989,1)" font-size="16.2" fill="#111">Wind Speed (m/s)</text>
<text transform="translate(930.50,1029.00) scale(1.0800,1)" font-size="16.2" fill="#111">5</text>
<circle cx="917.00" cy="1028.80" r="0.95" fill="#000"/>
<path d="M917.00,1028.80h-0.70" stroke="#000" stroke-width="0.7"/>
<text transform="translate(930.50,1045.25) scale(1.0800,1)" font-size="16.2" fill="#111">10</text>
<circle cx="917.50" cy="1042.10" r="0.95" fill="#000"/>
<path d="M917.50,1042.10h-1.80" stroke="#000" stroke-width="0.7"/>
<text transform="translate(930.50,1061.50) scale(1.0800,1)" font-size="16.2" fill="#111">15</text>
<circle cx="918.50" cy="1055.40" r="0.95" fill="#000"/>
<path d="M918.50,1055.40h-3.40" stroke="#000" stroke-width="0.7"/>
</svg></body></html>
